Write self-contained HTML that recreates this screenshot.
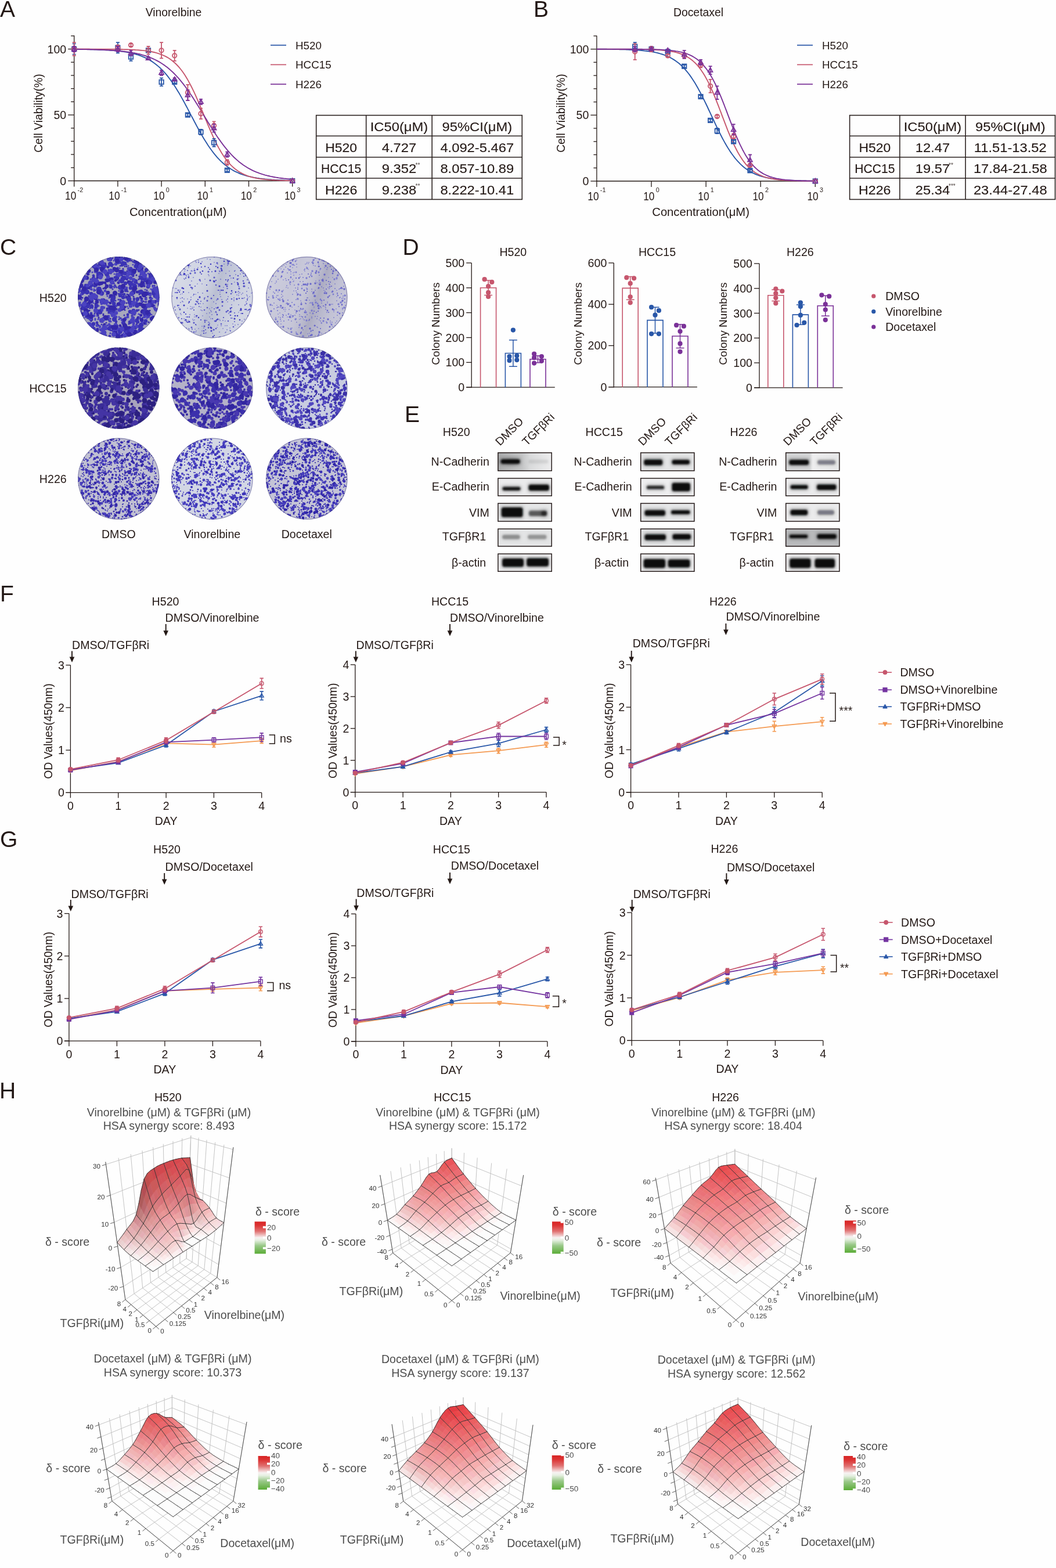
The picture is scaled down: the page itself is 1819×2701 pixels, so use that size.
<!DOCTYPE html><html><head><meta charset="utf-8"><title>Figure</title><style>html,body{margin:0;padding:0;background:#fefefe;}svg{display:block;}text{font-family:"Liberation Sans",Arial,sans-serif;}</style></head><body><svg width="1819" height="2701" viewBox="0 0 1819 2701" font-family='"Liberation Sans", Arial, sans-serif' font-size="19.6" fill="#231815"><defs><clipPath id="pc1"><circle cx="204.3" cy="512.2" r="70.2"/></clipPath><clipPath id="pc2"><circle cx="365.4" cy="512.2" r="70.2"/></clipPath><linearGradient id="ps2" x1="0" y1="0" x2="1" y2="0.35"><stop offset="0" stop-color="#ffffff" stop-opacity="0.2"/><stop offset="0.3" stop-color="#ffffff" stop-opacity="0.0"/><stop offset="0.62" stop-color="#8088a8" stop-opacity="0.3"/><stop offset="1" stop-color="#c0c4d8" stop-opacity="0.05"/></linearGradient><clipPath id="pc3"><circle cx="528.3" cy="512.2" r="70.2"/></clipPath><linearGradient id="ps3" x1="0" y1="0" x2="1" y2="0.35"><stop offset="0" stop-color="#ffffff" stop-opacity="0.2"/><stop offset="0.4" stop-color="#ffffff" stop-opacity="0.0"/><stop offset="0.72" stop-color="#7c7c98" stop-opacity="0.35"/><stop offset="1" stop-color="#c0c0d4" stop-opacity="0.1"/></linearGradient><clipPath id="pc4"><circle cx="204.3" cy="668.6" r="70.2"/></clipPath><clipPath id="pc5"><circle cx="365.4" cy="668.6" r="70.2"/></clipPath><clipPath id="pc6"><circle cx="528.3" cy="668.6" r="70.2"/></clipPath><clipPath id="pc7"><circle cx="204.3" cy="824.8" r="70.2"/></clipPath><clipPath id="pc8"><circle cx="365.4" cy="824.8" r="70.2"/></clipPath><clipPath id="pc9"><circle cx="528.3" cy="824.8" r="70.2"/></clipPath><filter id="bblur" x="-10%" y="-40%" width="120%" height="180%"><feGaussianBlur stdDeviation="1.4"/></filter><filter id="bhalo" x="-30%" y="-100%" width="160%" height="300%"><feGaussianBlur stdDeviation="2.6"/></filter><clipPath id="bc857_0"><rect x="857.2" y="779.2" width="93.7" height="32.4"/></clipPath><clipPath id="bc857_1"><rect x="857.2" y="823.2" width="93.7" height="31.6"/></clipPath><clipPath id="bc857_2"><rect x="857.2" y="866.4" width="93.7" height="32.3"/></clipPath><clipPath id="bc857_3"><rect x="857.2" y="910.4" width="93.7" height="31.3"/></clipPath><clipPath id="bc857_4"><rect x="857.2" y="953.4" width="93.7" height="31.6"/></clipPath><clipPath id="bc1103_0"><rect x="1103" y="779.2" width="93.6" height="32.4"/></clipPath><clipPath id="bc1103_1"><rect x="1103" y="823.2" width="93.6" height="31.6"/></clipPath><clipPath id="bc1103_2"><rect x="1103" y="866.4" width="93.6" height="32.3"/></clipPath><clipPath id="bc1103_3"><rect x="1103" y="910.4" width="93.6" height="31.3"/></clipPath><clipPath id="bc1103_4"><rect x="1103" y="953.4" width="93.6" height="31.6"/></clipPath><clipPath id="bc1353_0"><rect x="1353" y="779.2" width="93.6" height="32.4"/></clipPath><clipPath id="bc1353_1"><rect x="1353" y="823.2" width="93.6" height="31.6"/></clipPath><clipPath id="bc1353_2"><rect x="1353" y="866.4" width="93.6" height="32.3"/></clipPath><clipPath id="bc1353_3"><rect x="1353" y="910.4" width="93.6" height="31.3"/></clipPath><clipPath id="bc1353_4"><rect x="1353" y="953.4" width="93.6" height="31.6"/></clipPath><linearGradient id="gN520" x1="0" y1="0" x2="1" y2="0"><stop offset="0" stop-color="#a9aaab"/><stop offset="0.45" stop-color="#c4c5c6"/><stop offset="0.6" stop-color="#dadbdc"/><stop offset="1" stop-color="#eeeeef"/></linearGradient><linearGradient id="gN226" x1="0" y1="0" x2="1" y2="0"><stop offset="0" stop-color="#d5d6d7"/><stop offset="0.45" stop-color="#d5d6d7"/><stop offset="0.5" stop-color="#eeeeef"/><stop offset="1" stop-color="#e6e7e8"/></linearGradient><linearGradient id="cbg" x1="0" y1="0" x2="0" y2="1"><stop offset="0" stop-color="#d82424"/><stop offset="0.12" stop-color="#dc3434"/><stop offset="0.3" stop-color="#e07070"/><stop offset="0.5" stop-color="#f7f2f2"/><stop offset="0.58" stop-color="#e6f0e2"/><stop offset="0.75" stop-color="#99c888"/><stop offset="1" stop-color="#5aac36"/></linearGradient></defs><rect width="1819" height="2701" fill="#fefefe"/><text x="0" y="28.7" font-size="39">A</text>
<text x="919" y="29" font-size="39">B</text>
<text x="0" y="438.8" font-size="39">C</text>
<text x="693.5" y="439.2" font-size="39">D</text>
<text x="697" y="727.3" font-size="39">E</text>
<text x="0" y="1035.8" font-size="39">F</text>
<text x="0" y="1458.8" font-size="39">G</text>
<text x="-1" y="1891.8" font-size="39">H</text>
<line x1="127.7" y1="61" x2="127.7" y2="311.5" stroke="#231815" stroke-width="1.3"/>
<line x1="127" y1="311.5" x2="503.7" y2="311.5" stroke="#231815" stroke-width="1.3"/>
<line x1="117.2" y1="311.5" x2="127.7" y2="311.5" stroke="#231815" stroke-width="1.3"/>
<line x1="122.2" y1="288.8" x2="127.7" y2="288.8" stroke="#231815" stroke-width="1.3"/>
<line x1="122.2" y1="266.1" x2="127.7" y2="266.1" stroke="#231815" stroke-width="1.3"/>
<line x1="122.2" y1="243.4" x2="127.7" y2="243.4" stroke="#231815" stroke-width="1.3"/>
<line x1="122.2" y1="220.7" x2="127.7" y2="220.7" stroke="#231815" stroke-width="1.3"/>
<line x1="117.2" y1="198" x2="127.7" y2="198" stroke="#231815" stroke-width="1.3"/>
<line x1="122.2" y1="175.3" x2="127.7" y2="175.3" stroke="#231815" stroke-width="1.3"/>
<line x1="122.2" y1="152.6" x2="127.7" y2="152.6" stroke="#231815" stroke-width="1.3"/>
<line x1="122.2" y1="129.9" x2="127.7" y2="129.9" stroke="#231815" stroke-width="1.3"/>
<line x1="122.2" y1="107.2" x2="127.7" y2="107.2" stroke="#231815" stroke-width="1.3"/>
<line x1="117.2" y1="84.5" x2="127.7" y2="84.5" stroke="#231815" stroke-width="1.3"/>
<line x1="122.2" y1="61.8" x2="127.7" y2="61.8" stroke="#231815" stroke-width="1.3"/>
<text x="114.2" y="318.5" text-anchor="end">0</text>
<text x="114.2" y="205" text-anchor="end">50</text>
<text x="114.2" y="91.5" text-anchor="end">100</text>
<line x1="127.7" y1="311.5" x2="127.7" y2="321.5" stroke="#231815" stroke-width="1.3"/>
<text x="112.1" y="344" textLength="19.2" lengthAdjust="spacingAndGlyphs">10</text>
<text x="133.6" y="330.5" font-size="10.8">-2</text>
<line x1="202.9" y1="311.5" x2="202.9" y2="321.5" stroke="#231815" stroke-width="1.3"/>
<text x="187.3" y="344" textLength="19.2" lengthAdjust="spacingAndGlyphs">10</text>
<text x="208.8" y="330.5" font-size="10.8">-1</text>
<line x1="278.1" y1="311.5" x2="278.1" y2="321.5" stroke="#231815" stroke-width="1.3"/>
<text x="264.3" y="344" textLength="19.2" lengthAdjust="spacingAndGlyphs">10</text>
<text x="285.8" y="330.5" font-size="10.8">0</text>
<line x1="353.3" y1="311.5" x2="353.3" y2="321.5" stroke="#231815" stroke-width="1.3"/>
<text x="339.5" y="344" textLength="19.2" lengthAdjust="spacingAndGlyphs">10</text>
<text x="361" y="330.5" font-size="10.8">1</text>
<line x1="428.5" y1="311.5" x2="428.5" y2="321.5" stroke="#231815" stroke-width="1.3"/>
<text x="414.7" y="344" textLength="19.2" lengthAdjust="spacingAndGlyphs">10</text>
<text x="436.2" y="330.5" font-size="10.8">2</text>
<line x1="503.7" y1="311.5" x2="503.7" y2="321.5" stroke="#231815" stroke-width="1.3"/>
<text x="489.9" y="344" textLength="19.2" lengthAdjust="spacingAndGlyphs">10</text>
<text x="511.4" y="330.5" font-size="10.8">3</text>
<text x="306.7" y="371.5" font-size="20.2" text-anchor="middle">Concentration(μM)</text>
<text transform="translate(72.9,195) rotate(-90)" text-anchor="middle" font-size="19.4">Cell Viability(%)</text>
<text x="299" y="28" font-size="19.4" text-anchor="middle">Vinorelbine</text>
<path d="M127.7,84.8 L130.1,84.8 L132.4,84.8 L134.8,84.8 L137.1,84.9 L139.4,84.9 L141.8,84.9 L144.2,85 L146.5,85 L148.8,85 L151.2,85.1 L153.6,85.1 L155.9,85.2 L158.2,85.2 L160.6,85.3 L162.9,85.3 L165.3,85.4 L167.7,85.5 L170,85.6 L172.3,85.7 L174.7,85.8 L177.1,85.9 L179.4,86 L181.8,86.1 L184.1,86.2 L186.4,86.4 L188.8,86.5 L191.2,86.7 L193.5,86.9 L195.9,87 L198.2,87.3 L200.6,87.5 L202.9,87.7 L205.2,88 L207.6,88.3 L209.9,88.6 L212.3,88.9 L214.7,89.2 L217,89.6 L219.4,90 L221.7,90.5 L224.1,91 L226.4,91.5 L228.8,92 L231.1,92.6 L233.4,93.3 L235.8,94 L238.2,94.7 L240.5,95.5 L242.9,96.4 L245.2,97.3 L247.6,98.3 L249.9,99.4 L252.2,100.5 L254.6,101.7 L256.9,103 L259.3,104.4 L261.7,105.9 L264,107.5 L266.4,109.2 L268.7,111 L271.1,112.9 L273.4,114.9 L275.8,117 L278.1,119.3 L280.4,121.7 L282.8,124.2 L285.2,126.9 L287.5,129.7 L289.9,132.6 L292.2,135.7 L294.6,138.9 L296.9,142.2 L299.2,145.7 L301.6,149.3 L303.9,153 L306.3,156.9 L308.7,160.8 L311,164.9 L313.4,169.1 L315.7,173.3 L318.1,177.6 L320.4,182 L322.8,186.4 L325.1,190.9 L327.4,195.4 L329.8,199.9 L332.2,204.3 L334.5,208.8 L336.9,213.2 L339.2,217.6 L341.6,222 L343.9,226.2 L346.2,230.4 L348.6,234.5 L350.9,238.4 L353.3,242.3 L355.7,246 L358,249.7 L360.4,253.2 L362.7,256.5 L365.1,259.8 L367.4,262.9 L369.8,265.8 L372.1,268.6 L374.4,271.3 L376.8,273.9 L379.2,276.3 L381.5,278.6 L383.9,280.7 L386.2,282.8 L388.6,284.7 L390.9,286.5 L393.2,288.2 L395.6,289.8 L397.9,291.3 L400.3,292.7 L402.6,294.1 L405,295.3 L407.4,296.4 L409.7,297.5 L412.1,298.5 L414.4,299.5 L416.8,300.3 L419.1,301.1 L421.4,301.9 L423.8,302.6 L426.1,303.3 L428.5,303.9 L430.9,304.4 L433.2,304.9 L435.6,305.4 L437.9,305.9 L440.2,306.3 L442.6,306.7 L444.9,307 L447.3,307.4 L449.6,307.7 L452,308 L454.4,308.2 L456.7,308.5 L459.1,308.7 L461.4,308.9 L463.8,309.1 L466.1,309.3 L468.4,309.5 L470.8,309.6 L473.1,309.8 L475.5,309.9 L477.9,310 L480.2,310.1 L482.6,310.2 L484.9,310.3 L487.2,310.4 L489.6,310.5 L491.9,310.6 L494.3,310.6 L496.6,310.7 L499,310.8 L501.4,310.8 L503.7,310.9" stroke="#2957a8" stroke-width="1.9" fill="none"/>
<path d="M127.7,84.5 L130.1,84.5 L132.4,84.5 L134.8,84.5 L137.1,84.5 L139.4,84.5 L141.8,84.5 L144.2,84.5 L146.5,84.5 L148.8,84.5 L151.2,84.5 L153.6,84.5 L155.9,84.6 L158.2,84.6 L160.6,84.6 L162.9,84.6 L165.3,84.6 L167.7,84.6 L170,84.6 L172.3,84.6 L174.7,84.6 L177.1,84.6 L179.4,84.6 L181.8,84.7 L184.1,84.7 L186.4,84.7 L188.8,84.7 L191.2,84.7 L193.5,84.8 L195.9,84.8 L198.2,84.8 L200.6,84.9 L202.9,84.9 L205.2,84.9 L207.6,85 L209.9,85 L212.3,85.1 L214.7,85.2 L217,85.2 L219.4,85.3 L221.7,85.4 L224.1,85.5 L226.4,85.6 L228.8,85.7 L231.1,85.8 L233.4,86 L235.8,86.1 L238.2,86.3 L240.5,86.5 L242.9,86.7 L245.2,86.9 L247.6,87.1 L249.9,87.4 L252.2,87.7 L254.6,88.1 L256.9,88.4 L259.3,88.8 L261.7,89.3 L264,89.8 L266.4,90.3 L268.7,90.9 L271.1,91.6 L273.4,92.3 L275.8,93.1 L278.1,94 L280.4,95 L282.8,96 L285.2,97.2 L287.5,98.4 L289.9,99.8 L292.2,101.3 L294.6,103 L296.9,104.7 L299.2,106.7 L301.6,108.8 L303.9,111 L306.3,113.5 L308.7,116.1 L311,119 L313.4,122 L315.7,125.3 L318.1,128.8 L320.4,132.5 L322.8,136.4 L325.1,140.6 L327.4,144.9 L329.8,149.5 L332.2,154.3 L334.5,159.2 L336.9,164.3 L339.2,169.6 L341.6,175.1 L343.9,180.6 L346.2,186.2 L348.6,191.9 L350.9,197.6 L353.3,203.3 L355.7,209 L358,214.6 L360.4,220.2 L362.7,225.6 L365.1,230.9 L367.4,236.1 L369.8,241.1 L372.1,245.9 L374.4,250.5 L376.8,254.9 L379.2,259 L381.5,263 L383.9,266.7 L386.2,270.2 L388.6,273.5 L390.9,276.6 L393.2,279.5 L395.6,282.1 L397.9,284.6 L400.3,286.9 L402.6,289 L405,291 L407.4,292.8 L409.7,294.5 L412.1,296 L414.4,297.4 L416.8,298.7 L419.1,299.8 L421.4,300.9 L423.8,301.9 L426.1,302.8 L428.5,303.6 L430.9,304.3 L433.2,305 L435.6,305.6 L437.9,306.1 L440.2,306.6 L442.6,307.1 L444.9,307.5 L447.3,307.9 L449.6,308.2 L452,308.5 L454.4,308.8 L456.7,309.1 L459.1,309.3 L461.4,309.5 L463.8,309.7 L466.1,309.9 L468.4,310 L470.8,310.2 L473.1,310.3 L475.5,310.4 L477.9,310.5 L480.2,310.6 L482.6,310.7 L484.9,310.8 L487.2,310.8 L489.6,310.9 L491.9,311 L494.3,311 L496.6,311.1 L499,311.1 L501.4,311.1 L503.7,311.2" stroke="#c6566d" stroke-width="1.9" fill="none"/>
<path d="M127.7,84.8 L130.1,84.9 L132.4,84.9 L134.8,84.9 L137.1,85 L139.4,85 L141.8,85 L144.2,85.1 L146.5,85.1 L148.8,85.1 L151.2,85.2 L153.6,85.2 L155.9,85.3 L158.2,85.3 L160.6,85.4 L162.9,85.5 L165.3,85.5 L167.7,85.6 L170,85.7 L172.3,85.8 L174.7,85.8 L177.1,85.9 L179.4,86 L181.8,86.2 L184.1,86.3 L186.4,86.4 L188.8,86.5 L191.2,86.7 L193.5,86.8 L195.9,87 L198.2,87.2 L200.6,87.3 L202.9,87.5 L205.2,87.8 L207.6,88 L209.9,88.2 L212.3,88.5 L214.7,88.8 L217,89.1 L219.4,89.4 L221.7,89.7 L224.1,90.1 L226.4,90.4 L228.8,90.9 L231.1,91.3 L233.4,91.8 L235.8,92.2 L238.2,92.8 L240.5,93.3 L242.9,93.9 L245.2,94.6 L247.6,95.3 L249.9,96 L252.2,96.7 L254.6,97.6 L256.9,98.4 L259.3,99.4 L261.7,100.3 L264,101.4 L266.4,102.5 L268.7,103.6 L271.1,104.9 L273.4,106.2 L275.8,107.5 L278.1,109 L280.4,110.5 L282.8,112.1 L285.2,113.9 L287.5,115.6 L289.9,117.5 L292.2,119.5 L294.6,121.6 L296.9,123.7 L299.2,126 L301.6,128.4 L303.9,130.9 L306.3,133.4 L308.7,136.1 L311,138.9 L313.4,141.8 L315.7,144.7 L318.1,147.8 L320.4,151 L322.8,154.2 L325.1,157.6 L327.4,161 L329.8,164.5 L332.2,168.1 L334.5,171.7 L336.9,175.4 L339.2,179.2 L341.6,183 L343.9,186.8 L346.2,190.6 L348.6,194.5 L350.9,198.4 L353.3,202.3 L355.7,206.1 L358,210 L360.4,213.8 L362.7,217.6 L365.1,221.3 L367.4,225 L369.8,228.6 L372.1,232.2 L374.4,235.7 L376.8,239.1 L379.2,242.4 L381.5,245.7 L383.9,248.8 L386.2,251.9 L388.6,254.8 L390.9,257.7 L393.2,260.4 L395.6,263.1 L397.9,265.7 L400.3,268.1 L402.6,270.5 L405,272.7 L407.4,274.9 L409.7,276.9 L412.1,278.9 L414.4,280.7 L416.8,282.5 L419.1,284.2 L421.4,285.8 L423.8,287.3 L426.1,288.7 L428.5,290.1 L430.9,291.4 L433.2,292.6 L435.6,293.8 L437.9,294.8 L440.2,295.9 L442.6,296.8 L444.9,297.7 L447.3,298.6 L449.6,299.4 L452,300.2 L454.4,300.9 L456.7,301.6 L459.1,302.2 L461.4,302.8 L463.8,303.3 L466.1,303.9 L468.4,304.3 L470.8,304.8 L473.1,305.2 L475.5,305.6 L477.9,306 L480.2,306.4 L482.6,306.7 L484.9,307 L487.2,307.3 L489.6,307.6 L491.9,307.8 L494.3,308.1 L496.6,308.3 L499,308.5 L501.4,308.7 L503.7,308.9" stroke="#7a3198" stroke-width="1.9" fill="none"/>
<path d="M127.7,75.4 V93.6 M124.7,75.4 h6 M124.7,93.6 h6" stroke="#2957a8" stroke-width="1.8" fill="none"/>
<rect x="124" y="80.8" width="7.4" height="7.4" fill="none" stroke="#2957a8" stroke-width="1.8"/>
<path d="M202.9,73.1 V91.3 M199.9,73.1 h6 M199.9,91.3 h6" stroke="#2957a8" stroke-width="1.8" fill="none"/>
<rect x="199.2" y="78.5" width="7.4" height="7.4" fill="none" stroke="#2957a8" stroke-width="1.8"/>
<path d="M225.5,91.3 V104.9 M222.5,91.3 h6 M222.5,104.9 h6" stroke="#2957a8" stroke-width="1.8" fill="none"/>
<rect x="221.8" y="94.4" width="7.4" height="7.4" fill="none" stroke="#2957a8" stroke-width="1.8"/>
<path d="M255.5,84.5 V89 M252.5,84.5 h6 M252.5,89 h6" stroke="#2957a8" stroke-width="1.8" fill="none"/>
<rect x="251.8" y="83.1" width="7.4" height="7.4" fill="none" stroke="#2957a8" stroke-width="1.8"/>
<path d="M278.1,134.4 V148.1 M275.1,134.4 h6 M275.1,148.1 h6" stroke="#2957a8" stroke-width="1.8" fill="none"/>
<rect x="274.4" y="137.6" width="7.4" height="7.4" fill="none" stroke="#2957a8" stroke-width="1.8"/>
<path d="M300.7,139 V143.5 M297.7,139 h6 M297.7,143.5 h6" stroke="#2957a8" stroke-width="1.8" fill="none"/>
<rect x="297" y="137.6" width="7.4" height="7.4" fill="none" stroke="#2957a8" stroke-width="1.8"/>
<path d="M323.4,195.7 V200.3 M320.4,195.7 h6 M320.4,200.3 h6" stroke="#2957a8" stroke-width="1.8" fill="none"/>
<rect x="319.7" y="194.3" width="7.4" height="7.4" fill="none" stroke="#2957a8" stroke-width="1.8"/>
<path d="M346,223 V232 M343,223 h6 M343,232 h6" stroke="#2957a8" stroke-width="1.8" fill="none"/>
<rect x="342.3" y="223.8" width="7.4" height="7.4" fill="none" stroke="#2957a8" stroke-width="1.8"/>
<path d="M368.6,238.9 V252.5 M365.6,238.9 h6 M365.6,252.5 h6" stroke="#2957a8" stroke-width="1.8" fill="none"/>
<rect x="364.9" y="242" width="7.4" height="7.4" fill="none" stroke="#2957a8" stroke-width="1.8"/>
<path d="M391.3,291.1 V295.6 M388.3,291.1 h6 M388.3,295.6 h6" stroke="#2957a8" stroke-width="1.8" fill="none"/>
<rect x="387.6" y="289.6" width="7.4" height="7.4" fill="none" stroke="#2957a8" stroke-width="1.8"/>
<rect x="500" y="307.8" width="7.4" height="7.4" fill="none" stroke="#2957a8" stroke-width="1.8"/>
<path d="M127.7,73.2 V95.8 M124.7,73.2 h6 M124.7,95.8 h6" stroke="#c6566d" stroke-width="1.8" fill="none"/>
<circle cx="127.7" cy="84.5" r="3.7" fill="none" stroke="#c6566d" stroke-width="1.8"/>
<path d="M202.9,77.7 V86.8 M199.9,77.7 h6 M199.9,86.8 h6" stroke="#c6566d" stroke-width="1.8" fill="none"/>
<circle cx="202.9" cy="82.2" r="3.7" fill="none" stroke="#c6566d" stroke-width="1.8"/>
<path d="M225.5,75.4 V80 M222.5,75.4 h6 M222.5,80 h6" stroke="#c6566d" stroke-width="1.8" fill="none"/>
<circle cx="225.5" cy="77.7" r="3.7" fill="none" stroke="#c6566d" stroke-width="1.8"/>
<path d="M255.5,80 V93.6 M252.5,80 h6 M252.5,93.6 h6" stroke="#c6566d" stroke-width="1.8" fill="none"/>
<circle cx="255.5" cy="86.8" r="3.7" fill="none" stroke="#c6566d" stroke-width="1.8"/>
<path d="M278.1,73.2 V100.4 M275.1,73.2 h6 M275.1,100.4 h6" stroke="#c6566d" stroke-width="1.8" fill="none"/>
<circle cx="278.1" cy="86.8" r="3.7" fill="none" stroke="#c6566d" stroke-width="1.8"/>
<path d="M300.7,86.8 V104.9 M297.7,86.8 h6 M297.7,104.9 h6" stroke="#c6566d" stroke-width="1.8" fill="none"/>
<circle cx="300.7" cy="95.8" r="3.7" fill="none" stroke="#c6566d" stroke-width="1.8"/>
<path d="M323.4,145.8 V173 M320.4,145.8 h6 M320.4,173 h6" stroke="#c6566d" stroke-width="1.8" fill="none"/>
<circle cx="323.4" cy="159.4" r="3.7" fill="none" stroke="#c6566d" stroke-width="1.8"/>
<path d="M346,186.7 V204.8 M343,186.7 h6 M343,204.8 h6" stroke="#c6566d" stroke-width="1.8" fill="none"/>
<circle cx="346" cy="195.7" r="3.7" fill="none" stroke="#c6566d" stroke-width="1.8"/>
<path d="M368.6,209.3 V223 M365.6,209.3 h6 M365.6,223 h6" stroke="#c6566d" stroke-width="1.8" fill="none"/>
<circle cx="368.6" cy="216.2" r="3.7" fill="none" stroke="#c6566d" stroke-width="1.8"/>
<path d="M391.3,275.2 V284.3 M388.3,275.2 h6 M388.3,284.3 h6" stroke="#c6566d" stroke-width="1.8" fill="none"/>
<circle cx="391.3" cy="279.7" r="3.7" fill="none" stroke="#c6566d" stroke-width="1.8"/>
<circle cx="503.7" cy="311.5" r="3.7" fill="none" stroke="#c6566d" stroke-width="1.8"/>
<path d="M127.7,80 V89 M124.7,80 h6 M124.7,89 h6" stroke="#7a3198" stroke-width="1.8" fill="none"/>
<path d="M127.7,80.2 L131.6,87.3 L123.8,87.3Z" fill="none" stroke="#7a3198" stroke-width="1.8"/>
<path d="M202.9,80 V89 M199.9,80 h6 M199.9,89 h6" stroke="#7a3198" stroke-width="1.8" fill="none"/>
<path d="M202.9,80.2 L206.8,87.3 L199,87.3Z" fill="none" stroke="#7a3198" stroke-width="1.8"/>
<path d="M225.5,86.8 V95.9 M222.5,86.8 h6 M222.5,95.9 h6" stroke="#7a3198" stroke-width="1.8" fill="none"/>
<path d="M225.5,87.1 L229.4,94.1 L221.7,94.1Z" fill="none" stroke="#7a3198" stroke-width="1.8"/>
<path d="M255.5,98.1 V102.7 M252.5,98.1 h6 M252.5,102.7 h6" stroke="#7a3198" stroke-width="1.8" fill="none"/>
<path d="M255.5,96.1 L259.3,103.2 L251.6,103.2Z" fill="none" stroke="#7a3198" stroke-width="1.8"/>
<path d="M278.1,120.8 V129.9 M275.1,120.8 h6 M275.1,129.9 h6" stroke="#7a3198" stroke-width="1.8" fill="none"/>
<path d="M278.1,121.1 L282,128.1 L274.2,128.1Z" fill="none" stroke="#7a3198" stroke-width="1.8"/>
<path d="M300.7,134.4 V139 M297.7,134.4 h6 M297.7,139 h6" stroke="#7a3198" stroke-width="1.8" fill="none"/>
<path d="M300.7,132.5 L304.6,139.5 L296.9,139.5Z" fill="none" stroke="#7a3198" stroke-width="1.8"/>
<path d="M323.4,154.9 V173 M320.4,154.9 h6 M320.4,173 h6" stroke="#7a3198" stroke-width="1.8" fill="none"/>
<path d="M323.4,159.7 L327.3,166.7 L319.5,166.7Z" fill="none" stroke="#7a3198" stroke-width="1.8"/>
<path d="M346,170.8 V179.8 M343,170.8 h6 M343,179.8 h6" stroke="#7a3198" stroke-width="1.8" fill="none"/>
<path d="M346,171 L349.9,178.1 L342.1,178.1Z" fill="none" stroke="#7a3198" stroke-width="1.8"/>
<path d="M368.6,213.9 V227.5 M365.6,213.9 h6 M365.6,227.5 h6" stroke="#7a3198" stroke-width="1.8" fill="none"/>
<path d="M368.6,216.4 L372.5,223.5 L364.8,223.5Z" fill="none" stroke="#7a3198" stroke-width="1.8"/>
<path d="M391.3,261.6 V270.6 M388.3,261.6 h6 M388.3,270.6 h6" stroke="#7a3198" stroke-width="1.8" fill="none"/>
<path d="M391.3,261.8 L395.2,268.9 L387.4,268.9Z" fill="none" stroke="#7a3198" stroke-width="1.8"/>
<path d="M503.7,307.2 L507.6,314.3 L499.8,314.3Z" fill="none" stroke="#7a3198" stroke-width="1.8"/>
<line x1="466" y1="77.8" x2="493" y2="77.8" stroke="#2957a8" stroke-width="1.7"/>
<text x="509" y="84.8" font-size="18.8">H520</text>
<line x1="466" y1="111.4" x2="493" y2="111.4" stroke="#c6566d" stroke-width="1.7"/>
<text x="509" y="118.4" font-size="18.8">HCC15</text>
<line x1="466" y1="145" x2="493" y2="145" stroke="#7a3198" stroke-width="1.7"/>
<text x="509" y="152" font-size="18.8">H226</text>
<rect x="544.7" y="198.6" width="354.6" height="144.9" fill="none" stroke="#2b2220" stroke-width="1.6"/>
<line x1="544.7" y1="234.3" x2="899.3" y2="234.3" stroke="#2b2220" stroke-width="1.6"/>
<line x1="544.7" y1="270.8" x2="899.3" y2="270.8" stroke="#2b2220" stroke-width="1.6"/>
<line x1="544.7" y1="307" x2="899.3" y2="307" stroke="#2b2220" stroke-width="1.6"/>
<line x1="630.7" y1="198.6" x2="630.7" y2="343.5" stroke="#2b2220" stroke-width="1.6"/>
<line x1="744.2" y1="198.6" x2="744.2" y2="343.5" stroke="#2b2220" stroke-width="1.6"/>
<text x="687.5" y="225.9" font-size="22.2" text-anchor="middle" stroke="#231815" stroke-width="0.12" transform="translate(687.5,0) scale(1.07,1) translate(-687.5,0)">IC50(μM)</text>
<text x="821.8" y="225.9" font-size="22.2" text-anchor="middle" stroke="#231815" stroke-width="0.12" transform="translate(821.8,0) scale(1.07,1) translate(-821.8,0)">95%CI(μM)</text>
<text x="587.7" y="262.1" font-size="22.2" text-anchor="middle" stroke="#231815" stroke-width="0.12" textLength="54.8" lengthAdjust="spacingAndGlyphs">H520</text>
<text x="687.5" y="262.1" font-size="22.2" text-anchor="middle" stroke="#231815" stroke-width="0.12" transform="translate(687.5,0) scale(1.07,1) translate(-687.5,0)">4.727</text>
<text x="821.8" y="262.1" font-size="22.2" text-anchor="middle" stroke="#231815" stroke-width="0.12" transform="translate(821.8,0) scale(1.07,1) translate(-821.8,0)">4.092-5.467</text>
<text x="587.7" y="298.4" font-size="22.2" text-anchor="middle" stroke="#231815" stroke-width="0.12" textLength="69.2" lengthAdjust="spacingAndGlyphs">HCC15</text>
<text x="687.5" y="298.4" font-size="22.2" text-anchor="middle" stroke="#231815" stroke-width="0.12" transform="translate(687.5,0) scale(1.07,1) translate(-687.5,0)">9.352</text>
<text x="821.8" y="298.4" font-size="22.2" text-anchor="middle" stroke="#231815" stroke-width="0.12" transform="translate(821.8,0) scale(1.07,1) translate(-821.8,0)">8.057-10.89</text>
<text x="587.7" y="334.8" font-size="22.2" text-anchor="middle" stroke="#231815" stroke-width="0.12" textLength="55.4" lengthAdjust="spacingAndGlyphs">H226</text>
<text x="687.5" y="334.8" font-size="22.2" text-anchor="middle" stroke="#231815" stroke-width="0.12" transform="translate(687.5,0) scale(1.07,1) translate(-687.5,0)">9.238</text>
<text x="821.8" y="334.8" font-size="22.2" text-anchor="middle" stroke="#231815" stroke-width="0.12" transform="translate(821.8,0) scale(1.07,1) translate(-821.8,0)">8.222-10.41</text>
<text x="715.5" y="287.9" font-size="10" fill="#4a3f3c">**</text>
<text x="715.5" y="324.2" font-size="10" fill="#4a3f3c">**</text>
<line x1="1027.9" y1="61.4" x2="1027.9" y2="312" stroke="#231815" stroke-width="1.3"/>
<line x1="1027.2" y1="312" x2="1404.3" y2="312" stroke="#231815" stroke-width="1.3"/>
<line x1="1017.4" y1="312" x2="1027.9" y2="312" stroke="#231815" stroke-width="1.3"/>
<line x1="1022.4" y1="289.3" x2="1027.9" y2="289.3" stroke="#231815" stroke-width="1.3"/>
<line x1="1022.4" y1="266.5" x2="1027.9" y2="266.5" stroke="#231815" stroke-width="1.3"/>
<line x1="1022.4" y1="243.8" x2="1027.9" y2="243.8" stroke="#231815" stroke-width="1.3"/>
<line x1="1022.4" y1="221" x2="1027.9" y2="221" stroke="#231815" stroke-width="1.3"/>
<line x1="1017.4" y1="198.3" x2="1027.9" y2="198.3" stroke="#231815" stroke-width="1.3"/>
<line x1="1022.4" y1="175.6" x2="1027.9" y2="175.6" stroke="#231815" stroke-width="1.3"/>
<line x1="1022.4" y1="152.8" x2="1027.9" y2="152.8" stroke="#231815" stroke-width="1.3"/>
<line x1="1022.4" y1="130.1" x2="1027.9" y2="130.1" stroke="#231815" stroke-width="1.3"/>
<line x1="1022.4" y1="107.3" x2="1027.9" y2="107.3" stroke="#231815" stroke-width="1.3"/>
<line x1="1017.4" y1="84.6" x2="1027.9" y2="84.6" stroke="#231815" stroke-width="1.3"/>
<line x1="1022.4" y1="61.9" x2="1027.9" y2="61.9" stroke="#231815" stroke-width="1.3"/>
<text x="1014.4" y="319" text-anchor="end">0</text>
<text x="1014.4" y="205.3" text-anchor="end">50</text>
<text x="1014.4" y="91.6" text-anchor="end">100</text>
<line x1="1027.9" y1="312" x2="1027.9" y2="322" stroke="#231815" stroke-width="1.3"/>
<text x="1012.3" y="344.5" textLength="19.2" lengthAdjust="spacingAndGlyphs">10</text>
<text x="1033.8" y="331" font-size="10.8">-1</text>
<line x1="1122" y1="312" x2="1122" y2="322" stroke="#231815" stroke-width="1.3"/>
<text x="1108.2" y="344.5" textLength="19.2" lengthAdjust="spacingAndGlyphs">10</text>
<text x="1129.7" y="331" font-size="10.8">0</text>
<line x1="1216.1" y1="312" x2="1216.1" y2="322" stroke="#231815" stroke-width="1.3"/>
<text x="1202.3" y="344.5" textLength="19.2" lengthAdjust="spacingAndGlyphs">10</text>
<text x="1223.8" y="331" font-size="10.8">1</text>
<line x1="1310.2" y1="312" x2="1310.2" y2="322" stroke="#231815" stroke-width="1.3"/>
<text x="1296.4" y="344.5" textLength="19.2" lengthAdjust="spacingAndGlyphs">10</text>
<text x="1317.9" y="331" font-size="10.8">2</text>
<line x1="1404.3" y1="312" x2="1404.3" y2="322" stroke="#231815" stroke-width="1.3"/>
<text x="1390.5" y="344.5" textLength="19.2" lengthAdjust="spacingAndGlyphs">10</text>
<text x="1412" y="331" font-size="10.8">3</text>
<text x="1207.1" y="372" font-size="20.2" text-anchor="middle">Concentration(μM)</text>
<text transform="translate(972.9,195) rotate(-90)" text-anchor="middle" font-size="19.4">Cell Viability(%)</text>
<text x="1203" y="28" font-size="19.4" text-anchor="middle">Docetaxel</text>
<path d="M1027.9,84.7 L1030.3,84.7 L1032.6,84.8 L1035,84.8 L1037.3,84.8 L1039.7,84.8 L1042,84.8 L1044.4,84.8 L1046.7,84.9 L1049.1,84.9 L1051.4,84.9 L1053.8,84.9 L1056.1,85 L1058.5,85 L1060.8,85 L1063.2,85.1 L1065.5,85.1 L1067.9,85.2 L1070.2,85.2 L1072.6,85.3 L1075,85.4 L1077.3,85.4 L1079.7,85.5 L1082,85.6 L1084.4,85.7 L1086.7,85.8 L1089.1,85.9 L1091.4,86 L1093.8,86.1 L1096.1,86.3 L1098.5,86.4 L1100.8,86.6 L1103.2,86.8 L1105.5,87 L1107.9,87.2 L1110.2,87.5 L1112.6,87.7 L1114.9,88 L1117.3,88.3 L1119.6,88.7 L1122,89.1 L1124.4,89.5 L1126.7,89.9 L1129.1,90.4 L1131.4,90.9 L1133.8,91.5 L1136.1,92.1 L1138.5,92.8 L1140.8,93.5 L1143.2,94.3 L1145.5,95.2 L1147.9,96.1 L1150.2,97.1 L1152.6,98.2 L1154.9,99.4 L1157.3,100.7 L1159.6,102.1 L1162,103.6 L1164.3,105.2 L1166.7,107 L1169.1,108.8 L1171.4,110.8 L1173.8,113 L1176.1,115.3 L1178.5,117.7 L1180.8,120.3 L1183.2,123.1 L1185.5,126 L1187.9,129.1 L1190.2,132.4 L1192.6,135.9 L1194.9,139.5 L1197.3,143.3 L1199.6,147.3 L1202,151.4 L1204.3,155.7 L1206.7,160.1 L1209,164.7 L1211.4,169.4 L1213.7,174.1 L1216.1,179 L1218.5,184 L1220.8,189 L1223.2,194.1 L1225.5,199.1 L1227.9,204.2 L1230.2,209.2 L1232.6,214.3 L1234.9,219.2 L1237.3,224 L1239.6,228.8 L1242,233.5 L1244.3,238 L1246.7,242.4 L1249,246.6 L1251.4,250.7 L1253.7,254.6 L1256.1,258.3 L1258.4,261.9 L1260.8,265.3 L1263.2,268.5 L1265.5,271.6 L1267.9,274.5 L1270.2,277.2 L1272.6,279.7 L1274.9,282.1 L1277.3,284.4 L1279.6,286.5 L1282,288.4 L1284.3,290.2 L1286.7,291.9 L1289,293.5 L1291.4,295 L1293.7,296.3 L1296.1,297.6 L1298.4,298.7 L1300.8,299.8 L1303.1,300.8 L1305.5,301.7 L1307.8,302.5 L1310.2,303.3 L1312.6,304 L1314.9,304.7 L1317.3,305.3 L1319.6,305.9 L1322,306.4 L1324.3,306.8 L1326.7,307.3 L1329,307.7 L1331.4,308 L1333.7,308.4 L1336.1,308.7 L1338.4,308.9 L1340.8,309.2 L1343.1,309.4 L1345.5,309.7 L1347.8,309.9 L1350.2,310 L1352.5,310.2 L1354.9,310.4 L1357.2,310.5 L1359.6,310.6 L1362,310.7 L1364.3,310.8 L1366.7,310.9 L1369,311 L1371.4,311.1 L1373.7,311.2 L1376.1,311.3 L1378.4,311.3 L1380.8,311.4 L1383.1,311.4 L1385.5,311.5 L1387.8,311.5 L1390.2,311.6 L1392.5,311.6 L1394.9,311.6 L1397.2,311.7 L1399.6,311.7 L1401.9,311.7 L1404.3,311.7" stroke="#2957a8" stroke-width="1.9" fill="none"/>
<path d="M1027.9,84.6 L1030.3,84.6 L1032.6,84.6 L1035,84.6 L1037.3,84.6 L1039.7,84.6 L1042,84.6 L1044.4,84.6 L1046.7,84.6 L1049.1,84.6 L1051.4,84.6 L1053.8,84.6 L1056.1,84.6 L1058.5,84.6 L1060.8,84.6 L1063.2,84.7 L1065.5,84.7 L1067.9,84.7 L1070.2,84.7 L1072.6,84.7 L1075,84.7 L1077.3,84.7 L1079.7,84.7 L1082,84.7 L1084.4,84.7 L1086.7,84.8 L1089.1,84.8 L1091.4,84.8 L1093.8,84.8 L1096.1,84.8 L1098.5,84.9 L1100.8,84.9 L1103.2,84.9 L1105.5,85 L1107.9,85 L1110.2,85.1 L1112.6,85.1 L1114.9,85.2 L1117.3,85.2 L1119.6,85.3 L1122,85.4 L1124.4,85.5 L1126.7,85.6 L1129.1,85.7 L1131.4,85.8 L1133.8,86 L1136.1,86.1 L1138.5,86.3 L1140.8,86.5 L1143.2,86.7 L1145.5,87 L1147.9,87.2 L1150.2,87.5 L1152.6,87.9 L1154.9,88.2 L1157.3,88.7 L1159.6,89.1 L1162,89.6 L1164.3,90.2 L1166.7,90.8 L1169.1,91.5 L1171.4,92.3 L1173.8,93.1 L1176.1,94.1 L1178.5,95.1 L1180.8,96.3 L1183.2,97.6 L1185.5,99 L1187.9,100.5 L1190.2,102.2 L1192.6,104.1 L1194.9,106.1 L1197.3,108.3 L1199.6,110.7 L1202,113.4 L1204.3,116.2 L1206.7,119.3 L1209,122.7 L1211.4,126.3 L1213.7,130.1 L1216.1,134.2 L1218.5,138.6 L1220.8,143.2 L1223.2,148.1 L1225.5,153.3 L1227.9,158.6 L1230.2,164.2 L1232.6,169.9 L1234.9,175.8 L1237.3,181.9 L1239.6,188 L1242,194.2 L1244.3,200.4 L1246.7,206.6 L1249,212.7 L1251.4,218.8 L1253.7,224.8 L1256.1,230.6 L1258.4,236.2 L1260.8,241.6 L1263.2,246.8 L1265.5,251.8 L1267.9,256.5 L1270.2,261 L1272.6,265.2 L1274.9,269.1 L1277.3,272.8 L1279.6,276.2 L1282,279.4 L1284.3,282.3 L1286.7,285 L1289,287.5 L1291.4,289.8 L1293.7,291.9 L1296.1,293.8 L1298.4,295.6 L1300.8,297.2 L1303.1,298.6 L1305.5,299.9 L1307.8,301.1 L1310.2,302.2 L1312.6,303.2 L1314.9,304.1 L1317.3,304.8 L1319.6,305.6 L1322,306.2 L1324.3,306.8 L1326.7,307.3 L1329,307.8 L1331.4,308.2 L1333.7,308.6 L1336.1,309 L1338.4,309.3 L1340.8,309.6 L1343.1,309.8 L1345.5,310 L1347.8,310.2 L1350.2,310.4 L1352.5,310.6 L1354.9,310.7 L1357.2,310.9 L1359.6,311 L1362,311.1 L1364.3,311.2 L1366.7,311.3 L1369,311.3 L1371.4,311.4 L1373.7,311.5 L1376.1,311.5 L1378.4,311.6 L1380.8,311.6 L1383.1,311.7 L1385.5,311.7 L1387.8,311.7 L1390.2,311.8 L1392.5,311.8 L1394.9,311.8 L1397.2,311.8 L1399.6,311.8 L1401.9,311.9 L1404.3,311.9" stroke="#c6566d" stroke-width="1.9" fill="none"/>
<path d="M1027.9,84.6 L1030.3,84.6 L1032.6,84.6 L1035,84.6 L1037.3,84.6 L1039.7,84.6 L1042,84.6 L1044.4,84.6 L1046.7,84.6 L1049.1,84.6 L1051.4,84.6 L1053.8,84.6 L1056.1,84.6 L1058.5,84.6 L1060.8,84.6 L1063.2,84.6 L1065.5,84.6 L1067.9,84.6 L1070.2,84.6 L1072.6,84.6 L1075,84.7 L1077.3,84.7 L1079.7,84.7 L1082,84.7 L1084.4,84.7 L1086.7,84.7 L1089.1,84.7 L1091.4,84.7 L1093.8,84.7 L1096.1,84.7 L1098.5,84.8 L1100.8,84.8 L1103.2,84.8 L1105.5,84.8 L1107.9,84.9 L1110.2,84.9 L1112.6,84.9 L1114.9,85 L1117.3,85 L1119.6,85 L1122,85.1 L1124.4,85.1 L1126.7,85.2 L1129.1,85.3 L1131.4,85.4 L1133.8,85.4 L1136.1,85.5 L1138.5,85.6 L1140.8,85.8 L1143.2,85.9 L1145.5,86.1 L1147.9,86.2 L1150.2,86.4 L1152.6,86.6 L1154.9,86.8 L1157.3,87.1 L1159.6,87.4 L1162,87.7 L1164.3,88.1 L1166.7,88.4 L1169.1,88.9 L1171.4,89.4 L1173.8,89.9 L1176.1,90.5 L1178.5,91.2 L1180.8,91.9 L1183.2,92.7 L1185.5,93.6 L1187.9,94.6 L1190.2,95.7 L1192.6,96.9 L1194.9,98.3 L1197.3,99.7 L1199.6,101.3 L1202,103.1 L1204.3,105.1 L1206.7,107.2 L1209,109.5 L1211.4,112.1 L1213.7,114.8 L1216.1,117.8 L1218.5,121 L1220.8,124.5 L1223.2,128.2 L1225.5,132.2 L1227.9,136.4 L1230.2,140.9 L1232.6,145.7 L1234.9,150.7 L1237.3,156 L1239.6,161.4 L1242,167.1 L1244.3,172.9 L1246.7,178.9 L1249,185 L1251.4,191.1 L1253.7,197.4 L1256.1,203.6 L1258.4,209.7 L1260.8,215.9 L1263.2,221.9 L1265.5,227.8 L1267.9,233.5 L1270.2,239 L1272.6,244.3 L1274.9,249.4 L1277.3,254.2 L1279.6,258.8 L1282,263.1 L1284.3,267.2 L1286.7,271 L1289,274.6 L1291.4,277.9 L1293.7,280.9 L1296.1,283.7 L1298.4,286.3 L1300.8,288.7 L1303.1,290.9 L1305.5,292.9 L1307.8,294.7 L1310.2,296.4 L1312.6,297.9 L1314.9,299.3 L1317.3,300.5 L1319.6,301.7 L1322,302.7 L1324.3,303.6 L1326.7,304.5 L1329,305.2 L1331.4,305.9 L1333.7,306.5 L1336.1,307.1 L1338.4,307.6 L1340.8,308 L1343.1,308.4 L1345.5,308.8 L1347.8,309.1 L1350.2,309.4 L1352.5,309.7 L1354.9,309.9 L1357.2,310.1 L1359.6,310.3 L1362,310.5 L1364.3,310.7 L1366.7,310.8 L1369,310.9 L1371.4,311 L1373.7,311.1 L1376.1,311.2 L1378.4,311.3 L1380.8,311.4 L1383.1,311.4 L1385.5,311.5 L1387.8,311.5 L1390.2,311.6 L1392.5,311.6 L1394.9,311.7 L1397.2,311.7 L1399.6,311.7 L1401.9,311.8 L1404.3,311.8" stroke="#7a3198" stroke-width="1.9" fill="none"/>
<path d="M1093.7,73.2 V86.9 M1090.7,73.2 h6 M1090.7,86.9 h6" stroke="#2957a8" stroke-width="1.8" fill="none"/>
<rect x="1090" y="76.4" width="7.4" height="7.4" fill="none" stroke="#2957a8" stroke-width="1.8"/>
<path d="M1122,80.1 V89.1 M1119,80.1 h6 M1119,89.1 h6" stroke="#2957a8" stroke-width="1.8" fill="none"/>
<rect x="1118.3" y="80.9" width="7.4" height="7.4" fill="none" stroke="#2957a8" stroke-width="1.8"/>
<path d="M1150.3,86.9 V91.4 M1147.3,86.9 h6 M1147.3,91.4 h6" stroke="#2957a8" stroke-width="1.8" fill="none"/>
<rect x="1146.6" y="85.4" width="7.4" height="7.4" fill="none" stroke="#2957a8" stroke-width="1.8"/>
<path d="M1178.7,111.9 V116.4 M1175.7,111.9 h6 M1175.7,116.4 h6" stroke="#2957a8" stroke-width="1.8" fill="none"/>
<rect x="1175" y="110.5" width="7.4" height="7.4" fill="none" stroke="#2957a8" stroke-width="1.8"/>
<path d="M1207,164.2 V168.7 M1204,164.2 h6 M1204,168.7 h6" stroke="#2957a8" stroke-width="1.8" fill="none"/>
<rect x="1203.3" y="162.8" width="7.4" height="7.4" fill="none" stroke="#2957a8" stroke-width="1.8"/>
<path d="M1223.6,205.1 V209.7 M1220.6,205.1 h6 M1220.6,209.7 h6" stroke="#2957a8" stroke-width="1.8" fill="none"/>
<rect x="1219.9" y="203.7" width="7.4" height="7.4" fill="none" stroke="#2957a8" stroke-width="1.8"/>
<path d="M1235.3,221 V230.1 M1232.3,221 h6 M1232.3,230.1 h6" stroke="#2957a8" stroke-width="1.8" fill="none"/>
<rect x="1231.6" y="221.9" width="7.4" height="7.4" fill="none" stroke="#2957a8" stroke-width="1.8"/>
<path d="M1263.6,241.5 V246.1 M1260.6,241.5 h6 M1260.6,246.1 h6" stroke="#2957a8" stroke-width="1.8" fill="none"/>
<rect x="1259.9" y="240.1" width="7.4" height="7.4" fill="none" stroke="#2957a8" stroke-width="1.8"/>
<path d="M1292,291.5 V296.1 M1289,291.5 h6 M1289,296.1 h6" stroke="#2957a8" stroke-width="1.8" fill="none"/>
<rect x="1288.3" y="290.1" width="7.4" height="7.4" fill="none" stroke="#2957a8" stroke-width="1.8"/>
<rect x="1400.6" y="308.3" width="7.4" height="7.4" fill="none" stroke="#2957a8" stroke-width="1.8"/>
<path d="M1093.7,75.5 V102.8 M1090.7,75.5 h6 M1090.7,102.8 h6" stroke="#c6566d" stroke-width="1.8" fill="none"/>
<circle cx="1093.7" cy="89.1" r="3.7" fill="none" stroke="#c6566d" stroke-width="1.8"/>
<path d="M1122,80.1 V89.1 M1119,80.1 h6 M1119,89.1 h6" stroke="#c6566d" stroke-width="1.8" fill="none"/>
<circle cx="1122" cy="84.6" r="3.7" fill="none" stroke="#c6566d" stroke-width="1.8"/>
<path d="M1150.3,93.7 V98.2 M1147.3,93.7 h6 M1147.3,98.2 h6" stroke="#c6566d" stroke-width="1.8" fill="none"/>
<circle cx="1150.3" cy="96" r="3.7" fill="none" stroke="#c6566d" stroke-width="1.8"/>
<path d="M1178.7,91.4 V100.5 M1175.7,91.4 h6 M1175.7,100.5 h6" stroke="#c6566d" stroke-width="1.8" fill="none"/>
<circle cx="1178.7" cy="96" r="3.7" fill="none" stroke="#c6566d" stroke-width="1.8"/>
<path d="M1207,107.3 V116.4 M1204,107.3 h6 M1204,116.4 h6" stroke="#c6566d" stroke-width="1.8" fill="none"/>
<circle cx="1207" cy="111.9" r="3.7" fill="none" stroke="#c6566d" stroke-width="1.8"/>
<path d="M1223.6,136.9 V159.6 M1220.6,136.9 h6 M1220.6,159.6 h6" stroke="#c6566d" stroke-width="1.8" fill="none"/>
<circle cx="1223.6" cy="148.3" r="3.7" fill="none" stroke="#c6566d" stroke-width="1.8"/>
<path d="M1235.3,198.3 V202.8 M1232.3,198.3 h6 M1232.3,202.8 h6" stroke="#c6566d" stroke-width="1.8" fill="none"/>
<circle cx="1235.3" cy="200.6" r="3.7" fill="none" stroke="#c6566d" stroke-width="1.8"/>
<path d="M1263.6,230.1 V239.2 M1260.6,230.1 h6 M1260.6,239.2 h6" stroke="#c6566d" stroke-width="1.8" fill="none"/>
<circle cx="1263.6" cy="234.7" r="3.7" fill="none" stroke="#c6566d" stroke-width="1.8"/>
<path d="M1292,282.4 V287 M1289,282.4 h6 M1289,287 h6" stroke="#c6566d" stroke-width="1.8" fill="none"/>
<circle cx="1292" cy="284.7" r="3.7" fill="none" stroke="#c6566d" stroke-width="1.8"/>
<circle cx="1404.3" cy="312" r="3.7" fill="none" stroke="#c6566d" stroke-width="1.8"/>
<path d="M1093.7,80.1 V89.1 M1090.7,80.1 h6 M1090.7,89.1 h6" stroke="#7a3198" stroke-width="1.8" fill="none"/>
<path d="M1093.7,80.3 L1097.6,87.4 L1089.8,87.4Z" fill="none" stroke="#7a3198" stroke-width="1.8"/>
<path d="M1122,82.3 V86.9 M1119,82.3 h6 M1119,86.9 h6" stroke="#7a3198" stroke-width="1.8" fill="none"/>
<path d="M1122,80.3 L1125.9,87.4 L1118.1,87.4Z" fill="none" stroke="#7a3198" stroke-width="1.8"/>
<path d="M1150.3,84.6 V89.1 M1147.3,84.6 h6 M1147.3,89.1 h6" stroke="#7a3198" stroke-width="1.8" fill="none"/>
<path d="M1150.3,82.6 L1154.2,89.6 L1146.4,89.6Z" fill="none" stroke="#7a3198" stroke-width="1.8"/>
<path d="M1178.7,86.9 V100.5 M1175.7,86.9 h6 M1175.7,100.5 h6" stroke="#7a3198" stroke-width="1.8" fill="none"/>
<path d="M1178.7,89.4 L1182.5,96.5 L1174.8,96.5Z" fill="none" stroke="#7a3198" stroke-width="1.8"/>
<path d="M1207,102.8 V111.9 M1204,102.8 h6 M1204,111.9 h6" stroke="#7a3198" stroke-width="1.8" fill="none"/>
<path d="M1207,103.1 L1210.9,110.1 L1203.1,110.1Z" fill="none" stroke="#7a3198" stroke-width="1.8"/>
<path d="M1223.6,114.2 V127.8 M1220.6,114.2 h6 M1220.6,127.8 h6" stroke="#7a3198" stroke-width="1.8" fill="none"/>
<path d="M1223.6,116.7 L1227.4,123.8 L1219.7,123.8Z" fill="none" stroke="#7a3198" stroke-width="1.8"/>
<path d="M1235.3,148.3 V171 M1232.3,148.3 h6 M1232.3,171 h6" stroke="#7a3198" stroke-width="1.8" fill="none"/>
<path d="M1235.3,155.4 L1239.2,162.4 L1231.4,162.4Z" fill="none" stroke="#7a3198" stroke-width="1.8"/>
<path d="M1263.6,214.2 V232.4 M1260.6,214.2 h6 M1260.6,232.4 h6" stroke="#7a3198" stroke-width="1.8" fill="none"/>
<path d="M1263.6,219.1 L1267.5,226.1 L1259.7,226.1Z" fill="none" stroke="#7a3198" stroke-width="1.8"/>
<path d="M1292,266.5 V284.7 M1289,266.5 h6 M1289,284.7 h6" stroke="#7a3198" stroke-width="1.8" fill="none"/>
<path d="M1292,271.4 L1295.8,278.4 L1288.1,278.4Z" fill="none" stroke="#7a3198" stroke-width="1.8"/>
<path d="M1404.3,307.7 L1408.2,314.8 L1400.4,314.8Z" fill="none" stroke="#7a3198" stroke-width="1.8"/>
<line x1="1373" y1="77.8" x2="1400" y2="77.8" stroke="#2957a8" stroke-width="1.7"/>
<text x="1416" y="84.8" font-size="18.8">H520</text>
<line x1="1373" y1="111.4" x2="1400" y2="111.4" stroke="#c6566d" stroke-width="1.7"/>
<text x="1416" y="118.4" font-size="18.8">HCC15</text>
<line x1="1373" y1="145" x2="1400" y2="145" stroke="#7a3198" stroke-width="1.7"/>
<text x="1416" y="152" font-size="18.8">H226</text>
<rect x="1463.6" y="198.6" width="353.9" height="144.9" fill="none" stroke="#2b2220" stroke-width="1.6"/>
<line x1="1463.6" y1="234.3" x2="1817.5" y2="234.3" stroke="#2b2220" stroke-width="1.6"/>
<line x1="1463.6" y1="270.8" x2="1817.5" y2="270.8" stroke="#2b2220" stroke-width="1.6"/>
<line x1="1463.6" y1="307" x2="1817.5" y2="307" stroke="#2b2220" stroke-width="1.6"/>
<line x1="1549.9" y1="198.6" x2="1549.9" y2="343.5" stroke="#2b2220" stroke-width="1.6"/>
<line x1="1663.1" y1="198.6" x2="1663.1" y2="343.5" stroke="#2b2220" stroke-width="1.6"/>
<text x="1606.5" y="225.9" font-size="22.2" text-anchor="middle" stroke="#231815" stroke-width="0.12" transform="translate(1606.5,0) scale(1.07,1) translate(-1606.5,0)">IC50(μM)</text>
<text x="1740.3" y="225.9" font-size="22.2" text-anchor="middle" stroke="#231815" stroke-width="0.12" transform="translate(1740.3,0) scale(1.07,1) translate(-1740.3,0)">95%CI(μM)</text>
<text x="1506.8" y="262.1" font-size="22.2" text-anchor="middle" stroke="#231815" stroke-width="0.12" textLength="54.8" lengthAdjust="spacingAndGlyphs">H520</text>
<text x="1606.5" y="262.1" font-size="22.2" text-anchor="middle" stroke="#231815" stroke-width="0.12" transform="translate(1606.5,0) scale(1.07,1) translate(-1606.5,0)">12.47</text>
<text x="1740.3" y="262.1" font-size="22.2" text-anchor="middle" stroke="#231815" stroke-width="0.12" transform="translate(1740.3,0) scale(1.07,1) translate(-1740.3,0)">11.51-13.52</text>
<text x="1506.8" y="298.4" font-size="22.2" text-anchor="middle" stroke="#231815" stroke-width="0.12" textLength="69.2" lengthAdjust="spacingAndGlyphs">HCC15</text>
<text x="1606.5" y="298.4" font-size="22.2" text-anchor="middle" stroke="#231815" stroke-width="0.12" transform="translate(1606.5,0) scale(1.07,1) translate(-1606.5,0)">19.57</text>
<text x="1740.3" y="298.4" font-size="22.2" text-anchor="middle" stroke="#231815" stroke-width="0.12" transform="translate(1740.3,0) scale(1.07,1) translate(-1740.3,0)">17.84-21.58</text>
<text x="1506.8" y="334.8" font-size="22.2" text-anchor="middle" stroke="#231815" stroke-width="0.12" textLength="55.4" lengthAdjust="spacingAndGlyphs">H226</text>
<text x="1606.5" y="334.8" font-size="22.2" text-anchor="middle" stroke="#231815" stroke-width="0.12" transform="translate(1606.5,0) scale(1.07,1) translate(-1606.5,0)">25.34</text>
<text x="1740.3" y="334.8" font-size="22.2" text-anchor="middle" stroke="#231815" stroke-width="0.12" transform="translate(1740.3,0) scale(1.07,1) translate(-1740.3,0)">23.44-27.48</text>
<text x="1634" y="287.9" font-size="10" fill="#4a3f3c">**</text>
<text x="1634" y="324.2" font-size="10" fill="#4a3f3c">***</text>
<circle cx="204.3" cy="512.2" r="70.2" fill="#a8a8bc"/>
<g clip-path="url(#pc1)" fill="none" stroke-linecap="round"><path d="M206 575h0m-29 -69h0m30 -48h0m-67 58h0m3 16h0m12 25h0m87 -85h0m-85 23h0m33 79h0m49 -70h0m-68 57h0m76 -31h0m-96 -37h0m13 7h0m24 21h0m-26 -45h0m100 38h0m-103 -4h0m63 2h0m-48 63h0m61 -55h0m0 -23h0m-42 -18h0m-36 7h0m28 80h0m4 -54h0m28 1h0m-69 1h0m67 -20h0m56 0h0m-21 57h0m-55 -70h0m34 -30h0m-53 57h0m54 -36h0m-51 91h0m4 -7h0m-40 -62h0m-2 35h0m49 40h0m-5 -8h0m78 -69h0m-17 42h0m-80 -12h0m44 -21h0m5 33h0m51 -13h0m-66 -67h0m-6 -9h0m37 124h0m7 -80h0m-93 5h0m59 12h0m5 57h0m18 -100h0m-62 46h0m91 -20h0m-6 31h0m20 -20h0m-51 65h0m11 -63h0m-16 41h0m1 -84h0m15 68h0m-31 -9h0m5 -2h0m15 -69h0m11 57h0m-18 21h0m-59 -53h0m95 -3h0m-40 102h0m-2 -119h0m-39 76h0m54 36h0m1 -56h0m-76 29h0m71 -64h0m-62 -7h0m29 41h0m-6 34h0m60 -37h0m-89 -11h0m43 -24h0m-25 86h0m78 -34h0m25 -33h0m-28 -15h0m-53 -15h0m-19 -2h0m37 92h0m-9 -57h0m-2 18h0m16 5h0m2 -2h0m-61 -23h0m90 -16h0m-57 -25h0m-42 100h0m56 -40h0m-24 0h0m12 -60h0m8 40h0m29 -3h0m21 62h0m-93 -34h0m55 35h0m27 -90h0m-54 108h0m36 -110h0m-79 65h0m112 -42h0m-74 -11h0m90 24h0m-17 -22h0m-74 -3h0m16 41h0m4 -52h0m71 70h0m-122 -47h0m73 91h0m5 -12h0m-31 -18h0m40 37h0m35 -82h0m-87 57h0m15 -54h0m7 -3h0m42 75h0m-9 -1h0m5 -78h0m-10 -15h0m-19 4h0m-69 7h0m89 71h0m-18 -63h0m-1 81h0m-67 -43h0m18 -32h0m20 -19h0m23 68h0m-22 17h0m29 -2h0m-21 -36h0m29 -27h0m1 -56h0m48 60h0m-121 6h0m26 57h0m-9 0h0m-2 -29h0m47 -97h0m9 64h0m-60 58h0m56 -113h0m-57 47h0m52 -25h0m-52 24h0m40 -51h0m-57 81h0m38 -70h0m81 59h0m-22 -67h0m-66 67h0m74 -47h0m-54 99h0m-17 -10h0m34 -80h0m3 49h0m48 -6h0m-85 -63h0m58 81h0m-55 32h0m18 -3h0m56 -49h0m-83 -33h0m12 36h0" stroke="#3b33b4" stroke-width="3.2"/><path d="M191 471h0m48 10h0m6 -12h0m-10 90h0m-33 9h0m15 -123h0m41 90h0m-65 -78h0m4 37h0m46 59h0m-91 -80h0m22 79h0m-1 -91h0m85 25h0m-116 46h0m87 -61h0m-28 61h0m72 -33h0m-48 -18h0m-69 0h0m56 42h0m-42 24h0m-24 -53h0m72 18h0m44 36h0m-17 -56h0m-22 88h0m-10 -11h0m61 -60h0m-121 1h0m42 57h0m-17 -24h0m78 -54h0m-70 -5h0m-36 34h0m60 16h0m18 -49h0m-64 2h0m37 84h0m60 -54h0m4 12h0m-80 -56h0m26 34h0m19 -32h0m-63 24h0m73 8h0m-9 50h0m17 -54h0m-18 69h0m-30 10h0m42 -128h0m-64 106h0m-2 -73h0m48 10h0m35 8h0m-34 10h0m20 19h0m-10 -60h0m-52 -15h0m2 107h0m27 -13h0m6 -31h0m-83 -7h0m92 -66h0m35 35h0m-76 60h0m-27 -36h0m64 65h0m-30 -90h0m65 57h0m-71 -1h0m-32 -8h0m48 45h0m-51 -104h0m-12 59h0m60 26h0m53 -68h0m-41 -26h0m16 74h0m-44 -34h0m-38 21h0m-4 -11h0m89 4h0m-36 34h0m72 -32h0m-91 12h0m-18 -6h0m95 -25h0m-84 44h0m38 -93h0m23 60h0m-62 14h0m-11 21h0m23 -50h0m53 57h0m-61 -13h0m33 -93h0m68 76h0m-74 -30h0m-48 55h0m99 -37h0m-26 -62h0m-42 40h0m-38 33h0m84 -24h0m17 -34h0m-60 17h0m68 60h0m-111 -50h0m61 84h0m3 -109h0m-35 4h0m27 52h0m33 -27h0m4 -31h0m-76 45h0m60 -42h0m-56 98h0m6 -22h0m25 27h0m-24 -75h0m44 17h0m-58 -14h0m46 -16h0m-53 44h0m93 40h0m-49 -107h0m39 83h0m-78 -7h0m42 -47h0m77 37h0m-80 -17h0m-4 -17h0m-31 30h0m4 -65h0m-6 37h0m99 14h0m-14 -43h0m-54 1h0m12 -2h0m10 22h0m-10 8h0m26 81h0m-63 -66h0m-3 1h0m58 1h0m20 -54h0m-48 73h0m-15 -28h0m86 48h0m-43 18h0m28 -79h0m-43 94h0m-15 -31h0m30 -74h0m-10 42h0m25 -32h0m-11 21h0m9 65h0m38 -53h0m-56 -18h0m29 -39h0m-23 -4h0m-8 16h0m55 4h0m-30 45h0m-34 9h0m-7 7h0m13 -87h0m-62 45h0m90 -35h0m-40 113h0m-20 -75h0m33 -5h0m17 60h0m-27 2h0m-53 -26h0m111 23h0m-16 -79h0m-33 40h0m-43 -32h0m4 -8h0m79 43h0m-69 -22h0m27 -2h0m47 18h0m-15 -49h0m12 29h0m-10 41h0m-34 45h0m69 -67h0m-7 9h0m-6 -40h0m-71 68h0m-33 4h0m79 4h0m-60 -94h0m65 17h0m-63 87h0m49 -23h0m27 -50h0m-13 54h0" stroke="#3428a8" stroke-width="3.2"/><path d="M250 499h0m7 9h0m-69 36h0m-18 5h0m82 -5h0m-8 -61h0m-56 30h0m15 65h0m26 -56h0m-23 -60h0m-47 7h0m81 20h0m-19 -31h0m0 -11h0m-64 34h0m82 -21h0m-75 91h0m56 -74h0m-7 87h0m-57 -16h0m85 -6h0m-2 -88h0m-8 34h0m5 -28h0m25 82h0m-11 -58h0m-66 -12h0m-17 72h0m82 -55h0m-85 60h0m88 -76h0m-19 90h0m22 -60h0m-16 38h0m-23 -89h0m-28 110h0m59 -55h0m-112 1h0m67 -58h0m-53 95h0m83 -85h0m1 106h0m-37 -117h0m46 27h0m16 13h0m15 37h0m-55 -70h0m6 60h0m-50 -8h0m39 66h0m-36 -26h0m-10 -7h0m46 14h0m-50 -71h0m25 45h0m33 -60h0m3 18h0m-48 2h0m28 46h0m-37 -39h0m2 54h0m38 32h0m-45 -84h0m-21 5h0m111 13h0m-65 -10h0m-48 -4h0m18 -4h0m23 76h0m7 -93h0m83 55h0m-57 -42h0m-73 42h0m126 -29h0m-30 54h0m-52 -26h0m27 -42h0m3 4h0m10 -9h0m29 60h0m-23 -78h0m4 100h0m-81 -54h0m31 44h0m28 -88h0m-7 29h0m5 80h0m-74 -83h0m78 57h0m-29 -73h0m34 46h0m-48 -41h0m9 79h0m31 -63h0m21 -3h0m21 -21h0m-51 89h0m-32 -52h0m9 50h0m-39 -79h0m51 4h0m-36 25h0m59 -40h0m-37 -17h0m65 85h0m6 -85h0m-54 20h0m33 85h0m-20 -59h0m-71 -2h0m112 53h0m-78 -82h0m7 81h0m-32 -53h0m16 -28h0m12 100h0m87 -103h0m-87 98h0m77 -31h0m-21 -82h0m-76 66h0m76 21h0m17 17h0m-99 -38h0m110 -38h0m-5 74h0m-33 -76h0m44 12h0m-104 -2h0m-2 23h0m75 -65h0m-70 50h0m-3 31h0m62 0h0m-78 8h0m9 17h0m80 -21h0m10 -71h0m9 94h0m-65 -38h0m17 -69h0m47 107h0m4 -21h0m-75 -14h0m27 -31h0m44 53h0m-59 9h0m77 -32h0m-43 15h0m-5 -68h0m-24 39h0m-35 14h0m60 57h0m-7 -66h0m6 -34h0m-45 -7h0m1 -3h0m84 29h0m-44 67h0m23 -72h0m-54 17h0m-7 37h0m60 3h0m-2 -67h0m-3 18h0m17 35h0m-30 27h0m-17 11h0m-6 -102h0m57 9h0m-70 44h0m15 39h0m67 -44h0m-11 -49h0m-96 42h0m70 -14h0m-12 51h0m-64 -63h0m79 65h0m-53 0h0m85 -55h0m-108 22h0m21 -12h0m-7 20h0m67 -63h0m-1 106h0m-24 -105h0m-65 81h0m40 -10h0m16 -75h0m-3 73h0m5 12h0m-54 -1h0m95 7h0m-74 15h0m29 -8h0" stroke="#4a42c0" stroke-width="3.2"/><path d="M152 545h0m37 34h0m42 -64h0m-43 -70h0m12 10h0m51 12h0m-17 18h0m-34 69h0m-51 -57h0m86 -10h0m-27 31h0m-62 15h0m14 -51h0m109 15h0m-19 32h0m-82 38h0m52 -89h0m-63 62h0m50 -94h0m-23 26h0m-20 11h0m36 -41h0m41 35h0m-12 28h0m-9 37h0m-29 20h0m15 -88h0m-13 10h0m42 67h0m-68 5h0m2 -57h0m42 -53h0m-66 77h0m24 -37h0m55 90h0m-56 -113h0m74 108h0m-5 -22h0m-91 -71h0m52 0h0m42 90h0m3 -107h0m-3 41h0m-4 33h0m-30 -84h0m-60 78h0m61 43h0m-39 -101h0m58 95h0m30 -60h0m-40 -36h0m5 45h0m17 40h0m-24 -48h0m-53 -32h0m106 27h0m-3 44h0m-76 -8h0m43 -44h0m-21 -37h0m-47 36h0m47 -21h0m60 33h0m-37 -46h0m-68 71h0m2 -12h0" stroke="#3b33b4" stroke-width="4.9"/><path d="M168 478h0m-4 -17h0m21 71h0m12 -38h0m-35 15h0m88 45h0m9 -41h0m-5 -50h0m-103 9h0m35 -12h0m-9 27h0m33 91h0m-11 -11h0m-36 -106h0m104 71h0m-13 -69h0m-50 24h0m39 56h0m-107 -17h0m108 -11h0m-79 15h0m83 -38h0m1 65h0m-90 6h0m31 -41h0m-20 17h0m13 -57h0m75 -9h0m10 46h0m-53 10h0m-16 -46h0m46 68h0m-77 -11h0m-26 -34h0m40 -10h0m-15 -38h0m33 82h0m28 -37h0m-81 16h0m77 7h0m18 -14h0m-101 30h0m-4 -44h0m31 62h0m38 -118h0m52 42h0m-61 49h0m61 -11h0m-77 -35h0m22 -8h0m4 82h0m42 -17h0m-2 -56h0m-48 58h0m31 -46h0m15 -38h0m-3 63h0m-101 7h0m24 -8h0m67 -29h0m-87 7h0m93 45h0m5 -23h0m-69 -4h0m62 -17h0m-56 56h0m-1 -41h0" stroke="#3428a8" stroke-width="4.9"/><path d="M236 518h0m12 -28h0m-44 -37h0m-15 100h0m21 -2h0m-35 -95h0m95 77h0m-45 -9h0m22 43h0m4 -52h0m-42 -11h0m-42 57h0m15 -103h0m75 22h0m-122 23h0m133 31h0m-81 13h0m19 -25h0m-11 -55h0m49 51h0m-32 -50h0m15 -3h0m-45 113h0m-3 -48h0m-25 -34h0m65 -48h0m-16 26h0m38 74h0m-37 -101h0m48 93h0m12 -40h0m-95 -14h0m30 -31h0m-49 85h0m10 23h0m18 0h0m37 8h0m-15 -25h0m37 7h0m-49 -86h0m71 41h0m-38 -59h0m-33 110h0m-39 -63h0m53 -44h0m9 104h0m-50 -43h0m11 50h0m28 -36h0m60 -12h0m-12 14h0m-19 -56h0m-89 34h0m90 52h0m19 -13h0m-4 9h0m-64 -54h0m34 70h0m-9 -5h0m37 2h0m-56 -41h0m-23 -59h0m57 97h0m-47 -14h0m92 -21h0m-86 32h0m-5 -39h0m-3 -34h0m25 5h0m23 52h0m-71 0h0m57 -13h0m29 -74h0m3 113h0m-65 -71h0m-7 -13h0m-4 56h0m56 -48h0m18 27h0m-16 -73h0m-4 98h0m12 -59h0m16 0h0" stroke="#4a42c0" stroke-width="4.9"/><path d="M163 482h0m55 89h0m2 -124h0m-8 65h0m-5 -3h0m-42 -22h0m-7 41h0m13 -31h0m76 -17h0m-82 11h0m83 -18h0m-24 82h0m31 -61h0m-5 -11h0m-66 65h0m4 18h0m49 -51h0m-71 12h0m-11 21h0m95 -16h0m-19 40h0m2 -8h0m-85 -72h0m-4 39h0m71 -77h0m-24 40h0m-18 44h0m57 -3h0m-14 -47h0m-60 57h0m88 -78h0m-19 -4h0m11 90h0m-3 -103h0m-75 41h0m90 45h0m-98 -57h0m66 90h0m-11 10h0m-15 -132h0m14 131h0m-3 -100h0m-29 21h0m51 -54h0m-22 117h0m12 -5h0m42 -73h0m-4 69h0m-82 -78h0m-12 31h0m116 8h0m-47 63h0m-30 -54h0m29 -27h0m-1 41h0m25 -58h0m-90 86h0m2 -7h0m54 -87h0m47 4h0m-10 -10h0m-35 35h0m-41 5h0m20 23h0m11 -59h0m60 41h0m-34 -26h0m-2 -15h0m2 -18h0m-61 4h0m-1 16h0m69 -5h0" stroke="#3b33b4" stroke-width="6.6"/><path d="M267 486h0m-115 9h0m66 -16h0m-24 59h0m16 -36h0m20 2h0m15 33h0m-54 -27h0m-6 -27h0m60 4h0m-65 86h0m90 -75h0m-16 -12h0m-87 34h0m91 0h0m-91 49h0m4 -80h0m26 -26h0m7 61h0m-49 -4h0m29 -27h0m-35 -15h0m37 26h0m58 47h0m-22 -65h0m-41 -18h0m28 0h0m-48 12h0m76 -28h0m-23 99h0m-18 -39h0m66 14h0m-21 -2h0m-76 -10h0m9 -59h0m44 121h0m-38 -109h0m-6 21h0m20 46h0m-14 -79h0m-16 27h0m58 30h0m-78 -35h0m9 -10h0m59 64h0m-55 19h0m-7 -14h0m106 6h0m-33 23h0m-70 -42h0m76 -2h0" stroke="#3428a8" stroke-width="6.6"/><path d="M255 545h0m-30 -18h0m3 12h0m-13 39h0m12 -113h0m-22 9h0m35 -12h0m-43 110h0m67 -72h0m-39 -21h0m-25 60h0m-1 21h0m20 -83h0m-57 31h0m16 -53h0m44 8h0m-53 -2h0m10 60h0m17 21h0m24 29h0m44 -51h0m-28 42h0m20 -70h0m-29 60h0m-33 -38h0m-19 20h0m97 -16h0m-121 -26h0m41 47h0m-6 -62h0m-30 72h0m50 -15h0m24 -52h0m-67 87h0m-2 -111h0m28 11h0m-12 105h0m80 -47h0m-55 -54h0m7 -26h0m-73 52h0m71 -15h0m-11 83h0m-39 -4h0m19 -33h0m18 13h0m35 21h0m-56 -59h0m79 38h0m-50 24h0m27 -19h0" stroke="#4a42c0" stroke-width="6.6"/><path d="M183 548h0m11 -31h0m-44 -14h0m60 24h0m55 -22h0m-91 -31h0m50 47h0m-17 50h0m0 -76h0m-18 39h0m-45 -8h0m81 -37h0m43 9h0m-40 -27h0m31 15h0m-7 41h0m-39 -48h0m-18 55h0m17 -80h0m-22 1h0m-43 44h0m37 -27h0m38 99h0m23 -92h0m-23 36h0m-21 -69h0m-39 12h0m87 81h0m-6 -36h0m-8 -45h0m-25 26h0m26 42h0m24 -50h0m-114 47h0m79 -56h0m34 58h0m-16 35h0m-46 -10h0m59 -9h0m-85 -4h0m39 -41h0m33 71h0m-92 -40h0m-6 -25h0m50 12h0m47 49h0m-10 -70h0m-54 -33h0m-35 42h0" stroke="#3b33b4" stroke-width="8.3"/><path d="M231 467h0m-36 97h0m1 -33h0m52 -23h0m-82 -43h0m81 62h0m-98 -12h0m16 -27h0m-8 57h0m80 -95h0m-39 124h0m17 -13h0m17 -64h0m-20 -4h0m-10 -43h0m-57 48h0m-4 -15h0m62 97h0m-64 -88h0m102 -34h0m-50 72h0m26 35h0m37 -27h0m-31 38h0m-86 -64h0m11 23h0m103 -29h0m-75 -42h0m-35 78h0m58 22h0m18 -119h0m15 127h0m-34 -67h0m46 -14h0m18 58h0m-105 -31h0m21 0h0m4 29h0m-32 -5h0m41 -60h0m-21 21h0m31 -38h0" stroke="#3428a8" stroke-width="8.3"/><path d="M227 506h0m-52 46h0m35 15h0m-48 -85h0m87 -7h0m-20 78h0m16 -83h0m-57 -24h0m24 75h0m30 -62h0m-66 59h0m5 -50h0m-35 10h0m-10 47h0m60 51h0m-42 -17h0m116 -48h0m-106 -54h0m1 78h0m18 -15h0m-36 20h0m46 -54h0m-35 25h0m111 -10h0m-42 68h0m41 -71h0m-38 24h0m-55 -70h0m6 113h0m91 -60h0m-62 24h0m-33 39h0m54 -30h0m-58 -61h0m83 49h0m7 -45h0m-72 -14h0m-46 57h0m11 -37h0m10 -3h0m56 -13h0m-57 40h0m-7 3h0m21 60h0" stroke="#4a42c0" stroke-width="8.3"/></g>
<circle cx="204.3" cy="512.2" r="69.60000000000001" fill="none" stroke="#3a3580" stroke-opacity="0.45" stroke-width="1.2"/>
<circle cx="365.4" cy="512.2" r="70.2" fill="#d2d6e4"/>
<circle cx="365.4" cy="512.2" r="70.2" fill="url(#ps2)"/>
<g clip-path="url(#pc2)" fill="none" stroke-linecap="round"><path d="M391 497h0m-30 42h0m30 22h0m1 -71h0m-12 -32h0m-43 114h0m24 -15h0m-31 -25h0m3 -54h0m-16 37h0m2 -51h0m-18 65h0m28 -13h0m-8 30h0m16 -96h0m26 85h0m35 -78h0m-74 16h0m75 57h0m-69 41h0m8 -25h0m54 -89h0m8 47h0m-14 -58h0m-84 88h0m101 -16h0m-12 50h0m-7 -16h0m31 -12h0m-99 -67h0m-5 67h0m68 -72h0m2 93h0m33 2h0m-35 17h0m-15 -43h0m-32 -6h0m52 -11h0m-74 -20h0m21 -2h0m72 15h0m-73 -29h0m88 21h0m-24 35h0m5 -15h0m-7 11h0m29 14h0m4 -48h0m-8 -33h0m-25 28h0m-81 24h0m42 -8h0m6 -40h0m19 99h0m-57 -98h0m4 -13h0m94 53h0m5 6h0m-59 22h0m-17 -7h0m74 -9h0m-73 -21h0m23 -46h0m42 13h0m-3 30h0m-49 -55h0m-31 20h0m44 33h0m15 4h0m21 21h0m-5 -21h0m5 -11h0m-32 59h0m32 -91h0m-31 -16h0m-26 129h0m43 -41h0m-80 16h0m104 -36h0m-41 -32h0m10 36h0m36 -7h0m9 -6h0m-42 7h0m-51 -62h0m37 58h0m-50 5h0m39 8h0m-23 3h0m25 -39h0m43 20h0m-2 5h0m-63 -58h0m65 11h0m-3 97h0m-30 -48h0m45 -3h0m-84 -4h0m67 4h0m-62 69h0m-25 -12h0m7 -33h0m49 49h0m-63 -62h0m58 4h0m-66 4h0m76 -11h0m-9 23h0m-17 13h0m13 16h0m31 -20h0m-73 -6h0m-19 -12h0m10 -49h0m88 -8h0m-108 23h0m75 21h0m-28 -47h0m-7 -18h0m90 44h0" stroke="#3f3cc0" stroke-width="1.5"/><path d="M352 515h0m26 35h0m-12 24h0m10 -45h0m16 -9h0m41 -15h0m-131 -8h0m67 -54h0m-44 61h0m92 49h0m-86 -24h0m101 -2h0m-43 -56h0m31 5h0m-41 105h0m0 -78h0m9 70h0m-70 -106h0m93 39h0m-65 28h0m59 26h0m-79 7h0m34 -92h0m13 56h0m-12 30h0m27 0h0m-61 -6h0m19 -26h0m-25 23h0m56 -81h0m-75 63h0m31 -25h0m53 -54h0m26 39h0m-37 66h0m26 -2h0m-78 -43h0m90 20h0m-71 31h0m84 -31h0m-91 16h0m36 -13h0m43 -76h0m-105 12h0m63 56h0m-51 -54h0m-11 56h0m15 -57h0m44 -23h0m-46 79h0m5 -14h0m-4 35h0m35 3h0m16 -100h0m20 83h0m-35 17h0m-55 -43h0m32 -5h0m61 28h0m-65 17h0m20 -71h0m-5 81h0m3 12h0m-16 -28h0m-20 -26h0m42 -74h0m74 82h0m-21 -25h0m-47 46h0m61 -25h0m-75 20h0m78 -31h0m-66 33h0m-29 4h0m42 14h0m30 -78h0m-86 66h0m68 27h0m17 -63h0m-65 54h0m73 -32h0m-81 -72h0m-2 62h0m6 1h0m-20 -23h0m42 34h0m-18 20h0m-3 -18h0m61 27h0m-89 -21h0m91 -69h0m32 32h0m-8 14h0m11 1h0m-96 18h0m68 -78h0m-70 -3h0m57 22h0m3 -18h0m-96 64h0m-2 -21h0m34 19h0m-30 -1h0m47 42h0m-37 -56h0m64 -54h0m-4 94h0m-67 -13h0m13 -61h0m48 50h0m-61 -33h0m48 16h0m-32 -39h0m96 84h0m-88 -67h0m61 81h0m-64 -6h0m89 -103h0m16 74h0m-34 28h0m-56 -76h0m-11 -22h0m40 -25h0m-21 47h0m7 84h0m30 -78h0m-44 -34h0m9 62h0m1 42h0m24 -105h0m-64 47h0m100 -27h0m5 27h0m-17 30h0m-38 -5h0m23 34h0m4 -13h0m-76 -11h0m-8 -29h0m9 -39h0m-8 41h0m31 52h0m-8 -109h0" stroke="#5a58c8" stroke-width="1.5"/><path d="M334 534h0m-8 -78h0m46 27h0m0 54h0m-48 18h0m99 -80h0m-55 34h0m-51 -46h0m42 -2h0m69 73h0m-56 -75h0m-13 106h0m-3 -74h0m-50 35h0m31 33h0m16 -4h0m64 -41h0m-56 -50h0m-14 -4h0m-27 19h0m98 61h0m-59 20h0m-8 14h0m-17 -67h0m65 23h0m-61 -11h0m-25 30h0m64 -49h0m16 35h0m-70 11h0m-21 -42h0m44 47h0m39 -4h0m37 -14h0m-33 -51h0m30 -11h0m-2 69h0m-70 -68h0m-27 69h0m49 37h0" stroke="#3f3cc0" stroke-width="2.0"/><path d="M308 526h0m15 -60h0m109 62h0m-12 -52h0m-23 94h0m-76 -16h0m61 -90h0m-38 47h0m8 4h0m-27 7h0m67 -7h0m-14 -48h0m48 50h0m-81 -33h0m81 31h0m-106 26h0m105 -18h0m-56 9h0m-26 -4h0m23 21h0m61 -5h0m-1 -62h0m-84 -30h0m-11 115h0m-17 -54h0m78 22h0m12 -68h0m-58 52h0m46 -35h0m12 55h0m0 15h0m-68 -61h0m-28 54h0m46 21h0m44 -20h0m-33 -80h0" stroke="#5a58c8" stroke-width="2.0"/><path d="M316 503h0m56 50h0m2 -11h0m-28 -88h0m-7 90h0m3 3h0m-17 -69h0m65 26h0m-6 -4h0m13 31h0m-30 49h0m-18 -113h0m60 -10h0m-104 56h0m11 -16h0m93 47h0m-104 -40h0m70 -43h0m31 42h0m-13 -52h0m12 93h0m-42 -89h0m-37 65h0m55 -57h0m32 88h0m-32 -51h0m18 1h0m-4 -51h0m-78 88h0m69 -88h0" stroke="#3f3cc0" stroke-width="2.6"/><path d="M381 558h0m-23 -47h0m38 -36h0m-3 7h0m-48 -13h0m36 -7h0m-24 68h0m-4 -71h0m56 28h0m-100 16h0m25 69h0m78 -58h0m-87 -56h0m26 112h0m21 -79h0m-4 -7h0m31 5h0m25 44h0m-65 31h0m-42 -91h0m6 82h0m70 -2h0m5 -47h0m-1 37h0m2 -28h0m20 -31h0m-49 69h0m-59 -80h0m81 -24h0m-65 42h0m46 60h0m37 -76h0m-27 52h0m-31 7h0m-26 12h0m16 -23h0m-1 -7h0m19 43h0m42 4h0m-85 -92h0m12 24h0m81 -7h0m-85 -11h0m47 89h0m30 -87h0m-95 21h0" stroke="#5a58c8" stroke-width="2.6"/><path d="M364 570h0m-52 -14h0m98 -66h0m10 -2h0m-5 -22h0m-52 98h0m-37 -10h0m18 -42h0m71 22h0m-37 -41h0m4 -27h0m-13 19h0m-29 -21h0m42 -6h0m-18 107h0m19 -45h0m32 12h0m-7 -17h0m12 -22h0m-58 -10h0m-42 68h0m-6 -55h0m43 5h0m-33 -44h0m65 33h0m-71 -18h0m57 78h0m22 -13h0m-80 -11h0m58 4h0m-4 -63h0m33 82h0" stroke="#3f3cc0" stroke-width="3.1"/><path d="M310 470h0m83 -16h0m-90 29h0m66 -5h0m-55 78h0m39 -4h0m-19 4h0m97 -31h0m-53 9h0m-26 28h0m-16 -92h0m73 11h0m14 -9h0m-32 21h0m-60 3h0m9 24h0m19 -52h0m-22 56h0m27 -10h0m-54 19h0m47 -15h0m-29 -47h0m101 16h0m-55 -34h0m56 80h0m-100 31h0m14 -82h0m31 33h0m-7 53h0m53 -75h0m-31 44h0m22 -40h0m-77 -31h0" stroke="#5a58c8" stroke-width="3.1"/></g>
<circle cx="365.4" cy="512.2" r="69.60000000000001" fill="none" stroke="#3a3580" stroke-opacity="0.45" stroke-width="1.2"/>
<circle cx="528.3" cy="512.2" r="70.2" fill="#c6c6d8"/>
<circle cx="528.3" cy="512.2" r="70.2" fill="url(#ps3)"/>
<g clip-path="url(#pc3)" fill="none" stroke-linecap="round" opacity="0.85"><path d="M471 503h0m27 30h0m58 -50h0m-32 68h0m-13 -96h0m26 43h0m-54 49h0m86 6h0m-17 -38h0m-16 -45h0m31 27h0m-54 -2h0m-6 -4h0m30 55h0m-42 -24h0m62 -68h0m-42 81h0m-36 -54h0m27 -7h0m4 75h0m42 -62h0m16 22h0m-106 8h0m46 26h0m76 -45h0m-65 23h0m-22 45h0m-20 -36h0m106 -60h0m-67 72h0m-21 -72h0m77 85h0m14 -43h0m-101 0h0m108 3h0m-18 32h0m-110 -49h0m39 9h0m49 23h0m-36 -53h0m-28 56h0m-14 -57h0m68 69h0m-43 -55h0m18 41h0m-31 -14h0m-18 9h0m92 4h0m14 -67h0m-86 1h0m-5 99h0m73 -67h0m-46 59h0m43 -33h0m-25 20h0m-19 -26h0m49 -66h0m-16 8h0m47 39h0m-75 67h0m-38 -55h0m71 -58h0m-16 101h0m-12 -19h0m-45 14h0m75 -73h0m27 15h0m-53 -24h0m0 0h0m-48 47h0m65 -2h0m22 28h0m-60 -82h0m-24 102h0m5 -80h0m45 35h0m46 51h0m-65 8h0m33 -55h0m-51 -37h0m70 10h0m-10 63h0m-5 11h0m-1 -15h0m-80 -8h0m123 -27h0m-59 -1h0m18 -62h0m-37 53h0m32 -59h0m-39 101h0m30 -24h0m-41 -39h0m24 2h0m-8 11h0m1 5h0m2 35h0m65 25h0m4 -18h0m-74 -86h0m76 11h0m-1 5h0m-56 49h0m45 -58h0m-10 69h0m-22 36h0m12 -41h0m-18 23h0m3 -79h0m-2 67h0m-49 -32h0m28 69h0m30 -76h0m-33 39h0m2 37h0m-9 -32h0m-1 9h0m31 -3h0m-39 -28h0m26 -30h0m71 18h0m-71 -38h0m2 96h0m73 -42h0m-76 19h0m-25 -53h0m45 14h0m-56 20h0m4 -16h0m105 -17h0m-12 25h0m-108 4h0m95 -33h0m-80 26h0m67 41h0m-32 -71h0m46 5h0m1 66h0m-76 -13h0m93 5h0m-94 -88h0m51 101h0m20 -97h0m-9 18h0" stroke="#5a58c8" stroke-width="1.7"/><path d="M571 524h0m-46 -60h0m26 109h0m3 -16h0m-36 -8h0m7 -86h0m55 18h0m-16 41h0m14 -56h0m-35 112h0m-67 -94h0m51 77h0m1 -101h0m-2 57h0m0 -62h0m9 116h0m38 -93h0m-70 51h0m37 -72h0m-58 57h0m23 -44h0m28 104h0m-17 -13h0m-25 -25h0m66 -51h0m-29 67h0m3 -88h0m50 74h0m-46 -17h0m44 11h0m-31 -35h0m-52 -1h0m55 -31h0m-69 64h0m26 5h0m-24 -71h0m97 44h0m-77 -46h0m8 53h0m68 -3h0m-30 40h0m-3 -6h0m-33 -17h0m-15 -40h0m81 65h0m-49 -99h0m-21 25h0m43 77h0m-61 -23h0m14 -32h0m-11 45h0m16 -98h0m33 36h0m-60 69h0m57 -106h0m-34 22h0m58 26h0m-91 -7h0m10 42h0m17 17h0m72 -23h0m-72 -52h0m27 -18h0m-42 5h0m31 75h0m61 22h0m-53 -89h0m-7 51h0m-2 18h0m-15 6h0m-13 -60h0m13 83h0m90 -52h0m-114 13h0m2 -23h0m17 62h0m34 10h0m-25 -90h0m11 95h0m74 -47h0m-58 -81h0m-3 0h0m-41 48h0m71 -39h0m-15 23h0m45 40h0m-86 41h0m77 -65h0m-18 54h0m-13 -85h0m-51 54h0m2 21h0m28 -48h0m9 52h0m-19 -39h0m-1 49h0m-38 -49h0m15 63h0m70 -52h0m-48 -47h0m-10 11h0m-26 62h0m11 -16h0m-2 -73h0m38 48h0m-16 -45h0m43 -11h0m4 51h0m-46 9h0m38 -23h0m-4 77h0m29 -26h0m-99 -51h0m57 80h0m-28 -21h0m28 -28h0m-49 41h0m62 -71h0m-53 -32h0m-30 41h0m78 33h0m19 -1h0m-67 -33h0m11 -14h0m37 25h0m-59 33h0m72 35h0m-32 -25h0m-36 -33h0m-23 0h0m126 4h0m-50 -70h0m-60 91h0m70 -86h0m-33 95h0m21 -48h0m36 60h0m-105 -77h0m25 38h0m56 -34h0m-33 56h0m50 -67h0" stroke="#7070d0" stroke-width="1.7"/><path d="M541 536h0m-80 -20h0m26 30h0m65 20h0m14 -28h0m-18 -2h0m-29 36h0m-14 -28h0m66 -80h0m-83 79h0m44 36h0m30 -96h0m-52 -4h0m17 44h0m0 -18h0m12 64h0m17 -88h0m-4 67h0m-39 -50h0m48 76h0m-28 -97h0m38 16h0m-46 69h0m4 -60h0m28 25h0m1 -10h0m-61 -35h0m24 64h0m69 -3h0m-24 -58h0m15 -10h0m-81 -10h0m82 44h0m-81 -32h0m44 61h0m13 10h0m-17 -45h0m21 -5h0m-44 34h0m51 -46h0m-99 27h0m9 16h0m88 40h0m-28 -115h0m42 51h0m-50 -33h0m62 15h0m-26 23h0m17 18h0" stroke="#5a58c8" stroke-width="2.2"/><path d="M577 497h0m-23 -3h0m32 3h0m-103 53h0m69 -22h0m-26 7h0m9 -61h0m50 39h0m-98 29h0m-8 -27h0m115 0h0m-34 -13h0m-97 10h0m9 20h0m6 3h0m18 -72h0m54 -4h0m-53 92h0m25 -73h0m-42 38h0m114 5h0m-39 -37h0m-82 21h0m30 16h0m92 -12h0m-7 -3h0m-99 47h0m7 -36h0m94 22h0m0 -8h0m-26 -70h0m9 71h0m-72 -64h0m-15 63h0m54 -78h0m10 30h0m-11 22h0" stroke="#7070d0" stroke-width="2.2"/><path d="M487 530h0m28 -51h0m58 -8h0m-55 103h0m43 -49h0m24 15h0m-20 -28h0m-26 13h0m10 -66h0m-20 32h0m39 72h0m-95 -8h0m52 -17h0m-44 -38h0m23 -51h0m-17 19h0m62 28h0m-9 8h0m8 -52h0m25 81h0m-49 -33h0m40 35h0m29 -5h0m-109 -3h0m89 -25h0m-88 -26h0m57 85h0m3 -94h0m44 58h0m-30 -20h0m-31 12h0m37 -63h0m-30 124h0" stroke="#5a58c8" stroke-width="2.8"/><path d="M500 546h0m75 -12h0m-12 22h0m-43 -59h0m52 6h0m-84 15h0m51 22h0m-80 -35h0m42 -27h0m-1 -19h0m10 10h0m42 47h0m-45 9h0m61 -31h0m-39 4h0m-32 43h0m39 29h0m-41 -119h0m79 56h0m-36 -55h0m-40 13h0m-27 48h0m111 25h0m-33 -12h0m-44 -70h0m45 -9h0m-24 99h0m17 -36h0m-42 57h0m36 -91h0m-28 -26h0m40 126h0m20 -117h0m-87 58h0m4 -48h0m-16 41h0m84 8h0m-7 5h0m5 -60h0m-30 69h0" stroke="#7070d0" stroke-width="2.8"/><path d="M561 458h0m-42 66h0m40 -51h0m-3 10h0m-12 -13h0m-78 24h0m22 69h0m0 -44h0m38 -29h0m8 76h0m56 -48h0m-70 47h0m17 12h0m25 -72h0m-20 5h0m-46 14h0m78 -57h0m-74 -14h0m11 83h0m37 -9h0m1 4h0m-36 -24h0m80 -9h0m-43 74h0m1 -82h0m-28 0h0m-18 -44h0m83 50h0m-89 50h0m80 -81h0m-44 24h0m33 36h0m-67 -72h0m-34 83h0m98 14h0m-65 -23h0m43 -39h0" stroke="#5a58c8" stroke-width="3.3"/><path d="M470 475h0m43 40h0m-13 -29h0m83 38h0m10 6h0m-36 -81h0m-81 51h0m-10 25h0m71 10h0m-7 -46h0m14 32h0m-66 33h0m104 -80h0m-65 34h0m-3 -18h0m14 -11h0m29 74h0m-78 -86h0m69 112h0m1 -110h0m-9 -21h0m54 61h0m-14 -30h0m-71 71h0m29 -28h0m-63 28h0m63 -83h0m-22 93h0m55 -1h0m-44 -21h0m60 -17h0m-11 -40h0m-74 91h0m9 3h0m17 -23h0m-6 27h0m-36 -77h0m43 -40h0" stroke="#7070d0" stroke-width="3.3"/></g>
<circle cx="528.3" cy="512.2" r="69.60000000000001" fill="none" stroke="#3a3580" stroke-opacity="0.45" stroke-width="1.2"/>
<circle cx="204.3" cy="668.6" r="70.2" fill="#a8a4bc"/>
<g clip-path="url(#pc4)" fill="none" stroke-linecap="round"><path d="M145 684h0m41 50h0m-27 -50h0m6 12h0m-4 -33h0m100 -9h0m-117 43h0m79 -19h0m-79 -26h0m6 40h0m42 34h0m33 -17h0m8 5h0m-47 9h0m-17 5h0m19 -66h0m3 -5h0m4 79h0m25 -101h0m-30 76h0m74 -49h0m-106 51h0m82 -40h0m-88 -2h0m74 33h0m35 -30h0m-38 -54h0m-79 26h0m54 37h0m-41 -65h0m101 57h0m-82 13h0m9 43h0m27 -131h0m-46 81h0m53 16h0m-61 -71h0m29 68h0m64 15h0m-71 -81h0m15 -20h0m27 20h0m25 -2h0m-26 76h0m-25 29h0m-42 -54h0m33 19h0m-40 -38h0m91 35h0m-17 -25h0m-51 30h0m101 -29h0m-19 -43h0m-115 24h0m38 27h0m93 -2h0m-128 -16h0m104 19h0m-8 39h0m-84 -74h0m104 69h0m-83 -27h0m19 -10h0m20 12h0m37 -1h0m-24 -70h0m-23 58h0m-58 -6h0m91 14h0m-20 40h0m-66 -32h0m111 -57h0m-16 19h0m-26 77h0m11 -18h0m7 -55h0m-12 17h0m29 -30h0m8 22h0m-85 17h0m14 -48h0m30 52h0m7 39h0m-78 -59h0m95 -20h0m-42 -45h0m5 83h0m-36 -10h0m71 30h0m20 -40h0m-46 -4h0m19 55h0m-88 -74h0m64 35h0m47 25h0m9 -50h0m-85 33h0m0 -66h0m33 43h0m-2 -37h0m26 -12h0m-21 4h0m-74 65h0m27 25h0m-12 -30h0m60 48h0m-71 -75h0m-1 -14h0m38 79h0m-35 -11h0m9 -70h0m68 10h0m-10 18h0m21 31h0m-9 26h0m-85 -59h0m83 73h0m-36 -74h0m12 76h0m41 -116h0m11 98h0m-88 -107h0m45 54h0m-32 -43h0m34 111h0m-73 -35h0m61 -50h0m49 -27h0m-3 59h0m-69 -52h0m-12 31h0m-18 -15h0m87 -30h0m-29 104h0m-68 -25h0m65 3h0m40 -14h0m-84 -64h0m27 91h0m80 -20h0m-52 -65h0m1 -22h0m-46 42h0m-12 -24h0m51 93h0m-50 -68h0m57 63h0m-24 -66h0m9 -10h0m-52 35h0m59 56h0m27 -55h0m-47 -8h0m65 -38h0m-41 99h0m1 -8h0m-63 -30h0m59 -3h0m49 17h0m-72 -91h0m-40 55h0m55 41h0m-50 -16h0m55 -66h0m-29 102h0m-11 -23h0m-29 -17h0m129 -35h0m-105 65h0m101 -11h0m6 -47h0m-90 15h0" stroke="#3a2c98" stroke-width="4.4"/><path d="M203 693h0m55 -41h0m-11 -39h0m-26 19h0m-34 77h0m72 -52h0m-73 -19h0m3 -21h0m51 86h0m-70 -17h0m14 13h0m11 -40h0m33 -48h0m-14 119h0m-7 -41h0m-65 -9h0m46 -34h0m19 74h0m22 -69h0m9 23h0m-19 21h0m-79 -48h0m93 -34h0m3 -3h0m-79 75h0m42 -70h0m31 38h0m-53 59h0m33 -43h0m-50 7h0m45 46h0m-59 -20h0m36 -55h0m26 -11h0m37 42h0m-102 -43h0m29 22h0m-13 -13h0m87 -1h0m5 33h0m-4 -61h0m-56 3h0m74 45h0m-68 -45h0m29 96h0m7 15h0m-71 -48h0m68 -1h0m-47 50h0m60 -24h0m-95 -2h0m48 -75h0m34 -18h0m-56 49h0m20 58h0m60 -41h0m-77 -57h0m-16 92h0m110 -46h0m-112 -11h0m103 -5h0m-74 31h0m-6 -27h0m55 9h0m32 1h0m-56 -15h0m-65 1h0m74 14h0m-74 13h0m104 6h0m-25 13h0m-28 -70h0m23 9h0m26 62h0m-49 10h0m9 -96h0m40 30h0m-37 61h0m-17 -37h0m67 5h0m-85 38h0m4 22h0m-23 -56h0m70 30h0m-80 -24h0m101 -33h0m-102 -13h0m123 30h0m-42 -3h0m2 -37h0m-31 30h0m39 -6h0m-67 42h0m52 34h0m-72 -95h0m46 7h0m-32 56h0m9 -17h0m25 -24h0m30 62h0m-46 -72h0m64 -25h0m-29 50h0m34 -34h0m-57 62h0m-38 -4h0m63 -11h0m48 9h0m-61 -30h0m-68 -12h0m36 31h0m59 -52h0m-84 9h0m84 48h0m-6 -50h0m-13 23h0m-5 35h0m-51 -20h0m-20 14h0m97 36h0m-56 1h0m60 -88h0m-67 37h0m46 66h0m12 -49h0m-51 -63h0m-38 75h0m120 -64h0m-3 60h0m-32 -70h0m-64 -4h0m72 93h0m-20 -82h0m-40 3h0m-31 1h0m95 -26h0m-59 19h0m28 -29h0m-65 57h0m41 8h0m83 -16h0m-114 8h0m26 74h0m81 -95h0m-46 -22h0m-77 62h0m101 -52h0m-12 15h0m-21 66h0m-47 5h0m73 -43h0m-66 39h0m64 -88h0m-59 65h0m7 -33h0m55 27h0m-84 32h0m-8 -62h0m68 78h0m-23 -117h0m34 8h0m-4 -8h0m-13 -7h0m-28 112h0" stroke="#2c2080" stroke-width="4.4"/><path d="M266 692h0m-80 -23h0m-26 -31h0m28 91h0m52 -8h0m-13 -111h0m-69 106h0m42 -98h0m-20 87h0m20 -45h0m-58 -22h0m29 89h0m58 -67h0m35 -10h0m-100 50h0m15 33h0m29 -123h0m40 55h0m-21 -50h0m-88 64h0m94 -30h0m5 -4h0m-7 61h0m-38 -1h0m21 -101h0m46 64h0m-91 5h0m29 64h0m6 -84h0m-46 -35h0m58 89h0m-29 -43h0m27 -18h0m14 75h0m-77 -96h0m19 87h0m32 -27h0m17 -65h0m-20 51h0m25 6h0m25 -52h0m-110 43h0m27 -22h0m-15 42h0m-6 -41h0m30 -33h0m15 91h0m-40 -69h0m72 31h0m-70 -33h0m23 54h0m61 -38h0m-99 3h0m104 -44h0m-34 101h0m-58 -41h0m93 22h0m-65 40h0m76 -23h0m8 -45h0m-1 -4h0m-64 -19h0m-38 69h0m69 -55h0m-88 31h0m31 -50h0m55 93h0m2 -7h0m-66 -43h0m84 -35h0m19 32h0m-110 35h0m19 -53h0m2 -17h0m13 85h0m8 -78h0m-1 -14h0m-40 66h0m96 5h0m-64 20h0m19 -68h0m-33 -41h0m25 30h0m-41 11h0m6 46h0m77 -12h0m-83 -7h0m32 22h0m6 -36h0m65 -42h0m-43 29h0m-46 16h0m94 -27h0m-53 85h0m-70 -85h0m67 55h0m-3 -61h0m10 19h0m48 22h0m-59 45h0m-41 -64h0m-20 -13h0m52 -7h0m68 38h0m-112 -15h0m73 -41h0m-83 15h0m14 65h0m47 -70h0m52 67h0m-48 -23h0m50 -11h0m-57 13h0m32 -63h0m-45 76h0m74 -33h0m5 -1h0m-65 -13h0m53 73h0m-18 -72h0m-32 64h0m-24 -56h0m22 76h0m-12 2h0m6 -107h0m-50 51h0m110 20h0m-56 40h0m-51 -33h0m8 -47h0m11 -1h0m61 46h0m-75 -46h0m55 -16h0m18 65h0m-80 -3h0m33 -77h0m92 59h0m-36 -43h0m-86 47h0m72 -40h0m-51 32h0m-29 -28h0m32 11h0m63 53h0m-86 -25h0m80 -57h0m-21 31h0m-32 58h0m68 -6h0m16 -69h0m1 36h0m-123 -25h0m87 -36h0m31 55h0m-89 32h0m-16 6h0m85 -71h0m-95 48h0m11 15h0m111 -40h0m-33 36h0m-78 -27h0m43 12h0m25 -67h0m37 63h0" stroke="#4434a4" stroke-width="4.4"/><path d="M249 622h0m-47 101h0m16 -22h0m36 2h0m-55 -10h0m-3 21h0m40 -26h0m16 -65h0m-71 46h0m-30 10h0m25 -55h0m81 67h0m-40 -60h0m-52 34h0m21 -10h0m68 -31h0m-26 18h0m-16 53h0m-44 -78h0m59 99h0m-61 -106h0m-20 89h0m59 -88h0m5 -3h0m-24 -3h0m-48 42h0m114 68h0m-1 -68h0m-59 19h0m61 -3h0m-48 11h0m16 31h0m-16 26h0m42 -70h0m-108 8h0m36 37h0m39 -88h0m26 32h0m-48 24h0m1 15h0m59 -61h0m-3 7h0m-109 59h0m10 0h0m46 -27h0m53 36h0m-106 -32h0m46 49h0m52 -66h0m-44 6h0m-14 18h0m34 -77h0m-75 87h0m52 24h0m31 -2h0" stroke="#3a2c98" stroke-width="6.0"/><path d="M249 687h0m15 -53h0m-116 -2h0m110 46h0m-109 -9h0m95 -32h0m0 -23h0m-38 35h0m32 -5h0m-87 39h0m119 6h0m-79 24h0m49 5h0m-61 -13h0m21 -1h0m-16 -57h0m-29 7h0m31 -40h0m-16 66h0m83 -58h0m-101 53h0m43 -39h0m37 49h0m19 -17h0m-61 -21h0m-9 56h0m4 33h0m-13 -92h0m101 14h0m-12 -17h0m-2 35h0m9 -7h0m-75 2h0m-42 16h0m84 44h0m5 -4h0m-53 -117h0m46 118h0m-72 -6h0m68 -86h0m26 32h0m-96 -39h0m106 58h0m-34 -64h0m-50 71h0m36 25h0m-44 -32h0m-11 -30h0m86 10h0m-93 30h0m48 1h0m-49 -48h0m100 33h0m-102 -36h0m93 -23h0" stroke="#2c2080" stroke-width="6.0"/><path d="M217 612h0m-37 97h0m94 -45h0m-87 -22h0m61 41h0m12 -48h0m-5 46h0m-105 -35h0m67 -34h0m-21 117h0m49 -114h0m-63 75h0m-47 -30h0m5 12h0m107 -57h0m-20 55h0m22 -51h0m-78 4h0m59 19h0m-2 -28h0m-56 12h0m41 15h0m-1 47h0m3 48h0m21 -93h0m-48 7h0m-8 -34h0m3 69h0m-48 -24h0m93 15h0m-45 -70h0m39 19h0m-20 73h0m-55 0h0m37 -90h0m67 45h0m1 7h0m-42 -38h0m15 36h0m11 16h0m-78 25h0m8 -39h0m85 -2h0m-59 32h0m57 -36h0m-110 32h0m33 -10h0m70 4h0m-99 -34h0m34 1h0m88 19h0m-5 29h0" stroke="#4434a4" stroke-width="6.0"/><path d="M233 611h0m41 56h0m-99 47h0m70 6h0m-65 -18h0m-12 -15h0m94 -56h0m-1 4h0m-35 100h0m-57 -113h0m11 96h0m1 13h0m73 -82h0m-29 -35h0m2 48h0m40 -7h0m-111 44h0m73 -86h0m38 66h0m-17 -8h0m2 3h0m-4 23h0m-23 -47h0m-64 -20h0m68 29h0m-27 31h0m-11 29h0m70 -47h0m-80 48h0m-23 -92h0m93 31h0m-82 19h0m34 -61h0m27 -11h0m-22 10h0m-41 40h0m12 11h0m-18 -2h0m-18 25h0m3 -26h0m123 0h0m-72 30h0m-18 -38h0m46 79h0m9 -100h0m-72 -22h0m101 19h0" stroke="#3a2c98" stroke-width="7.6"/><path d="M247 623h0m22 25h0m-48 68h0m-17 -109h0m44 73h0m-21 -69h0m-20 82h0m21 -74h0m-75 63h0m81 27h0m-32 5h0m67 -36h0m-69 -51h0m-43 78h0m56 -28h0m55 -14h0m-96 4h0m3 36h0m74 -42h0m-53 -61h0m7 69h0m4 -66h0m14 87h0m-75 -60h0m13 30h0m-14 41h0m25 19h0m62 -101h0m-35 63h0m63 22h0m-67 -68h0m-14 81h0m25 -55h0m57 12h0m-61 50h0m14 14h0m46 -75h0m2 22h0m-30 -7h0m28 -19h0m-4 43h0" stroke="#2c2080" stroke-width="7.6"/><path d="M208 687h0m-54 27h0m68 -93h0m3 42h0m-7 33h0m-16 -91h0m5 5h0m20 54h0m-62 44h0m69 22h0m-89 -29h0m36 -64h0m20 33h0m52 -19h0m-13 70h0m-83 -82h0m-13 50h0m103 26h0m-46 -12h0m6 -31h0m-11 23h0m-42 -61h0m-3 80h0m79 -7h0m-52 -43h0m12 49h0m23 -82h0m8 47h0m-12 56h0m44 -15h0m-1 -22h0m-14 -44h0m0 -36h0m-56 11h0m6 33h0m41 68h0m-3 -120h0m-27 -7h0m-59 79h0m56 -68h0m-21 40h0m43 -5h0m-38 48h0m84 -1h0m-114 -29h0m8 -44h0m7 70h0m23 23h0m-22 4h0" stroke="#4434a4" stroke-width="7.6"/><path d="M210 714h0m-43 -105h0m84 44h0m-73 -17h0m4 -27h0m87 41h0m-1 -1h0m-61 -21h0m-9 38h0m8 -32h0m-44 1h0m20 6h0m-7 58h0m33 36h0m41 -25h0m-51 -72h0m15 -13h0m-16 12h0m-25 65h0m-19 -30h0m78 -62h0m-46 20h0m-1 56h0m-21 -60h0m17 64h0m69 15h0m-41 30h0m31 -127h0m-52 124h0m60 -13h0m-74 3h0m10 -71h0m7 -50h0m-4 92h0" stroke="#3a2c98" stroke-width="9.2"/><path d="M210 725h0m54 -29h0m-40 -21h0m14 8h0m22 -6h0m-29 -36h0m-95 13h0m65 -1h0m56 0h0m-20 60h0m-54 22h0m62 -78h0m-10 23h0m-29 57h0m28 -84h0m22 12h0m-63 -46h0m-24 27h0m22 -5h0m58 49h0m-61 41h0m21 -19h0m13 23h0m-47 -96h0m97 44h0m-79 -47h0m6 9h0m-26 2h0m12 -27h0m-6 -2h0m0 87h0m-9 -31h0m79 28h0m8 -8h0m-12 30h0m24 -45h0m-109 43h0m64 3h0m-54 -38h0" stroke="#2c2080" stroke-width="9.2"/><path d="M204 668h0m-22 35h0m25 -92h0m-20 33h0m-21 5h0m16 -21h0m70 54h0m-20 -58h0m16 83h0m-55 21h0m-18 -19h0m-28 -38h0m70 -9h0m-50 16h0m3 -33h0m27 -10h0m-15 77h0m81 -62h0m-87 -46h0m-13 26h0m28 19h0m42 79h0m-30 -42h0m-29 30h0m45 3h0m40 -40h0" stroke="#4434a4" stroke-width="9.2"/></g>
<circle cx="204.3" cy="668.6" r="69.60000000000001" fill="none" stroke="#3a3580" stroke-opacity="0.45" stroke-width="1.2"/>
<circle cx="365.4" cy="668.6" r="70.2" fill="#b4b2c8"/>
<g clip-path="url(#pc5)" fill="none" stroke-linecap="round"><path d="M350 668h0m47 44h0m-45 -103h0m-18 52h0m-18 -33h0m32 70h0m-8 -30h0m58 4h0m0 -38h0m17 20h0m-75 32h0m-30 19h0m38 17h0m-37 -66h0m31 2h0m86 11h0m-101 -33h0m52 -26h0m-5 -6h0m41 112h0m-9 -63h0m-80 10h0m9 39h0m36 -31h0m59 19h0m-60 -86h0m32 11h0m-59 4h0m25 66h0m57 -22h0m-62 -14h0m35 9h0m-86 -9h0m27 29h0m64 -64h0m-2 34h0m25 14h0m3 -22h0m-67 -35h0m-20 84h0m48 37h0m-29 -111h0m-56 68h0m49 -33h0m-18 77h0m28 -87h0m7 -8h0m63 44h0m-106 50h0m58 -45h0m1 23h0m-55 1h0m-13 -80h0m108 46h0m-115 41h0m71 -13h0m33 2h0m9 -38h0m-14 -10h0m-66 15h0m62 19h0m-39 -82h0m56 53h0m-67 -9h0m-48 0h0m-1 21h0m37 22h0m29 6h0m-10 12h0m-38 -16h0m74 -72h0m1 81h0m-45 -99h0m41 11h0m-8 115h0m-52 -109h0m63 61h0m-35 -41h0m37 69h0m-53 -28h0m36 -33h0m15 31h0m-65 18h0m2 26h0m43 -96h0m14 15h0m-71 44h0m62 18h0m-49 -96h0m46 37h0m6 76h0m14 -92h0m-9 31h0m-25 -9h0m-17 39h0m24 -62h0m-40 10h0m62 28h0m-37 49h0m-41 -24h0m114 -11h0m-15 6h0m-57 -83h0m-26 59h0m2 14h0m88 -44h0m-97 95h0m16 -49h0m17 -54h0m-16 103h0m72 -33h0m-57 6h0m10 -58h0m-69 4h0m49 -12h0m49 -22h0m-24 16h0m3 68h0m-3 -86h0m24 70h0m22 -10h0m-13 49h0m0 -6h0m-79 -32h0m45 -26h0m29 14h0m-23 62h0m10 -6h0m-72 -83h0m109 28h0m-70 66h0m-15 -72h0m65 23h0m11 -22h0" stroke="#3c30ac" stroke-width="4.0"/><path d="M353 605h0m-49 71h0m36 35h0m26 -79h0m25 32h0m-6 -51h0m-63 101h0m94 -93h0m-94 73h0m42 34h0m-30 -97h0m57 78h0m-74 -85h0m12 90h0m18 -35h0m42 -12h0m-57 -26h0m-27 40h0m94 -72h0m-42 -1h0m-44 20h0m60 43h0m-32 -9h0m18 69h0m32 -52h0m-62 39h0m-32 -37h0m111 -25h0m-34 75h0m-64 -60h0m103 1h0m-101 30h0m30 -88h0m29 25h0m6 79h0m4 -41h0m-64 3h0m48 40h0m3 -70h0m28 55h0m-42 -57h0m51 61h0m18 -19h0m-43 38h0m42 -90h0m-30 -10h0m-69 27h0m79 -44h0m-77 2h0m31 -1h0m5 -12h0m-30 126h0m96 -82h0m-79 6h0m42 6h0m-21 31h0m16 -8h0m-5 -20h0m-13 55h0m-27 -11h0m-23 -1h0m36 -19h0m-24 -38h0m102 26h0m-113 -27h0m82 1h0m-69 36h0m68 -36h0m-67 37h0m-13 -50h0m45 -18h0m-20 13h0m3 4h0m35 55h0m-53 36h0m-10 -93h0m115 53h0m-10 0h0m-80 -58h0m-31 75h0m26 -3h0m-14 8h0m8 -41h0m91 24h0m-51 -56h0m-35 73h0m-4 -6h0m47 -34h0m-5 21h0m-18 -51h0m-52 55h0m48 -85h0m-46 48h0m32 61h0m36 -13h0m-6 37h0m-44 -106h0m53 -2h0m-14 5h0m-19 -16h0m-4 -4h0m-44 38h0m50 33h0m-8 11h0m49 21h0m-13 -112h0m-32 17h0m1 -13h0m13 80h0m14 -13h0m-22 58h0m74 -102h0m-12 17h0m-33 -15h0m-50 78h0m41 -7h0m-1 -36h0m13 34h0m-77 -28h0m33 25h0" stroke="#3226a0" stroke-width="4.0"/><path d="M391 721h0m-51 -102h0m9 80h0m46 18h0m-55 -62h0m40 68h0m31 -92h0m-65 -8h0m25 37h0m-2 -36h0m23 48h0m8 52h0m-71 2h0m9 -59h0m76 40h0m0 -77h0m3 18h0m-65 -16h0m43 66h0m-57 -72h0m35 57h0m-60 -49h0m-8 12h0m46 79h0m-34 -70h0m29 62h0m75 -16h0m-14 -78h0m-108 24h0m50 0h0m-13 32h0m32 36h0m39 -62h0m-104 0h0m86 -16h0m12 18h0m-22 57h0m-82 -53h0m122 36h0m-97 -61h0m3 1h0m-2 -1h0m14 -16h0m18 96h0m43 -60h0m-57 -35h0m71 16h0m-26 78h0m45 -23h0m-114 16h0m66 4h0m-66 -69h0m39 29h0m-5 -43h0m-20 100h0m38 -56h0m-21 43h0m22 -42h0m5 64h0m-23 -33h0m48 -87h0m-39 41h0m-26 65h0m-23 -65h0m22 -6h0m76 7h0m5 -11h0m-89 -13h0m107 41h0m-120 -24h0m60 83h0m-49 -30h0m35 -4h0m-57 -15h0m23 13h0m56 -94h0m-41 40h0m58 70h0m-91 -38h0m17 -10h0m14 32h0m77 -65h0m0 64h0m-108 -41h0m60 -39h0m8 83h0m-71 1h0m86 -53h0m-25 58h0m42 -70h0m-87 31h0m46 17h0m-50 16h0m63 33h0m-34 -30h0m70 -32h0m-42 -17h0m-30 -16h0m31 20h0m-50 2h0m34 7h0m57 -17h0m-113 30h0m71 0h0m-11 -30h0m33 39h0m-56 20h0m-28 -5h0m29 -59h0m5 35h0m68 -30h0m-93 -27h0m-14 16h0m116 7h0m-63 18h0m9 26h0m-13 -35h0m33 -29h0m5 77h0m-61 -22h0m36 -58h0m-13 -18h0m-2 40h0m-56 28h0m30 -30h0" stroke="#4838b0" stroke-width="4.0"/><path d="M335 606h0m-34 67h0m47 -24h0m-17 -41h0m-4 14h0m16 9h0m32 106h0m-60 -22h0m97 -18h0m-79 -61h0m11 52h0m38 -46h0m53 37h0m-57 50h0m-75 -57h0m54 -70h0m2 19h0m1 -16h0m-38 17h0m17 -1h0m16 53h0m35 11h0m-10 -15h0m-33 62h0m-1 -117h0m26 62h0m6 -72h0m39 106h0m-13 -38h0m16 -48h0m-60 81h0m7 -11h0m-9 -83h0m20 35h0m-71 59h0m99 -5h0m-45 -91h0m-43 80h0m29 -66h0m65 81h0m-27 29h0m36 -99h0m-60 -27h0m-17 17h0m41 103h0m22 -43h0m-69 17h0m17 -27h0m-18 -26h0m20 -28h0m13 65h0m-70 -5h0m44 54h0m-19 -52h0" stroke="#3c30ac" stroke-width="5.6"/><path d="M295 669h0m63 42h0m-7 19h0m15 -35h0m33 4h0m-12 -74h0m-65 -9h0m62 -5h0m7 113h0m-27 -62h0m57 -7h0m-70 10h0m32 -2h0m-4 43h0m-60 3h0m96 -17h0m-81 32h0m41 -108h0m46 38h0m-35 24h0m-16 -78h0m4 37h0m-1 58h0m-39 -18h0m28 -39h0m-9 89h0m56 -82h0m-7 13h0m-30 58h0m46 -8h0m-62 -39h0m71 13h0m-59 -1h0m-40 4h0m74 42h0m-8 -10h0m-39 -74h0m-8 -33h0" stroke="#3226a0" stroke-width="5.6"/><path d="M412 618h0m-81 49h0m16 -10h0m17 28h0m-7 -77h0m53 46h0m-33 27h0m-13 -18h0m46 43h0m-36 5h0m5 -20h0m-19 -1h0m20 -44h0m-4 25h0m-67 21h0m80 9h0m-75 -28h0m11 -50h0m80 55h0m16 33h0m-21 8h0m3 -55h0m15 -12h0m-109 27h0m89 26h0m-81 -55h0m36 49h0m-18 -3h0m21 -11h0m-45 13h0m32 -25h0m33 -44h0m42 73h0m-20 -77h0m-86 17h0m-3 30h0m56 49h0m-5 -43h0m-42 0h0m73 34h0m-16 21h0m-70 -44h0m14 3h0m-5 -58h0" stroke="#4838b0" stroke-width="5.6"/><path d="M343 729h0m20 -67h0m57 -30h0m-89 93h0m63 -11h0m-57 -97h0m22 -11h0m53 80h0m-20 -70h0m-18 73h0m40 -30h0m2 49h0m-95 -12h0m82 22h0m-49 4h0m54 -78h0m21 31h0m-84 -49h0m15 92h0m34 -64h0m-10 14h0m-16 2h0m-67 4h0m66 -10h0m-26 36h0m24 -92h0m33 32h0m-93 8h0m-1 -12h0m33 76h0m20 -82h0m28 54h0m-88 -13h0m109 -8h0m-53 -33h0" stroke="#3c30ac" stroke-width="7.2"/><path d="M329 702h0m44 -35h0m24 -4h0m4 -8h0m-88 -20h0m36 59h0m11 4h0m27 -16h0m-10 -33h0m-34 -38h0m19 -3h0m49 99h0m5 -23h0m-43 5h0m59 -35h0m-12 40h0m-32 -88h0m-5 124h0m-45 -108h0m60 24h0m-19 91h0m-22 -130h0m71 36h0m-27 58h0m-2 11h0m8 2h0m-100 -83h0m103 76h0m-97 -60h0m17 61h0" stroke="#3226a0" stroke-width="7.2"/><path d="M429 640h0m-98 -20h0m12 47h0m59 22h0m-32 -46h0m10 48h0m41 -54h0m-96 -4h0m99 27h0m-28 32h0m-29 35h0m-21 -84h0m49 40h0m-9 -62h0m-28 51h0m54 -40h0m-83 36h0m41 34h0m20 -67h0m-50 34h0m1 -25h0m2 -21h0m43 24h0" stroke="#4838b0" stroke-width="7.2"/><path d="M416 646h0m5 65h0m-55 20h0m-52 -42h0m5 -12h0m7 49h0m14 -16h0m73 -86h0m-45 48h0m34 8h0m-69 34h0m0 -30h0m5 -19h0m74 30h0m-72 22h0m62 4h0m-62 -70h0m-14 -12h0m71 23h0m-62 50h0m18 -36h0m61 -11h0m-21 57h0m15 -9h0m-21 19h0m27 -98h0" stroke="#3c30ac" stroke-width="8.8"/><path d="M366 700h0m6 -38h0m54 32h0m-21 -29h0m-46 -53h0m57 24h0m-57 59h0m60 -65h0m-3 53h0m-115 -11h0m58 -15h0m16 -33h0m-23 95h0m-38 -84h0m94 34h0m-13 32h0m24 -24h0m-30 -49h0m-86 72h0m68 -75h0m29 75h0m-99 -17h0" stroke="#3226a0" stroke-width="8.8"/><path d="M408 712h0m-35 -19h0m-8 40h0m2 -100h0m62 61h0m-20 -60h0m4 40h0m-6 -38h0m-101 18h0m55 -45h0m-42 13h0m68 113h0m-85 -59h0m63 14h0m-6 -38h0m23 48h0m-43 -95h0m73 12h0m-50 -14h0m60 26h0m-1 -1h0m-69 109h0m34 -15h0m-45 -60h0m89 6h0m-84 -15h0m42 17h0m35 8h0m10 0h0" stroke="#4838b0" stroke-width="8.8"/></g>
<circle cx="365.4" cy="668.6" r="69.60000000000001" fill="none" stroke="#3a3580" stroke-opacity="0.45" stroke-width="1.2"/>
<circle cx="528.3" cy="668.6" r="70.2" fill="#c8cce0"/>
<g clip-path="url(#pc6)" fill="none" stroke-linecap="round"><path d="M547 693h0m7 -77h0m-83 21h0m115 69h0m-54 -80h0m-58 81h0m21 20h0m80 -26h0m12 -3h0m-99 -47h0m2 17h0m-7 -50h0m96 37h0m-98 3h0m83 -11h0m-27 80h0m-58 -84h0m0 59h0m14 9h0m-30 -30h0m113 12h0m-92 -38h0m108 -6h0m-57 -36h0m-34 61h0m-33 -26h0m34 -34h0m13 77h0m-8 35h0m9 -97h0m-12 19h0m18 22h0m-31 -26h0m18 4h0m-43 11h0m59 13h0m-15 -19h0m72 6h0m-54 -11h0m-60 0h0m30 82h0m1 -73h0m43 -44h0m-24 105h0m64 -56h0m-11 29h0m-1 26h0m-30 -90h0m5 89h0m13 -49h0m-20 65h0m-26 -49h0m68 -48h0m3 52h0m-53 35h0m34 -75h0m-3 -21h0m-40 105h0m44 -6h0m4 -77h0m-56 62h0m-12 -57h0m45 23h0m-16 48h0m-49 -10h0m92 -97h0m-73 14h0m-26 -1h0m14 76h0m12 -55h0m7 -30h0m20 42h0m-38 -36h0m78 -13h0m-101 68h0m60 46h0m-6 -117h0m53 78h0m-74 -48h0m92 12h0m-114 -8h0m69 74h0m-14 17h0m4 -115h0m24 83h0m-78 -82h0m64 -17h0m7 32h0m-88 27h0m7 20h0m5 -20h0m2 -18h0m7 -4h0m-13 45h0m96 -9h0m-54 -34h0m40 -28h0m7 77h0m-70 -4h0m-22 -25h0m24 51h0m67 10h0m21 -52h0m-90 54h0m1 -3h0m15 -42h0m77 23h0m-97 12h0m105 -54h0m-94 -32h0m11 86h0m16 -57h0m-27 22h0m78 14h0m-87 -51h0m85 38h0m16 8h0m-55 -41h0m-33 -35h0m44 7h0m12 85h0m-65 -85h0m53 -10h0m41 28h0m-71 1h0m-39 32h0m1 -1h0m69 33h0m-83 -43h0m47 14h0m38 27h0m25 -29h0m4 -34h0m-36 15h0m-2 28h0m-11 -20h0m36 19h0m-29 7h0m37 -9h0m-67 39h0m90 -57h0m-119 38h0m34 -16h0m36 -21h0m-8 3h0m-17 -49h0" stroke="#4238b4" stroke-width="2.6"/><path d="M487 718h0m59 -102h0m-80 84h0m4 1h0m121 -53h0m-105 62h0m87 -50h0m-99 32h0m33 36h0m-16 -117h0m-27 60h0m7 12h0m54 -63h0m46 91h0m-58 -102h0m67 58h0m-59 -11h0m-49 2h0m80 2h0m-39 67h0m43 -92h0m-42 69h0m8 -53h0m41 -3h0m-104 15h0m58 -22h0m69 47h0m-126 -30h0m59 42h0m57 -13h0m-32 -7h0m-51 -64h0m40 84h0m22 -84h0m-59 22h0m27 -22h0m24 35h0m25 -24h0m22 24h0m-79 67h0m-34 -62h0m12 -34h0m104 39h0m-123 43h0m73 -46h0m-54 -32h0m-21 64h0m97 8h0m-17 -45h0m-45 28h0m39 11h0m-80 -35h0m108 51h0m-20 -21h0m-11 -24h0m-44 18h0m50 -78h0m-10 84h0m-10 -73h0m43 95h0m-46 -45h0m47 18h0m-112 -17h0m63 51h0m40 -95h0m-30 -1h0m38 85h0m-67 -13h0m-6 -44h0m53 60h0m-19 0h0m-41 -95h0m41 125h0m-21 -8h0m-8 -32h0m-19 15h0m78 8h0m-2 -1h0m-19 -38h0m47 -11h0m-104 -56h0m-4 21h0m72 -20h0m3 40h0m-69 -21h0m37 36h0m21 7h0m-31 2h0m46 -56h0m10 74h0m-70 -6h0m55 -68h0m-49 -1h0m-14 -6h0m66 83h0m-64 16h0m19 -41h0m70 -22h0m-72 -39h0m37 33h0m8 -14h0m-81 -7h0m25 12h0m85 -9h0m-52 82h0m-15 -54h0m15 29h0m-21 49h0m-5 -61h0m74 -26h0m-72 24h0m51 -25h0m-24 77h0m50 -52h0m-82 -37h0m35 76h0m-41 10h0m3 -103h0m10 44h0m60 5h0m-5 17h0m3 12h0m-25 -43h0m-20 22h0m-18 7h0m39 -49h0m-3 -11h0m-19 67h0m9 -66h0m0 36h0m0 23h0m3 -28h0m-55 -26h0m69 51h0m-78 11h0m12 21h0m1 -94h0m75 27h0m19 -4h0m-105 47h0m43 -30h0m2 22h0m-42 -4h0m91 12h0m-61 9h0m49 35h0m39 -58h0" stroke="#3a30a8" stroke-width="2.6"/><path d="M479 634h0m102 33h0m-67 -43h0m27 110h0m-29 -102h0m31 2h0m-24 70h0m-5 -63h0m-20 50h0m97 -26h0m-28 -37h0m29 20h0m-14 43h0m-97 -34h0m54 -22h0m-9 -26h0m-2 44h0m12 4h0m-36 61h0m17 -84h0m66 34h0m-46 42h0m33 1h0m-103 -59h0m62 52h0m14 -58h0m-43 82h0m57 -84h0m-8 -35h0m-85 58h0m88 67h0m-29 -30h0m-52 -37h0m60 -40h0m-12 -6h0m-12 58h0m24 -3h0m12 38h0m-34 -52h0m-3 -51h0m55 75h0m26 -13h0m-61 32h0m-43 -16h0m56 -53h0m-28 19h0m42 71h0m-64 -79h0m-9 34h0m24 49h0m33 -55h0m-48 -11h0m90 21h0m-42 -68h0m-42 75h0m89 -28h0m-20 8h0m-50 13h0m79 -12h0m-3 -37h0m-69 91h0m-6 -119h0m-13 124h0m-8 -49h0m85 -23h0m4 -24h0m-113 34h0m53 -3h0m8 -8h0m7 -22h0m39 -15h0m-54 40h0m-14 -7h0m13 37h0m11 21h0m-17 23h0m39 -75h0m22 41h0m-66 -86h0m-21 104h0m-13 -49h0m47 -66h0m-26 3h0m-21 103h0m62 -25h0m-4 -56h0m-44 72h0m-13 -4h0m31 27h0m-19 -113h0m18 22h0m-30 39h0m26 37h0m42 -54h0m-56 68h0m39 -100h0m28 52h0m-84 -12h0m20 -29h0m91 28h0m-24 38h0m34 -39h0m-95 -26h0m-30 11h0m26 7h0m-14 63h0m67 -1h0m-23 -1h0m39 -87h0m-13 86h0m33 -40h0m-55 37h0m-28 -41h0m-15 7h0m41 -54h0m63 75h0m-64 -9h0m42 -70h0m-85 53h0m5 28h0m57 -10h0m0 -45h0m-37 65h0m71 -21h0m-92 -53h0m20 27h0m-9 34h0m-10 -60h0m-18 47h0m41 -37h0m-11 -14h0m-6 -14h0m-4 69h0m11 -20h0m22 -16h0m42 -24h0m-60 83h0m-3 -40h0m-20 48h0m96 -35h0m-75 23h0m-26 -8h0" stroke="#5248c0" stroke-width="2.6"/><path d="M547 690h0m29 -69h0m-14 35h0m-27 -51h0m-16 111h0m-20 0h0m77 -32h0m-11 -40h0m-51 -1h0m-7 31h0m-25 28h0m105 -13h0m-71 -21h0m2 -44h0m20 30h0m-8 28h0m13 53h0m46 -42h0m-87 -12h0m11 29h0m20 -83h0m43 80h0m11 -8h0m-51 -10h0m-47 -43h0m73 72h0m-95 -35h0m111 21h0m-51 19h0m-63 -54h0m21 -13h0m37 -13h0m-24 15h0m99 0h0m-109 15h0m94 -44h0m-56 -25h0m-13 38h0m64 28h0m3 43h0m-87 -57h0m-10 -1h0m17 -31h0m-21 89h0m58 -81h0m16 49h0m28 26h0m-25 -10h0m10 -38h0m8 3h0m5 37h0m-13 -10h0m22 -43h0m0 52h0m-87 2h0m76 -35h0m-84 48h0m92 -9h0m-3 -44h0m1 8h0m-28 -48h0m-2 18h0m-88 12h0m12 60h0" stroke="#4238b4" stroke-width="3.9"/><path d="M534 647h0m46 68h0m-25 -52h0m-65 42h0m3 -87h0m-25 26h0m19 -20h0m-13 25h0m74 -6h0m17 50h0m-61 -13h0m49 0h0m-49 -5h0m46 -47h0m-20 -8h0m-50 29h0m73 -13h0m-51 -14h0m25 88h0m-35 -91h0m40 -8h0m58 72h0m-85 -38h0m27 71h0m22 -75h0m-51 -23h0m55 -4h0m-13 107h0m2 -70h0m-8 19h0m-13 -57h0m10 25h0m53 34h0m-71 66h0m49 -53h0m26 -21h0m-27 2h0m-101 8h0m114 37h0m-33 -105h0m-25 -4h0m35 46h0m-42 42h0m34 -66h0m-12 59h0m42 11h0m-48 -58h0m-63 11h0m28 -7h0m-16 19h0m34 69h0m-5 -114h0m-32 85h0m41 -75h0m32 107h0m-23 -14h0m31 -29h0m-40 -18h0m46 -38h0m-49 17h0" stroke="#3a30a8" stroke-width="3.9"/><path d="M528 705h0m-50 -45h0m-3 20h0m70 30h0m-22 -3h0m18 -102h0m-21 122h0m-35 -5h0m3 -61h0m84 61h0m-87 -4h0m69 16h0m-58 -56h0m12 6h0m23 16h0m-30 -70h0m45 23h0m-79 36h0m-2 8h0m99 -33h0m-83 -39h0m10 83h0m91 -22h0m-83 -54h0m53 56h0m-82 -3h0m44 34h0m3 -105h0m36 44h0m37 -19h0m-38 -25h0m-23 104h0m-11 -9h0m-1 -2h0m19 19h0m-36 -69h0m51 74h0m26 -100h0m-31 -22h0m20 35h0m-40 44h0m28 41h0m-26 -117h0m-36 99h0m26 -52h0m-30 13h0m4 39h0m62 -89h0m-80 26h0m44 22h0m17 -34h0m-25 75h0m10 -81h0m35 29h0m8 54h0m-69 -20h0m95 -40h0m7 28h0m-20 -9h0m-84 48h0m-26 -69h0m77 -21h0m-38 -21h0m20 75h0m-21 3h0m-5 39h0" stroke="#5248c0" stroke-width="3.9"/><path d="M536 609h0m-22 88h0m6 -15h0m15 -15h0m1 64h0m-33 -23h0m55 11h0m-8 6h0m5 -96h0m26 84h0m1 -78h0m-69 -33h0m17 24h0m62 25h0m-11 -28h0m-17 33h0m-8 -41h0m7 -3h0m-29 45h0m-42 47h0m28 -32h0m46 -59h0m-18 94h0m-41 -89h0m21 68h0m-5 31h0m52 -1h0m-43 -114h0m-22 87h0m-41 13h0m93 -16h0m-38 -68h0m53 46h0m-67 54h0m2 -47h0m30 -64h0" stroke="#4238b4" stroke-width="5.2"/><path d="M535 721h0m-52 -71h0m61 24h0m5 -27h0m-11 -46h0m-44 123h0m30 -82h0m45 -25h0m-43 20h0m-52 47h0m122 -6h0m-116 -38h0m79 -15h0m-48 77h0m-23 -47h0m-10 -30h0m40 38h0m77 14h0m-78 55h0m48 -101h0m-17 88h0m22 -19h0m-38 -72h0m-17 8h0m61 52h0m-106 -52h0m68 69h0m31 -25h0m-82 15h0m1 -76h0m69 -9h0m-35 24h0m-45 25h0m27 -55h0m46 123h0m-27 -108h0m-7 0h0m-4 -17h0m81 77h0" stroke="#3a30a8" stroke-width="5.2"/><path d="M497 724h0m5 -2h0m78 -99h0m1 33h0m-13 -32h0m-17 94h0m-47 10h0m66 -31h0m15 -58h0m-79 -11h0m2 39h0m77 -23h0m-95 36h0m37 -77h0m-16 121h0m-2 -90h0m9 -11h0m62 43h0m-95 -27h0m47 -10h0m-46 95h0m69 -100h0m6 104h0m-23 -33h0m39 -17h0m-14 -57h0m-44 90h0m20 -75h0m-35 56h0m44 -60h0m-6 20h0m-27 -4h0m19 -2h0m-61 39h0m76 13h0m-5 -52h0m-30 -42h0m-44 84h0m82 -22h0m-1 52h0m-31 -47h0m-7 38h0m70 -64h0m-2 8h0m-26 -15h0" stroke="#5248c0" stroke-width="5.2"/><path d="M567 660h0m-33 64h0m-69 -53h0m43 50h0m78 -85h0m-118 19h0m91 17h0m-46 61h0m-25 -48h0m-3 20h0m-4 4h0m0 -90h0m106 27h0m-119 40h0m58 -70h0m68 53h0m-83 58h0m-39 -94h0m7 34h0m27 -4h0m51 22h0m-37 -62h0m35 98h0m9 -81h0m-6 -35h0m-62 26h0m20 -30h0m10 65h0m49 52h0m-60 -114h0m-50 46h0m14 -19h0m9 45h0m97 19h0" stroke="#4238b4" stroke-width="6.6"/><path d="M580 687h0m5 -10h0m-110 -16h0m56 47h0m63 -30h0m-51 -68h0m-34 115h0m46 -116h0m-2 16h0m-16 23h0m-50 20h0m102 -17h0m-22 -39h0m-101 29h0m9 53h0m1 -21h0m-11 24h0m58 -84h0m38 37h0m20 31h0m-41 47h0m-29 4h0m-49 -44h0m10 12h0m26 -85h0m-21 70h0m18 -23h0m14 -33h0m-34 35h0m83 -57h0m-36 131h0m12 -104h0m-64 56h0m16 33h0" stroke="#3a30a8" stroke-width="6.6"/><path d="M582 708h0m-23 -15h0m-10 -63h0m42 18h0m-52 -31h0m41 87h0m-105 -7h0m110 -46h0m-95 12h0m31 26h0m-17 -22h0m83 17h0m-99 -46h0m47 58h0m-24 5h0m15 -60h0m-50 46h0m-3 1h0m120 1h0m-46 -58h0m-5 76h0m0 -67h0m45 -2h0m-70 45h0m-34 -46h0m35 84h0m71 -73h0m-38 -5h0m-67 70h0m-6 -44h0m79 -49h0m-63 11h0m-17 58h0m8 8h0m22 -73h0m-11 98h0m3 -69h0" stroke="#5248c0" stroke-width="6.6"/></g>
<circle cx="528.3" cy="668.6" r="69.60000000000001" fill="none" stroke="#3a3580" stroke-opacity="0.45" stroke-width="1.2"/>
<circle cx="204.3" cy="824.8" r="70.2" fill="#c0c0d2"/>
<g clip-path="url(#pc7)" fill="none" stroke-linecap="round"><path d="M173 790h0m85 36h0m-10 -52h0m-63 6h0m7 104h0m-23 -16h0m12 -57h0m-24 39h0m65 17h0m-34 -94h0m22 12h0m-65 77h0m105 -13h0m-89 -57h0m74 25h0m-34 -58h0m-23 97h0m79 -76h0m-101 47h0m18 40h0m61 -39h0m-23 40h0m-37 -72h0m28 55h0m47 -30h0m-88 -22h0m-18 15h0m35 48h0m85 -15h0m-111 -67h0m93 71h0m-73 11h0m24 -67h0m67 -2h0m-50 95h0m35 -114h0m-10 42h0m1 -45h0m-62 87h0m56 -37h0m-20 -2h0m-23 -12h0m4 -33h0m52 13h0m-24 -28h0m0 9h0m22 50h0m-40 -62h0m5 52h0m-39 -35h0m-8 75h0m6 8h0m91 -46h0m-16 -31h0m-5 39h0m-22 75h0m-1 -14h0m19 -97h0m-9 13h0m-44 17h0m77 42h0m-2 -57h0m1 25h0m1 17h0m-16 -60h0m-40 15h0m9 23h0m-15 -31h0m-9 -21h0m72 39h0m-109 -5h0m48 -11h0m33 83h0m-67 -45h0m89 19h0m-45 49h0m20 -49h0m-50 -39h0m69 24h0m-76 1h0m83 39h0m-53 -68h0m-21 -39h0m45 97h0m-54 -41h0m61 39h0m-37 -98h0m-8 58h0m5 28h0m-6 -21h0m79 -13h0m-62 -47h0m-35 31h0m26 59h0m37 27h0m18 -24h0m-75 -35h0m-6 36h0m28 -80h0m18 74h0m16 -10h0m13 1h0m-33 25h0m-51 -69h0m56 86h0m-17 -10h0m54 -98h0m-56 1h0m42 81h0m-104 -31h0m30 -4h0m68 -18h0m-3 53h0m17 -75h0m-56 99h0m57 -76h0m-91 51h0m4 -19h0m44 -81h0m5 32h0m-48 81h0m49 -51h0m-12 -47h0m-29 7h0m56 68h0m9 -1h0m12 -1h0m-55 25h0m-19 -74h0m23 72h0m-11 -82h0m7 82h0m-7 10h0m-35 -45h0m46 54h0m22 -53h0m18 -57h0m-54 93h0m-42 -63h0m89 22h0m23 -53h0m-64 74h0m-22 31h0m2 -4h0m13 -1h0m-18 -89h0m83 92h0m1 -65h0m-18 74h0m-3 -108h0m-14 3h0m-53 74h0m-11 -4h0m91 -28h0m-99 -7h0m20 54h0m11 8h0m1 -39h0m-13 -39h0m16 -7h0m-27 50h0m92 -24h0m-25 -26h0m-32 32h0m5 -33h0m22 98h0m-37 -39h0m7 -65h0m20 35h0m50 -36h0m-77 -11h0m26 -19h0m-56 71h0m74 -29h0m12 -36h0m-16 83h0m-29 -45h0m41 -21h0m-16 3h0m-27 5h0m-26 39h0m95 11h0m-98 -39h0m-12 36h0" stroke="#3c32b4" stroke-width="2.1"/><path d="M161 852h0m24 -13h0m42 -66h0m-13 2h0m4 72h0m29 31h0m1 -31h0m-13 29h0m32 -68h0m-69 39h0m53 -39h0m-79 -10h0m49 -17h0m18 99h0m14 -30h0m-77 -72h0m94 57h0m-78 17h0m20 11h0m-66 -29h0m44 25h0m-8 12h0m74 -72h0m-94 15h0m36 -7h0m-23 -9h0m67 62h0m-88 -43h0m114 23h0m-71 45h0m36 -112h0m-82 54h0m27 16h0m-5 -23h0m-1 -41h0m86 42h0m-114 -29h0m67 -10h0m-8 -4h0m34 33h0m26 29h0m-107 29h0m17 -72h0m47 40h0m-13 2h0m54 -37h0m-37 25h0m-72 25h0m119 -22h0m-95 17h0m-19 -62h0m62 -20h0m-33 32h0m-6 38h0m26 -39h0m-30 78h0m28 -85h0m-33 44h0m18 57h0m73 -84h0m-104 6h0m94 62h0m-18 -82h0m-2 52h0m-11 -72h0m-36 94h0m64 -7h0m-73 -49h0m23 -29h0m51 76h0m-47 -27h0m-28 -16h0m52 -50h0m-66 19h0m90 10h0m6 68h0m-53 -79h0m28 8h0m-17 3h0m-53 64h0m-13 -47h0m116 32h0m-80 10h0m-9 16h0m64 -9h0m-97 -38h0m102 -23h0m-9 36h0m-47 -50h0m37 11h0m-21 97h0m49 -33h0m-39 -24h0m22 -34h0m-67 51h0m70 -29h0m3 -30h0m-81 42h0m6 -67h0m16 21h0m49 69h0m34 -13h0m-118 -16h0m-3 -27h0m54 -24h0m-47 83h0m73 -85h0m0 33h0m16 43h0m-86 -64h0m110 33h0m-80 56h0m-27 -60h0m52 63h0m-10 -88h0m2 -6h0m-33 21h0m36 12h0m-3 -50h0m-12 13h0m-1 7h0m-11 27h0m-3 -18h0m19 -21h0m61 57h0m-54 -71h0m-53 69h0m33 47h0m27 -111h0m13 56h0m41 -28h0m-73 -21h0m-47 80h0m-8 -33h0m98 1h0m-97 6h0m112 27h0m-42 -39h0m-49 -1h0m40 8h0m49 -34h0m-6 81h0m17 -66h0m-38 -44h0m-62 86h0m28 -67h0m40 82h0m-45 -82h0m-10 100h0m77 -40h0m-62 -62h0m-37 81h0m88 4h0m-73 -92h0m18 75h0m31 -6h0m-30 1h0m15 -32h0m-37 24h0m88 36h0m-1 -55h0m-97 -19h0m24 20h0m50 32h0m-80 -30h0m37 1h0m62 65h0m-9 5h0m-1 -73h0m17 -26h0m-39 -18h0m16 82h0m-19 -33h0m-4 -22h0m-58 11h0m26 75h0m2 -95h0m-18 46h0m29 -35h0m31 19h0m16 -33h0m-96 21h0m89 51h0m11 -39h0" stroke="#4a40bc" stroke-width="2.1"/><path d="M222 881h0m-56 -84h0m56 30h0m7 -51h0m-12 75h0m5 15h0m14 -80h0m33 34h0m-77 42h0m-22 -73h0m44 -29h0m-53 75h0m19 -16h0m78 -12h0m-15 3h0m-83 51h0m33 -102h0m17 50h0m53 0h0m-48 8h0m40 6h0m-27 -31h0m-54 35h0m95 -7h0m-71 40h0m-9 15h0m8 -68h0m40 62h0m-13 -62h0m-67 14h0m41 -44h0m47 3h0m15 68h0m-54 -91h0m26 57h0m8 -12h0m20 48h0m-49 23h0m25 -20h0m-29 -47h0m18 -6h0m-39 31h0m27 -61h0m-61 50h0m64 -26h0m-25 67h0m-4 -61h0m-6 1h0m48 30h0m27 -20h0m-51 -43h0m27 14h0m-38 65h0m-11 -83h0m38 64h0m-14 -33h0m-55 72h0m-3 1h0m51 -48h0m63 -21h0m-71 87h0m-50 -70h0m64 -49h0m0 116h0m-64 -30h0m113 20h0m-107 -16h0m57 1h0m-5 -45h0m-45 3h0m115 32h0m-40 -65h0m-84 48h0m33 -8h0m-28 -18h0m65 10h0m-49 32h0m85 -1h0m-23 -19h0m11 49h0m-35 -94h0m21 37h0m13 55h0m-61 -64h0m-33 -17h0m0 -5h0m101 88h0m-24 -43h0m-41 -25h0m-30 2h0m56 17h0m-49 20h0m8 -20h0m32 -15h0m10 -14h0m-1 -13h0m2 -13h0m-17 29h0m50 14h0m-35 36h0m62 -26h0m-45 14h0m-11 -34h0m24 35h0m-5 -69h0m-49 86h0m18 -99h0m38 94h0m-31 -1h0m-3 -87h0m34 53h0m-16 -10h0m-69 -18h0m31 97h0m-29 -11h0m46 -36h0m71 -13h0m-37 39h0m-18 -79h0m21 16h0m-91 22h0m121 26h0m-75 -6h0m-29 -75h0m98 74h0m-19 29h0m-85 5h0m82 -59h0m-65 -45h0m80 92h0m-67 -70h0m8 39h0m-25 -42h0m34 -23h0m-6 84h0m24 31h0m-6 -2h0m-22 -33h0m38 -58h0m-66 57h0m-23 -59h0m21 53h0m32 44h0m3 -32h0m-21 -87h0m58 15h0m-4 91h0m-55 -72h0m27 9h0m21 58h0m-31 -60h0m38 25h0m-15 -71h0m-29 2h0m-2 103h0m44 1h0m-87 -49h0m12 50h0m-9 -11h0m12 -10h0m104 -60h0m-46 0h0m-24 65h0m0 39h0m23 -100h0m6 38h0m-65 5h0m66 -19h0m33 -10h0m-18 -5h0m-46 24h0m70 -22h0m-14 35h0m-55 33h0m-5 -91h0m57 86h0m-36 -12h0m21 -2h0m-25 10h0m54 0h0m-51 -32h0m21 8h0m-57 -37h0m0 56h0m-2 -79h0m-24 67h0m-4 -47h0m42 -32h0m-9 47h0m31 24h0m-31 -55h0m28 57h0m-37 1h0m82 -37h0m-87 32h0m38 43h0m-6 -56h0m17 -6h0m43 21h0m-119 -1h0m36 -31h0m87 -18h0m-43 100h0m-67 -80h0m88 -31h0m-66 61h0m91 -52h0m-47 108h0m35 -76h0m-85 -21h0m40 -7h0" stroke="#3428a8" stroke-width="2.1"/><path d="M251 776h0m7 69h0m-50 32h0m-11 15h0m18 -48h0m10 -59h0m-70 70h0m44 23h0m6 -113h0m-48 9h0m58 16h0m-67 1h0m65 -17h0m-33 64h0m19 40h0m-25 -106h0m57 38h0m-52 37h0m40 -28h0m-39 -43h0m6 38h0m32 -10h0m5 72h0m-79 -70h0m108 13h0m-15 31h0m-31 -31h0m-54 26h0m52 -23h0m-27 62h0m-3 -79h0m52 87h0m17 -52h0m-25 49h0m-7 -39h0m-61 4h0m9 -14h0m67 -32h0m41 16h0m-112 -12h0m14 39h0m46 -82h0m-43 24h0m39 -31h0m19 49h0m-26 81h0m12 -53h0m-8 -72h0m60 48h0m-78 -28h0m46 0h0m30 20h0m4 36h0m-108 -71h0m9 -8h0m54 66h0m10 -52h0m-82 60h0m27 -48h0m76 19h0m-14 64h0m20 -61h0m-7 24h0m-51 -31h0m7 85h0m-26 -120h0m-9 48h0" stroke="#3c32b4" stroke-width="3.0"/><path d="M187 812h0m20 68h0m-25 -81h0m58 37h0m-92 21h0m-5 -30h0m26 -17h0m40 0h0m-69 -11h0m115 -3h0m-76 -36h0m21 78h0m-39 -33h0m-14 20h0m88 61h0m-36 -27h0m-28 -7h0m18 36h0m-27 -118h0m47 81h0m43 -69h0m-76 10h0m51 -5h0m4 11h0m-35 58h0m51 8h0m-37 -102h0m-38 108h0m-5 -93h0m17 -12h0m-40 93h0m116 -11h0m-100 14h0m63 0h0m-5 12h0m-17 -33h0m-41 -40h0m82 -32h0m-14 48h0m-92 12h0m51 63h0m-4 -51h0m-26 23h0m85 -5h0m-103 -23h0m65 -27h0m2 -40h0m-14 91h0m-35 -58h0m53 38h0m-5 23h0m-7 -64h0m3 8h0m14 5h0m-2 -6h0m35 37h0m-91 -18h0m20 15h0" stroke="#4a40bc" stroke-width="3.0"/><path d="M189 800h0m-21 11h0m96 21h0m-78 -73h0m81 76h0m-44 -55h0m-45 106h0m64 -7h0m-21 -9h0m6 -31h0m-84 -1h0m26 -59h0m-11 44h0m20 41h0m45 -95h0m-12 57h0m10 55h0m6 -46h0m-27 20h0m51 -81h0m-41 31h0m-11 19h0m45 -53h0m-7 97h0m4 1h0m-18 12h0m-45 -5h0m48 -17h0m-4 -36h0m-7 -32h0m18 82h0m-23 -21h0m40 -23h0m-74 46h0m43 -62h0m36 27h0m-6 -57h0m-48 58h0m57 -42h0m-31 82h0m34 -32h0m-43 39h0m-22 -7h0m-1 -24h0m51 -11h0m-78 -59h0m-9 39h0m77 -28h0m15 35h0m-32 30h0m-10 -70h0m-45 -19h0m75 18h0m-51 19h0m39 78h0m-4 -18h0m-17 -59h0m-31 -8h0m-31 26h0m118 -23h0m-95 23h0" stroke="#3428a8" stroke-width="3.0"/><path d="M246 820h0m-29 20h0m38 27h0m-90 -4h0m40 -91h0m-7 71h0m-53 -5h0m55 23h0m34 -78h0m-53 78h0m51 0h0m-37 -78h0m42 52h0m10 -4h0m-25 -63h0m37 100h0m-70 -42h0m24 36h0m22 -48h0m-94 18h0m101 -64h0m-4 77h0m22 13h0m-36 -57h0m-5 29h0m27 -35h0m26 44h0m-66 -55h0m-12 -13h0m6 76h0m-41 28h0m-1 -14h0m64 22h0m1 -84h0m-31 70h0m-49 -60h0m87 15h0m-9 -12h0m-4 77h0m-19 -25h0m3 -81h0m-6 -27h0m25 86h0m20 29h0m-14 -20h0m-2 -37h0m-22 -17h0m57 10h0m-66 16h0m-36 -11h0m95 -8h0m-5 70h0m-49 -80h0m22 -2h0m-51 58h0m33 -70h0m-22 72h0m-13 -64h0m90 44h0m-15 1h0m15 5h0m-59 13h0m-49 -37h0" stroke="#3c32b4" stroke-width="4.0"/><path d="M237 770h0m-2 38h0m15 53h0m-59 -48h0m76 -6h0m-67 11h0m-61 14h0m23 23h0m94 -9h0m-10 -29h0m-11 -26h0m-78 -6h0m40 10h0m13 8h0m-40 -35h0m13 -1h0m16 105h0m45 5h0m-32 4h0m-24 4h0m41 -108h0m-28 14h0m41 34h0m-7 33h0m14 -66h0m-35 56h0m33 0h0m15 -45h0m-35 14h0m-61 59h0m16 -106h0m41 29h0m34 -16h0m-106 10h0m-11 41h0m48 29h0m5 -95h0m21 77h0m-25 8h0m-37 -52h0m118 41h0m-9 -6h0m-29 -69h0m-50 98h0m-41 -20h0m115 -55h0m-19 19h0m5 -17h0" stroke="#4a40bc" stroke-width="4.0"/><path d="M224 859h0m26 8h0m-90 0h0m93 -2h0m-37 -51h0m29 -25h0m-5 48h0m-59 -55h0m17 66h0m42 -14h0m-7 -68h0m-70 35h0m53 13h0m-30 75h0m53 -14h0m-30 -113h0m23 55h0m-77 15h0m85 42h0m-46 -56h0m56 -31h0m-4 13h0m-79 1h0m34 82h0m-44 -21h0m31 -76h0m9 -15h0m13 87h0m4 -8h0m30 -17h0m-72 -24h0m50 6h0m32 47h0m-98 -22h0m74 -43h0m-64 43h0m31 3h0m16 1h0m8 35h0m-1 7h0m-50 -122h0m-12 18h0m90 64h0m-47 -65h0m-42 40h0m75 -12h0m-30 21h0m7 12h0" stroke="#3428a8" stroke-width="4.0"/><path d="M164 777h0m-14 62h0m74 49h0m-43 -39h0m-38 1h0m85 0h0m-29 -65h0m-18 101h0m-18 -96h0m72 11h0m-11 82h0m-67 -61h0m88 46h0m-67 -68h0m-18 13h0m81 36h0m-14 -12h0m-59 -41h0m92 13h0m-60 29h0m-1 22h0m-22 -28h0m39 -8h0m-27 -61h0m-28 99h0m38 -68h0m-25 50h0m-33 5h0m30 -34h0m0 -40h0m9 62h0m-31 -27h0m61 -12h0m-10 71h0m46 -82h0m-93 64h0m25 -64h0m5 101h0m19 -38h0m54 -18h0" stroke="#3c32b4" stroke-width="4.9"/><path d="M148 847h0m14 31h0m8 -56h0m0 -6h0m2 70h0m51 -27h0m-69 -43h0m52 9h0m-31 42h0m48 10h0m-35 -27h0m-51 -25h0m102 -44h0m-57 0h0m22 6h0m-27 7h0m51 62h0m3 -49h0m25 18h0m-65 40h0m-48 -7h0m62 -12h0m30 -43h0m25 9h0m-107 0h0m63 66h0m-51 -3h0m-14 -48h0m87 -61h0m-56 28h0m42 40h0m-83 -31h0m114 49h0m10 -6h0m-75 -16h0m38 -41h0m25 -3h0m-62 11h0m-22 33h0m68 5h0m17 -29h0m-75 8h0m21 57h0m32 -18h0m-52 32h0m-5 -108h0" stroke="#4a40bc" stroke-width="4.9"/><path d="M200 831h0m70 16h0m-46 -35h0m-12 36h0m22 -66h0m39 54h0m-82 36h0m66 -23h0m-14 -54h0m-22 -34h0m-38 4h0m41 86h0m-48 -4h0m-5 -41h0m-17 32h0m46 32h0m-29 -3h0m17 -85h0m56 20h0m-24 46h0m-21 40h0m-36 -41h0m99 -17h0m-34 -35h0m-8 -12h0m-34 80h0m19 20h0m-14 -126h0m56 66h0m-83 9h0m58 41h0m-26 -22h0m-27 13h0m43 -70h0m-31 -21h0m1 43h0m-4 9h0m41 -41h0m-34 63h0m-23 29h0" stroke="#3428a8" stroke-width="4.9"/></g>
<circle cx="204.3" cy="824.8" r="69.60000000000001" fill="none" stroke="#3a3580" stroke-opacity="0.45" stroke-width="1.2"/>
<circle cx="365.4" cy="824.8" r="70.2" fill="#d2d6e4"/>
<g clip-path="url(#pc8)" fill="none" stroke-linecap="round"><path d="M358 826h0m-11 -15h0m52 -13h0m-18 -7h0m-57 26h0m50 60h0m20 -63h0m28 -22h0m-54 -2h0m-36 55h0m-26 -49h0m124 19h0m-87 1h0m18 79h0m53 -72h0m-35 -22h0m-55 47h0m-20 -32h0m94 42h0m-80 -67h0m24 44h0m52 -22h0m-48 31h0m35 -12h0m-40 -69h0m-8 15h0m-29 48h0m36 4h0m-36 -33h0m77 11h0m12 22h0m-3 -6h0m-15 0h0m-70 -19h0m95 -18h0m-77 -10h0m29 32h0m8 26h0m2 -5h0m-36 24h0m102 -42h0m-100 -43h0m49 105h0m-25 -20h0m-24 -3h0m72 1h0m-87 -26h0m31 55h0m32 6h0m-70 -83h0m40 68h0m-14 14h0m72 -6h0m-79 -31h0m-5 2h0m-18 -1h0m79 -12h0m-46 39h0m0 -111h0m-18 10h0m91 -6h0m-8 113h0m-50 -82h0m52 76h0m-17 -43h0m-30 -56h0m8 -22h0m22 15h0m29 81h0m-32 -12h0m-32 30h0m59 -1h0m-86 -70h0m49 21h0m-38 50h0m62 -54h0m-95 -14h0m77 -23h0m-17 116h0m-6 -77h0m14 40h0m-17 -76h0m-8 32h0m84 33h0m-42 -42h0m41 38h0m-46 -9h0m-39 24h0m31 -56h0m48 3h0m-40 46h0m34 -38h0m-15 62h0m27 -17h0m-41 -62h0m-36 -15h0m48 102h0m32 -79h0m-68 18h0m-10 -21h0m75 33h0m-98 -43h0m-30 27h0m79 4h0m-43 -26h0m-7 16h0m31 15h0m47 40h0m-59 9h0m34 -100h0m-15 2h0m20 92h0m22 7h0m-53 -103h0m76 54h0m-28 31h0m-88 -8h0m85 28h0m-26 -32h0m-59 -23h0m70 -33h0m-7 -19h0m55 41h0m-63 46h0m-20 21h0m71 -86h0m-8 67h0m-10 20h0m10 -80h0m-3 63h0m-85 -92h0m3 93h0m75 11h0m-79 2h0m89 -68h0m-20 -28h0m27 28h0m-95 21h0m47 1h0m-46 -45h0m63 43h0m12 -15h0m-83 -14h0m111 -4h0m-106 -16h0m29 -10h0m59 70h0m-71 27h0m78 -56h0m-107 18h0m-7 -38h0m76 43h0m-22 42h0m-1 8h0m15 -88h0m32 75h0m-53 -70h0m18 -1h0m-34 -7h0m12 1h0m-2 62h0m52 -72h0m-32 38h0m-34 -22h0m65 22h0m-13 -20h0m-44 68h0m8 -77h0m-2 41h0m75 -5h0m5 -32h0m-31 29h0m-16 -65h0m-21 69h0m64 15h0m-24 25h0m-34 -109h0m31 52h0m-93 25h0m108 -38h0m-36 -32h0m38 80h0m-33 -82h0m-13 5h0m61 43h0m-34 47h0m-45 -4h0m55 -21h0m-36 -61h0m-44 12h0m-1 42h0m27 1h0m7 -16h0m69 4h0m-30 63h0m-69 -64h0m86 -29h0m-20 -29h0m-82 82h0m27 -28h0m21 -39h0m44 2h0m-97 54h0m18 -39h0m85 7h0m-2 18h0m-101 -25h0m9 -11h0m43 24h0m-20 77h0m9 -58h0m10 -38h0m-10 103h0m-34 -43h0m44 -31h0m66 46h0m-43 18h0m-58 -90h0m110 46h0m-94 51h0m-14 -108h0m59 18h0m-7 -17h0m25 38h0m-14 48h0m20 -82h0m-37 24h0m-22 -46h0m-11 61h0" stroke="#3c34b8" stroke-width="2.1"/><path d="M331 781h0m78 33h0m-31 25h0m-73 16h0m30 25h0m-19 -100h0m112 63h0m-41 -47h0m6 55h0m-87 -35h0m122 -8h0m-86 -15h0m51 -25h0m27 89h0m-101 -5h0m15 4h0m45 31h0m-9 -112h0m-17 98h0m41 -64h0m11 -14h0m-12 46h0m13 -64h0m-45 92h0m-53 -7h0m100 -47h0m-83 49h0m40 13h0m61 -75h0m-92 62h0m64 -48h0m-94 -3h0m63 -9h0m-32 61h0m-7 -15h0m67 25h0m22 -31h0m-84 28h0m-15 -76h0m49 -1h0m65 8h0m-82 -3h0m-34 48h0m18 15h0m-23 -64h0m56 1h0m20 66h0m-12 -97h0m-4 111h0m-63 -37h0m18 -65h0m22 92h0m9 -103h0m32 0h0m-58 10h0m35 40h0m-1 18h0m25 -11h0m-56 -26h0m16 -41h0m3 1h0m-23 50h0m54 55h0m-37 -10h0m57 -24h0m4 -49h0m-54 112h0m28 -48h0m-54 -23h0m90 -39h0m-70 107h0m26 -9h0m-33 -96h0m-19 4h0m36 -25h0m29 99h0m-39 -71h0m60 -4h0m-103 68h0m100 -87h0m-106 67h0m104 -28h0m-41 -46h0m3 2h0m46 77h0m-76 -73h0m-8 64h0m62 -32h0m-33 37h0m36 -38h0m-12 60h0m34 -51h0m-30 61h0m-74 -48h0m120 16h0m-128 1h0m48 -34h0m6 23h0m18 16h0m-36 -12h0m78 -32h0m-2 -23h0m-34 103h0m-75 -43h0m50 -6h0m-25 -32h0m26 53h0m10 30h0m4 -57h0m-48 -6h0m92 -12h0m-11 28h0m-28 42h0m-65 -88h0m80 95h0m41 -78h0m-68 33h0m-28 25h0m-2 -97h0m17 120h0m17 -50h0m-47 41h0m92 -16h0m-47 -77h0m-28 79h0m48 -77h0m25 72h0m-82 2h0m63 -24h0m-55 -58h0m27 4h0m27 -21h0m-39 68h0m23 -41h0m25 30h0m-49 52h0m38 -15h0m-14 2h0m29 -13h0m17 -54h0m6 61h0m-1 3h0m-96 -74h0m15 -15h0m75 87h0m-55 -41h0m52 -12h0m-52 57h0m-1 -23h0m-65 -16h0m51 40h0m42 -51h0m-14 77h0m29 -4h0m-5 -82h0m23 27h0m-83 28h0m49 -5h0m-23 -46h0m-37 27h0m13 -45h0m7 36h0m16 -18h0m-65 10h0m50 -10h0m0 58h0m12 -64h0m2 75h0m61 -61h0m-59 71h0m49 -97h0m-13 -16h0m13 25h0m-30 -26h0m-24 17h0m40 8h0m-28 96h0m41 -56h0m12 -29h0m-98 5h0m84 65h0m-80 -63h0m-1 -40h0m8 33h0m-14 76h0m29 -33h0m-55 -14h0m93 -8h0m-94 20h0m109 -45h0m-43 79h0m2 -102h0m-9 89h0m42 -36h0m-32 49h0m-15 15h0m18 -96h0m-68 17h0m31 -29h0m29 64h0m-18 -60h0m-31 78h0m36 20h0m-41 -63h0m30 13h0m35 -45h0m-63 42h0m33 -51h0m-40 61h0m74 -21h0m-58 4h0m69 -5h0m-39 -52h0m-44 20h0m103 75h0m-66 -44h0m82 1h0m-59 -1h0m-28 -41h0m-35 47h0m104 36h0m-106 -14h0m81 -14h0m6 1h0m-6 -77h0m15 60h0m-93 7h0m23 5h0m40 55h0m-50 -49h0m-16 6h0m39 6h0m12 -53h0m-18 20h0m27 33h0m58 -21h0" stroke="#4a42c0" stroke-width="2.1"/><path d="M388 829h0m25 -31h0m-95 -7h0m23 52h0m27 -63h0m25 20h0m-34 -33h0m-7 38h0m23 48h0m46 -39h0m-126 11h0m55 39h0m25 -46h0m23 5h0m-51 -24h0m11 30h0m-61 10h0m35 -76h0m19 78h0m12 3h0m9 -18h0m35 9h0m23 -32h0m-100 69h0m91 -65h0m-18 51h0m-103 -34h0m92 59h0m-17 -8h0m-35 -55h0m21 10h0m45 40h0m-61 17h0m13 -72h0m-33 -18h0m85 68h0m-36 -85h0m-66 71h0m20 -7h0m30 -73h0m-50 50h0m18 12h0m100 -37h0m-88 -21h0m-19 10h0m49 81h0m36 -73h0m-86 75h0m7 -61h0m-14 -1h0m14 65h0m64 -61h0m39 -10h0m-107 69h0m78 -91h0m7 35h0m-14 -2h0m-6 -45h0m25 83h0m-1 -26h0m23 0h0m-30 55h0m-20 -1h0m-18 -69h0m-51 46h0m22 -91h0m18 34h0m-48 31h0m26 37h0m70 -44h0m-21 5h0m31 -5h0m-90 4h0m112 -9h0" stroke="#3c34b8" stroke-width="3.0"/><path d="M350 816h0m-41 -10h0m-1 34h0m6 -49h0m81 77h0m-49 -22h0m-8 -45h0m20 66h0m28 19h0m-41 -22h0m20 -51h0m31 50h0m-24 14h0m60 -60h0m-68 -60h0m65 69h0m-68 -63h0m-21 117h0m50 -47h0m-46 -27h0m-22 43h0m23 -20h0m-9 -23h0m76 24h0m-69 -25h0m71 63h0m-84 -83h0m0 77h0m-15 -39h0m18 -48h0m64 -7h0m-44 44h0m25 27h0m0 -21h0m-11 17h0m39 -10h0m9 -34h0m-69 7h0m36 92h0m-79 -40h0m120 -9h0m-91 -7h0m82 -26h0m-39 75h0m-30 -22h0m-30 -80h0m82 23h0m-80 14h0m22 -16h0m-6 66h0m6 -107h0m-18 62h0m55 -17h0m-15 27h0m39 3h0m27 -14h0m2 -15h0m-20 27h0m-60 -44h0m-11 16h0m27 43h0m-33 -80h0m-9 64h0m60 -17h0m-35 76h0m43 -49h0m-9 -12h0m-76 -22h0m-8 1h0m28 60h0m4 -67h0m28 -45h0m-28 20h0m92 25h0m-45 36h0m25 32h0m-4 -6h0m-24 -58h0m56 25h0m-1 12h0m-74 43h0m42 -3h0m-29 -41h0m16 -7h0m-46 -52h0m70 41h0m-59 44h0m41 -61h0m6 47h0m-54 26h0m20 -50h0m3 -17h0m19 13h0m-85 10h0m110 -36h0" stroke="#4a42c0" stroke-width="3.0"/><path d="M310 822h0m17 -49h0m69 103h0m0 -113h0m11 110h0m-73 -68h0m26 53h0m40 24h0m-28 -20h0m34 -50h0m-44 5h0m47 -44h0m6 83h0m-10 13h0m-53 -104h0m9 115h0m-65 -49h0m8 -18h0m43 -53h0m-17 99h0m22 7h0m21 -69h0m-66 18h0m-2 4h0m97 49h0m-47 -2h0m-25 -33h0m31 -36h0m46 52h0m-31 -61h0m-13 12h0m-38 23h0m24 30h0m-10 -21h0m-8 22h0m92 -28h0m6 -7h0m-70 -37h0m-29 57h0m55 -70h0m-19 97h0m44 2h0m-3 -75h0m6 -4h0m8 3h0m-16 64h0m-41 -44h0m-19 49h0m17 -57h0m-27 -35h0m54 -9h0m20 29h0m-3 93h0m-59 -86h0m4 92h0m21 -98h0m36 68h0m-3 -34h0m-6 3h0m-64 4h0m81 26h0m-18 -93h0m-65 64h0m-25 30h0m30 -2h0m39 -6h0m45 -67h0m-85 20h0m36 11h0" stroke="#3c34b8" stroke-width="4.0"/><path d="M321 810h0m86 14h0m-30 47h0m4 -101h0m-22 89h0m-50 -39h0m75 14h0m-22 -60h0m67 46h0m-59 11h0m16 -15h0m32 -28h0m-59 21h0m-8 7h0m-25 62h0m51 -49h0m37 27h0m-68 15h0m76 -20h0m-85 -32h0m50 60h0m24 -50h0m-71 -70h0m62 68h0m-28 -46h0m-47 -13h0m37 124h0m-20 -38h0m32 22h0m-71 -37h0m121 -30h0m-90 10h0m75 23h0m-95 26h0m41 -33h0m-17 -63h0m25 8h0m-14 62h0m-14 30h0m26 8h0m-25 -12h0m65 -79h0m-8 14h0m-57 -24h0m44 97h0m-8 -37h0m-13 -4h0m-2 -2h0m26 -69h0m45 40h0m-31 14h0m-64 54h0m33 -20h0m29 -10h0m-2 40h0m-81 -66h0m45 34h0m-31 -84h0m33 29h0m-17 -29h0m-33 55h0m41 -25h0m34 84h0m-49 -58h0m-3 30h0m-13 -66h0m52 34h0m42 -18h0m7 -7h0m-55 65h0m-60 -74h0m78 72h0m20 -32h0m-109 -5h0m79 23h0m-18 5h0m-35 20h0m39 -1h0m-26 -78h0m-11 73h0m23 0h0" stroke="#4a42c0" stroke-width="4.0"/><path d="M347 795h0m35 23h0m3 -50h0m19 6h0m-58 27h0m33 37h0m-58 -56h0m-16 35h0m60 27h0m-12 -2h0m62 -66h0m-37 11h0m14 8h0m8 4h0m1 60h0m0 -40h0m10 -7h0m-22 17h0m-7 36h0m-15 -87h0m-38 52h0m10 -11h0m-35 37h0m116 -74h0m-25 56h0m-8 -68h0m-14 29h0m-66 -6h0m92 64h0m-18 15h0m38 -21h0m-29 14h0m-83 -75h0m5 11h0m61 -28h0m-65 11h0m92 50h0m-73 43h0m26 -31h0m-53 1h0m56 -34h0m43 -45h0m-61 102h0m17 -28h0m30 -7h0m-57 33h0m-18 -75h0m16 56h0m19 3h0m-6 -61h0m32 -8h0m5 84h0m-27 -83h0m28 22h0m44 44h0m-7 7h0" stroke="#3c34b8" stroke-width="4.9"/><path d="M339 818h0m55 -29h0m-41 -32h0m48 120h0m-67 -82h0m-8 64h0m5 -68h0m40 100h0m-35 -92h0m31 95h0m9 -116h0m18 46h0m-86 -2h0m1 5h0m41 26h0m52 2h0m-56 -20h0m37 19h0m0 -84h0m4 115h0m-52 -120h0m23 23h0m28 29h0m-42 -47h0m55 67h0m-62 16h0m-31 -27h0m31 47h0m26 -104h0m-21 14h0m26 105h0m-16 -18h0m-1 -43h0m-16 29h0m46 -36h0m33 16h0m-30 42h0m-80 -32h0m14 20h0m106 -7h0m-21 -82h0m-35 76h0m-12 3h0m48 -2h0m23 -49h0m-103 -37h0m64 85h0m-61 -53h0m-15 -6h0m72 -12h0m16 102h0m17 -86h0m-2 14h0m-8 49h0m4 -82h0m-96 4h0m64 20h0m7 -41h0m-20 89h0m-38 -80h0" stroke="#4a42c0" stroke-width="4.9"/></g>
<circle cx="365.4" cy="824.8" r="69.60000000000001" fill="none" stroke="#3a3580" stroke-opacity="0.45" stroke-width="1.2"/>
<circle cx="528.3" cy="824.8" r="70.2" fill="#c4c4d6"/>
<g clip-path="url(#pc9)" fill="none" stroke-linecap="round"><path d="M462 816h0m84 48h0m-43 -83h0m38 63h0m44 -5h0m-24 34h0m4 -97h0m2 2h0m26 40h0m-42 -48h0m-5 56h0m16 50h0m-28 -82h0m-34 18h0m84 -23h0m-88 87h0m5 -8h0m55 -4h0m-53 -19h0m12 -37h0m8 -16h0m-16 82h0m0 -4h0m86 -48h0m-120 24h0m20 -55h0m64 14h0m-78 19h0m72 -65h0m11 99h0m-38 -97h0m-38 10h0m36 34h0m9 4h0m9 -15h0m-29 -28h0m48 20h0m14 47h0m-37 45h0m2 -94h0m39 35h0m-44 46h0m-34 -56h0m49 -1h0m29 30h0m9 -28h0m-57 77h0m-6 -68h0m27 -19h0m-46 24h0m82 -16h0m-59 -23h0m-11 46h0m-33 -35h0m109 30h0m-77 -9h0m32 8h0m-31 54h0m58 -28h0m19 -1h0m-116 -9h0m15 -69h0m30 41h0m-41 -34h0m57 65h0m12 7h0m-29 -16h0m15 -21h0m5 71h0m11 -98h0m-67 0h0m27 59h0m-4 -74h0m70 12h0m-74 -18h0m45 79h0m-30 44h0m-37 -47h0m28 -23h0m33 -9h0m-21 -18h0m-45 12h0m23 -9h0m48 -34h0m3 118h0m-44 -54h0m37 30h0m-47 -85h0m14 13h0m-47 51h0m39 -11h0m70 -28h0m-111 14h0m134 29h0m-14 30h0m10 -21h0m-21 -20h0m-56 7h0m-42 -47h0m63 53h0m-70 -2h0m28 20h0m27 -61h0m-14 -5h0m87 30h0m-39 28h0m-61 -50h0m20 86h0m7 -115h0m26 9h0m-82 23h0m74 68h0m-1 -99h0m1 83h0m-28 -21h0m-20 -57h0m63 102h0m-27 13h0m-41 -72h0m35 49h0m-40 -33h0m8 46h0m90 -30h0m-56 -89h0m-30 115h0m27 -78h0m15 -22h0m-24 10h0m29 84h0m-70 -70h0m27 27h0m92 -17h0m-39 52h0m39 -45h0m-93 17h0m11 10h0m65 -21h0m0 49h0m-88 -74h0m30 19h0m2 48h0m46 14h0m1 -8h0m-1 -19h0m-59 -54h0m37 -6h0m-30 76h0m-14 -35h0m26 -70h0m-25 33h0m100 19h0m-86 22h0m-19 9h0m-14 -51h0m60 36h0m35 13h0m-16 30h0m-27 -111h0m7 74h0m50 22h0m-100 -61h0m24 49h0m61 -74h0m-84 13h0m42 77h0m39 -74h0m29 25h0m-108 -10h0m55 -46h0m-37 40h0m69 -2h0m-15 -26h0m-48 70h0m-4 -47h0m21 93h0m-13 -120h0m-44 66h0m28 -29h0m20 -24h0m-51 42h0m71 60h0m15 -37h0m18 -51h0m-2 32h0m9 -24h0m-54 35h0m34 -44h0m-14 25h0m-24 11h0m-65 -6h0m54 39h0m-20 -52h0m19 -37h0m28 11h0m-60 85h0m-18 -37h0m37 -43h0m70 91h0m-65 -29h0m2 32h0m-25 -13h0m71 -74h0m-7 71h0m18 11h0m-8 9h0m-37 -72h0" stroke="#3a30b4" stroke-width="2.1"/><path d="M586 854h0m-17 -72h0m-58 -20h0m4 84h0m53 34h0m-24 -10h0m-8 -24h0m-2 39h0m35 -115h0m-61 5h0m-31 25h0m99 26h0m13 -31h0m-117 -8h0m-11 53h0m33 -15h0m18 -42h0m-3 91h0m-35 -13h0m44 -31h0m-54 -6h0m29 28h0m76 -45h0m2 50h0m-50 28h0m-37 -98h0m59 31h0m-64 -33h0m14 36h0m13 -44h0m-28 34h0m102 27h0m-51 28h0m-27 -81h0m4 35h0m68 29h0m-37 -7h0m11 -77h0m7 111h0m38 -41h0m-17 27h0m-52 -37h0m-43 41h0m81 -79h0m-86 62h0m-2 7h0m52 -48h0m31 -14h0m-18 60h0m-16 -35h0m9 19h0m-48 -5h0m101 -46h0m-1 8h0m-99 32h0m57 61h0m20 -71h0m24 20h0m-67 36h0m36 3h0m-52 -34h0m18 -51h0m43 8h0m18 19h0m-19 37h0m0 -67h0m-88 7h0m21 -17h0m76 97h0m-33 -59h0m-81 9h0m63 35h0m38 -44h0m-18 -40h0m-67 51h0m-8 19h0m58 -27h0m-47 -22h0m118 10h0m-61 -4h0m-3 52h0m13 -88h0m-46 96h0m22 -74h0m30 72h0m-47 13h0m35 -87h0m-30 85h0m-13 -40h0m6 11h0m67 7h0m-30 -55h0m-57 24h0m-1 -19h0m82 52h0m-78 19h0m39 23h0m64 -95h0m-36 -34h0m31 71h0m-21 3h0m11 3h0m-54 2h0m-17 -62h0m-15 31h0m54 -4h0m4 41h0m22 -9h0m-28 -77h0m-55 96h0m62 -94h0m-8 124h0m25 -33h0m-42 24h0m42 -11h0m-67 -25h0m40 -29h0m-54 55h0m11 -4h0m15 -17h0m26 35h0m4 -105h0m13 79h0m3 -84h0m-44 10h0m65 -5h0m-90 2h0m84 56h0m-76 -46h0m69 25h0m-41 51h0m-19 -13h0m75 -30h0m-99 28h0m111 6h0m-5 -26h0m-35 52h0m-5 -128h0m36 109h0m-101 -19h0m81 -28h0m-84 22h0m117 -2h0m-45 -5h0m13 53h0m-71 -98h0m14 49h0m40 -6h0m29 -28h0m1 -26h0m-42 -14h0m-45 25h0m15 54h0m-7 21h0m47 -16h0m-38 -54h0m38 26h0m-19 -48h0m59 69h0m-109 24h0m2 0h0m-8 -60h0m96 44h0m-13 16h0m-23 -55h0m-64 20h0m43 -59h0m0 5h0m89 61h0m-69 8h0m-43 -4h0m106 -38h0m-44 56h0m8 -47h0m-52 11h0m66 55h0m4 -37h0m-72 20h0m56 -9h0m-44 -32h0m80 25h0m-55 -2h0m-50 -10h0m-16 -13h0m85 14h0m-70 -48h0m-4 66h0m-8 -34h0m31 -53h0m37 55h0m-25 -31h0m-12 -7h0m-18 3h0m43 23h0m-41 -10h0m91 43h0m2 11h0m-35 -88h0m-45 110h0m-25 -41h0m78 -14h0m-70 -12h0m59 76h0m-47 -113h0m-7 35h0m78 56h0m-23 -29h0m-76 -35h0m46 94h0m61 -91h0m-91 65h0m54 -88h0m29 -7h0" stroke="#4840bc" stroke-width="2.1"/><path d="M580 795h0m-38 -3h0m-53 64h0m79 -26h0m-5 22h0m-87 5h0m26 -72h0m-14 66h0m10 -51h0m-9 13h0m77 40h0m12 -35h0m-15 -20h0m-3 22h0m37 6h0m-90 23h0m-6 15h0m33 -95h0m-18 49h0m-3 -36h0m17 -12h0m-14 85h0m40 4h0m-8 -64h0m-3 -35h0m-12 107h0m-58 -60h0m39 51h0m-27 -53h0m25 51h0m-20 -58h0m19 92h0m-18 -46h0m21 34h0m24 -65h0m-48 34h0m11 -26h0m-1 -12h0m53 41h0m25 -17h0m5 -34h0m-105 -8h0m51 88h0m41 -58h0m-61 -52h0m-15 12h0m27 29h0m1 74h0m-46 -87h0m92 -27h0m23 78h0m-130 -27h0m88 -36h0m-58 8h0m69 -11h0m-45 -13h0m60 27h0m-17 78h0m-67 -91h0m-1 15h0m73 -2h0m-15 47h0m-70 -42h0m79 86h0m-97 -50h0m17 -42h0m58 -31h0m11 6h0m1 111h0m-84 -36h0m70 -61h0m-37 103h0m-18 -92h0m80 74h0m-42 -50h0m61 22h0m-13 -41h0m0 62h0m-56 -96h0m60 2h0m-102 80h0m55 12h0m42 -15h0m-66 -75h0m48 36h0m23 51h0m-40 -95h0m46 42h0m-12 -40h0m-68 99h0m35 -76h0m-38 1h0m-12 55h0m71 -31h0m-5 7h0m-47 69h0m52 2h0m-27 -63h0m0 49h0m-53 -75h0m77 10h0m-18 -33h0m26 -11h0m-15 52h0m31 17h0m-96 -39h0m88 48h0m-64 -58h0m0 34h0m39 -52h0m-23 106h0m5 -100h0m53 97h0m-95 -82h0m30 51h0m85 -22h0m-60 72h0m-50 -49h0m56 -35h0m15 -26h0m13 20h0m-45 -43h0m44 45h0m-18 74h0m-16 -59h0m-11 68h0m68 -70h0m-28 55h0m-41 -19h0m0 11h0m17 8h0m-67 -71h0m69 20h0m29 -23h0m10 4h0m-96 25h0m45 9h0m55 -8h0m-15 -15h0m-59 70h0m68 -86h0m-53 -11h0m-21 79h0m79 -52h0m-73 16h0m62 -19h0m-47 -4h0m63 29h0m-34 -42h0m8 40h0m-45 19h0m61 -61h0m-49 95h0m-37 -16h0m61 -87h0m-17 82h0m-37 7h0m33 -104h0m-44 104h0m39 -81h0m-35 25h0m-12 -37h0m80 73h0m-49 -84h0m48 32h0m-7 33h0m26 -43h0m-93 56h0m45 -24h0m-1 -51h0m8 93h0m-66 -73h0m108 -6h0m19 38h0m-65 -48h0m-39 104h0m54 -121h0m-17 96h0m15 8h0m-1 -54h0m-78 -5h0m55 -36h0m-39 109h0m45 -16h0m31 -6h0m-15 -76h0m-26 29h0m-3 67h0m-7 -40h0m86 21h0m-70 12h0m-34 -95h0m0 13h0m-3 34h0m48 -35h0m10 14h0m-49 24h0m11 -26h0" stroke="#3026a8" stroke-width="2.1"/><path d="M568 799h0m-63 12h0m65 -20h0m-6 10h0m-39 -13h0m-54 7h0m31 81h0m39 -36h0m-64 12h0m77 -13h0m30 13h0m-53 -34h0m-40 6h0m59 -64h0m16 104h0m-2 -26h0m-70 -64h0m26 42h0m30 -38h0m-9 113h0m-4 -54h0m19 44h0m-45 -53h0m67 24h0m-81 -23h0m72 27h0m13 -41h0m-96 -19h0m-5 6h0m45 13h0m-3 15h0m-15 33h0m-6 -40h0m6 -27h0m73 -14h0m-28 94h0m-36 16h0m35 -19h0m-33 5h0m25 -52h0m-36 -62h0m-39 50h0m19 -37h0m28 22h0m72 3h0m-90 -36h0m29 44h0m-66 -2h0m103 50h0m-48 1h0m3 -90h0m-3 17h0m-10 97h0m19 1h0m38 1h0m-42 -1h0m24 -36h0m10 27h0m-15 -10h0m-6 -59h0m-50 72h0m40 -37h0m-24 21h0m74 -83h0m-31 57h0m-7 16h0m3 -5h0m-19 40h0m41 -58h0m-12 -38h0m-87 12h0m33 -4h0m84 -4h0m10 15h0m-125 18h0m52 7h0m9 -47h0m65 59h0" stroke="#3a30b4" stroke-width="3.0"/><path d="M538 803h0m-10 31h0m-32 -55h0m-30 46h0m114 -23h0m-35 2h0m-26 -30h0m56 11h0m-5 40h0m-74 -35h0m50 58h0m28 -37h0m-47 -6h0m64 45h0m-7 -46h0m-58 73h0m43 -67h0m8 3h0m-117 27h0m84 -70h0m-42 31h0m53 27h0m-72 48h0m73 -45h0m-64 -47h0m59 39h0m6 -30h0m-12 14h0m-58 43h0m45 -5h0m4 -22h0m24 45h0m-64 -70h0m82 -18h0m-27 -19h0m-18 99h0m12 -92h0m10 26h0m-44 30h0m-25 25h0m108 -12h0m-117 -26h0m58 -51h0m-44 22h0m18 91h0m-13 -74h0m81 41h0m-64 -40h0m3 82h0m39 -31h0m-3 19h0m-50 9h0m-23 -101h0m64 39h0m-18 40h0m14 0h0m11 18h0m-3 -4h0m-16 6h0m-35 -48h0m-16 11h0m115 -27h0m-120 -9h0m46 -17h0m62 35h0m-61 36h0m-52 -35h0m73 28h0m10 -71h0m-23 32h0" stroke="#4840bc" stroke-width="3.0"/><path d="M515 774h0m38 77h0m-74 -22h0m47 -62h0m-2 116h0m50 -16h0m-43 -40h0m-25 58h0m35 -70h0m-46 56h0m100 -60h0m-72 75h0m65 -52h0m-15 -6h0m-77 58h0m6 -115h0m25 16h0m19 59h0m-35 17h0m45 9h0m-32 -85h0m43 74h0m-101 -55h0m65 -42h0m8 43h0m-6 -46h0m-15 55h0m12 67h0m-55 -96h0m33 -24h0m41 39h0m27 -7h0m-57 23h0m27 34h0m-24 40h0m-16 -21h0m-42 -66h0m124 15h0m-94 32h0m81 -69h0m-46 1h0m37 -8h0m-58 79h0m52 -38h0m-69 -6h0m-1 -15h0m-11 66h0m13 -82h0m56 -5h0m14 23h0m-96 2h0m23 35h0m86 1h0m-87 14h0m83 -62h0m-1 47h0m21 -7h0m-84 -55h0m39 110h0m-12 -127h0m-32 92h0m90 -23h0m-132 15h0" stroke="#3026a8" stroke-width="3.0"/><path d="M510 840h0m21 -83h0m-35 111h0m-14 0h0m39 3h0m12 -74h0m-14 61h0m-6 -33h0m58 54h0m-82 -27h0m85 -17h0m-6 20h0m-80 9h0m39 -25h0m-13 -6h0m20 49h0m46 -30h0m-51 -65h0m-61 29h0m7 49h0m79 -17h0m2 -71h0m-68 16h0m41 21h0m-16 29h0m-45 -27h0m36 58h0m-13 -9h0m14 13h0m-39 -29h0m18 23h0m35 -51h0m59 -19h0m-96 -3h0m37 -28h0m40 70h0m-54 -17h0m19 -32h0m18 72h0m10 -38h0m-42 36h0m-30 -86h0m18 87h0m42 -49h0m28 -1h0m-63 44h0m78 -34h0m-43 -6h0m-55 43h0m30 -6h0m3 -80h0m-39 32h0" stroke="#3a30b4" stroke-width="4.0"/><path d="M546 826h0m-29 20h0m74 -40h0m-70 66h0m63 -75h0m-101 -4h0m39 22h0m56 43h0m-58 -30h0m49 -39h0m-81 86h0m27 -53h0m44 -25h0m5 77h0m-72 -38h0m-19 11h0m17 -59h0m-13 61h0m62 -74h0m-24 -7h0m59 107h0m10 -52h0m-87 47h0m-7 -2h0m62 20h0m-37 -2h0m8 -56h0m50 -6h0m-34 18h0m24 -6h0m-66 -30h0m-24 -22h0m85 98h0m7 -34h0m0 -51h0m-16 26h0m10 38h0m-98 -22h0m107 25h0m-24 17h0m-5 -52h0m-55 -43h0m89 10h0m-20 30h0m1 20h0m32 -2h0m-28 -64h0m22 9h0m-42 -4h0m17 0h0m-94 33h0m128 -24h0m-115 -4h0m65 24h0m12 -40h0m1 111h0m-9 -109h0m-9 16h0m50 25h0m-53 0h0" stroke="#4840bc" stroke-width="4.0"/><path d="M566 849h0m-77 -13h0m42 -34h0m6 -39h0m-27 71h0m21 -12h0m-43 -3h0m41 -43h0m-24 14h0m7 62h0m49 -85h0m-63 -5h0m81 47h0m-86 69h0m-20 -66h0m44 38h0m19 25h0m7 -91h0m-51 52h0m56 25h0m-55 -13h0m82 -15h0m-37 -68h0m-44 71h0m22 54h0m7 -13h0m-23 -79h0m23 23h0m10 25h0m53 -15h0m7 -24h0m-134 25h0m84 0h0m31 -43h0m8 18h0m-17 -2h0m-69 56h0m-2 -74h0m15 16h0m-47 3h0m44 -18h0m64 -2h0m-91 -5h0m62 -13h0m35 64h0m-47 18h0m39 -10h0m-80 31h0m50 -26h0m18 8h0m-49 -22h0m40 -12h0" stroke="#3026a8" stroke-width="4.0"/><path d="M500 859h0m-30 -12h0m54 21h0m-25 20h0m-39 -52h0m54 22h0m54 -8h0m-101 -54h0m-1 -2h0m102 4h0m-67 44h0m-8 -65h0m100 52h0m-104 19h0m86 18h0m-30 -40h0m-36 16h0m57 -32h0m-93 -27h0m90 19h0m-46 -26h0m32 70h0m-36 0h0m44 -7h0m32 -22h0m-109 40h0m2 -65h0m35 16h0m44 -43h0m-17 15h0m21 69h0m-18 3h0m-23 22h0m60 -75h0m-12 41h0m-21 48h0m-26 -5h0m19 -6h0m-18 -114h0m27 50h0m-35 10h0m-43 38h0m97 -73h0m-73 59h0m35 -6h0m50 -14h0m-50 55h0m47 -19h0m-91 -92h0m4 14h0m29 56h0m16 -4h0m36 -1h0m-47 18h0m-1 -6h0m-5 -32h0" stroke="#3a30b4" stroke-width="4.9"/><path d="M477 786h0m66 49h0m-1 48h0m-42 -27h0m1 4h0m-10 -3h0m81 -36h0m-40 27h0m-5 -52h0m42 81h0m-85 -77h0m89 71h0m-22 -98h0m-75 9h0m5 83h0m109 -48h0m-25 -7h0m21 41h0m-78 -25h0m25 -16h0m-49 57h0m38 -24h0m-36 16h0m-1 -34h0m63 41h0m6 -90h0m5 55h0m5 -7h0m-89 -7h0m-11 -7h0m115 58h0m-53 -87h0m1 94h0m44 -22h0m-44 -34h0m-19 14h0m26 -70h0m9 85h0m-22 -31h0m-6 34h0m22 -73h0m20 11h0m-45 18h0m15 -38h0m52 67h0m-74 39h0m85 -81h0m-127 29h0m68 -38h0m3 21h0m-3 70h0m5 -89h0m29 -3h0m-77 84h0m-12 -55h0m44 -52h0m12 127h0m-8 -43h0" stroke="#4840bc" stroke-width="4.9"/><path d="M542 763h0m-55 24h0m89 13h0m-50 -8h0m-42 19h0m44 72h0m21 -22h0m11 -17h0m21 -35h0m-18 -42h0m11 58h0m-62 22h0m48 -72h0m-9 94h0m0 -108h0m-5 120h0m-24 11h0m20 -9h0m-29 -52h0m56 9h0m-30 -16h0m20 31h0m-43 -26h0m70 -37h0m-95 86h0m74 -8h0m-34 -107h0m-31 18h0m4 15h0m66 -18h0m-99 67h0m64 -18h0m-14 -25h0m15 79h0m-41 -9h0m-25 -30h0m83 20h0m-23 -84h0m-48 40h0m27 7h0m-20 15h0m40 -10h0m49 23h0m-46 -86h0" stroke="#3026a8" stroke-width="4.9"/></g>
<circle cx="528.3" cy="824.8" r="69.60000000000001" fill="none" stroke="#3a3580" stroke-opacity="0.45" stroke-width="1.2"/>
<text x="114.7" y="519.7" text-anchor="end">H520</text>
<text x="114.7" y="676.1" text-anchor="end">HCC15</text>
<text x="114.7" y="832.3" text-anchor="end">H226</text>
<text x="204.3" y="927" text-anchor="middle">DMSO</text>
<text x="365.4" y="927" text-anchor="middle">Vinorelbine</text>
<text x="528.3" y="927" text-anchor="middle">Docetaxel</text>
<line x1="812.2" y1="452.9" x2="812.2" y2="667.9" stroke="#231815" stroke-width="1.3"/>
<line x1="803.2" y1="667.2" x2="955.8" y2="667.2" stroke="#231815" stroke-width="1.3"/>
<line x1="803.2" y1="667.2" x2="812.2" y2="667.2" stroke="#231815" stroke-width="1.3"/>
<text x="800.2" y="674.2" text-anchor="end">0</text>
<line x1="803.2" y1="624.3" x2="812.2" y2="624.3" stroke="#231815" stroke-width="1.3"/>
<text x="800.2" y="631.3" text-anchor="end">100</text>
<line x1="803.2" y1="581.5" x2="812.2" y2="581.5" stroke="#231815" stroke-width="1.3"/>
<text x="800.2" y="588.5" text-anchor="end">200</text>
<line x1="803.2" y1="538.6" x2="812.2" y2="538.6" stroke="#231815" stroke-width="1.3"/>
<text x="800.2" y="545.6" text-anchor="end">300</text>
<line x1="803.2" y1="495.8" x2="812.2" y2="495.8" stroke="#231815" stroke-width="1.3"/>
<text x="800.2" y="502.8" text-anchor="end">400</text>
<line x1="803.2" y1="452.9" x2="812.2" y2="452.9" stroke="#231815" stroke-width="1.3"/>
<text x="800.2" y="459.9" text-anchor="end">500</text>
<text x="883.8" y="441" text-anchor="middle">H520</text>
<text transform="translate(757.1,557.6) rotate(-90)" text-anchor="middle" font-size="19.1">Colony Numbers</text>
<path d="M827.6,667.2 V495.8 H854.6 V667.2" fill="none" stroke="#c6566d" stroke-width="1.6"/>
<path d="M841.1,482.9 V508.6 M834.1,482.9 h14 M834.1,508.6 h14" stroke="#c6566d" stroke-width="1.5" fill="none"/>
<circle cx="834.6" cy="481.2" r="4.1" fill="#c6566d"/>
<circle cx="847.3" cy="485.9" r="4.1" fill="#c6566d"/>
<circle cx="841.1" cy="493.2" r="4.1" fill="#c6566d"/>
<circle cx="841.1" cy="503.9" r="4.1" fill="#c6566d"/>
<circle cx="841.1" cy="511" r="4.1" fill="#c6566d"/>
<path d="M870.4,667.2 V608.5 H897.4 V667.2" fill="none" stroke="#2957a8" stroke-width="1.6"/>
<path d="M883.9,585.8 V631.2 M876.9,585.8 h14 M876.9,631.2 h14" stroke="#2957a8" stroke-width="1.5" fill="none"/>
<circle cx="883.9" cy="568.6" r="4.1" fill="#2957a8"/>
<circle cx="877.5" cy="614.1" r="4.1" fill="#2957a8"/>
<circle cx="890.3" cy="612.8" r="4.1" fill="#2957a8"/>
<circle cx="877.5" cy="620.9" r="4.1" fill="#2957a8"/>
<circle cx="890.3" cy="620.1" r="4.1" fill="#2957a8"/>
<path d="M913,667.2 V618.8 H940 V667.2" fill="none" stroke="#7a3198" stroke-width="1.6"/>
<path d="M926.5,612.8 V624.8 M919.5,612.8 h14 M919.5,624.8 h14" stroke="#7a3198" stroke-width="1.5" fill="none"/>
<circle cx="920.1" cy="609.6" r="4.1" fill="#7a3198"/>
<circle cx="932.9" cy="614.1" r="4.1" fill="#7a3198"/>
<circle cx="920.1" cy="616.2" r="4.1" fill="#7a3198"/>
<circle cx="932.9" cy="621.8" r="4.1" fill="#7a3198"/>
<circle cx="920.1" cy="625.6" r="4.1" fill="#7a3198"/>
<line x1="1057.3" y1="452.9" x2="1057.3" y2="667.4" stroke="#231815" stroke-width="1.3"/>
<line x1="1048.3" y1="666.7" x2="1200.9" y2="666.7" stroke="#231815" stroke-width="1.3"/>
<line x1="1048.3" y1="666.7" x2="1057.3" y2="666.7" stroke="#231815" stroke-width="1.3"/>
<text x="1045.3" y="673.7" text-anchor="end">0</text>
<line x1="1048.3" y1="595.4" x2="1057.3" y2="595.4" stroke="#231815" stroke-width="1.3"/>
<text x="1045.3" y="602.4" text-anchor="end">200</text>
<line x1="1048.3" y1="524.2" x2="1057.3" y2="524.2" stroke="#231815" stroke-width="1.3"/>
<text x="1045.3" y="531.2" text-anchor="end">400</text>
<line x1="1048.3" y1="452.9" x2="1057.3" y2="452.9" stroke="#231815" stroke-width="1.3"/>
<text x="1045.3" y="459.9" text-anchor="end">600</text>
<text x="1132" y="441" text-anchor="middle">HCC15</text>
<text transform="translate(1002,557.6) rotate(-90)" text-anchor="middle" font-size="19.1">Colony Numbers</text>
<path d="M1072.2,666.7 V496.4 H1099.2 V666.7" fill="none" stroke="#c6566d" stroke-width="1.6"/>
<path d="M1085.7,476.4 V516.3 M1078.7,476.4 h14 M1078.7,516.3 h14" stroke="#c6566d" stroke-width="1.5" fill="none"/>
<circle cx="1079.3" cy="478.2" r="4.1" fill="#c6566d"/>
<circle cx="1092.1" cy="479.3" r="4.1" fill="#c6566d"/>
<circle cx="1085.7" cy="488.2" r="4.1" fill="#c6566d"/>
<circle cx="1085.7" cy="511.3" r="4.1" fill="#c6566d"/>
<circle cx="1085.7" cy="521.3" r="4.1" fill="#c6566d"/>
<path d="M1115,666.7 V551.6 H1142 V666.7" fill="none" stroke="#2957a8" stroke-width="1.6"/>
<path d="M1128.5,529.2 V574.1 M1121.5,529.2 h14 M1121.5,574.1 h14" stroke="#2957a8" stroke-width="1.5" fill="none"/>
<circle cx="1122.1" cy="529.2" r="4.1" fill="#2957a8"/>
<circle cx="1134.9" cy="534.9" r="4.1" fill="#2957a8"/>
<circle cx="1128.5" cy="542.7" r="4.1" fill="#2957a8"/>
<circle cx="1122.1" cy="575.1" r="4.1" fill="#2957a8"/>
<circle cx="1134.9" cy="575.1" r="4.1" fill="#2957a8"/>
<path d="M1158,666.7 V579 H1185 V666.7" fill="none" stroke="#7a3198" stroke-width="1.6"/>
<path d="M1171.5,558.7 V599.4 M1164.5,558.7 h14 M1164.5,599.4 h14" stroke="#7a3198" stroke-width="1.5" fill="none"/>
<circle cx="1165.1" cy="560.2" r="4.1" fill="#7a3198"/>
<circle cx="1177.9" cy="561.9" r="4.1" fill="#7a3198"/>
<circle cx="1171.5" cy="570.8" r="4.1" fill="#7a3198"/>
<circle cx="1171.5" cy="591.9" r="4.1" fill="#7a3198"/>
<circle cx="1171.5" cy="605.8" r="4.1" fill="#7a3198"/>
<line x1="1308" y1="454" x2="1308" y2="668.4" stroke="#231815" stroke-width="1.3"/>
<line x1="1299" y1="667.8" x2="1451.6" y2="667.8" stroke="#231815" stroke-width="1.3"/>
<line x1="1299" y1="667.8" x2="1308" y2="667.8" stroke="#231815" stroke-width="1.3"/>
<text x="1296" y="674.8" text-anchor="end">0</text>
<line x1="1299" y1="625" x2="1308" y2="625" stroke="#231815" stroke-width="1.3"/>
<text x="1296" y="632" text-anchor="end">100</text>
<line x1="1299" y1="582.3" x2="1308" y2="582.3" stroke="#231815" stroke-width="1.3"/>
<text x="1296" y="589.3" text-anchor="end">200</text>
<line x1="1299" y1="539.5" x2="1308" y2="539.5" stroke="#231815" stroke-width="1.3"/>
<text x="1296" y="546.5" text-anchor="end">300</text>
<line x1="1299" y1="496.8" x2="1308" y2="496.8" stroke="#231815" stroke-width="1.3"/>
<text x="1296" y="503.8" text-anchor="end">400</text>
<line x1="1299" y1="454" x2="1308" y2="454" stroke="#231815" stroke-width="1.3"/>
<text x="1296" y="461" text-anchor="end">500</text>
<text x="1378.3" y="441" text-anchor="middle">H226</text>
<text transform="translate(1251.8,557.6) rotate(-90)" text-anchor="middle" font-size="19.1">Colony Numbers</text>
<path d="M1322.8,667.8 V508.7 H1349.8 V667.8" fill="none" stroke="#c6566d" stroke-width="1.6"/>
<path d="M1336.3,498.9 V518.6 M1329.3,498.9 h14 M1329.3,518.6 h14" stroke="#c6566d" stroke-width="1.5" fill="none"/>
<circle cx="1336.3" cy="497.6" r="4.1" fill="#c6566d"/>
<circle cx="1347.3" cy="501.5" r="4.1" fill="#c6566d"/>
<circle cx="1336.3" cy="505.3" r="4.1" fill="#c6566d"/>
<circle cx="1336.3" cy="513" r="4.1" fill="#c6566d"/>
<circle cx="1336.3" cy="522.4" r="4.1" fill="#c6566d"/>
<path d="M1365.4,667.8 V542.1 H1392.4 V667.8" fill="none" stroke="#2957a8" stroke-width="1.6"/>
<path d="M1378.9,525 V559.2 M1371.9,525 h14 M1371.9,559.2 h14" stroke="#2957a8" stroke-width="1.5" fill="none"/>
<circle cx="1378.9" cy="521.3" r="4.1" fill="#2957a8"/>
<circle cx="1378.9" cy="528" r="4.1" fill="#2957a8"/>
<circle cx="1378.9" cy="542.9" r="4.1" fill="#2957a8"/>
<circle cx="1372.5" cy="560" r="4.1" fill="#2957a8"/>
<circle cx="1385.3" cy="555.8" r="4.1" fill="#2957a8"/>
<path d="M1408.3,667.8 V526.7 H1435.3 V667.8" fill="none" stroke="#7a3198" stroke-width="1.6"/>
<path d="M1421.8,509.2 V544.2 M1414.8,509.2 h14 M1414.8,544.2 h14" stroke="#7a3198" stroke-width="1.5" fill="none"/>
<circle cx="1415.4" cy="508.3" r="4.1" fill="#7a3198"/>
<circle cx="1428.2" cy="510.4" r="4.1" fill="#7a3198"/>
<circle cx="1421.8" cy="524.1" r="4.1" fill="#7a3198"/>
<circle cx="1421.8" cy="533.5" r="4.1" fill="#7a3198"/>
<circle cx="1421.8" cy="551.1" r="4.1" fill="#7a3198"/>
<circle cx="1504.8" cy="510.2" r="3.6" fill="#c6566d"/>
<text x="1525.2" y="517.2">DMSO</text>
<circle cx="1504.8" cy="536.7" r="3.6" fill="#2957a8"/>
<text x="1525.2" y="543.7">Vinorelbine</text>
<circle cx="1504.8" cy="563.2" r="3.6" fill="#7a3198"/>
<text x="1525.2" y="570.2">Docetaxel</text>
<text x="786.2" y="751" text-anchor="middle">H520</text>
<text transform="translate(861.3,768.8) rotate(-45)">DMSO</text>
<text transform="translate(907.5,768.8) rotate(-45)">TGFβRi</text>
<text x="842.8" y="801.7" text-anchor="end">N-Cadherin</text>
<rect x="857.2" y="779.2" width="93.7" height="32.4" fill="url(#gN520)"/>
<g clip-path="url(#bc857_0)" filter="url(#bblur)">
<rect x="861" y="788.8" width="36.3" height="12.5" rx="4" fill="#0c0e11" fill-opacity="0.28" filter="url(#bhalo)"/>
<rect x="872" y="790" width="19" height="11" rx="4" fill="#0c0e11" fill-opacity="0.15" filter="url(#bhalo)"/>
<rect x="909" y="789.5" width="37" height="11" rx="4" fill="#0c0e11" fill-opacity="0.02" filter="url(#bhalo)"/>
<rect x="862.5" y="791" width="33.3" height="8.1" rx="4" fill="#0c0e11" fill-opacity="1.0"/>
<rect x="873.5" y="792.2" width="16" height="6.6" rx="3.3" fill="#0c0e11" fill-opacity="0.55"/>
<rect x="910.5" y="791.7" width="34" height="6.6" rx="3.3" fill="#0c0e11" fill-opacity="0.08"/>
</g>
<rect x="857.9" y="779.9" width="92.3" height="31" fill="none" stroke="#1c1110" stroke-width="1.4"/>
<text x="842.8" y="845.3" text-anchor="end">E-Cadherin</text>
<rect x="857.2" y="823.2" width="93.7" height="31.6" fill="#ebebec"/>
<g clip-path="url(#bc857_1)" filter="url(#bblur)">
<rect x="864" y="836.5" width="34" height="10.6" rx="4" fill="#0c0e11" fill-opacity="0.27" filter="url(#bhalo)"/>
<rect x="909" y="832.5" width="38.5" height="15" rx="4" fill="#0c0e11" fill-opacity="0.28" filter="url(#bhalo)"/>
<rect x="865.5" y="838.7" width="31" height="6.2" rx="3.1" fill="#0c0e11" fill-opacity="0.95"/>
<rect x="910.5" y="834.7" width="35.5" height="10.6" rx="4" fill="#0c0e11" fill-opacity="1.0"/>
</g>
<rect x="857.9" y="823.9" width="92.3" height="30.2" fill="none" stroke="#1c1110" stroke-width="1.4"/>
<text x="842.8" y="889.7" text-anchor="end">VIM</text>
<rect x="857.2" y="866.4" width="93.7" height="32.3" fill="#e6e7e8"/>
<g clip-path="url(#bc857_2)" filter="url(#bblur)">
<rect x="862.2" y="871.9" width="39.8" height="21" rx="4" fill="#0c0e11" fill-opacity="0.28" filter="url(#bhalo)"/>
<rect x="909.5" y="877.5" width="34.1" height="13.5" rx="4" fill="#0c0e11" fill-opacity="0.17" filter="url(#bhalo)"/>
<rect x="931" y="877.8" width="12.6" height="13" rx="4" fill="#0c0e11" fill-opacity="0.17" filter="url(#bhalo)"/>
<rect x="863.7" y="874.1" width="36.8" height="16.6" rx="4" fill="#0c0e11" fill-opacity="1.0"/>
<rect x="911" y="879.8" width="31.1" height="9.1" rx="4" fill="#0c0e11" fill-opacity="0.6"/>
<rect x="932.5" y="880" width="9.6" height="8.6" rx="4" fill="#0c0e11" fill-opacity="0.6"/>
</g>
<rect x="857.9" y="867.1" width="92.3" height="30.9" fill="none" stroke="#1c1110" stroke-width="1.4"/>
<text x="837.2" y="931.1" text-anchor="end">TGFβR1</text>
<rect x="857.2" y="910.4" width="93.7" height="31.3" fill="#e4e5e6"/>
<g clip-path="url(#bc857_3)" filter="url(#bblur)">
<rect x="863.6" y="919" width="33.7" height="12" rx="4" fill="#0c0e11" fill-opacity="0.09" filter="url(#bhalo)"/>
<rect x="907.6" y="919" width="35.4" height="12" rx="4" fill="#0c0e11" fill-opacity="0.08" filter="url(#bhalo)"/>
<rect x="865.1" y="921.2" width="30.7" height="7.6" rx="3.8" fill="#0c0e11" fill-opacity="0.32"/>
<rect x="909.1" y="921.2" width="32.4" height="7.6" rx="3.8" fill="#0c0e11" fill-opacity="0.3"/>
</g>
<rect x="857.9" y="911.1" width="92.3" height="29.9" fill="none" stroke="#1c1110" stroke-width="1.4"/>
<text x="837.2" y="976.3" text-anchor="end">β-actin</text>
<rect x="857.2" y="953.4" width="93.7" height="31.6" fill="#eeeeef"/>
<g clip-path="url(#bc857_4)" filter="url(#bblur)">
<rect x="863.6" y="959.7" width="39.9" height="19" rx="4" fill="#0c0e11" fill-opacity="0.28" filter="url(#bhalo)"/>
<rect x="905.7" y="959.4" width="40.8" height="18.5" rx="4" fill="#0c0e11" fill-opacity="0.28" filter="url(#bhalo)"/>
<rect x="865.1" y="961.9" width="36.9" height="14.6" rx="4" fill="#0c0e11" fill-opacity="1.0"/>
<rect x="907.2" y="961.6" width="37.8" height="14.1" rx="4" fill="#0c0e11" fill-opacity="1.0"/>
</g>
<rect x="857.9" y="954.1" width="92.3" height="30.2" fill="none" stroke="#1c1110" stroke-width="1.4"/>
<text x="1040.7" y="751" text-anchor="middle">HCC15</text>
<text transform="translate(1107.3,768.8) rotate(-45)">DMSO</text>
<text transform="translate(1153.5,768.8) rotate(-45)">TGFβRi</text>
<text x="1088.7" y="801.7" text-anchor="end">N-Cadherin</text>
<rect x="1103" y="779.2" width="93.6" height="32.4" fill="#e4e5e6"/>
<g clip-path="url(#bc1103_0)" filter="url(#bblur)">
<rect x="1107.7" y="789.1" width="35.1" height="14.5" rx="4" fill="#0c0e11" fill-opacity="0.28" filter="url(#bhalo)"/>
<rect x="1155.9" y="789.7" width="33.7" height="12.6" rx="4" fill="#0c0e11" fill-opacity="0.28" filter="url(#bhalo)"/>
<rect x="1109.2" y="791.4" width="32.1" height="10.1" rx="4" fill="#0c0e11" fill-opacity="1.0"/>
<rect x="1157.4" y="791.9" width="30.7" height="8.2" rx="4" fill="#0c0e11" fill-opacity="1.0"/>
</g>
<rect x="1103.7" y="779.9" width="92.2" height="31" fill="none" stroke="#1c1110" stroke-width="1.4"/>
<text x="1088.7" y="845.3" text-anchor="end">E-Cadherin</text>
<rect x="1103" y="823.2" width="93.6" height="31.6" fill="#eeeeef"/>
<g clip-path="url(#bc1103_1)" filter="url(#bblur)">
<rect x="1112.4" y="834.6" width="33.2" height="10.2" rx="4" fill="#0c0e11" fill-opacity="0.24" filter="url(#bhalo)"/>
<rect x="1155.9" y="829.5" width="34.6" height="19" rx="4" fill="#0c0e11" fill-opacity="0.28" filter="url(#bhalo)"/>
<rect x="1113.9" y="836.8" width="30.2" height="5.8" rx="2.9" fill="#0c0e11" fill-opacity="0.85"/>
<rect x="1157.4" y="831.7" width="31.6" height="14.6" rx="4" fill="#0c0e11" fill-opacity="1.0"/>
</g>
<rect x="1103.7" y="823.9" width="92.2" height="30.2" fill="none" stroke="#1c1110" stroke-width="1.4"/>
<text x="1088.7" y="889.7" text-anchor="end">VIM</text>
<rect x="1103" y="866.4" width="93.6" height="32.3" fill="#e6e7e8"/>
<g clip-path="url(#bc1103_2)" filter="url(#bblur)">
<rect x="1109" y="876.6" width="38.5" height="14" rx="4" fill="#0c0e11" fill-opacity="0.28" filter="url(#bhalo)"/>
<rect x="1154.5" y="876.9" width="35.5" height="11" rx="4" fill="#0c0e11" fill-opacity="0.28" filter="url(#bhalo)"/>
<rect x="1110.5" y="878.8" width="35.5" height="9.6" rx="4" fill="#0c0e11" fill-opacity="1.0"/>
<rect x="1156" y="879.1" width="32.5" height="6.6" rx="3.3" fill="#0c0e11" fill-opacity="1.0"/>
</g>
<rect x="1103.7" y="867.1" width="92.2" height="30.9" fill="none" stroke="#1c1110" stroke-width="1.4"/>
<text x="1083.1" y="931.1" text-anchor="end">TGFβR1</text>
<rect x="1103" y="910.4" width="93.6" height="31.3" fill="#e2e3e4"/>
<g clip-path="url(#bc1103_3)" filter="url(#bblur)">
<rect x="1109" y="918.1" width="39.5" height="14.5" rx="4" fill="#0c0e11" fill-opacity="0.28" filter="url(#bhalo)"/>
<rect x="1156.9" y="917.8" width="34.6" height="14" rx="4" fill="#0c0e11" fill-opacity="0.28" filter="url(#bhalo)"/>
<rect x="1110.5" y="920.4" width="36.5" height="10.1" rx="4" fill="#0c0e11" fill-opacity="1.0"/>
<rect x="1158.4" y="920" width="31.6" height="9.6" rx="4" fill="#0c0e11" fill-opacity="1.0"/>
</g>
<rect x="1103.7" y="911.1" width="92.2" height="29.9" fill="none" stroke="#1c1110" stroke-width="1.4"/>
<text x="1083.1" y="976.3" text-anchor="end">β-actin</text>
<rect x="1103" y="953.4" width="93.6" height="31.6" fill="#ededee"/>
<g clip-path="url(#bc1103_4)" filter="url(#bblur)">
<rect x="1107.2" y="960.9" width="40.3" height="19.5" rx="4" fill="#0c0e11" fill-opacity="0.28" filter="url(#bhalo)"/>
<rect x="1149.3" y="961.6" width="40.7" height="18" rx="4" fill="#0c0e11" fill-opacity="0.28" filter="url(#bhalo)"/>
<rect x="1108.7" y="963.1" width="37.3" height="15.1" rx="4" fill="#0c0e11" fill-opacity="1.0"/>
<rect x="1150.8" y="963.8" width="37.7" height="13.6" rx="4" fill="#0c0e11" fill-opacity="1.0"/>
</g>
<rect x="1103.7" y="954.1" width="92.2" height="30.2" fill="none" stroke="#1c1110" stroke-width="1.4"/>
<text x="1281" y="751" text-anchor="middle">H226</text>
<text transform="translate(1357.3,768.8) rotate(-45)">DMSO</text>
<text transform="translate(1403.5,768.8) rotate(-45)">TGFβRi</text>
<text x="1338.4" y="801.7" text-anchor="end">N-Cadherin</text>
<rect x="1353" y="779.2" width="93.6" height="32.4" fill="url(#gN226)"/>
<g clip-path="url(#bc1353_0)" filter="url(#bblur)">
<rect x="1357.7" y="789.6" width="37" height="13.5" rx="4" fill="#0c0e11" fill-opacity="0.28" filter="url(#bhalo)"/>
<rect x="1406.4" y="790.4" width="34.1" height="12" rx="4" fill="#0c0e11" fill-opacity="0.11" filter="url(#bhalo)"/>
<rect x="1359.2" y="791.9" width="34" height="9.1" rx="4" fill="#0c0e11" fill-opacity="1.0"/>
<rect x="1407.9" y="792.6" width="31.1" height="7.6" rx="3.8" fill="#0c0e11" fill-opacity="0.4"/>
</g>
<rect x="1353.7" y="779.9" width="92.2" height="31" fill="none" stroke="#1c1110" stroke-width="1.4"/>
<text x="1338.4" y="845.3" text-anchor="end">E-Cadherin</text>
<rect x="1353" y="823.2" width="93.6" height="31.6" fill="#ebebec"/>
<g clip-path="url(#bc1353_1)" filter="url(#bblur)">
<rect x="1360" y="833.1" width="33.3" height="11.5" rx="4" fill="#0c0e11" fill-opacity="0.28" filter="url(#bhalo)"/>
<rect x="1405.4" y="832.2" width="36.6" height="14" rx="4" fill="#0c0e11" fill-opacity="0.28" filter="url(#bhalo)"/>
<rect x="1361.5" y="835.4" width="30.3" height="7.1" rx="3.5" fill="#0c0e11" fill-opacity="1.0"/>
<rect x="1406.9" y="834.4" width="33.6" height="9.6" rx="4" fill="#0c0e11" fill-opacity="1.0"/>
</g>
<rect x="1353.7" y="823.9" width="92.2" height="30.2" fill="none" stroke="#1c1110" stroke-width="1.4"/>
<text x="1338.4" y="889.7" text-anchor="end">VIM</text>
<rect x="1353" y="866.4" width="93.6" height="32.3" fill="#ebebec"/>
<g clip-path="url(#bc1353_2)" filter="url(#bblur)">
<rect x="1360" y="875.7" width="32.8" height="14" rx="4" fill="#0c0e11" fill-opacity="0.28" filter="url(#bhalo)"/>
<rect x="1406.4" y="876.5" width="32.2" height="12.5" rx="4" fill="#0c0e11" fill-opacity="0.12" filter="url(#bhalo)"/>
<rect x="1361.5" y="877.9" width="29.8" height="9.6" rx="4" fill="#0c0e11" fill-opacity="1.0"/>
<rect x="1407.9" y="878.7" width="29.2" height="8.1" rx="4" fill="#0c0e11" fill-opacity="0.42"/>
</g>
<rect x="1353.7" y="867.1" width="92.2" height="30.9" fill="none" stroke="#1c1110" stroke-width="1.4"/>
<text x="1332.8" y="931.1" text-anchor="end">TGFβR1</text>
<rect x="1353" y="910.4" width="93.6" height="31.3" fill="#b9babc"/>
<g clip-path="url(#bc1353_3)" filter="url(#bblur)">
<rect x="1358.2" y="918.6" width="34.6" height="10.5" rx="4" fill="#0c0e11" fill-opacity="0.28" filter="url(#bhalo)"/>
<rect x="1405.9" y="917.8" width="36.5" height="12.6" rx="4" fill="#0c0e11" fill-opacity="0.28" filter="url(#bhalo)"/>
<rect x="1359.7" y="920.9" width="31.6" height="6.1" rx="3" fill="#0c0e11" fill-opacity="1.0"/>
<rect x="1407.4" y="920" width="33.5" height="8.2" rx="4" fill="#0c0e11" fill-opacity="1.0"/>
</g>
<rect x="1353.7" y="911.1" width="92.2" height="29.9" fill="none" stroke="#1c1110" stroke-width="1.4"/>
<text x="1332.8" y="976.3" text-anchor="end">β-actin</text>
<rect x="1353" y="953.4" width="93.6" height="31.6" fill="#eeeeef"/>
<g clip-path="url(#bc1353_4)" filter="url(#bblur)">
<rect x="1358.7" y="960" width="39.3" height="20.5" rx="4" fill="#0c0e11" fill-opacity="0.28" filter="url(#bhalo)"/>
<rect x="1402.1" y="960.2" width="37.5" height="20" rx="4" fill="#0c0e11" fill-opacity="0.28" filter="url(#bhalo)"/>
<rect x="1360.2" y="962.2" width="36.3" height="16.1" rx="4" fill="#0c0e11" fill-opacity="1.0"/>
<rect x="1403.6" y="962.4" width="34.5" height="15.6" rx="4" fill="#0c0e11" fill-opacity="1.0"/>
</g>
<rect x="1353.7" y="954.1" width="92.2" height="30.2" fill="none" stroke="#1c1110" stroke-width="1.4"/>
<line x1="121.4" y1="1145.7" x2="121.4" y2="1366.1" stroke="#231815" stroke-width="1.3"/>
<line x1="113.4" y1="1365.4" x2="450.7" y2="1365.4" stroke="#231815" stroke-width="1.3"/>
<line x1="113.4" y1="1365.4" x2="121.4" y2="1365.4" stroke="#231815" stroke-width="1.3"/>
<text x="110.9" y="1372.4" text-anchor="end">0</text>
<line x1="113.4" y1="1292.2" x2="121.4" y2="1292.2" stroke="#231815" stroke-width="1.3"/>
<text x="110.9" y="1299.2" text-anchor="end">1</text>
<line x1="113.4" y1="1218.9" x2="121.4" y2="1218.9" stroke="#231815" stroke-width="1.3"/>
<text x="110.9" y="1225.9" text-anchor="end">2</text>
<line x1="113.4" y1="1145.7" x2="121.4" y2="1145.7" stroke="#231815" stroke-width="1.3"/>
<text x="110.9" y="1152.7" text-anchor="end">3</text>
<line x1="121.4" y1="1365.4" x2="121.4" y2="1374.4" stroke="#231815" stroke-width="1.3"/>
<text x="121.4" y="1394.9" text-anchor="middle">0</text>
<line x1="203.7" y1="1365.4" x2="203.7" y2="1374.4" stroke="#231815" stroke-width="1.3"/>
<text x="203.7" y="1394.9" text-anchor="middle">1</text>
<line x1="286.1" y1="1365.4" x2="286.1" y2="1374.4" stroke="#231815" stroke-width="1.3"/>
<text x="286.1" y="1394.9" text-anchor="middle">2</text>
<line x1="368.4" y1="1365.4" x2="368.4" y2="1374.4" stroke="#231815" stroke-width="1.3"/>
<text x="368.4" y="1394.9" text-anchor="middle">3</text>
<line x1="450.7" y1="1365.4" x2="450.7" y2="1374.4" stroke="#231815" stroke-width="1.3"/>
<text x="450.7" y="1394.9" text-anchor="middle">4</text>
<text x="286.1" y="1421.4" text-anchor="middle">DAY</text>
<text transform="translate(89.8,1259.6) rotate(-90)" text-anchor="middle" font-size="19.4">OD Values(450nm)</text>
<text x="285" y="1042.7" text-anchor="middle">H520</text>
<text x="284.6" y="1071.3">DMSO/Vinorelbine</text>
<text x="124" y="1117.7">DMSO/TGFβRi</text>
<line x1="285.7" y1="1075" x2="285.7" y2="1088.7" stroke="#231815" stroke-width="1.9"/>
<path d="M281.4,1086.2 L290,1086.2 L285.7,1095.7Z" fill="#231815"/>
<line x1="124" y1="1121.4" x2="124" y2="1134" stroke="#231815" stroke-width="1.9"/>
<path d="M119.7,1131.5 L128.3,1131.5 L124,1141Z" fill="#231815"/>
<path d="M121.4,1327.3 L203.7,1311.9 L286.1,1280.4 L368.4,1282.6 L450.7,1276.1" stroke="#f49a52" stroke-width="1.8" fill="none"/>
<path d="M121.4,1325.9 V1328.8 M118.2,1325.9 h6.4 M118.2,1328.8 h6.4" stroke="#f49a52" stroke-width="1.6" fill="none"/>
<path d="M121.4,1331.1 L124.9,1324.8 L117.9,1324.8Z" fill="#f49a52" stroke="#f49a52" stroke-width="1.4"/>
<path d="M203.7,1309 V1314.9 M200.5,1309 h6.4 M200.5,1314.9 h6.4" stroke="#f49a52" stroke-width="1.6" fill="none"/>
<path d="M203.7,1315.7 L207.2,1309.5 L200.3,1309.5Z" fill="#f49a52" stroke="#f49a52" stroke-width="1.4"/>
<path d="M286.1,1276.8 V1284.1 M282.9,1276.8 h6.4 M282.9,1284.1 h6.4" stroke="#f49a52" stroke-width="1.6" fill="none"/>
<path d="M286.1,1284.2 L289.5,1278 L282.6,1278Z" fill="#f49a52" stroke="#f49a52" stroke-width="1.4"/>
<path d="M368.4,1278.3 V1287 M365.2,1278.3 h6.4 M365.2,1287 h6.4" stroke="#f49a52" stroke-width="1.6" fill="none"/>
<path d="M368.4,1286.4 L371.9,1280.2 L364.9,1280.2Z" fill="none" stroke="#f49a52" stroke-width="1.4"/>
<path d="M450.7,1271.7 V1280.4 M447.5,1271.7 h6.4 M447.5,1280.4 h6.4" stroke="#f49a52" stroke-width="1.6" fill="none"/>
<path d="M450.7,1279.9 L454.2,1273.6 L447.3,1273.6Z" fill="none" stroke="#f49a52" stroke-width="1.4"/>
<path d="M121.4,1325.9 L203.7,1314.1 L286.1,1283.4 L368.4,1225.5 L450.7,1198.4" stroke="#2957a8" stroke-width="1.8" fill="none"/>
<path d="M121.4,1323.7 V1328.1 M118.2,1323.7 h6.4 M118.2,1328.1 h6.4" stroke="#2957a8" stroke-width="1.6" fill="none"/>
<path d="M121.4,1322.1 L124.9,1328.3 L117.9,1328.3Z" fill="#2957a8" stroke="#2957a8" stroke-width="1.4"/>
<path d="M203.7,1311.9 V1316.3 M200.5,1311.9 h6.4 M200.5,1316.3 h6.4" stroke="#2957a8" stroke-width="1.6" fill="none"/>
<path d="M203.7,1310.3 L207.2,1316.6 L200.3,1316.6Z" fill="#2957a8" stroke="#2957a8" stroke-width="1.4"/>
<path d="M286.1,1279.7 V1287 M282.9,1279.7 h6.4 M282.9,1287 h6.4" stroke="#2957a8" stroke-width="1.6" fill="none"/>
<path d="M286.1,1279.6 L289.5,1285.9 L282.6,1285.9Z" fill="#2957a8" stroke="#2957a8" stroke-width="1.4"/>
<path d="M368.4,1222.6 V1228.5 M365.2,1222.6 h6.4 M365.2,1228.5 h6.4" stroke="#2957a8" stroke-width="1.6" fill="none"/>
<path d="M368.4,1221.7 L371.9,1228 L364.9,1228Z" fill="none" stroke="#2957a8" stroke-width="1.4"/>
<path d="M450.7,1191.1 V1205.8 M447.5,1191.1 h6.4 M447.5,1205.8 h6.4" stroke="#2957a8" stroke-width="1.6" fill="none"/>
<path d="M450.7,1194.6 L454.2,1200.9 L447.3,1200.9Z" fill="none" stroke="#2957a8" stroke-width="1.4"/>
<path d="M121.4,1326.6 L203.7,1312.7 L286.1,1278.3 L368.4,1274.6 L450.7,1270.2" stroke="#7434a0" stroke-width="1.8" fill="none"/>
<path d="M121.4,1325.1 V1328.1 M118.2,1325.1 h6.4 M118.2,1328.1 h6.4" stroke="#7434a0" stroke-width="1.6" fill="none"/>
<rect x="118.1" y="1323.3" width="6.6" height="6.6" fill="#7434a0" stroke="#7434a0" stroke-width="1.4"/>
<path d="M203.7,1310.5 V1314.9 M200.5,1310.5 h6.4 M200.5,1314.9 h6.4" stroke="#7434a0" stroke-width="1.6" fill="none"/>
<rect x="200.4" y="1309.4" width="6.6" height="6.6" fill="#7434a0" stroke="#7434a0" stroke-width="1.4"/>
<path d="M286.1,1274.6 V1281.9 M282.9,1274.6 h6.4 M282.9,1281.9 h6.4" stroke="#7434a0" stroke-width="1.6" fill="none"/>
<rect x="282.8" y="1275" width="6.6" height="6.6" fill="#7434a0" stroke="#7434a0" stroke-width="1.4"/>
<path d="M368.4,1270.9 V1278.3 M365.2,1270.9 h6.4 M365.2,1278.3 h6.4" stroke="#7434a0" stroke-width="1.6" fill="none"/>
<rect x="365.1" y="1271.3" width="6.6" height="6.6" fill="none" stroke="#7434a0" stroke-width="1.4"/>
<path d="M450.7,1262.9 V1277.5 M447.5,1262.9 h6.4 M447.5,1277.5 h6.4" stroke="#7434a0" stroke-width="1.6" fill="none"/>
<rect x="447.4" y="1266.9" width="6.6" height="6.6" fill="none" stroke="#7434a0" stroke-width="1.4"/>
<path d="M121.4,1325.1 L203.7,1309 L286.1,1275.3 L368.4,1226.3 L450.7,1177.2" stroke="#c6566d" stroke-width="1.8" fill="none"/>
<path d="M121.4,1322.9 V1327.3 M118.2,1322.9 h6.4 M118.2,1327.3 h6.4" stroke="#c6566d" stroke-width="1.6" fill="none"/>
<circle cx="121.4" cy="1325.1" r="3.3" fill="#c6566d" stroke="#c6566d" stroke-width="1.4"/>
<path d="M203.7,1305.3 V1312.7 M200.5,1305.3 h6.4 M200.5,1312.7 h6.4" stroke="#c6566d" stroke-width="1.6" fill="none"/>
<circle cx="203.7" cy="1309" r="3.3" fill="#c6566d" stroke="#c6566d" stroke-width="1.4"/>
<path d="M286.1,1270.9 V1279.7 M282.9,1270.9 h6.4 M282.9,1279.7 h6.4" stroke="#c6566d" stroke-width="1.6" fill="none"/>
<circle cx="286.1" cy="1275.3" r="3.3" fill="#c6566d" stroke="#c6566d" stroke-width="1.4"/>
<path d="M368.4,1223.3 V1229.2 M365.2,1223.3 h6.4 M365.2,1229.2 h6.4" stroke="#c6566d" stroke-width="1.6" fill="none"/>
<circle cx="368.4" cy="1226.3" r="3.3" fill="none" stroke="#c6566d" stroke-width="1.4"/>
<path d="M450.7,1168.4 V1186 M447.5,1168.4 h6.4 M447.5,1186 h6.4" stroke="#c6566d" stroke-width="1.6" fill="none"/>
<circle cx="450.7" cy="1177.2" r="3.3" fill="none" stroke="#c6566d" stroke-width="1.4"/>
<path d="M463.6,1266 H473.2 V1281 H463.6" stroke="#231815" stroke-width="1.5" fill="none"/>
<text x="482" y="1279">ns</text>
<line x1="611.8" y1="1145" x2="611.8" y2="1365.2" stroke="#231815" stroke-width="1.3"/>
<line x1="603.8" y1="1364.6" x2="941" y2="1364.6" stroke="#231815" stroke-width="1.3"/>
<line x1="603.8" y1="1364.6" x2="611.8" y2="1364.6" stroke="#231815" stroke-width="1.3"/>
<text x="601.3" y="1371.6" text-anchor="end">0</text>
<line x1="603.8" y1="1309.7" x2="611.8" y2="1309.7" stroke="#231815" stroke-width="1.3"/>
<text x="601.3" y="1316.7" text-anchor="end">1</text>
<line x1="603.8" y1="1254.8" x2="611.8" y2="1254.8" stroke="#231815" stroke-width="1.3"/>
<text x="601.3" y="1261.8" text-anchor="end">2</text>
<line x1="603.8" y1="1199.9" x2="611.8" y2="1199.9" stroke="#231815" stroke-width="1.3"/>
<text x="601.3" y="1206.9" text-anchor="end">3</text>
<line x1="603.8" y1="1145" x2="611.8" y2="1145" stroke="#231815" stroke-width="1.3"/>
<text x="601.3" y="1152" text-anchor="end">4</text>
<line x1="611.8" y1="1364.6" x2="611.8" y2="1373.6" stroke="#231815" stroke-width="1.3"/>
<text x="611.8" y="1394.1" text-anchor="middle">0</text>
<line x1="694.1" y1="1364.6" x2="694.1" y2="1373.6" stroke="#231815" stroke-width="1.3"/>
<text x="694.1" y="1394.1" text-anchor="middle">1</text>
<line x1="776.4" y1="1364.6" x2="776.4" y2="1373.6" stroke="#231815" stroke-width="1.3"/>
<text x="776.4" y="1394.1" text-anchor="middle">2</text>
<line x1="858.7" y1="1364.6" x2="858.7" y2="1373.6" stroke="#231815" stroke-width="1.3"/>
<text x="858.7" y="1394.1" text-anchor="middle">3</text>
<line x1="941" y1="1364.6" x2="941" y2="1373.6" stroke="#231815" stroke-width="1.3"/>
<text x="941" y="1394.1" text-anchor="middle">4</text>
<text x="776.4" y="1420.6" text-anchor="middle">DAY</text>
<text transform="translate(580.1,1258.8) rotate(-90)" text-anchor="middle" font-size="19.4">OD Values(450nm)</text>
<text x="775" y="1042.7" text-anchor="middle">HCC15</text>
<text x="775" y="1071.3">DMSO/Vinorelbine</text>
<text x="613.6" y="1117.7">DMSO/TGFβRi</text>
<line x1="775" y1="1075" x2="775" y2="1088.7" stroke="#231815" stroke-width="1.9"/>
<path d="M770.7,1086.2 L779.3,1086.2 L775,1095.7Z" fill="#231815"/>
<line x1="612.9" y1="1121.4" x2="612.9" y2="1134" stroke="#231815" stroke-width="1.9"/>
<path d="M608.6,1131.5 L617.2,1131.5 L612.9,1141Z" fill="#231815"/>
<path d="M611.8,1332.8 L694.1,1320.7 L776.4,1300.4 L858.7,1293.2 L941,1282.8" stroke="#f49a52" stroke-width="1.8" fill="none"/>
<path d="M611.8,1331.1 V1334.4 M608.6,1331.1 h6.4 M608.6,1334.4 h6.4" stroke="#f49a52" stroke-width="1.6" fill="none"/>
<path d="M611.8,1336.6 L615.3,1330.3 L608.3,1330.3Z" fill="#f49a52" stroke="#f49a52" stroke-width="1.4"/>
<path d="M694.1,1318.5 V1322.9 M690.9,1318.5 h6.4 M690.9,1322.9 h6.4" stroke="#f49a52" stroke-width="1.6" fill="none"/>
<path d="M694.1,1324.5 L697.6,1318.2 L690.6,1318.2Z" fill="#f49a52" stroke="#f49a52" stroke-width="1.4"/>
<path d="M776.4,1297.6 V1303.1 M773.2,1297.6 h6.4 M773.2,1303.1 h6.4" stroke="#f49a52" stroke-width="1.6" fill="none"/>
<path d="M776.4,1304.2 L779.9,1297.9 L772.9,1297.9Z" fill="#f49a52" stroke="#f49a52" stroke-width="1.4"/>
<path d="M858.7,1288.8 V1297.6 M855.5,1288.8 h6.4 M855.5,1297.6 h6.4" stroke="#f49a52" stroke-width="1.6" fill="none"/>
<path d="M858.7,1297 L862.2,1290.8 L855.2,1290.8Z" fill="none" stroke="#f49a52" stroke-width="1.4"/>
<path d="M941,1278.4 V1287.2 M937.8,1278.4 h6.4 M937.8,1287.2 h6.4" stroke="#f49a52" stroke-width="1.6" fill="none"/>
<path d="M941,1286.6 L944.5,1280.3 L937.5,1280.3Z" fill="none" stroke="#f49a52" stroke-width="1.4"/>
<path d="M611.8,1331.7 L694.1,1320.7 L776.4,1295.4 L858.7,1280.6 L941,1257" stroke="#2957a8" stroke-width="1.8" fill="none"/>
<path d="M611.8,1330 V1333.3 M608.6,1330 h6.4 M608.6,1333.3 h6.4" stroke="#2957a8" stroke-width="1.6" fill="none"/>
<path d="M611.8,1327.9 L615.3,1334.1 L608.3,1334.1Z" fill="#2957a8" stroke="#2957a8" stroke-width="1.4"/>
<path d="M694.1,1318.5 V1322.9 M690.9,1318.5 h6.4 M690.9,1322.9 h6.4" stroke="#2957a8" stroke-width="1.6" fill="none"/>
<path d="M694.1,1316.9 L697.6,1323.2 L690.6,1323.2Z" fill="#2957a8" stroke="#2957a8" stroke-width="1.4"/>
<path d="M776.4,1293.2 V1297.6 M773.2,1293.2 h6.4 M773.2,1297.6 h6.4" stroke="#2957a8" stroke-width="1.6" fill="none"/>
<path d="M776.4,1291.6 L779.9,1297.9 L772.9,1297.9Z" fill="#2957a8" stroke="#2957a8" stroke-width="1.4"/>
<path d="M858.7,1275.1 V1286.1 M855.5,1275.1 h6.4 M855.5,1286.1 h6.4" stroke="#2957a8" stroke-width="1.6" fill="none"/>
<path d="M858.7,1276.8 L862.2,1283.1 L855.2,1283.1Z" fill="none" stroke="#2957a8" stroke-width="1.4"/>
<path d="M941,1252.6 V1261.4 M937.8,1252.6 h6.4 M937.8,1261.4 h6.4" stroke="#2957a8" stroke-width="1.6" fill="none"/>
<path d="M941,1253.2 L944.5,1259.5 L937.5,1259.5Z" fill="none" stroke="#2957a8" stroke-width="1.4"/>
<path d="M611.8,1330 L694.1,1315.2 L776.4,1279.5 L858.7,1268.5 L941,1268.5" stroke="#7434a0" stroke-width="1.8" fill="none"/>
<path d="M611.8,1328.4 V1331.7 M608.6,1328.4 h6.4 M608.6,1331.7 h6.4" stroke="#7434a0" stroke-width="1.6" fill="none"/>
<rect x="608.5" y="1326.7" width="6.6" height="6.6" fill="#7434a0" stroke="#7434a0" stroke-width="1.4"/>
<path d="M694.1,1312.4 V1317.9 M690.9,1312.4 h6.4 M690.9,1317.9 h6.4" stroke="#7434a0" stroke-width="1.6" fill="none"/>
<rect x="690.8" y="1311.9" width="6.6" height="6.6" fill="#7434a0" stroke="#7434a0" stroke-width="1.4"/>
<path d="M776.4,1276.8 V1282.2 M773.2,1276.8 h6.4 M773.2,1282.2 h6.4" stroke="#7434a0" stroke-width="1.6" fill="none"/>
<rect x="773.1" y="1276.2" width="6.6" height="6.6" fill="#7434a0" stroke="#7434a0" stroke-width="1.4"/>
<path d="M858.7,1263 V1274 M855.5,1263 h6.4 M855.5,1274 h6.4" stroke="#7434a0" stroke-width="1.6" fill="none"/>
<rect x="855.4" y="1265.2" width="6.6" height="6.6" fill="none" stroke="#7434a0" stroke-width="1.4"/>
<path d="M941,1263 V1274 M937.8,1263 h6.4 M937.8,1274 h6.4" stroke="#7434a0" stroke-width="1.6" fill="none"/>
<rect x="937.7" y="1265.2" width="6.6" height="6.6" fill="none" stroke="#7434a0" stroke-width="1.4"/>
<path d="M611.8,1331.7 L694.1,1313.5 L776.4,1279.5 L858.7,1249.3 L941,1207" stroke="#c6566d" stroke-width="1.8" fill="none"/>
<path d="M611.8,1330 V1333.3 M608.6,1330 h6.4 M608.6,1333.3 h6.4" stroke="#c6566d" stroke-width="1.6" fill="none"/>
<circle cx="611.8" cy="1331.7" r="3.3" fill="#c6566d" stroke="#c6566d" stroke-width="1.4"/>
<path d="M694.1,1310.8 V1316.3 M690.9,1310.8 h6.4 M690.9,1316.3 h6.4" stroke="#c6566d" stroke-width="1.6" fill="none"/>
<circle cx="694.1" cy="1313.5" r="3.3" fill="#c6566d" stroke="#c6566d" stroke-width="1.4"/>
<path d="M776.4,1277.3 V1281.7 M773.2,1277.3 h6.4 M773.2,1281.7 h6.4" stroke="#c6566d" stroke-width="1.6" fill="none"/>
<circle cx="776.4" cy="1279.5" r="3.3" fill="#c6566d" stroke="#c6566d" stroke-width="1.4"/>
<path d="M858.7,1243.8 V1254.8 M855.5,1243.8 h6.4 M855.5,1254.8 h6.4" stroke="#c6566d" stroke-width="1.6" fill="none"/>
<circle cx="858.7" cy="1249.3" r="3.3" fill="none" stroke="#c6566d" stroke-width="1.4"/>
<path d="M941,1202.6 V1211.4 M937.8,1202.6 h6.4 M937.8,1211.4 h6.4" stroke="#c6566d" stroke-width="1.6" fill="none"/>
<circle cx="941" cy="1207" r="3.3" fill="none" stroke="#c6566d" stroke-width="1.4"/>
<path d="M952.9,1270 H963.2 V1284 H952.9" stroke="#231815" stroke-width="1.5" fill="none"/>
<text x="968.2" y="1290">*</text>
<line x1="1086.6" y1="1144.9" x2="1086.6" y2="1365.5" stroke="#231815" stroke-width="1.3"/>
<line x1="1078.6" y1="1364.8" x2="1416.2" y2="1364.8" stroke="#231815" stroke-width="1.3"/>
<line x1="1078.6" y1="1364.8" x2="1086.6" y2="1364.8" stroke="#231815" stroke-width="1.3"/>
<text x="1076.1" y="1371.8" text-anchor="end">0</text>
<line x1="1078.6" y1="1291.5" x2="1086.6" y2="1291.5" stroke="#231815" stroke-width="1.3"/>
<text x="1076.1" y="1298.5" text-anchor="end">1</text>
<line x1="1078.6" y1="1218.2" x2="1086.6" y2="1218.2" stroke="#231815" stroke-width="1.3"/>
<text x="1076.1" y="1225.2" text-anchor="end">2</text>
<line x1="1078.6" y1="1144.9" x2="1086.6" y2="1144.9" stroke="#231815" stroke-width="1.3"/>
<text x="1076.1" y="1151.9" text-anchor="end">3</text>
<line x1="1086.6" y1="1364.8" x2="1086.6" y2="1373.8" stroke="#231815" stroke-width="1.3"/>
<text x="1086.6" y="1394.3" text-anchor="middle">0</text>
<line x1="1169" y1="1364.8" x2="1169" y2="1373.8" stroke="#231815" stroke-width="1.3"/>
<text x="1169" y="1394.3" text-anchor="middle">1</text>
<line x1="1251.4" y1="1364.8" x2="1251.4" y2="1373.8" stroke="#231815" stroke-width="1.3"/>
<text x="1251.4" y="1394.3" text-anchor="middle">2</text>
<line x1="1333.8" y1="1364.8" x2="1333.8" y2="1373.8" stroke="#231815" stroke-width="1.3"/>
<text x="1333.8" y="1394.3" text-anchor="middle">3</text>
<line x1="1416.2" y1="1364.8" x2="1416.2" y2="1373.8" stroke="#231815" stroke-width="1.3"/>
<text x="1416.2" y="1394.3" text-anchor="middle">4</text>
<text x="1251.4" y="1420.8" text-anchor="middle">DAY</text>
<text transform="translate(1055.8,1258.8) rotate(-90)" text-anchor="middle" font-size="19.4">OD Values(450nm)</text>
<text x="1245.3" y="1042.7" text-anchor="middle">H226</text>
<text x="1250.4" y="1069.2">DMSO/Vinorelbine</text>
<text x="1089.7" y="1115">DMSO/TGFβRi</text>
<line x1="1250.4" y1="1074" x2="1250.4" y2="1087" stroke="#231815" stroke-width="1.9"/>
<path d="M1246.1,1084.5 L1254.7,1084.5 L1250.4,1094Z" fill="#231815"/>
<line x1="1087.7" y1="1121" x2="1087.7" y2="1134" stroke="#231815" stroke-width="1.9"/>
<path d="M1083.4,1131.5 L1092,1131.5 L1087.7,1141Z" fill="#231815"/>
<path d="M1086.6,1317.2 L1169,1287.1 L1251.4,1260.7 L1333.8,1251.2 L1416.2,1243.1" stroke="#f49a52" stroke-width="1.8" fill="none"/>
<path d="M1086.6,1315 V1319.4 M1083.4,1315 h6.4 M1083.4,1319.4 h6.4" stroke="#f49a52" stroke-width="1.6" fill="none"/>
<path d="M1086.6,1321 L1090.1,1314.7 L1083.1,1314.7Z" fill="#f49a52" stroke="#f49a52" stroke-width="1.4"/>
<path d="M1169,1284.2 V1290 M1165.8,1284.2 h6.4 M1165.8,1290 h6.4" stroke="#f49a52" stroke-width="1.6" fill="none"/>
<path d="M1169,1290.9 L1172.5,1284.6 L1165.5,1284.6Z" fill="#f49a52" stroke="#f49a52" stroke-width="1.4"/>
<path d="M1251.4,1257.8 V1263.6 M1248.2,1257.8 h6.4 M1248.2,1263.6 h6.4" stroke="#f49a52" stroke-width="1.6" fill="none"/>
<path d="M1251.4,1264.5 L1254.9,1258.2 L1247.9,1258.2Z" fill="#f49a52" stroke="#f49a52" stroke-width="1.4"/>
<path d="M1333.8,1242.4 V1260 M1330.6,1242.4 h6.4 M1330.6,1260 h6.4" stroke="#f49a52" stroke-width="1.6" fill="none"/>
<path d="M1333.8,1255 L1337.3,1248.7 L1330.3,1248.7Z" fill="none" stroke="#f49a52" stroke-width="1.4"/>
<path d="M1416.2,1235.8 V1250.5 M1413,1235.8 h6.4 M1413,1250.5 h6.4" stroke="#f49a52" stroke-width="1.6" fill="none"/>
<path d="M1416.2,1246.9 L1419.7,1240.6 L1412.7,1240.6Z" fill="none" stroke="#f49a52" stroke-width="1.4"/>
<path d="M1086.6,1316.4 L1169,1289.3 L1251.4,1261.4 L1333.8,1227 L1416.2,1172.8" stroke="#2957a8" stroke-width="1.8" fill="none"/>
<path d="M1086.6,1314.2 V1318.6 M1083.4,1314.2 h6.4 M1083.4,1318.6 h6.4" stroke="#2957a8" stroke-width="1.6" fill="none"/>
<path d="M1086.6,1312.6 L1090.1,1318.9 L1083.1,1318.9Z" fill="#2957a8" stroke="#2957a8" stroke-width="1.4"/>
<path d="M1169,1284.9 V1293.7 M1165.8,1284.9 h6.4 M1165.8,1293.7 h6.4" stroke="#2957a8" stroke-width="1.6" fill="none"/>
<path d="M1169,1285.5 L1172.5,1291.8 L1165.5,1291.8Z" fill="#2957a8" stroke="#2957a8" stroke-width="1.4"/>
<path d="M1251.4,1258.5 V1264.4 M1248.2,1258.5 h6.4 M1248.2,1264.4 h6.4" stroke="#2957a8" stroke-width="1.6" fill="none"/>
<path d="M1251.4,1257.7 L1254.9,1263.9 L1247.9,1263.9Z" fill="#2957a8" stroke="#2957a8" stroke-width="1.4"/>
<path d="M1333.8,1218.2 V1235.8 M1330.6,1218.2 h6.4 M1330.6,1235.8 h6.4" stroke="#2957a8" stroke-width="1.6" fill="none"/>
<path d="M1333.8,1223.2 L1337.3,1229.5 L1330.3,1229.5Z" fill="none" stroke="#2957a8" stroke-width="1.4"/>
<path d="M1416.2,1164 V1181.6 M1413,1164 h6.4 M1413,1181.6 h6.4" stroke="#2957a8" stroke-width="1.6" fill="none"/>
<path d="M1416.2,1169 L1419.7,1175.2 L1412.7,1175.2Z" fill="none" stroke="#2957a8" stroke-width="1.4"/>
<path d="M1086.6,1319.4 L1169,1287.1 L1251.4,1249 L1333.8,1229.2 L1416.2,1194" stroke="#7434a0" stroke-width="1.8" fill="none"/>
<path d="M1086.6,1317.2 V1321.6 M1083.4,1317.2 h6.4 M1083.4,1321.6 h6.4" stroke="#7434a0" stroke-width="1.6" fill="none"/>
<rect x="1083.3" y="1316.1" width="6.6" height="6.6" fill="#7434a0" stroke="#7434a0" stroke-width="1.4"/>
<path d="M1169,1283.4 V1290.8 M1165.8,1283.4 h6.4 M1165.8,1290.8 h6.4" stroke="#7434a0" stroke-width="1.6" fill="none"/>
<rect x="1165.7" y="1283.8" width="6.6" height="6.6" fill="#7434a0" stroke="#7434a0" stroke-width="1.4"/>
<path d="M1251.4,1246.1 V1251.9 M1248.2,1246.1 h6.4 M1248.2,1251.9 h6.4" stroke="#7434a0" stroke-width="1.6" fill="none"/>
<rect x="1248.1" y="1245.7" width="6.6" height="6.6" fill="#7434a0" stroke="#7434a0" stroke-width="1.4"/>
<path d="M1333.8,1221.9 V1236.5 M1330.6,1221.9 h6.4 M1330.6,1236.5 h6.4" stroke="#7434a0" stroke-width="1.6" fill="none"/>
<rect x="1330.5" y="1225.9" width="6.6" height="6.6" fill="none" stroke="#7434a0" stroke-width="1.4"/>
<path d="M1416.2,1183.7 V1204.3 M1413,1183.7 h6.4 M1413,1204.3 h6.4" stroke="#7434a0" stroke-width="1.6" fill="none"/>
<rect x="1412.9" y="1190.7" width="6.6" height="6.6" fill="none" stroke="#7434a0" stroke-width="1.4"/>
<path d="M1086.6,1318.6 L1169,1284.2 L1251.4,1249 L1333.8,1204.3 L1416.2,1169.8" stroke="#c6566d" stroke-width="1.8" fill="none"/>
<path d="M1086.6,1316.4 V1320.8 M1083.4,1316.4 h6.4 M1083.4,1320.8 h6.4" stroke="#c6566d" stroke-width="1.6" fill="none"/>
<circle cx="1086.6" cy="1318.6" r="3.3" fill="#c6566d" stroke="#c6566d" stroke-width="1.4"/>
<path d="M1169,1280.5 V1287.8 M1165.8,1280.5 h6.4 M1165.8,1287.8 h6.4" stroke="#c6566d" stroke-width="1.6" fill="none"/>
<circle cx="1169" cy="1284.2" r="3.3" fill="#c6566d" stroke="#c6566d" stroke-width="1.4"/>
<path d="M1251.4,1246.1 V1251.9 M1248.2,1246.1 h6.4 M1248.2,1251.9 h6.4" stroke="#c6566d" stroke-width="1.6" fill="none"/>
<circle cx="1251.4" cy="1249" r="3.3" fill="#c6566d" stroke="#c6566d" stroke-width="1.4"/>
<path d="M1333.8,1194 V1214.5 M1330.6,1194 h6.4 M1330.6,1214.5 h6.4" stroke="#c6566d" stroke-width="1.6" fill="none"/>
<circle cx="1333.8" cy="1204.3" r="3.3" fill="none" stroke="#c6566d" stroke-width="1.4"/>
<path d="M1416.2,1161 V1178.6 M1413,1161 h6.4 M1413,1178.6 h6.4" stroke="#c6566d" stroke-width="1.6" fill="none"/>
<circle cx="1416.2" cy="1169.8" r="3.3" fill="none" stroke="#c6566d" stroke-width="1.4"/>
<path d="M1429,1194 H1439 V1242.3 H1429" stroke="#231815" stroke-width="1.5" fill="none"/>
<text x="1445.6" y="1230.5">***</text>
<line x1="1513" y1="1158.2" x2="1536" y2="1158.2" stroke="#c6566d" stroke-width="1.6"/>
<circle cx="1524.5" cy="1158.2" r="3.6" fill="#c6566d" stroke="#c6566d" stroke-width="1"/>
<text x="1550.4" y="1165.2">DMSO</text>
<line x1="1513" y1="1188.3" x2="1536" y2="1188.3" stroke="#7434a0" stroke-width="1.6"/>
<rect x="1520.9" y="1184.7" width="7.2" height="7.2" fill="#7434a0" stroke="#7434a0" stroke-width="1"/>
<text x="1550.4" y="1195.3">DMSO+Vinorelbine</text>
<line x1="1513" y1="1217.3" x2="1536" y2="1217.3" stroke="#2957a8" stroke-width="1.6"/>
<path d="M1524.5,1213.2 L1528.3,1220 L1520.7,1220Z" fill="#2957a8" stroke="#2957a8" stroke-width="1"/>
<text x="1550.4" y="1224.3">TGFβRi+DMSO</text>
<line x1="1513" y1="1247" x2="1536" y2="1247" stroke="#f49a52" stroke-width="1.6"/>
<path d="M1524.5,1251.1 L1528.3,1244.3 L1520.7,1244.3Z" fill="#f49a52" stroke="#f49a52" stroke-width="1"/>
<text x="1550.4" y="1254">TGFβRi+Vinorelbine</text>
<line x1="118.9" y1="1573.6" x2="118.9" y2="1793.9" stroke="#231815" stroke-width="1.3"/>
<line x1="110.9" y1="1793.2" x2="448.9" y2="1793.2" stroke="#231815" stroke-width="1.3"/>
<line x1="110.9" y1="1793.2" x2="118.9" y2="1793.2" stroke="#231815" stroke-width="1.3"/>
<text x="108.4" y="1800.2" text-anchor="end">0</text>
<line x1="110.9" y1="1720" x2="118.9" y2="1720" stroke="#231815" stroke-width="1.3"/>
<text x="108.4" y="1727" text-anchor="end">1</text>
<line x1="110.9" y1="1646.8" x2="118.9" y2="1646.8" stroke="#231815" stroke-width="1.3"/>
<text x="108.4" y="1653.8" text-anchor="end">2</text>
<line x1="110.9" y1="1573.6" x2="118.9" y2="1573.6" stroke="#231815" stroke-width="1.3"/>
<text x="108.4" y="1580.6" text-anchor="end">3</text>
<line x1="118.9" y1="1793.2" x2="118.9" y2="1802.2" stroke="#231815" stroke-width="1.3"/>
<text x="118.9" y="1822.7" text-anchor="middle">0</text>
<line x1="201.4" y1="1793.2" x2="201.4" y2="1802.2" stroke="#231815" stroke-width="1.3"/>
<text x="201.4" y="1822.7" text-anchor="middle">1</text>
<line x1="283.9" y1="1793.2" x2="283.9" y2="1802.2" stroke="#231815" stroke-width="1.3"/>
<text x="283.9" y="1822.7" text-anchor="middle">2</text>
<line x1="366.4" y1="1793.2" x2="366.4" y2="1802.2" stroke="#231815" stroke-width="1.3"/>
<text x="366.4" y="1822.7" text-anchor="middle">3</text>
<line x1="448.9" y1="1793.2" x2="448.9" y2="1802.2" stroke="#231815" stroke-width="1.3"/>
<text x="448.9" y="1822.7" text-anchor="middle">4</text>
<text x="283.9" y="1849.2" text-anchor="middle">DAY</text>
<text transform="translate(89.8,1687.4) rotate(-90)" text-anchor="middle" font-size="19.4">OD Values(450nm)</text>
<text x="287.5" y="1469.9" text-anchor="middle">H520</text>
<text x="284.6" y="1500.2">DMSO/Docetaxel</text>
<text x="122.5" y="1546.6">DMSO/TGFβRi</text>
<line x1="283.2" y1="1504" x2="283.2" y2="1517" stroke="#231815" stroke-width="1.9"/>
<path d="M278.9,1514.5 L287.5,1514.5 L283.2,1524Z" fill="#231815"/>
<line x1="121.8" y1="1550" x2="121.8" y2="1563" stroke="#231815" stroke-width="1.9"/>
<path d="M117.5,1560.5 L126.1,1560.5 L121.8,1570Z" fill="#231815"/>
<path d="M118.9,1755.1 L201.4,1739.8 L283.9,1706.8 L366.4,1703.9 L448.9,1701.7" stroke="#f49a52" stroke-width="1.8" fill="none"/>
<path d="M118.9,1753.7 V1756.6 M115.7,1753.7 h6.4 M115.7,1756.6 h6.4" stroke="#f49a52" stroke-width="1.6" fill="none"/>
<path d="M118.9,1758.9 L122.4,1752.7 L115.4,1752.7Z" fill="#f49a52" stroke="#f49a52" stroke-width="1.4"/>
<path d="M201.4,1736.8 V1742.7 M198.2,1736.8 h6.4 M198.2,1742.7 h6.4" stroke="#f49a52" stroke-width="1.6" fill="none"/>
<path d="M201.4,1743.6 L204.9,1737.3 L197.9,1737.3Z" fill="#f49a52" stroke="#f49a52" stroke-width="1.4"/>
<path d="M283.9,1703.2 V1710.5 M280.7,1703.2 h6.4 M280.7,1710.5 h6.4" stroke="#f49a52" stroke-width="1.6" fill="none"/>
<path d="M283.9,1710.6 L287.4,1704.3 L280.4,1704.3Z" fill="#f49a52" stroke="#f49a52" stroke-width="1.4"/>
<path d="M366.4,1700.2 V1707.6 M363.2,1700.2 h6.4 M363.2,1707.6 h6.4" stroke="#f49a52" stroke-width="1.6" fill="none"/>
<path d="M366.4,1707.7 L369.9,1701.4 L362.9,1701.4Z" fill="none" stroke="#f49a52" stroke-width="1.4"/>
<path d="M448.9,1696.6 V1706.8 M445.7,1696.6 h6.4 M445.7,1706.8 h6.4" stroke="#f49a52" stroke-width="1.6" fill="none"/>
<path d="M448.9,1705.5 L452.4,1699.2 L445.4,1699.2Z" fill="none" stroke="#f49a52" stroke-width="1.4"/>
<path d="M118.9,1754.4 L201.4,1742.7 L283.9,1711.2 L366.4,1653.4 L448.9,1625.6" stroke="#2957a8" stroke-width="1.8" fill="none"/>
<path d="M118.9,1752.2 V1756.6 M115.7,1752.2 h6.4 M115.7,1756.6 h6.4" stroke="#2957a8" stroke-width="1.6" fill="none"/>
<path d="M118.9,1750.6 L122.4,1756.9 L115.4,1756.9Z" fill="#2957a8" stroke="#2957a8" stroke-width="1.4"/>
<path d="M201.4,1740.5 V1744.9 M198.2,1740.5 h6.4 M198.2,1744.9 h6.4" stroke="#2957a8" stroke-width="1.6" fill="none"/>
<path d="M201.4,1738.9 L204.9,1745.2 L197.9,1745.2Z" fill="#2957a8" stroke="#2957a8" stroke-width="1.4"/>
<path d="M283.9,1707.6 V1714.9 M280.7,1707.6 h6.4 M280.7,1714.9 h6.4" stroke="#2957a8" stroke-width="1.6" fill="none"/>
<path d="M283.9,1707.4 L287.4,1713.7 L280.4,1713.7Z" fill="#2957a8" stroke="#2957a8" stroke-width="1.4"/>
<path d="M366.4,1650.5 V1656.3 M363.2,1650.5 h6.4 M363.2,1656.3 h6.4" stroke="#2957a8" stroke-width="1.6" fill="none"/>
<path d="M366.4,1649.6 L369.9,1655.9 L362.9,1655.9Z" fill="none" stroke="#2957a8" stroke-width="1.4"/>
<path d="M448.9,1618.3 V1632.9 M445.7,1618.3 h6.4 M445.7,1632.9 h6.4" stroke="#2957a8" stroke-width="1.6" fill="none"/>
<path d="M448.9,1621.8 L452.4,1628 L445.4,1628Z" fill="none" stroke="#2957a8" stroke-width="1.4"/>
<path d="M118.9,1755.9 L201.4,1740.5 L283.9,1706.8 L366.4,1701.7 L448.9,1690.7" stroke="#7434a0" stroke-width="1.8" fill="none"/>
<path d="M118.9,1754.4 V1757.3 M115.7,1754.4 h6.4 M115.7,1757.3 h6.4" stroke="#7434a0" stroke-width="1.6" fill="none"/>
<rect x="115.6" y="1752.6" width="6.6" height="6.6" fill="#7434a0" stroke="#7434a0" stroke-width="1.4"/>
<path d="M201.4,1738.3 V1742.7 M198.2,1738.3 h6.4 M198.2,1742.7 h6.4" stroke="#7434a0" stroke-width="1.6" fill="none"/>
<rect x="198.1" y="1737.2" width="6.6" height="6.6" fill="#7434a0" stroke="#7434a0" stroke-width="1.4"/>
<path d="M283.9,1703.2 V1710.5 M280.7,1703.2 h6.4 M280.7,1710.5 h6.4" stroke="#7434a0" stroke-width="1.6" fill="none"/>
<rect x="280.6" y="1703.5" width="6.6" height="6.6" fill="#7434a0" stroke="#7434a0" stroke-width="1.4"/>
<path d="M366.4,1692.9 V1710.5 M363.2,1692.9 h6.4 M363.2,1710.5 h6.4" stroke="#7434a0" stroke-width="1.6" fill="none"/>
<rect x="363.1" y="1698.4" width="6.6" height="6.6" fill="none" stroke="#7434a0" stroke-width="1.4"/>
<path d="M448.9,1683.4 V1698 M445.7,1683.4 h6.4 M445.7,1698 h6.4" stroke="#7434a0" stroke-width="1.6" fill="none"/>
<rect x="445.6" y="1687.4" width="6.6" height="6.6" fill="none" stroke="#7434a0" stroke-width="1.4"/>
<path d="M118.9,1752.9 L201.4,1736.8 L283.9,1703.2 L366.4,1654.1 L448.9,1605.1" stroke="#c6566d" stroke-width="1.8" fill="none"/>
<path d="M118.9,1750.7 V1755.1 M115.7,1750.7 h6.4 M115.7,1755.1 h6.4" stroke="#c6566d" stroke-width="1.6" fill="none"/>
<circle cx="118.9" cy="1752.9" r="3.3" fill="#c6566d" stroke="#c6566d" stroke-width="1.4"/>
<path d="M201.4,1733.2 V1740.5 M198.2,1733.2 h6.4 M198.2,1740.5 h6.4" stroke="#c6566d" stroke-width="1.6" fill="none"/>
<circle cx="201.4" cy="1736.8" r="3.3" fill="#c6566d" stroke="#c6566d" stroke-width="1.4"/>
<path d="M283.9,1698.8 V1707.6 M280.7,1698.8 h6.4 M280.7,1707.6 h6.4" stroke="#c6566d" stroke-width="1.6" fill="none"/>
<circle cx="283.9" cy="1703.2" r="3.3" fill="#c6566d" stroke="#c6566d" stroke-width="1.4"/>
<path d="M366.4,1651.2 V1657 M363.2,1651.2 h6.4 M363.2,1657 h6.4" stroke="#c6566d" stroke-width="1.6" fill="none"/>
<circle cx="366.4" cy="1654.1" r="3.3" fill="none" stroke="#c6566d" stroke-width="1.4"/>
<path d="M448.9,1596.3 V1613.9 M445.7,1596.3 h6.4 M445.7,1613.9 h6.4" stroke="#c6566d" stroke-width="1.6" fill="none"/>
<circle cx="448.9" cy="1605.1" r="3.3" fill="none" stroke="#c6566d" stroke-width="1.4"/>
<path d="M460,1692.5 H470.7 V1706.8 H460" stroke="#231815" stroke-width="1.5" fill="none"/>
<text x="480.4" y="1704">ns</text>
<line x1="612.9" y1="1574.3" x2="612.9" y2="1794.6" stroke="#231815" stroke-width="1.3"/>
<line x1="604.9" y1="1793.9" x2="942.9" y2="1793.9" stroke="#231815" stroke-width="1.3"/>
<line x1="604.9" y1="1793.9" x2="612.9" y2="1793.9" stroke="#231815" stroke-width="1.3"/>
<text x="602.4" y="1800.9" text-anchor="end">0</text>
<line x1="604.9" y1="1739" x2="612.9" y2="1739" stroke="#231815" stroke-width="1.3"/>
<text x="602.4" y="1746" text-anchor="end">1</text>
<line x1="604.9" y1="1684.1" x2="612.9" y2="1684.1" stroke="#231815" stroke-width="1.3"/>
<text x="602.4" y="1691.1" text-anchor="end">2</text>
<line x1="604.9" y1="1629.2" x2="612.9" y2="1629.2" stroke="#231815" stroke-width="1.3"/>
<text x="602.4" y="1636.2" text-anchor="end">3</text>
<line x1="604.9" y1="1574.3" x2="612.9" y2="1574.3" stroke="#231815" stroke-width="1.3"/>
<text x="602.4" y="1581.3" text-anchor="end">4</text>
<line x1="612.9" y1="1793.9" x2="612.9" y2="1802.9" stroke="#231815" stroke-width="1.3"/>
<text x="612.9" y="1823.4" text-anchor="middle">0</text>
<line x1="695.4" y1="1793.9" x2="695.4" y2="1802.9" stroke="#231815" stroke-width="1.3"/>
<text x="695.4" y="1823.4" text-anchor="middle">1</text>
<line x1="777.9" y1="1793.9" x2="777.9" y2="1802.9" stroke="#231815" stroke-width="1.3"/>
<text x="777.9" y="1823.4" text-anchor="middle">2</text>
<line x1="860.4" y1="1793.9" x2="860.4" y2="1802.9" stroke="#231815" stroke-width="1.3"/>
<text x="860.4" y="1823.4" text-anchor="middle">3</text>
<line x1="942.9" y1="1793.9" x2="942.9" y2="1802.9" stroke="#231815" stroke-width="1.3"/>
<text x="942.9" y="1823.4" text-anchor="middle">4</text>
<text x="777.9" y="1849.9" text-anchor="middle">DAY</text>
<text transform="translate(580.1,1688.1) rotate(-90)" text-anchor="middle" font-size="19.4">OD Values(450nm)</text>
<text x="777.9" y="1469.9" text-anchor="middle">HCC15</text>
<text x="776.8" y="1498.4">DMSO/Docetaxel</text>
<text x="614.3" y="1544.9">DMSO/TGFβRi</text>
<line x1="775" y1="1502.9" x2="775" y2="1515.9" stroke="#231815" stroke-width="1.9"/>
<path d="M770.7,1513.4 L779.3,1513.4 L775,1522.9Z" fill="#231815"/>
<line x1="613.6" y1="1548.6" x2="613.6" y2="1562.3" stroke="#231815" stroke-width="1.9"/>
<path d="M609.3,1559.8 L617.9,1559.8 L613.6,1569.3Z" fill="#231815"/>
<path d="M612.9,1762.1 L695.4,1750 L777.9,1728.6 L860.4,1727.5 L942.9,1734.1" stroke="#f49a52" stroke-width="1.8" fill="none"/>
<path d="M612.9,1760.4 V1763.7 M609.7,1760.4 h6.4 M609.7,1763.7 h6.4" stroke="#f49a52" stroke-width="1.6" fill="none"/>
<path d="M612.9,1765.9 L616.4,1759.6 L609.4,1759.6Z" fill="#f49a52" stroke="#f49a52" stroke-width="1.4"/>
<path d="M695.4,1747.8 V1752.2 M692.2,1747.8 h6.4 M692.2,1752.2 h6.4" stroke="#f49a52" stroke-width="1.6" fill="none"/>
<path d="M695.4,1753.8 L698.9,1747.5 L691.9,1747.5Z" fill="#f49a52" stroke="#f49a52" stroke-width="1.4"/>
<path d="M777.9,1726.4 V1730.8 M774.7,1726.4 h6.4 M774.7,1730.8 h6.4" stroke="#f49a52" stroke-width="1.6" fill="none"/>
<path d="M777.9,1732.4 L781.4,1726.1 L774.4,1726.1Z" fill="#f49a52" stroke="#f49a52" stroke-width="1.4"/>
<path d="M860.4,1725.3 V1729.7 M857.2,1725.3 h6.4 M857.2,1729.7 h6.4" stroke="#f49a52" stroke-width="1.6" fill="none"/>
<path d="M860.4,1731.3 L863.9,1725 L856.9,1725Z" fill="none" stroke="#f49a52" stroke-width="1.4"/>
<path d="M942.9,1731.9 V1736.3 M939.7,1731.9 h6.4 M939.7,1736.3 h6.4" stroke="#f49a52" stroke-width="1.6" fill="none"/>
<path d="M942.9,1737.9 L946.4,1731.6 L939.4,1731.6Z" fill="none" stroke="#f49a52" stroke-width="1.4"/>
<path d="M612.9,1759.9 L695.4,1750 L777.9,1725.3 L860.4,1710.5 L942.9,1686.3" stroke="#2957a8" stroke-width="1.8" fill="none"/>
<path d="M612.9,1758.2 V1761.5 M609.7,1758.2 h6.4 M609.7,1761.5 h6.4" stroke="#2957a8" stroke-width="1.6" fill="none"/>
<path d="M612.9,1756.1 L616.4,1762.3 L609.4,1762.3Z" fill="#2957a8" stroke="#2957a8" stroke-width="1.4"/>
<path d="M695.4,1747.8 V1752.2 M692.2,1747.8 h6.4 M692.2,1752.2 h6.4" stroke="#2957a8" stroke-width="1.6" fill="none"/>
<path d="M695.4,1746.2 L698.9,1752.5 L691.9,1752.5Z" fill="#2957a8" stroke="#2957a8" stroke-width="1.4"/>
<path d="M777.9,1723.1 V1727.5 M774.7,1723.1 h6.4 M774.7,1727.5 h6.4" stroke="#2957a8" stroke-width="1.6" fill="none"/>
<path d="M777.9,1721.5 L781.4,1727.8 L774.4,1727.8Z" fill="#2957a8" stroke="#2957a8" stroke-width="1.4"/>
<path d="M860.4,1705 V1715.9 M857.2,1705 h6.4 M857.2,1715.9 h6.4" stroke="#2957a8" stroke-width="1.6" fill="none"/>
<path d="M860.4,1706.7 L863.9,1712.9 L856.9,1712.9Z" fill="none" stroke="#2957a8" stroke-width="1.4"/>
<path d="M942.9,1683 V1689.6 M939.7,1683 h6.4 M939.7,1689.6 h6.4" stroke="#2957a8" stroke-width="1.6" fill="none"/>
<path d="M942.9,1682.5 L946.4,1688.8 L939.4,1688.8Z" fill="none" stroke="#2957a8" stroke-width="1.4"/>
<path d="M612.9,1758.2 L695.4,1747.2 L777.9,1709.9 L860.4,1700 L942.9,1714.3" stroke="#7434a0" stroke-width="1.8" fill="none"/>
<path d="M612.9,1756.6 V1759.9 M609.7,1756.6 h6.4 M609.7,1759.9 h6.4" stroke="#7434a0" stroke-width="1.6" fill="none"/>
<rect x="609.6" y="1754.9" width="6.6" height="6.6" fill="#7434a0" stroke="#7434a0" stroke-width="1.4"/>
<path d="M695.4,1744.5 V1750 M692.2,1744.5 h6.4 M692.2,1750 h6.4" stroke="#7434a0" stroke-width="1.6" fill="none"/>
<rect x="692.1" y="1743.9" width="6.6" height="6.6" fill="#7434a0" stroke="#7434a0" stroke-width="1.4"/>
<path d="M777.9,1707.2 V1712.6 M774.7,1707.2 h6.4 M774.7,1712.6 h6.4" stroke="#7434a0" stroke-width="1.6" fill="none"/>
<rect x="774.6" y="1706.6" width="6.6" height="6.6" fill="#7434a0" stroke="#7434a0" stroke-width="1.4"/>
<path d="M860.4,1696.7 V1703.3 M857.2,1696.7 h6.4 M857.2,1703.3 h6.4" stroke="#7434a0" stroke-width="1.6" fill="none"/>
<rect x="857.1" y="1696.7" width="6.6" height="6.6" fill="none" stroke="#7434a0" stroke-width="1.4"/>
<path d="M942.9,1709.9 V1718.7 M939.7,1709.9 h6.4 M939.7,1718.7 h6.4" stroke="#7434a0" stroke-width="1.6" fill="none"/>
<rect x="939.6" y="1711" width="6.6" height="6.6" fill="none" stroke="#7434a0" stroke-width="1.4"/>
<path d="M612.9,1761 L695.4,1742.8 L777.9,1708.8 L860.4,1678.1 L942.9,1636.3" stroke="#c6566d" stroke-width="1.8" fill="none"/>
<path d="M612.9,1759.3 V1762.6 M609.7,1759.3 h6.4 M609.7,1762.6 h6.4" stroke="#c6566d" stroke-width="1.6" fill="none"/>
<circle cx="612.9" cy="1761" r="3.3" fill="#c6566d" stroke="#c6566d" stroke-width="1.4"/>
<path d="M695.4,1740.1 V1745.6 M692.2,1740.1 h6.4 M692.2,1745.6 h6.4" stroke="#c6566d" stroke-width="1.6" fill="none"/>
<circle cx="695.4" cy="1742.8" r="3.3" fill="#c6566d" stroke="#c6566d" stroke-width="1.4"/>
<path d="M777.9,1706.6 V1711 M774.7,1706.6 h6.4 M774.7,1711 h6.4" stroke="#c6566d" stroke-width="1.6" fill="none"/>
<circle cx="777.9" cy="1708.8" r="3.3" fill="#c6566d" stroke="#c6566d" stroke-width="1.4"/>
<path d="M860.4,1672.6 V1683.6 M857.2,1672.6 h6.4 M857.2,1683.6 h6.4" stroke="#c6566d" stroke-width="1.6" fill="none"/>
<circle cx="860.4" cy="1678.1" r="3.3" fill="none" stroke="#c6566d" stroke-width="1.4"/>
<path d="M942.9,1631.9 V1640.7 M939.7,1631.9 h6.4 M939.7,1640.7 h6.4" stroke="#c6566d" stroke-width="1.6" fill="none"/>
<circle cx="942.9" cy="1636.3" r="3.3" fill="none" stroke="#c6566d" stroke-width="1.4"/>
<path d="M951.8,1715.7 H962.5 V1734.3 H951.8" stroke="#231815" stroke-width="1.5" fill="none"/>
<text x="968.2" y="1735">*</text>
<line x1="1088.2" y1="1572" x2="1088.2" y2="1793.1" stroke="#231815" stroke-width="1.3"/>
<line x1="1080.2" y1="1792.4" x2="1417.8" y2="1792.4" stroke="#231815" stroke-width="1.3"/>
<line x1="1080.2" y1="1792.4" x2="1088.2" y2="1792.4" stroke="#231815" stroke-width="1.3"/>
<text x="1077.7" y="1799.4" text-anchor="end">0</text>
<line x1="1080.2" y1="1718.9" x2="1088.2" y2="1718.9" stroke="#231815" stroke-width="1.3"/>
<text x="1077.7" y="1725.9" text-anchor="end">1</text>
<line x1="1080.2" y1="1645.5" x2="1088.2" y2="1645.5" stroke="#231815" stroke-width="1.3"/>
<text x="1077.7" y="1652.5" text-anchor="end">2</text>
<line x1="1080.2" y1="1572" x2="1088.2" y2="1572" stroke="#231815" stroke-width="1.3"/>
<text x="1077.7" y="1579" text-anchor="end">3</text>
<line x1="1088.2" y1="1792.4" x2="1088.2" y2="1801.4" stroke="#231815" stroke-width="1.3"/>
<text x="1088.2" y="1821.9" text-anchor="middle">0</text>
<line x1="1170.6" y1="1792.4" x2="1170.6" y2="1801.4" stroke="#231815" stroke-width="1.3"/>
<text x="1170.6" y="1821.9" text-anchor="middle">1</text>
<line x1="1253" y1="1792.4" x2="1253" y2="1801.4" stroke="#231815" stroke-width="1.3"/>
<text x="1253" y="1821.9" text-anchor="middle">2</text>
<line x1="1335.4" y1="1792.4" x2="1335.4" y2="1801.4" stroke="#231815" stroke-width="1.3"/>
<text x="1335.4" y="1821.9" text-anchor="middle">3</text>
<line x1="1417.8" y1="1792.4" x2="1417.8" y2="1801.4" stroke="#231815" stroke-width="1.3"/>
<text x="1417.8" y="1821.9" text-anchor="middle">4</text>
<text x="1253" y="1848.4" text-anchor="middle">DAY</text>
<text transform="translate(1055.8,1686.2) rotate(-90)" text-anchor="middle" font-size="19.4">OD Values(450nm)</text>
<text x="1247.9" y="1468.8" text-anchor="middle">H226</text>
<text x="1251.9" y="1501">DMSO/Docetaxel</text>
<text x="1090.7" y="1546.9">DMSO/TGFβRi</text>
<line x1="1251.4" y1="1504.2" x2="1251.4" y2="1517.6" stroke="#231815" stroke-width="1.9"/>
<path d="M1247.1,1515.1 L1255.7,1515.1 L1251.4,1524.6Z" fill="#231815"/>
<line x1="1088.7" y1="1550" x2="1088.7" y2="1564.5" stroke="#231815" stroke-width="1.9"/>
<path d="M1084.4,1562 L1093,1562 L1088.7,1571.5Z" fill="#231815"/>
<path d="M1088.2,1741 L1170.6,1718.2 L1253,1688.1 L1335.4,1674.9 L1417.8,1671.2" stroke="#f49a52" stroke-width="1.8" fill="none"/>
<path d="M1088.2,1738.8 V1743.2 M1085,1738.8 h6.4 M1085,1743.2 h6.4" stroke="#f49a52" stroke-width="1.6" fill="none"/>
<path d="M1088.2,1744.8 L1091.7,1738.5 L1084.7,1738.5Z" fill="#f49a52" stroke="#f49a52" stroke-width="1.4"/>
<path d="M1170.6,1715.3 V1721.1 M1167.4,1715.3 h6.4 M1167.4,1721.1 h6.4" stroke="#f49a52" stroke-width="1.6" fill="none"/>
<path d="M1170.6,1722 L1174.1,1715.7 L1167.1,1715.7Z" fill="#f49a52" stroke="#f49a52" stroke-width="1.4"/>
<path d="M1253,1684.4 V1691.8 M1249.8,1684.4 h6.4 M1249.8,1691.8 h6.4" stroke="#f49a52" stroke-width="1.6" fill="none"/>
<path d="M1253,1691.9 L1256.5,1685.6 L1249.5,1685.6Z" fill="#f49a52" stroke="#f49a52" stroke-width="1.4"/>
<path d="M1335.4,1670.4 V1679.3 M1332.2,1670.4 h6.4 M1332.2,1679.3 h6.4" stroke="#f49a52" stroke-width="1.6" fill="none"/>
<path d="M1335.4,1678.6 L1338.9,1672.4 L1331.9,1672.4Z" fill="none" stroke="#f49a52" stroke-width="1.4"/>
<path d="M1417.8,1665.3 V1677.1 M1414.6,1665.3 h6.4 M1414.6,1677.1 h6.4" stroke="#f49a52" stroke-width="1.6" fill="none"/>
<path d="M1417.8,1675 L1421.3,1668.7 L1414.3,1668.7Z" fill="none" stroke="#f49a52" stroke-width="1.4"/>
<path d="M1088.2,1739.5 L1170.6,1717.5 L1253,1691 L1335.4,1664.6 L1417.8,1642.5" stroke="#2957a8" stroke-width="1.8" fill="none"/>
<path d="M1088.2,1737.3 V1741.7 M1085,1737.3 h6.4 M1085,1741.7 h6.4" stroke="#2957a8" stroke-width="1.6" fill="none"/>
<path d="M1088.2,1735.7 L1091.7,1742 L1084.7,1742Z" fill="#2957a8" stroke="#2957a8" stroke-width="1.4"/>
<path d="M1170.6,1714.5 V1720.4 M1167.4,1714.5 h6.4 M1167.4,1720.4 h6.4" stroke="#2957a8" stroke-width="1.6" fill="none"/>
<path d="M1170.6,1713.7 L1174.1,1719.9 L1167.1,1719.9Z" fill="#2957a8" stroke="#2957a8" stroke-width="1.4"/>
<path d="M1253,1686.6 V1695.4 M1249.8,1686.6 h6.4 M1249.8,1695.4 h6.4" stroke="#2957a8" stroke-width="1.6" fill="none"/>
<path d="M1253,1687.2 L1256.5,1693.5 L1249.5,1693.5Z" fill="#2957a8" stroke="#2957a8" stroke-width="1.4"/>
<path d="M1335.4,1660.2 V1669 M1332.2,1660.2 h6.4 M1332.2,1669 h6.4" stroke="#2957a8" stroke-width="1.6" fill="none"/>
<path d="M1335.4,1660.8 L1338.9,1667 L1331.9,1667Z" fill="none" stroke="#2957a8" stroke-width="1.4"/>
<path d="M1417.8,1635.2 V1649.9 M1414.6,1635.2 h6.4 M1414.6,1649.9 h6.4" stroke="#2957a8" stroke-width="1.6" fill="none"/>
<path d="M1417.8,1638.7 L1421.3,1645 L1414.3,1645Z" fill="none" stroke="#2957a8" stroke-width="1.4"/>
<path d="M1088.2,1744.6 L1170.6,1714.5 L1253,1674.9 L1335.4,1660.2 L1417.8,1641.8" stroke="#7434a0" stroke-width="1.8" fill="none"/>
<path d="M1088.2,1742.4 V1746.9 M1085,1742.4 h6.4 M1085,1746.9 h6.4" stroke="#7434a0" stroke-width="1.6" fill="none"/>
<rect x="1084.9" y="1741.3" width="6.6" height="6.6" fill="#7434a0" stroke="#7434a0" stroke-width="1.4"/>
<path d="M1170.6,1710.9 V1718.2 M1167.4,1710.9 h6.4 M1167.4,1718.2 h6.4" stroke="#7434a0" stroke-width="1.6" fill="none"/>
<rect x="1167.3" y="1711.2" width="6.6" height="6.6" fill="#7434a0" stroke="#7434a0" stroke-width="1.4"/>
<path d="M1253,1670.4 V1679.3 M1249.8,1670.4 h6.4 M1249.8,1679.3 h6.4" stroke="#7434a0" stroke-width="1.6" fill="none"/>
<rect x="1249.7" y="1671.6" width="6.6" height="6.6" fill="#7434a0" stroke="#7434a0" stroke-width="1.4"/>
<path d="M1335.4,1655.8 V1664.6 M1332.2,1655.8 h6.4 M1332.2,1664.6 h6.4" stroke="#7434a0" stroke-width="1.6" fill="none"/>
<rect x="1332.1" y="1656.9" width="6.6" height="6.6" fill="none" stroke="#7434a0" stroke-width="1.4"/>
<path d="M1417.8,1635.9 V1647.7 M1414.6,1635.9 h6.4 M1414.6,1647.7 h6.4" stroke="#7434a0" stroke-width="1.6" fill="none"/>
<rect x="1414.5" y="1638.5" width="6.6" height="6.6" fill="none" stroke="#7434a0" stroke-width="1.4"/>
<path d="M1088.2,1739.5 L1170.6,1713.1 L1253,1671.9 L1335.4,1649.1 L1417.8,1609.5" stroke="#c6566d" stroke-width="1.8" fill="none"/>
<path d="M1088.2,1737.3 V1741.7 M1085,1737.3 h6.4 M1085,1741.7 h6.4" stroke="#c6566d" stroke-width="1.6" fill="none"/>
<circle cx="1088.2" cy="1739.5" r="3.3" fill="#c6566d" stroke="#c6566d" stroke-width="1.4"/>
<path d="M1170.6,1709.4 V1716.7 M1167.4,1709.4 h6.4 M1167.4,1716.7 h6.4" stroke="#c6566d" stroke-width="1.6" fill="none"/>
<circle cx="1170.6" cy="1713.1" r="3.3" fill="#c6566d" stroke="#c6566d" stroke-width="1.4"/>
<path d="M1253,1668.2 V1675.6 M1249.8,1668.2 h6.4 M1249.8,1675.6 h6.4" stroke="#c6566d" stroke-width="1.6" fill="none"/>
<circle cx="1253" cy="1671.9" r="3.3" fill="#c6566d" stroke="#c6566d" stroke-width="1.4"/>
<path d="M1335.4,1643.3 V1655 M1332.2,1643.3 h6.4 M1332.2,1655 h6.4" stroke="#c6566d" stroke-width="1.6" fill="none"/>
<circle cx="1335.4" cy="1649.1" r="3.3" fill="none" stroke="#c6566d" stroke-width="1.4"/>
<path d="M1417.8,1599.2 V1619.8 M1414.6,1599.2 h6.4 M1414.6,1619.8 h6.4" stroke="#c6566d" stroke-width="1.6" fill="none"/>
<circle cx="1417.8" cy="1609.5" r="3.3" fill="none" stroke="#c6566d" stroke-width="1.4"/>
<path d="M1430.5,1645.5 H1440.7 V1674.1 H1430.5" stroke="#231815" stroke-width="1.5" fill="none"/>
<text x="1446.9" y="1674">**</text>
<line x1="1514.7" y1="1588.9" x2="1537.7" y2="1588.9" stroke="#c6566d" stroke-width="1.6"/>
<circle cx="1526.2" cy="1588.9" r="3.6" fill="#c6566d" stroke="#c6566d" stroke-width="1"/>
<text x="1552.1" y="1595.9">DMSO</text>
<line x1="1514.7" y1="1618.5" x2="1537.7" y2="1618.5" stroke="#7434a0" stroke-width="1.6"/>
<rect x="1522.6" y="1614.9" width="7.2" height="7.2" fill="#7434a0" stroke="#7434a0" stroke-width="1"/>
<text x="1552.1" y="1625.5">DMSO+Docetaxel</text>
<line x1="1514.7" y1="1648" x2="1537.7" y2="1648" stroke="#2957a8" stroke-width="1.6"/>
<path d="M1526.2,1643.9 L1530,1650.7 L1522.4,1650.7Z" fill="#2957a8" stroke="#2957a8" stroke-width="1"/>
<text x="1552.1" y="1655">TGFβRi+DMSO</text>
<line x1="1514.7" y1="1677.7" x2="1537.7" y2="1677.7" stroke="#f49a52" stroke-width="1.6"/>
<path d="M1526.2,1681.8 L1530,1675 L1522.4,1675Z" fill="#f49a52" stroke="#f49a52" stroke-width="1"/>
<text x="1552.1" y="1684.7">TGFβRi+Docetaxel</text>
<text x="289.3" y="1896.5" text-anchor="middle">H520</text>
<text x="291" y="1923" text-anchor="middle" fill="#4d4d4d">Vinorelbine (μM) &amp; TGFβRi (μM)</text>
<text x="291" y="1946.3" text-anchor="middle" fill="#4d4d4d">HSA synergy score: 8.493</text>
<text x="779.3" y="1896.5" text-anchor="middle">HCC15</text>
<text x="788.6" y="1923" text-anchor="middle" fill="#4d4d4d">Vinorelbine (μM) &amp; TGFβRi (μM)</text>
<text x="788.6" y="1946.3" text-anchor="middle" fill="#4d4d4d">HSA synergy score: 15.172</text>
<text x="1249.6" y="1896.5" text-anchor="middle">H226</text>
<text x="1263.2" y="1923" text-anchor="middle" fill="#4d4d4d">Vinorelbine (μM) &amp; TGFβRi (μM)</text>
<text x="1263.2" y="1946.3" text-anchor="middle" fill="#4d4d4d">HSA synergy score: 18.404</text>
<text x="297.5" y="2347.4" text-anchor="middle" fill="#4d4d4d">Docetaxel (μM) &amp; TGFβRi (μM)</text>
<text x="297.5" y="2371.4" text-anchor="middle" fill="#4d4d4d">HSA synergy score: 10.373</text>
<text x="792.9" y="2348" text-anchor="middle" fill="#4d4d4d">Docetaxel (μM) &amp; TGFβRi (μM)</text>
<text x="792.9" y="2372" text-anchor="middle" fill="#4d4d4d">HSA synergy score: 19.137</text>
<text x="1268.6" y="2349" text-anchor="middle" fill="#4d4d4d">Docetaxel (μM) &amp; TGFβRi (μM)</text>
<text x="1268.6" y="2373" text-anchor="middle" fill="#4d4d4d">HSA synergy score: 12.562</text>
<path d="M215.9,2238.7L181.8,2001.5M268.7,2285L215.9,2238.7M231.1,2228.5L204.2,1994.6M284.1,2272.6L231.1,2228.5M245.7,2218.7L225.2,1988.1M298.8,2260.8L245.7,2218.7M259.6,2209.3L245,1982M312.8,2249.6L259.6,2209.3M272.9,2200.4L263.7,1976.2M326.1,2238.9L272.9,2200.4M285.7,2191.8L281.3,1970.7M338.9,2228.6L285.7,2191.8M298,2183.5L298,1965.6M351.1,2218.8L298,2183.5M309.8,2175.6L313.8,1960.7M362.8,2209.5L309.8,2175.6M321.1,2167.9L328.8,1956M373.9,2200.5L321.1,2167.9M373.9,2200.5L401.9,1976.3M268.7,2285L373.9,2200.5M362.7,2193.5L385.9,1971.9M257.3,2275L362.7,2193.5M351.8,2186.8L370.7,1967.6M246.4,2265.4L351.8,2186.8M341.2,2180.3L356.1,1963.6M235.8,2256.2L341.2,2180.3M331,2174L342.2,1959.7M225.7,2247.3L331,2174M321.1,2167.9L328.8,1956M215.9,2238.7L321.1,2167.9M182.4,2005.8L328.6,1959.6M328.6,1959.6L401.4,1980.1M190.1,2058.9L327,2004.9M327,2004.9L395.3,2029.2M196.8,2105.5L325.5,2045.7M325.5,2045.7L389.9,2072.7M202.7,2146.7L324.2,2082.5M324.2,2082.5L385,2111.6M207.9,2183.3L323,2116M323,2116L380.7,2146.7M212.7,2216L321.9,2146.5M321.9,2146.5L376.7,2178.4" stroke="#bdbdbd" stroke-width="0.9" fill="none"/>
<path d="M337.2 2052.6l3.6 12.5l-3.8 -6.6l-3.5 -15.6z" fill="#c0787e" stroke="#c0787e" stroke-width="0.7"/>
<path d="M341 2059.6l3.9 6.5l-4.1 -1l-3.6 -12.5z" fill="#cc848a" stroke="#cc848a" stroke-width="0.7"/>
<path d="M344.9 2066l4.1 1.6l-4.1 -1.5l-3.9 -6.5z" fill="#de969c" stroke="#de969c" stroke-width="0.7"/>
<path d="M348.8 2072l4.2 -0.5l-4 -3.9l-4.1 -1.6z" fill="#f0a2a8" stroke="#f0a2a8" stroke-width="0.7"/>
<path d="M333.5 2042.9l3.5 15.6l-3.2 -16.7l-3.9 -12.9z" fill="#c06c72" stroke="#c06c72" stroke-width="0.7"/>
<path d="M352.7 2077.3l4.3 -1.4l-4 -4.4l-4.2 0.5z" fill="#f0aeae" stroke="#f0aeae" stroke-width="0.7"/>
<path d="M356.7 2082.8l4.2 -2l-3.9 -4.9l-4.3 1.4zM352.4 2084.8l4.3 -2l-4 -5.5l-4.2 1.4z" fill="#f0b4b4" stroke="#f0b4b4" stroke-width="0.7"/>
<path d="M360.6 2088.9l4.3 -2.3l-4 -5.8l-4.2 2z" fill="#f6bac0" stroke="#f6bac0" stroke-width="0.7"/>
<path d="M364.5 2095.1l4.2 -2.3l-3.8 -6.2l-4.3 2.3z" fill="#f6c6c6" stroke="#f6c6c6" stroke-width="0.7"/>
<path d="M368.5 2100.4l4.2 -2.4l-4 -5.2l-4.2 2.3z" fill="#f6d2d2" stroke="#f6d2d2" stroke-width="0.7"/>
<path d="M372.7 2104.2l4.2 -2.9l-4.2 -3.3l-4.2 2.4z" fill="#f6d8d8" stroke="#f6d8d8" stroke-width="0.7"/>
<path d="M344.5 2072.4l4.3 -0.4l-3.9 -6l-4.2 -1.7z" fill="#ea9ca2" stroke="#ea9ca2" stroke-width="0.7"/>
<path d="M348.5 2078.7l4.2 -1.4l-3.9 -5.3l-4.3 0.4z" fill="#f0a8ae" stroke="#f0a8ae" stroke-width="0.7"/>
<path d="M340.8 2065.1L337 2058.5M344.9 2066.1L340.8 2065.1M349 2067.6L344.9 2066.1M344.9 2066L349 2067.6M353 2071.5L349 2067.6M333.5 2042.9L337 2058.5M337 2058.5L333.8 2041.8M357 2075.9L353 2071.5M360.9 2080.8L357 2075.9M356.7 2082.8L360.9 2080.8M364.9 2086.6L360.9 2080.8M368.7 2092.8L364.9 2086.6M372.7 2098L368.7 2092.8M368.5 2100.4L372.7 2098M376.9 2101.3L372.7 2098" stroke="#333" stroke-width="0.9" fill="none" stroke-linecap="round"/>
<path d="M340.7 2064.3l4.2 1.7l-3.9 -6.4l-3.9 -6.7z" fill="#de8a90" stroke="#de8a90" stroke-width="0.7"/>
<path d="M356.3 2091.2l4.3 -2.3l-3.9 -6.1l-4.3 2z" fill="#f6baba" stroke="#f6baba" stroke-width="0.7"/>
<path d="M360.3 2097.4l4.2 -2.3l-3.9 -6.2l-4.3 2.3zM355.9 2100.5l4.4 -3.1l-4 -6.2l-4.4 3.5z" fill="#f6c6c6" stroke="#f6c6c6" stroke-width="0.7"/>
<path d="M329.9 2028.9l3.9 12.9l-3.2 -23.3l-4.2 -6.7z" fill="#c06060" stroke="#c06060" stroke-width="0.7"/>
<path d="M377 2107.1l4.3 -3.4l-4.4 -2.4l-4.2 2.9zM359.7 2113.6l4.4 -3.4l-4.2 -4.5l-4.4 3.7z" fill="#f6d8de" stroke="#f6d8de" stroke-width="0.7"/>
<path d="M364.3 2102.8l4.2 -2.4l-4 -5.3l-4.2 2.3zM359.9 2105.7l4.4 -2.9l-4 -5.4l-4.4 3.1zM355.5 2109.4l4.4 -3.7l-4 -5.2l-4.6 4.8z" fill="#f6d2d2" stroke="#f6d2d2" stroke-width="0.7"/>
<path d="M337.1 2052.9l3.9 6.7l-3.8 -7l-3.8 -13.2z" fill="#cc7878" stroke="#cc7878" stroke-width="0.7"/>
<path d="M368.4 2107.1l4.3 -2.9l-4.2 -3.8l-4.2 2.4zM364.1 2110.2l4.3 -3.1l-4.1 -4.3l-4.4 2.9z" fill="#f6d8d8" stroke="#f6d8d8" stroke-width="0.7"/>
<path d="M381.4 2110l4.3 -3.9l-4.4 -2.4l-4.3 3.4zM372.7 2110.5l4.3 -3.4l-4.3 -2.9l-4.3 2.9zM368.3 2114l4.4 -3.5l-4.3 -3.4l-4.3 3.1z" fill="#f6dede" stroke="#f6dede" stroke-width="0.7"/>
<path d="M347.9 2088.1l4.5 -3.3l-3.9 -6.1l-4.5 2.3z" fill="#f0aeb4" stroke="#f0aeb4" stroke-width="0.7"/>
<path d="M351.9 2094.7l4.4 -3.5l-3.9 -6.4l-4.5 3.3z" fill="#f0baba" stroke="#f0baba" stroke-width="0.7"/>
<path d="M344 2081l4.5 -2.3l-4 -6.3l-4.3 0.5z" fill="#f0a8a8" stroke="#f0a8a8" stroke-width="0.7"/>
<path d="M333.4 2039.4l3.8 13.2l-3.7 -9.7l-3.8 -16.5z" fill="#c06666" stroke="#c06666" stroke-width="0.7"/>
<path d="M340.2 2072.9l4.3 -0.5l-3.8 -8.1l-4.3 -1.7z" fill="#ea969c" stroke="#ea969c" stroke-width="0.7"/>
<path d="M347.2 2100.8l4.7 -6.1l-4 -6.6l-4.7 6.2z" fill="#eababa" stroke="#eababa" stroke-width="0.7"/>
<path d="M343.2 2094.3l4.7 -6.2l-3.9 -7.1l-4.6 3.8z" fill="#eaaeae" stroke="#eaaeae" stroke-width="0.7"/>
<path d="M351.3 2105.3l4.6 -4.8l-4 -5.8l-4.7 6.1z" fill="#f0c6c6" stroke="#f0c6c6" stroke-width="0.7"/>
<path d="M377 2114l4.4 -4l-4.4 -2.9l-4.3 3.4z" fill="#f6dee4" stroke="#f6dee4" stroke-width="0.7"/>
<path d="M342.4 2108l4.8 -7.2l-4 -6.5l-4.8 7.6z" fill="#e4c0c0" stroke="#e4c0c0" stroke-width="0.7"/>
<path d="M329.7 2026.4l3.8 16.5l-3.6 -14l-4 -13.6z" fill="#ba5a5a" stroke="#ba5a5a" stroke-width="0.7"/>
<path d="M336.4 2062.6l4.3 1.7l-3.6 -11.4l-4.3 -5.2z" fill="#d88484" stroke="#d88484" stroke-width="0.7"/>
<path d="M339.4 2084.8l4.6 -3.8l-3.8 -8.1l-4.5 0.2z" fill="#eaa2a2" stroke="#eaa2a2" stroke-width="0.7"/>
<path d="M346.6 2110.8l4.7 -5.5l-4.1 -4.5l-4.8 7.2z" fill="#eacccc" stroke="#eacccc" stroke-width="0.7"/>
<path d="M338.4 2101.9l4.8 -7.6l-3.8 -9.5l-4.7 4.7z" fill="#e4aeae" stroke="#e4aeae" stroke-width="0.7"/>
<path d="M337.7 2113.5l4.7 -5.5l-4 -6.1l-4.7 5.4z" fill="#f0d2d2" stroke="#f0d2d2" stroke-width="0.7"/>
<path d="M326.4 2011.8l4.2 6.7l-3.2 -24.4l-4.7 0.2z" fill="#c64e4e" stroke="#c64e4e" stroke-width="0.7"/>
<path d="M340.7 2064.3L344.9 2066M352.4 2084.8L356.7 2082.8M333.8 2041.8L330.6 2018.5M381.3 2103.7L376.9 2101.3M364.3 2102.8L368.5 2100.4M381.4 2110L385.7 2106.1M385.7 2106.1L381.3 2103.7M347.9 2088.1L352.4 2084.8M359.9 2105.7L364.3 2102.8M351.9 2094.7L347.9 2088.1M343.2 2094.3L347.9 2088.1M347.9 2088.1L344 2081M355.9 2100.5L351.9 2094.7M377 2114L381.4 2110M329.7 2026.4L333.5 2042.9M336.4 2062.6L340.7 2064.3M359.9 2105.7L355.9 2100.5M344 2081L340.2 2072.9M338.4 2101.9L343.2 2094.3M322.7 1994.3L327.4 1994.1M330.6 2018.5L327.4 1994.1M355.5 2109.4L359.9 2105.7M364.1 2110.2L359.9 2105.7" stroke="#333" stroke-width="0.9" fill="none" stroke-linecap="round"/>
<path d="M372.6 2117.9l4.4 -3.9l-4.3 -3.5l-4.4 3.5zM350.5 2121.2l4.6 -3.9l-4.2 -3.8l-4.6 4.2zM341.6 2121.9l4.7 -4.2l-4.4 -2.1l-4.6 3.4z" fill="#f6e4e4" stroke="#f6e4e4" stroke-width="0.7"/>
<path d="M341.9 2115.6l4.7 -4.8l-4.2 -2.8l-4.7 5.5z" fill="#f0d8d8" stroke="#f0d8d8" stroke-width="0.7"/>
<path d="M333.7 2107.3l4.7 -5.4l-3.7 -12.4l-4.7 3.7z" fill="#e4b4b4" stroke="#e4b4b4" stroke-width="0.7"/>
<path d="M350.9 2113.5l4.6 -4.1l-4.2 -4.1l-4.7 5.5z" fill="#f0d2d8" stroke="#f0d2d8" stroke-width="0.7"/>
<path d="M335.7 2073.1l4.5 -0.2l-3.8 -10.3l-4.4 -2.5z" fill="#e49090" stroke="#e49090" stroke-width="0.7"/>
<path d="M363.9 2117.6l4.4 -3.6l-4.2 -3.8l-4.4 3.4zM337.3 2119l4.6 -3.4l-4.2 -2.1l-4.6 2.3zM359.4 2121.2l4.5 -3.6l-4.2 -4l-4.6 3.7zM332.6 2121.8l4.7 -2.8l-4.2 -3.2l-4.6 0.5z" fill="#fce4e4" stroke="#fce4e4" stroke-width="0.7"/>
<path d="M325.9 2015.3l4 13.6l-3.5 -17.1l-4.5 -6.9z" fill="#c05454" stroke="#c05454" stroke-width="0.7"/>
<path d="M333.1 2115.8l4.6 -2.3l-4 -6.2l-4.6 1.6zM355.1 2117.3l4.6 -3.7l-4.2 -4.2l-4.6 4.1zM346.3 2117.7l4.6 -4.2l-4.3 -2.7l-4.7 4.8z" fill="#f6dede" stroke="#f6dede" stroke-width="0.7"/>
<path d="M334.7 2089.5l4.7 -4.7l-3.7 -11.7l-4.5 0.1z" fill="#e49c9c" stroke="#e49c9c" stroke-width="0.7"/>
<path d="M332.8 2047.7l4.3 5.2l-3.7 -13.5l-4.2 -9.3z" fill="#cc6c6c" stroke="#cc6c6c" stroke-width="0.7"/>
<path d="M368.2 2121.5l4.4 -3.6l-4.3 -3.9l-4.4 3.6zM354.9 2124.7l4.5 -3.5l-4.3 -3.9l-4.6 3.9zM336.8 2126.2l4.8 -4.3l-4.3 -2.9l-4.7 2.8z" fill="#fceaea" stroke="#fceaea" stroke-width="0.7"/>
<path d="M329.1 2108.9l4.6 -1.6l-3.7 -14.1l-4.6 1.9z" fill="#e4baba" stroke="#e4baba" stroke-width="0.7"/>
<path d="M332 2060.1l4.4 2.5l-3.6 -14.9l-4.5 -2.8z" fill="#d8787e" stroke="#d8787e" stroke-width="0.7"/>
<path d="M321.9 2004.9l4.5 6.9l-3.7 -17.5l-4.7 0.2z" fill="#cc4e4e" stroke="#cc4e4e" stroke-width="0.7"/>
<path d="M330 2093.2l4.7 -3.7l-3.5 -16.3l-4.7 1.2z" fill="#d89696" stroke="#d89696" stroke-width="0.7"/>
<path d="M363.7 2125l4.5 -3.5l-4.3 -3.9l-4.5 3.6z" fill="#fcf0f0" stroke="#fcf0f0" stroke-width="0.7"/>
<path d="M328.5 2116.3l4.6 -0.5l-4 -6.9l-4.6 -0.6z" fill="#f6d2d2" stroke="#f6d2d2" stroke-width="0.7"/>
<path d="M331.2 2073.2l4.5 -0.1l-3.7 -13l-4.5 -2.6z" fill="#de848a" stroke="#de848a" stroke-width="0.7"/>
<path d="M329.2 2030.1l4.2 9.3l-3.7 -13l-4.2 -11.2z" fill="#c65a5a" stroke="#c65a5a" stroke-width="0.7"/>
<path d="M345.9 2125.3l4.6 -4.1l-4.2 -3.5l-4.7 4.2z" fill="#f6eaea" stroke="#f6eaea" stroke-width="0.7"/>
<path d="M324.5 2108.3l4.6 0.6l-3.7 -13.8l-4.8 1z" fill="#eab4ba" stroke="#eab4ba" stroke-width="0.7"/>
<path d="M372.6 2117.9L377 2114M333.7 2107.3L338.4 2101.9M340.2 2072.9L336.4 2062.6M368.3 2114L364.1 2110.2M337.7 2113.5L333.7 2107.3M350.9 2113.5L355.5 2109.4M368.2 2121.5L372.6 2117.9M372.6 2117.9L368.3 2114M341.9 2115.6L337.7 2113.5M329.1 2108.9L333.7 2107.3M333.7 2107.3L330 2093.2M332 2060.1L336.4 2062.6M336.4 2062.6L332.8 2047.7M346.3 2117.7L350.9 2113.5M318 1994.5L322.7 1994.3M346.3 2117.7L341.9 2115.6M363.7 2125L368.2 2121.5M341.6 2121.9L346.3 2117.7M350.5 2121.2L346.3 2117.7M324.5 2108.3L329.1 2108.9" stroke="#333" stroke-width="0.9" fill="none" stroke-linecap="round"/>
<path d="M359.2 2128.3l4.5 -3.3l-4.3 -3.8l-4.5 3.5zM350.2 2128.3l4.7 -3.6l-4.4 -3.5l-4.6 4.1zM341.1 2129.5l4.8 -4.2l-4.3 -3.4l-4.8 4.3zM332 2130.1l4.8 -3.9l-4.2 -4.4l-4.7 2.4zM327.2 2133l4.8 -2.9l-4.1 -5.9l-4.8 2.4z" fill="#fcf0f0" stroke="#fcf0f0" stroke-width="0.7"/>
<path d="M325.4 2095.1l4.6 -1.9l-3.5 -18.8l-4.8 2.8z" fill="#d89696" stroke="#d89696" stroke-width="0.7"/>
<path d="M325.5 2015.2l4.2 11.2l-3.8 -11.1l-4.5 -9z" fill="#c64e54" stroke="#c64e54" stroke-width="0.7"/>
<path d="M328.3 2044.9l4.5 2.8l-3.6 -17.6l-4.6 -1.9z" fill="#d2666c" stroke="#d2666c" stroke-width="0.7"/>
<path d="M321.4 2006.3l4.5 9l-4 -10.4l-4.6 -4.3z" fill="#cc4e4e" stroke="#cc4e4e" stroke-width="0.7"/>
<path d="M327.5 2057.5l4.5 2.6l-3.7 -15.2l-4.7 -1z" fill="#d87278" stroke="#d87278" stroke-width="0.7"/>
<path d="M327.9 2124.2l4.7 -2.4l-4.1 -5.5l-4.7 0.3z" fill="#fcdede" stroke="#fcdede" stroke-width="0.7"/>
<path d="M317.3 2000.6l4.6 4.3l-3.9 -10.4l-4.9 0.4z" fill="#d8484e" stroke="#d8484e" stroke-width="0.7"/>
<path d="M326.5 2074.4l4.7 -1.2l-3.7 -15.7l-4.7 -0.3zM321.7 2077.2l4.8 -2.8l-3.7 -17.2l-5 3.7z" fill="#d87e84" stroke="#d87e84" stroke-width="0.7"/>
<path d="M323.8 2116.6l4.7 -0.3l-4 -8l-4.7 -0.5z" fill="#f0cccc" stroke="#f0cccc" stroke-width="0.7"/>
<path d="M354.7 2131.3l4.5 -3l-4.3 -3.6l-4.7 3.6zM345.5 2131.9l4.7 -3.6l-4.3 -3l-4.8 4.2zM336.4 2132.5l4.7 -3l-4.3 -3.3l-4.8 3.9z" fill="#fcf6f6" stroke="#fcf6f6" stroke-width="0.7"/>
<path d="M320.6 2096.1l4.8 -1l-3.7 -17.9l-5 3.8z" fill="#de969c" stroke="#de969c" stroke-width="0.7"/>
<path d="M319.8 2107.8l4.7 0.5l-3.9 -12.2l-4.8 0.9z" fill="#eab4b4" stroke="#eab4b4" stroke-width="0.7"/>
<path d="M324.6 2028.2l4.6 1.9l-3.7 -14.9l-4.8 -1z" fill="#d25a5a" stroke="#d25a5a" stroke-width="0.7"/>
<path d="M323.6 2043.9l4.7 1l-3.7 -16.7l-4.9 2.8z" fill="#d86666" stroke="#d86666" stroke-width="0.7"/>
<path d="M323.1 2126.6l4.8 -2.4l-4.1 -7.6l-4.8 0.6z" fill="#f6d8d8" stroke="#f6d8d8" stroke-width="0.7"/>
<path d="M350 2134.3l4.7 -3l-4.5 -3l-4.7 3.6zM340.8 2134.9l4.7 -3l-4.4 -2.4l-4.7 3zM331.6 2135.5l4.8 -3l-4.4 -2.4l-4.8 2.9z" fill="#fcfcfc" stroke="#fcfcfc" stroke-width="0.7"/>
<path d="M322.8 2057.2l4.7 0.3l-3.9 -13.6l-4.8 1.2z" fill="#de7278" stroke="#de7278" stroke-width="0.7"/>
<path d="M312.4 2000.8l4.9 -0.2l-4.2 -5.7l-4.9 0.8z" fill="#de484e" stroke="#de484e" stroke-width="0.7"/>
<path d="M315.8 2097l4.8 -0.9l-3.9 -15.1l-5 3.9z" fill="#e49c9c" stroke="#e49c9c" stroke-width="0.7"/>
<path d="M319 2117.2l4.8 -0.6l-4 -8.8l-4.9 -0.3z" fill="#f0c0c0" stroke="#f0c0c0" stroke-width="0.7"/>
<path d="M316.6 2005.9l4.8 0.4l-4.1 -5.7l-4.9 0.2z" fill="#de4e54" stroke="#de4e54" stroke-width="0.7"/>
<path d="M320.7 2014.2l4.8 1l-4.1 -8.9l-4.8 -0.4z" fill="#d85454" stroke="#d85454" stroke-width="0.7"/>
<path d="M359.2 2128.3L363.7 2125M330 2093.2L326.5 2074.4M325.5 2015.2L329.7 2026.4M332.8 2047.7L329.2 2030.1M354.9 2124.7L350.5 2121.2M327.5 2057.5L332 2060.1M336.8 2126.2L341.6 2121.9M313.1 1994.9L318 1994.5M354.7 2131.3L359.2 2128.3M359.2 2128.3L354.9 2124.7M319.8 2107.8L324.5 2108.3M332 2130.1L336.8 2126.2M329.2 2030.1L325.5 2015.2M326.5 2074.4L322.8 2057.2M332 2130.1L327.9 2124.2M327.9 2124.2L323.8 2116.6M350 2134.3L354.7 2131.3M322.8 2057.2L327.5 2057.5M308.2 1995.7L313.1 1994.9M317.3 2000.6L313.1 1994.9M323.8 2116.6L319.8 2107.8M321.4 2006.3L317.3 2000.6M320.7 2014.2L325.5 2015.2M325.5 2015.2L321.4 2006.3M327.2 2133L332 2130.1M336.4 2132.5L332 2130.1" stroke="#333" stroke-width="0.9" fill="none" stroke-linecap="round"/>
<path d="M316.7 2081l5 -3.8l-3.9 -16.3l-5.1 6z" fill="#d88484" stroke="#d88484" stroke-width="0.7"/>
<path d="M314.9 2107.5l4.9 0.3l-4 -10.8l-5 1.1z" fill="#eaaeb4" stroke="#eaaeb4" stroke-width="0.7"/>
<path d="M319.7 2031l4.9 -2.8l-3.9 -14l-5.1 5.5z" fill="#d25a5a" stroke="#d25a5a" stroke-width="0.7"/>
<path d="M318.8 2045.1l4.8 -1.2l-3.9 -12.9l-5 4.2zM313.7 2049.3l5.1 -4.2l-4.1 -9.9l-5.1 4.8z" fill="#de666c" stroke="#de666c" stroke-width="0.7"/>
<path d="M322.3 2136.1l4.9 -3.1l-4.1 -6.4l-4.9 2.1zM317.4 2139.2l4.9 -3.1l-4.1 -7.4l-5 1.5z" fill="#fceaea" stroke="#fceaea" stroke-width="0.7"/>
<path d="M345.3 2137.3l4.7 -3l-4.5 -2.4l-4.7 3zM336 2137.9l4.8 -3l-4.4 -2.4l-4.8 3zM326.7 2138.5l4.9 -3l-4.4 -2.5l-4.9 3.1zM340.5 2140.4l4.8 -3.1l-4.5 -2.4l-4.8 3zM331.1 2141l4.9 -3.1l-4.4 -2.4l-4.9 3zM321.7 2141.7l5 -3.2l-4.4 -2.4l-4.9 3.1zM335.6 2143.6l4.9 -3.2l-4.5 -2.5l-4.9 3.1zM326.2 2144.2l4.9 -3.2l-4.4 -2.5l-5 3.2z" fill="#fcfcfc" stroke="#fcfcfc" stroke-width="0.7"/>
<path d="M317.8 2060.9l5 -3.7l-4 -12.1l-5.1 4.2z" fill="#de7278" stroke="#de7278" stroke-width="0.7"/>
<path d="M307.3 2003.9l5.1 -3.1l-4.2 -5.1l-5.1 1.1zM302.2 2007.3l5.1 -3.4l-4.2 -7.1l-5.1 1.4zM297 2010.2l5.2 -2.9l-4.2 -9.1l-5.3 1.6z" fill="#d8484e" stroke="#d8484e" stroke-width="0.7"/>
<path d="M318.2 2128.7l4.9 -2.1l-4.1 -9.4l-4.9 0.4z" fill="#f0d2d2" stroke="#f0d2d2" stroke-width="0.7"/>
<path d="M311.7 2084.9l5 -3.9l-4 -14.1l-5.1 6.1z" fill="#de8a8a" stroke="#de8a8a" stroke-width="0.7"/>
<path d="M315.6 2019.7l5.1 -5.5l-4.1 -8.3l-5.1 5z" fill="#d24e54" stroke="#d24e54" stroke-width="0.7"/>
<path d="M310.8 2098.1l5 -1.1l-4.1 -12.1l-5 3.6z" fill="#ea9ca2" stroke="#ea9ca2" stroke-width="0.7"/>
<path d="M311.5 2010.9l5.1 -5l-4.2 -5.1l-5.1 3.1z" fill="#d84e4e" stroke="#d84e4e" stroke-width="0.7"/>
<path d="M314.7 2035.2l5 -4.2l-4.1 -11.3l-5.1 6.1z" fill="#d85a60" stroke="#d85a60" stroke-width="0.7"/>
<path d="M312.7 2066.9l5.1 -6l-4.1 -11.6l-5.1 6.5zM298.3 2068.3l5.2 -6l-4.2 -10.2l-5.3 5.7z" fill="#d87278" stroke="#d87278" stroke-width="0.7"/>
<path d="M314.1 2117.6l4.9 -0.4l-4.1 -9.7l-4.9 -0.3z" fill="#f0baba" stroke="#f0baba" stroke-width="0.7"/>
<path d="M310.5 2025.8l5.1 -6.1l-4.1 -8.8l-5.1 5.4z" fill="#d25454" stroke="#d25454" stroke-width="0.7"/>
<path d="M306.7 2088.5l5 -3.6l-4.1 -11.9l-5.1 5.5z" fill="#e49090" stroke="#e49090" stroke-width="0.7"/>
<path d="M309.6 2040l5.1 -4.8l-4.2 -9.4l-5.1 4.8zM304.4 2046l5.2 -6l-4.2 -9.4l-5.2 5.3z" fill="#d86066" stroke="#d86066" stroke-width="0.7"/>
<path d="M306.4 2016.3l5.1 -5.4l-4.2 -7l-5.1 3.4zM301.2 2020.4l5.2 -4.1l-4.2 -9l-5.2 2.9z" fill="#d84e54" stroke="#d84e54" stroke-width="0.7"/>
<path d="M307.6 2073l5.1 -6.1l-4.1 -11.1l-5.1 6.5z" fill="#d8787e" stroke="#d8787e" stroke-width="0.7"/>
<path d="M310 2107.2l4.9 0.3l-4.1 -9.4l-5.1 1.2z" fill="#f0aeae" stroke="#f0aeae" stroke-width="0.7"/>
<path d="M308.6 2055.8l5.1 -6.5l-4.1 -9.3l-5.2 6z" fill="#d86c6c" stroke="#d86c6c" stroke-width="0.7"/>
<path d="M305.4 2030.6l5.1 -4.8l-4.1 -9.5l-5.2 4.1z" fill="#d8545a" stroke="#d8545a" stroke-width="0.7"/>
<path d="M305.7 2099.3l5.1 -1.2l-4.1 -9.6l-5.2 3.6z" fill="#eaa2a2" stroke="#eaa2a2" stroke-width="0.7"/>
<path d="M302.5 2078.5l5.1 -5.5l-4.1 -10.7l-5.2 6z" fill="#de7e84" stroke="#de7e84" stroke-width="0.7"/>
<path d="M313.2 2130.2l5 -1.5l-4.1 -11.1l-5 1z" fill="#f0c6cc" stroke="#f0c6cc" stroke-width="0.7"/>
<path d="M303.5 2062.3l5.1 -6.5l-4.2 -9.8l-5.1 6.1z" fill="#d86c72" stroke="#d86c72" stroke-width="0.7"/>
<path d="M301.5 2092.1l5.2 -3.6l-4.2 -10l-5.2 5.5z" fill="#e49096" stroke="#e49096" stroke-width="0.7"/>
<path d="M300.2 2035.9l5.2 -5.3l-4.2 -10.2l-5.2 4.4z" fill="#d85a5a" stroke="#d85a5a" stroke-width="0.7"/>
<path d="M297.3 2084l5.2 -5.5l-4.2 -10.2l-5.2 6z" fill="#de848a" stroke="#de848a" stroke-width="0.7"/>
<path d="M299.3 2052.1l5.1 -6.1l-4.2 -10.1l-5.2 5.4z" fill="#d86666" stroke="#d86666" stroke-width="0.7"/>
<path d="M309.1 2118.6l5 -1l-4.1 -10.4l-5.2 1z" fill="#f0b4b4" stroke="#f0b4b4" stroke-width="0.7"/>
<path d="M314.9 2107.5L319.8 2107.8M319.8 2107.8L315.8 2097M345.3 2137.3L350 2134.3M317.8 2060.9L322.8 2057.2M322.8 2057.2L318.8 2045.1M303.1 1996.8L308.2 1995.7M340.8 2134.9L336.4 2132.5M315.6 2019.7L320.7 2014.2M315.8 2097L311.7 2084.9M322.3 2136.1L327.2 2133M318.8 2045.1L314.7 2035.2M312.7 2066.9L317.8 2060.9M310.5 2025.8L315.6 2019.7M311.7 2084.9L307.6 2073M314.7 2035.2L310.5 2025.8M340.5 2140.4L345.3 2137.3M345.3 2137.3L340.8 2134.9M307.6 2073L312.7 2066.9M310 2107.2L314.9 2107.5M298 1998.2L303.1 1996.8M305.4 2030.6L310.5 2025.8M310.5 2025.8L306.4 2016.3M317.4 2139.2L322.3 2136.1M302.5 2078.5L307.6 2073M307.6 2073L303.5 2062.3M306.4 2016.3L302.2 2007.3M300.2 2035.9L305.4 2030.6M297.3 2084L302.5 2078.5M303.5 2062.3L299.3 2052.1M335.6 2143.6L340.5 2140.4M292.7 1999.8L298 1998.2M302.2 2007.3L298 1998.2" stroke="#333" stroke-width="0.9" fill="none" stroke-linecap="round"/>
<path d="M296.3 2096l5.2 -3.9l-4.2 -8.1l-5.2 5.2z" fill="#ea969c" stroke="#ea969c" stroke-width="0.7"/>
<path d="M300.6 2101.4l5.1 -2.1l-4.2 -7.2l-5.2 3.9z" fill="#f0a2a2" stroke="#f0a2a2" stroke-width="0.7"/>
<path d="M312.4 2138.7l5 0.5l-4.2 -9l-5.1 0.3z" fill="#f6dede" stroke="#f6dede" stroke-width="0.7"/>
<path d="M304.8 2108.2l5.2 -1l-4.3 -7.9l-5.1 2.1z" fill="#f0aeae" stroke="#f0aeae" stroke-width="0.7"/>
<path d="M293.1 2074.3l5.2 -6l-4.3 -10.5l-5.2 5.6zM272.7 2081l5.4 -6l-4.5 -11.5l-5.4 6.7z" fill="#d8787e" stroke="#d8787e" stroke-width="0.7"/>
<path d="M296 2024.8l5.2 -4.4l-4.2 -10.2l-5.3 3.2z" fill="#d84e54" stroke="#d84e54" stroke-width="0.7"/>
<path d="M292.1 2089.2l5.2 -5.2l-4.2 -9.7l-5.3 5.7zM277 2089.4l5.4 -4.6l-4.3 -9.8l-5.4 6z" fill="#e48a8a" stroke="#e48a8a" stroke-width="0.7"/>
<path d="M294 2057.8l5.3 -5.7l-4.3 -10.8l-5.3 5.1z" fill="#d86c6c" stroke="#d86c6c" stroke-width="0.7"/>
<path d="M295 2041.3l5.2 -5.4l-4.2 -11.1l-5.3 4.6z" fill="#d25a60" stroke="#d25a60" stroke-width="0.7"/>
<path d="M316.7 2143.6l5 -1.9l-4.3 -2.5l-5 -0.5z" fill="#fcf0f0" stroke="#fcf0f0" stroke-width="0.7"/>
<path d="M308.1 2130.5l5.1 -0.3l-4.1 -11.6l-5.2 1.9z" fill="#f0c6c6" stroke="#f0c6c6" stroke-width="0.7"/>
<path d="M287.8 2080l5.3 -5.7l-4.3 -10.9l-5.4 5.9z" fill="#de7e7e" stroke="#de7e7e" stroke-width="0.7"/>
<path d="M330.7 2146.8l4.9 -3.2l-4.5 -2.6l-4.9 3.2zM325.6 2150.1l5.1 -3.3l-4.5 -2.6l-5.1 2.6z" fill="#fcfcfc" stroke="#fcfcfc" stroke-width="0.7"/>
<path d="M291.7 2013.4l5.3 -3.2l-4.3 -10.4l-5.3 2zM286.4 2016.8l5.3 -3.4l-4.3 -11.6l-5.4 2.2z" fill="#d2484e" stroke="#d2484e" stroke-width="0.7"/>
<path d="M288.8 2063.4l5.2 -5.6l-4.3 -11.4l-5.3 5.1z" fill="#d86c72" stroke="#d86c72" stroke-width="0.7"/>
<path d="M291 2099.8l5.3 -3.8l-4.2 -6.8l-5.4 4.1z" fill="#ea9c9c" stroke="#ea9c9c" stroke-width="0.7"/>
<path d="M286.7 2093.3l5.4 -4.1l-4.3 -9.2l-5.4 4.8z" fill="#e49090" stroke="#e49090" stroke-width="0.7"/>
<path d="M289.7 2046.4l5.3 -5.1l-4.3 -11.9l-5.3 4.3z" fill="#d86060" stroke="#d86060" stroke-width="0.7"/>
<path d="M290.7 2029.4l5.3 -4.6l-4.3 -11.4l-5.3 3.4zM285.4 2033.7l5.3 -4.3l-4.3 -12.6l-5.4 3.3z" fill="#d25454" stroke="#d25454" stroke-width="0.7"/>
<path d="M295.3 2105.1l5.3 -3.7l-4.3 -5.4l-5.3 3.8z" fill="#f0a2a8" stroke="#f0a2a8" stroke-width="0.7"/>
<path d="M321.1 2146.8l5.1 -2.6l-4.5 -2.5l-5 1.9z" fill="#fcf6f6" stroke="#fcf6f6" stroke-width="0.7"/>
<path d="M303.9 2120.5l5.2 -1.9l-4.3 -10.4l-5.2 3.2z" fill="#f0b4b4" stroke="#f0b4b4" stroke-width="0.7"/>
<path d="M299.6 2111.4l5.2 -3.2l-4.2 -6.8l-5.3 3.7z" fill="#f0a8ae" stroke="#f0a8ae" stroke-width="0.7"/>
<path d="M282.4 2084.8l5.4 -4.8l-4.4 -10.7l-5.3 5.7z" fill="#de8484" stroke="#de8484" stroke-width="0.7"/>
<path d="M283.4 2069.3l5.4 -5.9l-4.4 -11.9l-5.4 5.7z" fill="#d87272" stroke="#d87272" stroke-width="0.7"/>
<path d="M284.4 2051.5l5.3 -5.1l-4.3 -12.7l-5.4 4.5zM279 2057.2l5.4 -5.7l-4.4 -13.3l-5.5 5.3z" fill="#d26066" stroke="#d26066" stroke-width="0.7"/>
<path d="M233.4 2107.7l5.2 -10.3l-4.1 -5l-5.1 10.9z" fill="#d28a90" stroke="#d28a90" stroke-width="0.7"/>
<path d="M285.6 2103.8l5.4 -4l-4.3 -6.5l-5.4 3.7zM280.2 2108.6l5.4 -4.8l-4.3 -6.8l-5.4 4.7z" fill="#ea9ca2" stroke="#ea9ca2" stroke-width="0.7"/>
<path d="M227.9 2115.4l5.5 -7.7l-4 -4.4l-5.5 7.2z" fill="#dea2a2" stroke="#dea2a2" stroke-width="0.7"/>
<path d="M281.3 2097l5.4 -3.7l-4.3 -8.5l-5.4 4.6z" fill="#ea9696" stroke="#ea9696" stroke-width="0.7"/>
<path d="M307.3 2136.9l5.1 1.8l-4.3 -8.2l-5.2 -0.3z" fill="#f0ccd2" stroke="#f0ccd2" stroke-width="0.7"/>
<path d="M289.9 2109.8l5.4 -4.7l-4.3 -5.3l-5.4 4z" fill="#eaa2a8" stroke="#eaa2a8" stroke-width="0.7"/>
<path d="M278.1 2075l5.3 -5.7l-4.4 -12.1l-5.4 6.3z" fill="#d87278" stroke="#d87278" stroke-width="0.7"/>
<path d="M302.9 2130.2l5.2 0.3l-4.2 -10l-5.3 2.6z" fill="#f0c0c6" stroke="#f0c0c6" stroke-width="0.7"/>
<path d="M222.4 2122.8l5.5 -7.4l-4 -4.9l-5.6 7z" fill="#e4aeae" stroke="#e4aeae" stroke-width="0.7"/>
<path d="M311.6 2142.7l5.1 0.9l-4.3 -4.9l-5.1 -1.8z" fill="#f0d8de" stroke="#f0d8de" stroke-width="0.7"/>
<path d="M294.3 2116.1l5.3 -4.7l-4.3 -6.3l-5.4 4.7z" fill="#eaa8ae" stroke="#eaa8ae" stroke-width="0.7"/>
<path d="M237.4 2112.1l5.3 -9.6l-4.1 -5.1l-5.2 10.3z" fill="#d29096" stroke="#d29096" stroke-width="0.7"/>
<path d="M298.6 2123.1l5.3 -2.6l-4.3 -9.1l-5.3 4.7z" fill="#f0b4ba" stroke="#f0b4ba" stroke-width="0.7"/>
<path d="M232 2120.3l5.4 -8.2l-4 -4.4l-5.5 7.7z" fill="#dea2a8" stroke="#dea2a8" stroke-width="0.7"/>
<path d="M216.9 2130.3l5.5 -7.5l-4.1 -5.3l-5.4 7.8z" fill="#e4b4b4" stroke="#e4b4b4" stroke-width="0.7"/>
<path d="M226.5 2128.1l5.5 -7.8l-4.1 -4.9l-5.5 7.4z" fill="#e4aeb4" stroke="#e4aeb4" stroke-width="0.7"/>
<path d="M275.9 2101.7l5.4 -4.7l-4.3 -7.6l-5.4 5.5z" fill="#e49696" stroke="#e49696" stroke-width="0.7"/>
<path d="M316 2148l5.1 -1.2l-4.4 -3.2l-5.1 -0.9z" fill="#f6eaea" stroke="#f6eaea" stroke-width="0.7"/>
<path d="M238.6 2097.4l4.8 -15.5l-4.4 -8.3l-4.5 18.8z" fill="#ba7272" stroke="#ba7272" stroke-width="0.7"/>
<path d="M271.6 2094.9l5.4 -5.5l-4.3 -8.4l-5.5 6.7z" fill="#e48a90" stroke="#e48a90" stroke-width="0.7"/>
<path d="M241.5 2116.5l5.4 -8.9l-4.2 -5.1l-5.3 9.6z" fill="#d8969c" stroke="#d8969c" stroke-width="0.7"/>
<path d="M280 2038.2l5.4 -4.5l-4.4 -13.6l-5.5 3.6z" fill="#d2545a" stroke="#d2545a" stroke-width="0.7"/>
<path d="M242.7 2102.5l5.1 -12.3l-4.4 -8.3l-4.8 15.5z" fill="#c07e7e" stroke="#c07e7e" stroke-width="0.7"/>
<path d="M211.3 2137.4l5.6 -7.1l-4 -5l-5.6 7.5z" fill="#eac0c0" stroke="#eac0c0" stroke-width="0.7"/>
<path d="M236.1 2125.1l5.4 -8.6l-4.1 -4.4l-5.4 8.2z" fill="#dea8a8" stroke="#dea8a8" stroke-width="0.7"/>
<path d="M317.4 2139.2L313.2 2130.2M304.8 2108.2L310 2107.2M292.1 2089.2L297.3 2084M299.3 2052.1L295 2041.3M295 2041.3L300.2 2035.9M312.4 2138.7L317.4 2139.2M321.7 2141.7L317.4 2139.2M313.2 2130.2L309.1 2118.6M330.7 2146.8L335.6 2143.6M287.4 2001.8L292.7 1999.8M296.3 2096L292.1 2089.2M286.7 2093.3L292.1 2089.2M292.1 2089.2L287.8 2080M289.7 2046.4L295 2041.3M295 2041.3L290.7 2029.4M300.6 2101.4L296.3 2096M326.2 2144.2L321.7 2141.7M309.1 2118.6L304.8 2108.2M299.6 2111.4L304.8 2108.2M304.8 2108.2L300.6 2101.4M287.8 2080L283.4 2069.3M284.4 2051.5L289.7 2046.4M229.4 2103.3L234.5 2092.4M223.9 2110.5L229.4 2103.3M281.3 2097L286.7 2093.3M282 2004L287.4 2001.8M290.7 2029.4L286.4 2016.8M325.6 2150.1L330.7 2146.8M330.7 2146.8L326.2 2144.2M283.4 2069.3L279 2057.2M218.3 2117.5L223.9 2110.5M307.3 2136.9L312.4 2138.7M294.3 2116.1L299.6 2111.4M279 2057.2L284.4 2051.5M212.9 2125.3L218.3 2117.5M222.4 2122.8L218.3 2117.5M234.5 2092.4L239 2073.6M238.6 2097.4L234.5 2092.4M275.9 2101.7L281.3 2097M242.7 2102.5L238.6 2097.4M207.3 2132.8L212.9 2125.3" stroke="#333" stroke-width="0.9" fill="none" stroke-linecap="round"/>
<path d="M284.5 2115.1l5.4 -5.3l-4.3 -6l-5.4 4.8zM279.1 2121l5.4 -5.9l-4.3 -6.5l-5.4 6.1z" fill="#eaa8a8" stroke="#eaa8a8" stroke-width="0.7"/>
<path d="M281 2020.1l5.4 -3.3l-4.4 -12.8l-5.6 2.3zM275.5 2023.7l5.5 -3.6l-4.6 -13.8l-5.6 2.6z" fill="#d2484e" stroke="#d2484e" stroke-width="0.7"/>
<path d="M221 2135.3l5.5 -7.2l-4.1 -5.3l-5.5 7.5zM234.7 2137.1l5.5 -7.7l-4.1 -4.3l-5.5 7.9zM248.4 2137.8l5.6 -7.4l-4.2 -4.7l-5.5 7.8z" fill="#e4baba" stroke="#e4baba" stroke-width="0.7"/>
<path d="M246.9 2107.6l5.3 -9.9l-4.4 -7.5l-5.1 12.3z" fill="#cc8a8a" stroke="#cc8a8a" stroke-width="0.7"/>
<path d="M267.2 2087.7l5.5 -6.7l-4.5 -10.8l-5.4 7.8z" fill="#d87e7e" stroke="#d87e7e" stroke-width="0.7"/>
<path d="M273.6 2063.5l5.4 -6.3l-4.5 -13.7l-5.4 5.8z" fill="#d26666" stroke="#d26666" stroke-width="0.7"/>
<path d="M230.6 2133l5.5 -7.9l-4.1 -4.8l-5.5 7.8z" fill="#e4b4b4" stroke="#e4b4b4" stroke-width="0.7"/>
<path d="M288.9 2121.2l5.4 -5.1l-4.4 -6.3l-5.4 5.3zM273.6 2127.4l5.5 -6.4l-4.3 -6.3l-5.5 6.8z" fill="#eaaeae" stroke="#eaaeae" stroke-width="0.7"/>
<path d="M266.1 2102l5.5 -7.1l-4.4 -7.2l-5.4 7.8z" fill="#de9090" stroke="#de9090" stroke-width="0.7"/>
<path d="M205.7 2144.5l5.6 -7.1l-4 -4.6l-5.5 7.6zM233 2147.5l5.7 -6.6l-4 -3.8l-5.7 6.8zM247 2148.8l5.6 -6.6l-4.2 -4.4l-5.6 6.9z" fill="#eacccc" stroke="#eacccc" stroke-width="0.7"/>
<path d="M261.8 2095.5l5.4 -7.8l-4.4 -9.7l-5.3 9.4z" fill="#d88484" stroke="#d88484" stroke-width="0.7"/>
<path d="M251 2112.7l5.4 -8.6l-4.2 -6.4l-5.3 9.9z" fill="#d89696" stroke="#d89696" stroke-width="0.7"/>
<path d="M256.4 2104.1l5.4 -8.6l-4.3 -8.1l-5.3 10.3z" fill="#d28a8a" stroke="#d28a8a" stroke-width="0.7"/>
<path d="M270.4 2108.1l5.5 -6.4l-4.3 -6.8l-5.5 7.1z" fill="#e4969c" stroke="#e4969c" stroke-width="0.7"/>
<path d="M245.6 2121.1l5.4 -8.4l-4.1 -5.1l-5.4 8.9z" fill="#dea2a2" stroke="#dea2a2" stroke-width="0.7"/>
<path d="M320.5 2153.4l5.1 -3.3l-4.5 -3.3l-5.1 1.2z" fill="#fcf6f6" stroke="#fcf6f6" stroke-width="0.7"/>
<path d="M293.2 2126.5l5.4 -3.4l-4.3 -7l-5.4 5.1zM287.8 2131.3l5.4 -4.8l-4.3 -5.3l-5.5 5.5z" fill="#f0baba" stroke="#f0baba" stroke-width="0.7"/>
<path d="M215.3 2142l5.7 -6.7l-4.1 -5l-5.6 7.1zM229 2143.9l5.7 -6.8l-4.1 -4.1l-5.6 6.9zM242.8 2144.7l5.6 -6.9l-4.1 -4.3l-5.6 7.4zM256.9 2146.8l5.6 -6.5l-4.3 -5l-5.6 6.9z" fill="#eac6c6" stroke="#eac6c6" stroke-width="0.7"/>
<path d="M260.7 2109.9l5.4 -7.9l-4.3 -6.5l-5.4 8.6z" fill="#de9696" stroke="#de9696" stroke-width="0.7"/>
<path d="M225 2139.9l5.6 -6.9l-4.1 -4.9l-5.5 7.2zM252.6 2142.2l5.6 -6.9l-4.2 -4.9l-5.6 7.4z" fill="#eac0c0" stroke="#eac0c0" stroke-width="0.7"/>
<path d="M240.2 2129.4l5.4 -8.3l-4.1 -4.6l-5.4 8.6z" fill="#deaeae" stroke="#deaeae" stroke-width="0.7"/>
<path d="M252.2 2097.7l5.3 -10.3l-4.6 -11l-5.1 13.8z" fill="#c6787e" stroke="#c6787e" stroke-width="0.7"/>
<path d="M274.8 2114.7l5.4 -6.1l-4.3 -6.9l-5.5 6.4z" fill="#e4a2a2" stroke="#e4a2a2" stroke-width="0.7"/>
<path d="M268.2 2070.2l5.4 -6.7l-4.5 -14.2l-5.5 6.5z" fill="#d2666c" stroke="#d2666c" stroke-width="0.7"/>
<path d="M255.3 2117.8l5.4 -7.9l-4.3 -5.8l-5.4 8.6zM265 2115.6l5.4 -7.5l-4.3 -6.1l-5.4 7.9z" fill="#de9c9c" stroke="#de9c9c" stroke-width="0.7"/>
<path d="M297.6 2131.5l5.3 -1.3l-4.3 -7.1l-5.4 3.4z" fill="#f6c0c6" stroke="#f6c0c6" stroke-width="0.7"/>
<path d="M274.5 2043.5l5.5 -5.3l-4.5 -14.5l-5.6 4.5z" fill="#d2545a" stroke="#d2545a" stroke-width="0.7"/>
<path d="M249.8 2125.7l5.5 -7.9l-4.3 -5.1l-5.4 8.4z" fill="#dea8a8" stroke="#dea8a8" stroke-width="0.7"/>
<path d="M209.6 2148.7l5.7 -6.7l-4 -4.6l-5.6 7.1z" fill="#ead2d2" stroke="#ead2d2" stroke-width="0.7"/>
<path d="M257.5 2087.4l5.3 -9.4l-4.7 -13.6l-5.2 12z" fill="#cc7272" stroke="#cc7272" stroke-width="0.7"/>
<path d="M283.4 2126.7l5.5 -5.5l-4.4 -6.1l-5.4 5.9zM268.1 2133.8l5.5 -6.4l-4.3 -5.9l-5.5 6.9zM258.2 2135.3l5.6 -6.9l-4.3 -5.4l-5.5 7.4z" fill="#eab4b4" stroke="#eab4b4" stroke-width="0.7"/>
<path d="M302 2136.9l5.3 0l-4.4 -6.7l-5.3 1.3z" fill="#f6cccc" stroke="#f6cccc" stroke-width="0.7"/>
<path d="M262.8 2078l5.4 -7.8l-4.6 -14.4l-5.5 8.6z" fill="#d26c72" stroke="#d26c72" stroke-width="0.7"/>
<path d="M247.8 2090.2l5.1 -13.8l-4.8 -12.9l-4.7 18.4z" fill="#ba666c" stroke="#ba666c" stroke-width="0.7"/>
<path d="M219.3 2146.3l5.7 -6.4l-4 -4.6l-5.7 6.7z" fill="#f0ccd2" stroke="#f0ccd2" stroke-width="0.7"/>
<path d="M269.3 2121.5l5.5 -6.8l-4.4 -6.6l-5.4 7.5zM259.5 2123l5.5 -7.4l-4.3 -5.7l-5.4 7.9z" fill="#e4a2a8" stroke="#e4a2a8" stroke-width="0.7"/>
<path d="M244.3 2133.5l5.5 -7.8l-4.2 -4.6l-5.4 8.3z" fill="#e4aeb4" stroke="#e4aeb4" stroke-width="0.7"/>
<path d="M306.4 2143.2l5.2 -0.5l-4.3 -5.8l-5.3 0zM301 2146.4l5.4 -3.2l-4.4 -6.3l-5.5 3.3z" fill="#f6d2d2" stroke="#f6d2d2" stroke-width="0.7"/>
<path d="M254 2130.4l5.5 -7.4l-4.2 -5.2l-5.5 7.9zM263.8 2128.4l5.5 -6.9l-4.3 -5.9l-5.5 7.4z" fill="#e4aeae" stroke="#e4aeae" stroke-width="0.7"/>
<path d="M238.7 2140.9l5.6 -7.4l-4.1 -4.1l-5.5 7.7z" fill="#e4c0c0" stroke="#e4c0c0" stroke-width="0.7"/>
<path d="M269.1 2049.3l5.4 -5.8l-4.6 -15.3l-5.6 4.8zM263.6 2055.8l5.5 -6.5l-4.8 -16.3l-5.6 5.7z" fill="#cc5a5a" stroke="#cc5a5a" stroke-width="0.7"/>
<path d="M310.8 2150l5.2 -2l-4.4 -5.3l-5.2 0.5z" fill="#fcdede" stroke="#fcdede" stroke-width="0.7"/>
<path d="M213.5 2152.7l5.8 -6.4l-4 -4.3l-5.7 6.7zM227.2 2153.6l5.8 -6.1l-4 -3.6l-5.7 6.2z" fill="#f0d8d8" stroke="#f0d8d8" stroke-width="0.7"/>
<path d="M243.4 2081.9l4.7 -18.4l-4.8 -13.2l-4.3 23.3z" fill="#ae5a5a" stroke="#ae5a5a" stroke-width="0.7"/>
<path d="M277.9 2132.7l5.5 -6l-4.3 -5.7l-5.5 6.4z" fill="#eab4ba" stroke="#eab4ba" stroke-width="0.7"/>
<path d="M223.3 2150.1l5.7 -6.2l-4 -4l-5.7 6.4z" fill="#f0d2d8" stroke="#f0d2d8" stroke-width="0.7"/>
<path d="M315.2 2156.8l5.3 -3.4l-4.5 -5.4l-5.2 2z" fill="#fcf0f0" stroke="#fcf0f0" stroke-width="0.7"/>
<path d="M292.1 2135.4l5.5 -3.9l-4.4 -5l-5.4 4.8zM286.6 2140.9l5.5 -5.5l-4.3 -4.1l-5.5 5.8z" fill="#f0c0c0" stroke="#f0c0c0" stroke-width="0.7"/>
<path d="M252.9 2076.4l5.2 -12l-4.9 -16.4l-5.1 15.5z" fill="#c06060" stroke="#c06060" stroke-width="0.7"/>
<path d="M269.9 2028.2l5.6 -4.5l-4.7 -14.8l-5.6 3.7zM264.3 2033l5.6 -4.8l-4.7 -15.6l-5.8 3.7z" fill="#cc484e" stroke="#cc484e" stroke-width="0.7"/>
<path d="M282.3 2137.1l5.5 -5.8l-4.4 -4.6l-5.5 6z" fill="#f0bac0" stroke="#f0bac0" stroke-width="0.7"/>
<path d="M272.4 2138.8l5.5 -6.1l-4.3 -5.3l-5.5 6.4zM262.5 2140.3l5.6 -6.5l-4.3 -5.4l-5.6 6.9z" fill="#eabac0" stroke="#eabac0" stroke-width="0.7"/>
<path d="M217.4 2156.3l5.9 -6.2l-4 -3.8l-5.8 6.4z" fill="#f0dede" stroke="#f0dede" stroke-width="0.7"/>
<path d="M258.1 2064.4l5.5 -8.6l-4.9 -17.1l-5.5 9.3z" fill="#c65a60" stroke="#c65a60" stroke-width="0.7"/>
<path d="M296.5 2140.2l5.5 -3.3l-4.4 -5.4l-5.5 3.9z" fill="#f6c6c6" stroke="#f6c6c6" stroke-width="0.7"/>
<path d="M237.1 2151l5.7 -6.3l-4.1 -3.8l-5.7 6.6z" fill="#f0d2d2" stroke="#f0d2d2" stroke-width="0.7"/>
<path d="M276.7 2142.9l5.6 -5.8l-4.4 -4.4l-5.5 6.1z" fill="#f0c0c6" stroke="#f0c0c6" stroke-width="0.7"/>
<path d="M266.8 2144.9l5.6 -6.1l-4.3 -5l-5.6 6.5z" fill="#f0c6c6" stroke="#f0c6c6" stroke-width="0.7"/>
<path d="M305.4 2153.3l5.4 -3.3l-4.4 -6.8l-5.4 3.2z" fill="#f6dede" stroke="#f6dede" stroke-width="0.7"/>
<path d="M276.4 2006.3L282 2004M286.4 2016.8L282 2004M226.5 2128.1L222.4 2122.8M246.9 2107.6L242.7 2102.5M273.6 2063.5L279 2057.2M279 2057.2L274.5 2043.5M271.6 2094.9L267.2 2087.7M201.8 2140.4L207.3 2132.8M205.7 2144.5L201.8 2140.4M267.2 2087.7L262.8 2078M246.9 2107.6L252.2 2097.7M275.9 2101.7L271.6 2094.9M241.5 2116.5L246.9 2107.6M251 2112.7L246.9 2107.6M320.5 2153.4L325.6 2150.1M288.9 2121.2L294.3 2116.1M230.6 2133L226.5 2128.1M236.1 2125.1L241.5 2116.5M252.2 2097.7L257.5 2087.4M270.4 2108.1L275.9 2101.7M280.2 2108.6L275.9 2101.7M268.2 2070.2L273.6 2063.5M284.5 2115.1L280.2 2108.6M230.6 2133L236.1 2125.1M255.3 2117.8L251 2112.7M209.6 2148.7L205.7 2144.5M257.5 2087.4L262.8 2078M288.9 2121.2L284.5 2115.1M262.8 2078L268.2 2070.2M262.8 2078L258.1 2064.4M265 2115.6L270.4 2108.1M270.8 2008.9L276.4 2006.3M225 2139.9L230.6 2133M234.7 2137.1L230.6 2133M302 2136.9L307.3 2136.9M283.4 2126.7L288.9 2121.2M293.2 2126.5L288.9 2121.2M259.5 2123L255.3 2117.8M259.5 2123L265 2115.6M274.5 2043.5L269.9 2028.2M213.5 2152.7L209.6 2148.7M239 2073.6L243.3 2050.3M219.3 2146.3L225 2139.9M315.2 2156.8L320.5 2153.4M238.7 2140.9L234.7 2137.1M254 2130.4L259.5 2123M263.8 2128.4L259.5 2123M297.6 2131.5L293.2 2126.5M265.2 2012.6L270.8 2008.9M277.9 2132.7L283.4 2126.7M213.5 2152.7L219.3 2146.3M217.4 2156.3L213.5 2152.7M248.4 2137.8L254 2130.4M268.1 2133.8L263.8 2128.4M258.1 2064.4L253.2 2048M302 2136.9L297.6 2131.5M242.8 2144.7L238.7 2140.9M272.4 2138.8L277.9 2132.7M242.8 2144.7L248.4 2137.8M296.5 2140.2L302 2136.9M306.4 2143.2L302 2136.9M272.4 2138.8L268.1 2133.8M259.4 2016.3L265.2 2012.6M269.9 2028.2L265.2 2012.6M310.8 2150L306.4 2143.2" stroke="#333" stroke-width="0.9" fill="none" stroke-linecap="round"/>
<path d="M221.4 2159.7l5.8 -6.1l-3.9 -3.5l-5.9 6.2z" fill="#f0e4e4" stroke="#f0e4e4" stroke-width="0.7"/>
<path d="M309.9 2160.2l5.3 -3.4l-4.4 -6.8l-5.4 3.3z" fill="#fceaf0" stroke="#fceaf0" stroke-width="0.7"/>
<path d="M231.3 2157l5.8 -6l-4.1 -3.5l-5.8 6.1z" fill="#f0dede" stroke="#f0dede" stroke-width="0.7"/>
<path d="M248.1 2063.5l5.1 -15.5l-5 -16.8l-4.9 19.1z" fill="#b44e54" stroke="#b44e54" stroke-width="0.7"/>
<path d="M241.2 2154.8l5.8 -6l-4.2 -4.1l-5.7 6.3zM255.4 2156.9l5.7 -5.8l-4.2 -4.3l-5.7 6.2zM274.1 2162.1l5.7 -5.8l-4.4 -3.9l-5.7 6z" fill="#f0d8d8" stroke="#f0d8d8" stroke-width="0.7"/>
<path d="M291 2145.4l5.5 -5.2l-4.4 -4.8l-5.5 5.5zM281 2146.6l5.6 -5.7l-4.3 -3.8l-5.6 5.8z" fill="#f0c6c6" stroke="#f0c6c6" stroke-width="0.7"/>
<path d="M251.2 2153l5.7 -6.2l-4.3 -4.6l-5.6 6.6zM265.4 2154.9l5.7 -6.1l-4.3 -3.9l-5.7 6.2zM279.8 2156.3l5.7 -5.4l-4.5 -4.3l-5.6 5.8z" fill="#f0d2d2" stroke="#f0d2d2" stroke-width="0.7"/>
<path d="M261.1 2151.1l5.7 -6.2l-4.3 -4.6l-5.6 6.5zM271.1 2148.8l5.6 -5.9l-4.3 -4.1l-5.6 6.1zM285.5 2150.9l5.5 -5.5l-4.4 -4.5l-5.6 5.7zM275.4 2152.4l5.6 -5.8l-4.3 -3.7l-5.6 5.9z" fill="#f0cccc" stroke="#f0cccc" stroke-width="0.7"/>
<path d="M258.7 2038.7l5.6 -5.7l-4.9 -16.7l-5.7 4.9z" fill="#cc4e4e" stroke="#cc4e4e" stroke-width="0.7"/>
<path d="M295.5 2151.1l5.5 -4.7l-4.5 -6.2l-5.5 5.2zM289.9 2156l5.6 -4.9l-4.5 -5.7l-5.5 5.5z" fill="#f6d2d2" stroke="#f6d2d2" stroke-width="0.7"/>
<path d="M225.4 2162.9l5.9 -5.9l-4.1 -3.4l-5.8 6.1zM229.3 2165.8l6 -5.5l-4 -3.3l-5.9 5.9zM243.6 2166.8l5.9 -4.8l-4.2 -3.5l-5.9 5.1z" fill="#f6eaea" stroke="#f6eaea" stroke-width="0.7"/>
<path d="M253.2 2048l5.5 -9.3l-5 -17.5l-5.5 10z" fill="#c04e4e" stroke="#c04e4e" stroke-width="0.7"/>
<path d="M235.3 2160.3l5.9 -5.5l-4.1 -3.8l-5.8 6z" fill="#f6dee4" stroke="#f6dee4" stroke-width="0.7"/>
<path d="M300 2157.4l5.4 -4.1l-4.4 -6.9l-5.5 4.7zM245.3 2158.5l5.9 -5.5l-4.2 -4.2l-5.8 6zM259.6 2160.5l5.8 -5.6l-4.3 -3.8l-5.7 5.8zM294.4 2161.7l5.6 -4.3l-4.5 -6.3l-5.6 4.9zM263.9 2164l5.8 -5.6l-4.3 -3.5l-5.8 5.6z" fill="#f6dede" stroke="#f6dede" stroke-width="0.7"/>
<path d="M304.5 2163.7l5.4 -3.5l-4.5 -6.9l-5.4 4.1zM298.9 2167.3l5.6 -3.6l-4.5 -6.3l-5.6 4.3z" fill="#fcf0f0" stroke="#fcf0f0" stroke-width="0.7"/>
<path d="M249.5 2162l5.9 -5.1l-4.2 -3.9l-5.9 5.5zM239.4 2163.6l5.9 -5.1l-4.1 -3.7l-5.9 5.5zM253.8 2165.5l5.8 -5l-4.2 -3.6l-5.9 5.1zM288.8 2165.9l5.6 -4.2l-4.5 -5.7l-5.6 5z" fill="#f6e4e4" stroke="#f6e4e4" stroke-width="0.7"/>
<path d="M269.7 2158.4l5.7 -6l-4.3 -3.6l-5.7 6.1z" fill="#f0d2d8" stroke="#f0d2d8" stroke-width="0.7"/>
<path d="M284.3 2161l5.6 -5l-4.4 -5.1l-5.7 5.4z" fill="#f6d8d8" stroke="#f6d8d8" stroke-width="0.7"/>
<path d="M233.4 2168.7l6 -5.1l-4.1 -3.3l-6 5.5z" fill="#f6f0f0" stroke="#f6f0f0" stroke-width="0.7"/>
<path d="M221.4 2159.7L217.4 2156.3M309.9 2160.2L315.2 2156.8M315.2 2156.8L310.8 2150M243.3 2050.3L248.2 2031.2M237.1 2151L242.8 2144.7M247 2148.8L242.8 2144.7M266.8 2144.9L272.4 2138.8M276.7 2142.9L272.4 2138.8M253.7 2021.2L259.4 2016.3M291 2145.4L296.5 2140.2M225.4 2162.9L221.4 2159.7M248.2 2031.2L253.7 2021.2M253.2 2048L248.2 2031.2M231.3 2157L237.1 2151M251.2 2153L247 2148.8M261.1 2151.1L266.8 2144.9M281 2146.6L276.7 2142.9M304.5 2163.7L309.9 2160.2M285.5 2150.9L291 2145.4M225.4 2162.9L231.3 2157M229.3 2165.8L225.4 2162.9M255.4 2156.9L261.1 2151.1M255.4 2156.9L251.2 2153M285.5 2150.9L281 2146.6M298.9 2167.3L304.5 2163.7M279.8 2156.3L285.5 2150.9M289.9 2156L285.5 2150.9M249.5 2162L255.4 2156.9M259.6 2160.5L255.4 2156.9M233.4 2168.7L229.3 2165.8M294.4 2161.7L289.9 2156" stroke="#333" stroke-width="0.9" fill="none" stroke-linecap="round"/>
<path d="M278.5 2166.2l5.8 -5.2l-4.5 -4.7l-5.7 5.8z" fill="#f6dede" stroke="#f6dede" stroke-width="0.7"/>
<path d="M268.3 2167.5l5.8 -5.4l-4.4 -3.7l-5.8 5.6z" fill="#f6e4e4" stroke="#f6e4e4" stroke-width="0.7"/>
<path d="M258 2168.8l5.9 -4.8l-4.3 -3.5l-5.8 5zM272.7 2171.1l5.8 -4.9l-4.4 -4.1l-5.8 5.4zM262.4 2172.1l5.9 -4.6l-4.4 -3.5l-5.9 4.8z" fill="#f6eaea" stroke="#f6eaea" stroke-width="0.7"/>
<path d="M293.3 2171l5.6 -3.7l-4.5 -5.6l-5.6 4.2zM252 2173.2l6 -4.4l-4.2 -3.3l-6 4.5zM277.2 2174.8l5.8 -4.4l-4.5 -4.2l-5.8 4.9zM266.8 2175.5l5.9 -4.4l-4.4 -3.6l-5.9 4.6zM256.3 2176.4l6.1 -4.3l-4.4 -3.3l-6 4.4z" fill="#fcf0f0" stroke="#fcf0f0" stroke-width="0.7"/>
<path d="M247.8 2170l6 -4.5l-4.3 -3.5l-5.9 4.8z" fill="#fceaf0" stroke="#fceaf0" stroke-width="0.7"/>
<path d="M237.5 2171.6l6.1 -4.8l-4.2 -3.2l-6 5.1z" fill="#f6f0f0" stroke="#f6f0f0" stroke-width="0.7"/>
<path d="M283 2170.4l5.8 -4.5l-4.5 -4.9l-5.8 5.2z" fill="#fceaea" stroke="#fceaea" stroke-width="0.7"/>
<path d="M241.6 2174.6l6.2 -4.6l-4.2 -3.2l-6.1 4.8zM287.6 2174.7l5.7 -3.7l-4.5 -5.1l-5.8 4.5zM245.9 2177.7l6.1 -4.5l-4.2 -3.2l-6.2 4.6zM281.7 2178.5l5.9 -3.8l-4.6 -4.3l-5.8 4.4zM271.2 2178.9l6 -4.1l-4.5 -3.7l-5.9 4.4z" fill="#fcf6f6" stroke="#fcf6f6" stroke-width="0.7"/>
<path d="M274.1 2162.1L279.8 2156.3M263.9 2164L259.6 2160.5M293.3 2171L298.9 2167.3M298.9 2167.3L294.4 2161.7M243.6 2166.8L249.5 2162M237.5 2171.6L233.4 2168.7M268.3 2167.5L274.1 2162.1M268.3 2167.5L263.9 2164M237.5 2171.6L243.6 2166.8M241.6 2174.6L237.5 2171.6M287.6 2174.7L293.3 2171M262.4 2172.1L268.3 2167.5M272.7 2171.1L268.3 2167.5M245.9 2177.7L241.6 2174.6M281.7 2178.5L287.6 2174.7M277.2 2174.8L272.7 2171.1" stroke="#333" stroke-width="0.9" fill="none" stroke-linecap="round"/>
<path d="M260.7 2179.7l6.1 -4.2l-4.4 -3.4l-6.1 4.3zM250.2 2180.8l6.1 -4.4l-4.3 -3.2l-6.1 4.5zM275.7 2182.3l6 -3.8l-4.5 -3.7l-6 4.1zM265.1 2182.9l6.1 -4l-4.4 -3.4l-6.1 4.2zM254.5 2183.9l6.2 -4.2l-4.4 -3.3l-6.1 4.4z" fill="#fcf6f6" stroke="#fcf6f6" stroke-width="0.7"/>
<path d="M269.7 2186.3l6 -4l-4.5 -3.4l-6.1 4zM259 2187.1l6.1 -4.2l-4.4 -3.2l-6.2 4.2zM263.4 2190.3l6.3 -4l-4.6 -3.4l-6.1 4.2z" fill="#fcfcfc" stroke="#fcfcfc" stroke-width="0.7"/>
<path d="M256.3 2176.4L262.4 2172.1M250.2 2180.8L245.9 2177.7M275.7 2182.3L281.7 2178.5M281.7 2178.5L277.2 2174.8M250.2 2180.8L256.3 2176.4M254.5 2183.9L250.2 2180.8M269.7 2186.3L275.7 2182.3M259 2187.1L254.5 2183.9M263.4 2190.3L269.7 2186.3M263.4 2190.3L259 2187.1" stroke="#333" stroke-width="0.9" fill="none" stroke-linecap="round"/>
<path d="M181.8,2001.5L215.9,2238.7M215.9,2238.7L268.7,2285M268.7,2285L373.9,2200.5M373.9,2200.5L401.9,1976.3" stroke="#505050" stroke-width="1" fill="none"/>
<path d="M182.4,2005.8l-6.7,2.1M190.1,2058.9l-6.7,2.1M196.8,2105.5l-6.7,2.1M202.7,2146.7l-6.7,2.1M207.9,2183.3l-6.7,2.1M212.7,2216l-6.7,2.1M268.7,2285l-5.5,4.4M257.3,2275l-5.5,4.4M246.4,2265.4l-5.5,4.4M235.8,2256.2l-5.5,4.4M225.7,2247.3l-5.5,4.4M215.9,2238.7l-5.5,4.4M268.7,2285l5.3,4.6M284.1,2272.6l5.3,4.6M298.8,2260.8l5.3,4.6M312.8,2249.6l5.3,4.6M326.1,2238.9l5.3,4.6M338.9,2228.6l5.3,4.6M351.1,2218.8l5.3,4.6M362.8,2209.5l5.3,4.6M373.9,2200.5l5.3,4.6" stroke="#505050" stroke-width="0.9" fill="none"/>
<text x="172.9" y="2012.7" font-size="11.6" text-anchor="end" fill="#333333">30</text>
<text x="180.5" y="2065.9" font-size="11.6" text-anchor="end" fill="#333333">20</text>
<text x="187.2" y="2112.5" font-size="11.6" text-anchor="end" fill="#333333">10</text>
<text x="193.1" y="2153.6" font-size="11.6" text-anchor="end" fill="#333333">0</text>
<text x="198.4" y="2190.2" font-size="11.6" text-anchor="end" fill="#333333">-10</text>
<text x="203.1" y="2223" font-size="11.6" text-anchor="end" fill="#333333">-20</text>
<text x="260.9" y="2296.2" font-size="11.6" text-anchor="end" fill="#333333">0</text>
<text x="249.5" y="2286.2" font-size="11.6" text-anchor="end" fill="#333333">0.5</text>
<text x="238.6" y="2276.7" font-size="11.6" text-anchor="end" fill="#333333">1</text>
<text x="228" y="2267.4" font-size="11.6" text-anchor="end" fill="#333333">2</text>
<text x="217.9" y="2258.5" font-size="11.6" text-anchor="end" fill="#333333">4</text>
<text x="208.1" y="2250" font-size="11.6" text-anchor="end" fill="#333333">8</text>
<text x="276.3" y="2296.5" font-size="11.6" fill="#333333">0</text>
<text x="291.7" y="2284.2" font-size="11.6" fill="#333333">0.125</text>
<text x="306.3" y="2272.4" font-size="11.6" fill="#333333">0.25</text>
<text x="320.3" y="2261.2" font-size="11.6" fill="#333333">0.5</text>
<text x="333.7" y="2250.5" font-size="11.6" fill="#333333">1</text>
<text x="346.4" y="2240.2" font-size="11.6" fill="#333333">2</text>
<text x="358.6" y="2230.4" font-size="11.6" fill="#333333">4</text>
<text x="370.3" y="2221.1" font-size="11.6" fill="#333333">8</text>
<text x="381.5" y="2212.1" font-size="11.6" fill="#333333">16</text>
<text x="78" y="2146.3" fill="#4d4d4d">δ - score</text>
<text x="103.6" y="2285.6" fill="#4d4d4d">TGFβRi(μM)</text>
<text x="351.8" y="2272" fill="#4d4d4d">Vinorelbine(μM)</text>
<text x="440" y="2094" fill="#4d4d4d">δ - score</text>
<rect x="438.6" y="2104.3" width="19.3" height="55.3" fill="url(#cbg)"/>
<rect x="452.9" y="2112.2" width="5" height="3.6" fill="#fff"/>
<text x="459.9" y="2119" font-size="13.5" fill="#4d4d4d">20</text>
<rect x="452.9" y="2130.2" width="5" height="3.6" fill="#fff"/>
<text x="459.9" y="2137" font-size="13.5" fill="#4d4d4d">0</text>
<rect x="452.9" y="2148.2" width="5" height="3.6" fill="#fff"/>
<text x="459.9" y="2155" font-size="13.5" fill="#4d4d4d">−20</text>
<path d="M676.7,2158.3L654.7,2024.1M778.2,2240.4L676.7,2158.3M691.2,2149.9L672.9,2017.3M793,2228.3L691.2,2149.9M705.1,2141.9L690.1,2010.9M807.2,2216.8L705.1,2141.9M718.5,2134.2L706.6,2004.7M820.6,2205.9L718.5,2134.2M731.3,2126.7L722.3,1998.8M833.5,2195.4L731.3,2126.7M743.7,2119.6L737.2,1993.3M845.7,2185.4L743.7,2119.6M755.6,2112.7L751.5,1987.9M857.4,2175.9L755.6,2112.7M767,2106.1L765.2,1982.8M868.7,2166.8L767,2106.1M778.1,2099.7L778.2,1977.9M879.4,2158.1L778.1,2099.7M879.4,2158.1L901.7,2024.1M778.2,2240.4L879.4,2158.1M856.5,2144.9L873.1,2013.4M754.7,2221.4L856.5,2144.9M835,2132.5L846.7,2003.5M733,2203.9L835,2132.5M814.9,2120.9L822.2,1994.4M712.9,2187.6L814.9,2120.9M795.9,2110L799.5,1985.8M694.2,2172.5L795.9,2110M778.1,2099.7L778.2,1977.9M676.7,2158.3L778.1,2099.7M657.8,2043L778.2,1994.6M778.2,1994.6L898.6,2042.9M662.8,2073.7L778.2,2022M778.2,2022L893.5,2073.6M667.4,2101.9L778.1,2047.6M778.1,2047.6L888.8,2101.7M671.7,2128L778.1,2071.5M778.1,2071.5L884.4,2127.7M675.7,2152.1L778.1,2093.9M778.1,2093.9L880.4,2151.8" stroke="#bdbdbd" stroke-width="0.9" fill="none"/>
<path d="M780.7 2005.9l4.2 -1.8l-6.7 -9.2l-4.2 1.9zM776.5 2007.8l4.2 -1.9l-6.7 -9.1l-4.3 1.9zM772.2 2010.5l4.3 -2.7l-6.8 -9.1l-4.3 3z" fill="#ea545a" stroke="#ea545a" stroke-width="0.7"/>
<path d="M787.5 2015.1l4.1 -1.8l-6.7 -9.2l-4.2 1.8zM783.3 2017l4.2 -1.9l-6.8 -9.2l-4.2 1.9zM779.1 2019.5l4.2 -2.5l-6.8 -9.2l-4.3 2.7z" fill="#ea6066" stroke="#ea6066" stroke-width="0.7"/>
<path d="M794.3 2024.1l4.1 -1.9l-6.8 -8.9l-4.1 1.8zM790.2 2026l4.1 -1.9l-6.8 -9l-4.2 1.9zM786 2028.2l4.2 -2.2l-6.9 -9l-4.2 2.5z" fill="#ea6c72" stroke="#ea6c72" stroke-width="0.7"/>
<path d="M801.2 2032.7l4.1 -1.9l-6.9 -8.6l-4.1 1.9zM797.1 2034.7l4.1 -2l-6.9 -8.6l-4.1 1.9zM792.9 2036.8l4.2 -2.1l-6.9 -8.7l-4.2 2.2z" fill="#f0787e" stroke="#f0787e" stroke-width="0.7"/>
<path d="M808.1 2041.1l4.1 -2l-6.9 -8.3l-4.1 1.9zM804.1 2043.1l4 -2l-6.9 -8.4l-4.1 2z" fill="#f08a8a" stroke="#f08a8a" stroke-width="0.7"/>
<path d="M767.9 2014.9l4.3 -4.4l-6.8 -8.8l-4.3 5.2z" fill="#ea5a5a" stroke="#ea5a5a" stroke-width="0.7"/>
<path d="M815.2 2049.2l4 -2l-7 -8.1l-4.1 2z" fill="#f09696" stroke="#f09696" stroke-width="0.7"/>
<path d="M763.6 2020l4.3 -5.1l-6.8 -8l-4.3 6.2z" fill="#e46060" stroke="#e46060" stroke-width="0.7"/>
<path d="M774.8 2022.9l4.3 -3.4l-6.9 -9l-4.3 4.4z" fill="#ea6666" stroke="#ea6666" stroke-width="0.7"/>
<path d="M822.3 2056.9l4 -2.1l-7.1 -7.6l-4 2z" fill="#f6a2a8" stroke="#f6a2a8" stroke-width="0.7"/>
<path d="M759.2 2024.2l4.4 -4.2l-6.8 -6.9l-4.3 5z" fill="#ea666c" stroke="#ea666c" stroke-width="0.7"/>
<path d="M774 1996.8L778.2 1994.9M784.9 2004.1L778.2 1994.9M791.6 2013.3L784.9 2004.1M798.4 2022.2L791.6 2013.3M769.7 1998.7L774 1996.8M794.3 2024.1L798.4 2022.2M805.3 2030.8L798.4 2022.2M765.4 2001.7L769.7 1998.7M812.2 2039.1L805.3 2030.8M790.2 2026L794.3 2024.1M761.1 2006.9L765.4 2001.7M772.2 2010.5L765.4 2001.7M819.2 2047.2L812.2 2039.1M756.8 2013.1L761.1 2006.9M779.1 2019.5L772.2 2010.5M815.2 2049.2L819.2 2047.2M826.3 2054.8L819.2 2047.2M752.5 2018.1L756.8 2013.1M786 2028.2L790.2 2026" stroke="#333" stroke-width="0.9" fill="none" stroke-linecap="round"/>
<path d="M811.1 2051.3l4.1 -2.1l-7.1 -8.1l-4 2zM807 2053.3l4.1 -2l-7 -8.2l-4.2 2.1zM802.8 2055.3l4.2 -2l-7.1 -8.1l-4.2 2.1zM798.6 2057.3l4.2 -2l-7.1 -8l-4.3 2.2z" fill="#f09696" stroke="#f09696" stroke-width="0.7"/>
<path d="M770.4 2026.9l4.4 -4l-6.9 -8l-4.3 5.1zM750.1 2026.9l4.6 -0.9l-6.7 -6.1l-4.7 0.5zM745.5 2029.1l4.6 -2.2l-6.8 -6.5l-4.6 2.1z" fill="#ea666c" stroke="#ea666c" stroke-width="0.7"/>
<path d="M781.7 2031l4.3 -2.8l-6.9 -8.7l-4.3 3.4z" fill="#ea7272" stroke="#ea7272" stroke-width="0.7"/>
<path d="M799.9 2045.2l4.2 -2.1l-7 -8.4l-4.2 2.1zM795.7 2047.3l4.2 -2.1l-7 -8.4l-4.2 2.4zM791.4 2049.5l4.3 -2.2l-7 -8.1l-4.4 2.5zM787.1 2051.8l4.3 -2.3l-7.1 -7.8l-4.3 2.4z" fill="#f08a8a" stroke="#f08a8a" stroke-width="0.7"/>
<path d="M754.7 2026l4.5 -1.8l-6.7 -6.1l-4.5 1.8zM741 2034.1l4.5 -5l-6.8 -6.6l-4.5 5.6z" fill="#ea6c6c" stroke="#ea6c6c" stroke-width="0.7"/>
<path d="M829.5 2064.3l3.9 -2.1l-7.1 -7.4l-4 2.1zM825.5 2066.5l4 -2.2l-7.2 -7.4l-4 2.1zM821.5 2068.5l4 -2l-7.2 -7.5l-4.1 2.1z" fill="#f6aeb4" stroke="#f6aeb4" stroke-width="0.7"/>
<path d="M766 2030.3l4.4 -3.4l-6.8 -6.9l-4.4 4.2zM757 2033.5l4.6 -1.3l-6.9 -6.2l-4.6 0.9z" fill="#ea6c72" stroke="#ea6c72" stroke-width="0.7"/>
<path d="M788.7 2039.2l4.2 -2.4l-6.9 -8.6l-4.3 2.8zM784.3 2041.7l4.4 -2.5l-7 -8.2l-4.4 3.1z" fill="#f07e7e" stroke="#f07e7e" stroke-width="0.7"/>
<path d="M818.3 2059l4 -2.1l-7.1 -7.7l-4.1 2.1z" fill="#f6a2a8" stroke="#f6a2a8" stroke-width="0.7"/>
<path d="M777.3 2034.1l4.4 -3.1l-6.9 -8.1l-4.4 4z" fill="#ea7278" stroke="#ea7278" stroke-width="0.7"/>
<path d="M836.9 2071.4l3.9 -2.2l-7.4 -7l-3.9 2.1zM832.9 2073.7l4 -2.3l-7.4 -7.1l-4 2.2z" fill="#f6c0c0" stroke="#f6c0c0" stroke-width="0.7"/>
<path d="M761.6 2032.2l4.4 -1.9l-6.8 -6.1l-4.5 1.8z" fill="#f07272" stroke="#f07272" stroke-width="0.7"/>
<path d="M773 2036.9l4.3 -2.8l-6.9 -7.2l-4.4 3.4zM768.5 2038.8l4.5 -1.9l-7 -6.6l-4.4 1.9z" fill="#f07878" stroke="#f07878" stroke-width="0.7"/>
<path d="M814.2 2061.1l4.1 -2.1l-7.2 -7.7l-4.1 2zM810.1 2062.9l4.1 -1.8l-7.2 -7.8l-4.2 2z" fill="#f6a2a2" stroke="#f6a2a2" stroke-width="0.7"/>
<path d="M844.3 2078.5l3.9 -2.3l-7.4 -7l-3.9 2.2zM840.4 2080.8l3.9 -2.3l-7.4 -7.1l-4 2.3z" fill="#f6cccc" stroke="#f6cccc" stroke-width="0.7"/>
<path d="M780 2044.1l4.3 -2.4l-7 -7.6l-4.3 2.8zM775.6 2046.1l4.4 -2l-7 -7.2l-4.5 1.9z" fill="#f07e84" stroke="#f07e84" stroke-width="0.7"/>
<path d="M851.9 2085.2l3.9 -2.4l-7.6 -6.6l-3.9 2.3z" fill="#fcd8de" stroke="#fcd8de" stroke-width="0.7"/>
<path d="M828.9 2075.8l4 -2.1l-7.4 -7.2l-4 2z" fill="#f6bac0" stroke="#f6bac0" stroke-width="0.7"/>
<path d="M786 2028.2L779.1 2019.5M748 2019.9L752.5 2018.1M759.2 2024.2L752.5 2018.1M833.4 2062.2L826.3 2054.8M781.7 2031L786 2028.2M792.9 2036.8L786 2028.2M811.1 2051.3L815.2 2049.2M799.9 2045.2L792.9 2036.8M840.8 2069.2L833.4 2062.2M766 2030.3L759.2 2024.2M777.3 2034.1L781.7 2031M743.3 2020.4L748 2019.9M807 2053.3L811.1 2051.3M807 2053.3L799.9 2045.2M836.9 2071.4L840.8 2069.2M848.2 2076.2L840.8 2069.2M773 2036.9L777.3 2034.1M773 2036.9L766 2030.3M738.7 2022.5L743.3 2020.4M802.8 2055.3L807 2053.3M814.2 2061.1L807 2053.3M855.8 2082.8L848.2 2076.2M832.9 2073.7L836.9 2071.4M734.2 2028.1L738.7 2022.5M745.5 2029.1L738.7 2022.5M768.5 2038.8L773 2036.9M780 2044.1L773 2036.9" stroke="#333" stroke-width="0.9" fill="none" stroke-linecap="round"/>
<path d="M764 2040.4l4.5 -1.6l-6.9 -6.6l-4.6 1.3zM759.4 2042.8l4.6 -2.4l-7 -6.9l-4.6 2.3z" fill="#f07878" stroke="#f07878" stroke-width="0.7"/>
<path d="M817.4 2070.3l4.1 -1.8l-7.3 -7.4l-4.1 1.8zM813.2 2072l4.2 -1.7l-7.3 -7.4l-4.2 1.8zM809 2073.9l4.2 -1.9l-7.3 -7.3l-4.3 2z" fill="#f6aeae" stroke="#f6aeae" stroke-width="0.7"/>
<path d="M736.4 2040.4l4.6 -6.3l-6.8 -6l-4.4 7.3zM747.8 2040.1l4.6 -4.3l-6.9 -6.7l-4.5 5z" fill="#ea7272" stroke="#ea7272" stroke-width="0.7"/>
<path d="M752.4 2035.8l4.6 -2.3l-6.9 -6.6l-4.6 2.2z" fill="#f06c72" stroke="#f06c72" stroke-width="0.7"/>
<path d="M731.9 2046.6l4.5 -6.2l-6.6 -5l-4.4 7z" fill="#ea787e" stroke="#ea787e" stroke-width="0.7"/>
<path d="M805.9 2064.7l4.2 -1.8l-7.3 -7.6l-4.2 2zM801.6 2066.7l4.3 -2l-7.3 -7.4l-4.3 2zM797.2 2068.9l4.4 -2.2l-7.3 -7.4l-4.4 2.2zM792.8 2071.3l4.4 -2.4l-7.3 -7.4l-4.4 2.2z" fill="#f6a2a2" stroke="#f6a2a2" stroke-width="0.7"/>
<path d="M727.3 2052.3l4.6 -5.7l-6.5 -4.2l-4.6 6.2z" fill="#ea848a" stroke="#ea848a" stroke-width="0.7"/>
<path d="M794.3 2059.3l4.3 -2l-7.2 -7.8l-4.3 2.3zM789.9 2061.5l4.4 -2.2l-7.2 -7.5l-4.4 2zM785.5 2063.7l4.4 -2.2l-7.2 -7.7l-4.5 2.1z" fill="#f09696" stroke="#f09696" stroke-width="0.7"/>
<path d="M782.7 2053.8l4.4 -2l-7.1 -7.7l-4.4 2zM778.2 2055.9l4.5 -2.1l-7.1 -7.7l-4.5 1.9zM773.7 2058.4l4.5 -2.5l-7.1 -7.9l-4.6 2.4zM740.8 2060.8l4.7 -4.9l-6.9 -5l-4.6 5.3z" fill="#f08a8a" stroke="#f08a8a" stroke-width="0.7"/>
<path d="M848 2087.6l3.9 -2.4l-7.6 -6.7l-3.9 2.3zM844 2090.1l4 -2.5l-7.6 -6.8l-4 2.2zM840 2092.4l4 -2.3l-7.6 -7.1l-4 2.1z" fill="#fcd8d8" stroke="#fcd8d8" stroke-width="0.7"/>
<path d="M836.4 2083l4 -2.2l-7.5 -7.1l-4 2.1z" fill="#f6cccc" stroke="#f6cccc" stroke-width="0.7"/>
<path d="M722.7 2058l4.6 -5.7l-6.5 -3.7l-4.5 5.9zM729.3 2061.6l4.7 -5.4l-6.7 -3.9l-4.6 5.7z" fill="#ea9090" stroke="#ea9090" stroke-width="0.7"/>
<path d="M859.8 2091.2l3.8 -2.5l-7.8 -5.9l-3.9 2.4zM855.9 2093.8l3.9 -2.6l-7.9 -6l-3.9 2.4zM851.9 2096.3l4 -2.5l-7.9 -6.2l-4 2.5z" fill="#fceaea" stroke="#fceaea" stroke-width="0.7"/>
<path d="M771.1 2048l4.5 -1.9l-7.1 -7.3l-4.5 1.6zM766.5 2050.4l4.6 -2.4l-7.1 -7.6l-4.6 2.4zM761.9 2053.8l4.6 -3.4l-7.1 -7.6l-4.6 3.8z" fill="#f07e84" stroke="#f07e84" stroke-width="0.7"/>
<path d="M824.8 2077.6l4.1 -1.8l-7.4 -7.3l-4.1 1.8zM820.7 2079.4l4.1 -1.8l-7.4 -7.3l-4.2 1.7z" fill="#f6baba" stroke="#f6baba" stroke-width="0.7"/>
<path d="M718 2063.4l4.7 -5.4l-6.4 -3.5l-4.6 5.6zM724.6 2066.8l4.7 -5.2l-6.6 -3.6l-4.7 5.4z" fill="#f0969c" stroke="#f0969c" stroke-width="0.7"/>
<path d="M743.2 2045.4l4.6 -5.3l-6.8 -6l-4.6 6.3z" fill="#ea7878" stroke="#ea7878" stroke-width="0.7"/>
<path d="M713.3 2068.5l4.7 -5.1l-6.3 -3.3l-4.7 5.1zM719.8 2071.8l4.8 -5l-6.6 -3.4l-4.7 5.1z" fill="#f0a2a2" stroke="#f0a2a2" stroke-width="0.7"/>
<path d="M738.6 2050.9l4.6 -5.5l-6.8 -5l-4.5 6.2z" fill="#ea7e84" stroke="#ea7e84" stroke-width="0.7"/>
<path d="M832.4 2085.1l4 -2.1l-7.5 -7.2l-4.1 1.8z" fill="#f6c6cc" stroke="#f6c6cc" stroke-width="0.7"/>
<path d="M754.8 2046.6l4.6 -3.8l-7 -7l-4.6 4.3z" fill="#f0787e" stroke="#f0787e" stroke-width="0.7"/>
<path d="M734 2056.2l4.6 -5.3l-6.7 -4.3l-4.6 5.7z" fill="#ea8a8a" stroke="#ea8a8a" stroke-width="0.7"/>
<path d="M708.5 2073.3l4.8 -4.8l-6.3 -3.3l-4.8 4.8z" fill="#f0a8ae" stroke="#f0a8ae" stroke-width="0.7"/>
<path d="M867.9 2096l3.8 -2.6l-8.1 -4.7l-3.8 2.5zM864 2098.6l3.9 -2.6l-8.1 -4.8l-3.9 2.6z" fill="#fcf6f6" stroke="#fcf6f6" stroke-width="0.7"/>
<path d="M750.2 2051.1l4.6 -4.5l-7 -6.5l-4.6 5.3z" fill="#ea7e7e" stroke="#ea7e7e" stroke-width="0.7"/>
<path d="M703.7 2078.3l4.8 -5l-6.3 -3.3l-4.7 5z" fill="#f0b4b4" stroke="#f0b4b4" stroke-width="0.7"/>
<path d="M745.5 2055.9l4.7 -4.8l-7 -5.7l-4.6 5.5z" fill="#ea8484" stroke="#ea8484" stroke-width="0.7"/>
<path d="M828.3 2087l4.1 -1.9l-7.6 -7.5l-4.1 1.8z" fill="#f6c6c6" stroke="#f6c6c6" stroke-width="0.7"/>
<path d="M698.9 2084.1l4.8 -5.8l-6.2 -3.3l-4.8 5.7z" fill="#f0baba" stroke="#f0baba" stroke-width="0.7"/>
<path d="M816.5 2081.3l4.2 -1.9l-7.5 -7.4l-4.2 1.9z" fill="#f6b4ba" stroke="#f6b4ba" stroke-width="0.7"/>
<path d="M804.7 2076.2l4.3 -2.3l-7.4 -7.2l-4.4 2.2z" fill="#f6a8ae" stroke="#f6a8ae" stroke-width="0.7"/>
<path d="M694.2 2090l4.7 -5.9l-6.2 -3.4l-4.7 5.8z" fill="#f0c6c6" stroke="#f0c6c6" stroke-width="0.7"/>
<path d="M757.2 2057.7l4.7 -3.9l-7.1 -7.2l-4.6 4.5z" fill="#f0848a" stroke="#f0848a" stroke-width="0.7"/>
<path d="M821.5 2068.5L814.2 2061.1M729.8 2035.4L734.2 2028.1M725.4 2042.4L729.8 2035.4M798.6 2057.3L802.8 2055.3M720.8 2048.6L725.4 2042.4M731.9 2046.6L725.4 2042.4M787.1 2051.8L780 2044.1M828.9 2075.8L832.9 2073.7M716.3 2054.5L720.8 2048.6M863.6 2088.7L855.8 2082.8M752.4 2035.8L745.5 2029.1M764 2040.4L768.5 2038.8M828.9 2075.8L821.5 2068.5M711.7 2060.1L716.3 2054.5M794.3 2059.3L798.6 2057.3M794.3 2059.3L787.1 2051.8M707 2065.2L711.7 2060.1M718 2063.4L711.7 2060.1M824.8 2077.6L828.9 2075.8M836.4 2083L828.9 2075.8M759.4 2042.8L752.4 2035.8M759.4 2042.8L764 2040.4M738.6 2050.9L731.9 2046.6M702.2 2070L707 2065.2M859.8 2091.2L863.6 2088.7M871.7 2093.4L863.6 2088.7M789.9 2061.5L794.3 2059.3M801.6 2066.7L794.3 2059.3M697.5 2075L702.2 2070M754.8 2046.6L759.4 2042.8M766.5 2050.4L759.4 2042.8M844 2090.1L836.4 2083M820.7 2079.4L824.8 2077.6M692.7 2080.7L697.5 2075M703.7 2078.3L697.5 2075M855.9 2093.8L859.8 2091.2M724.6 2066.8L718 2063.4M809 2073.9L801.6 2066.7M745.5 2055.9L738.6 2050.9M785.5 2063.7L789.9 2061.5M688 2086.5L692.7 2080.7M750.2 2051.1L754.8 2046.6" stroke="#333" stroke-width="0.9" fill="none" stroke-linecap="round"/>
<path d="M781 2066.3l4.5 -2.6l-7.3 -7.8l-4.5 2.5zM776.4 2069.2l4.6 -2.9l-7.3 -7.9l-4.6 3.1zM743.1 2071.3l4.7 -4.8l-7 -5.7l-4.7 5.1zM755 2073l4.7 -4.2l-7.2 -6.8l-4.7 4.5z" fill="#f09696" stroke="#f09696" stroke-width="0.7"/>
<path d="M769.1 2061.5l4.6 -3.1l-7.2 -8l-4.6 3.4z" fill="#f08a90" stroke="#f08a90" stroke-width="0.7"/>
<path d="M876.3 2100.2l3.8 -2.7l-8.4 -4.1l-3.8 2.6zM872.5 2102.8l3.8 -2.6l-8.4 -4.2l-3.9 2.6zM885 2104.4l3.8 -2.7l-8.7 -4.2l-3.8 2.7zM868.6 2105.5l3.9 -2.7l-8.5 -4.2l-3.9 2.6zM881.2 2107.1l3.8 -2.7l-8.7 -4.2l-3.8 2.6zM864.6 2108.3l4 -2.8l-8.5 -4.3l-4 2.7z" fill="#fcfcfc" stroke="#fcfcfc" stroke-width="0.7"/>
<path d="M715 2076.6l4.8 -4.8l-6.5 -3.3l-4.8 4.8zM721.6 2080.7l4.9 -4.9l-6.7 -4l-4.8 4.8z" fill="#f0a8a8" stroke="#f0a8a8" stroke-width="0.7"/>
<path d="M689.3 2095.3l4.9 -5.3l-6.2 -3.5l-4.9 5.1z" fill="#f6d8d8" stroke="#f6d8d8" stroke-width="0.7"/>
<path d="M847.9 2098.8l4 -2.5l-7.9 -6.2l-4 2.3zM843.8 2101.4l4.1 -2.6l-7.9 -6.4l-4 2.2zM685.2 2107l5.2 -3.6l-6.2 -4l-5.3 3.4z" fill="#fceaea" stroke="#fceaea" stroke-width="0.7"/>
<path d="M836 2094.6l4 -2.2l-7.6 -7.3l-4.1 1.9z" fill="#fcd8d8" stroke="#fcd8d8" stroke-width="0.7"/>
<path d="M736.1 2065.9l4.7 -5.1l-6.8 -4.6l-4.7 5.4zM759.7 2068.8l4.7 -3.8l-7.2 -7.3l-4.7 4.3z" fill="#f09096" stroke="#f09096" stroke-width="0.7"/>
<path d="M824.1 2089.1l4.2 -2.1l-7.6 -7.6l-4.2 1.9z" fill="#f6c6c6" stroke="#f6c6c6" stroke-width="0.7"/>
<path d="M752.5 2062l4.7 -4.3l-7 -6.6l-4.7 4.8z" fill="#f08a8a" stroke="#f08a8a" stroke-width="0.7"/>
<path d="M860.1 2101.2l3.9 -2.6l-8.1 -4.8l-4 2.5zM856.1 2103.9l4 -2.7l-8.2 -4.9l-4 2.5zM673.6 2106.3l5.3 -3.5l-6.1 -4.1l-5.4 3.2zM852 2106.7l4.1 -2.8l-8.2 -5.1l-4.1 2.6z" fill="#fcf6f6" stroke="#fcf6f6" stroke-width="0.7"/>
<path d="M812.2 2083.7l4.3 -2.4l-7.5 -7.4l-4.3 2.3zM807.9 2086.3l4.3 -2.6l-7.5 -7.5l-4.4 2.5zM803.4 2089l4.5 -2.7l-7.6 -7.6l-4.5 2.7z" fill="#f6b4ba" stroke="#f6b4ba" stroke-width="0.7"/>
<path d="M710.1 2081.7l4.9 -5.1l-6.5 -3.3l-4.8 5z" fill="#f0aeb4" stroke="#f0aeb4" stroke-width="0.7"/>
<path d="M800.3 2078.7l4.4 -2.5l-7.5 -7.3l-4.4 2.4zM795.8 2081.4l4.5 -2.7l-7.5 -7.4l-4.5 2.6zM791.3 2084.2l4.5 -2.8l-7.5 -7.5l-4.5 2.8z" fill="#f6a8ae" stroke="#f6a8ae" stroke-width="0.7"/>
<path d="M731.3 2071l4.8 -5.1l-6.8 -4.3l-4.7 5.2zM771.7 2072.4l4.7 -3.2l-7.3 -7.7l-4.7 3.5z" fill="#f0969c" stroke="#f0969c" stroke-width="0.7"/>
<path d="M788.3 2073.9l4.5 -2.6l-7.3 -7.6l-4.5 2.6zM726.5 2075.8l4.8 -4.8l-6.7 -4.2l-4.8 5z" fill="#f0a2a2" stroke="#f0a2a2" stroke-width="0.7"/>
<path d="M764.4 2065l4.7 -3.5l-7.2 -7.7l-4.7 3.9zM747.8 2066.5l4.7 -4.5l-7 -6.1l-4.7 4.9z" fill="#f09090" stroke="#f09090" stroke-width="0.7"/>
<path d="M684.2 2099.4l5.1 -4.1l-6.2 -3.7l-5.1 3.9zM839.7 2104l4.1 -2.6l-7.8 -6.8l-4.2 2.5zM690.4 2103.4l5.1 -4.3l-6.2 -3.8l-5.1 4.1zM835.5 2106.8l4.2 -2.8l-7.9 -6.9l-4.2 2.6z" fill="#fce4e4" stroke="#fce4e4" stroke-width="0.7"/>
<path d="M705.3 2087.5l4.8 -5.8l-6.4 -3.4l-4.8 5.8zM711.9 2091.6l4.8 -5.8l-6.6 -4.1l-4.8 5.8z" fill="#f0baba" stroke="#f0baba" stroke-width="0.7"/>
<path d="M831.8 2097.1l4.2 -2.5l-7.7 -7.6l-4.2 2.1z" fill="#fcd2d8" stroke="#fcd2d8" stroke-width="0.7"/>
<path d="M700.5 2093.6l4.8 -6.1l-6.4 -3.4l-4.7 5.9zM707 2097.7l4.9 -6.1l-6.6 -4.1l-4.8 6.1z" fill="#f0c6c6" stroke="#f0c6c6" stroke-width="0.7"/>
<path d="M819.8 2091.6l4.3 -2.5l-7.6 -7.8l-4.3 2.4zM815.5 2094.3l4.3 -2.7l-7.6 -7.9l-4.3 2.6z" fill="#f6c0c6" stroke="#f6c0c6" stroke-width="0.7"/>
<path d="M678.9 2102.8l5.3 -3.4l-6.2 -3.9l-5.2 3.2z" fill="#fcf0f0" stroke="#fcf0f0" stroke-width="0.7"/>
<path d="M783.8 2076.7l4.5 -2.8l-7.3 -7.6l-4.6 2.9zM779.2 2079.7l4.6 -3l-7.4 -7.5l-4.7 3.2z" fill="#f6a2a2" stroke="#f6a2a2" stroke-width="0.7"/>
<path d="M695.5 2099.1l5 -5.5l-6.3 -3.6l-4.9 5.3z" fill="#f6d2d8" stroke="#f6d2d8" stroke-width="0.7"/>
<path d="M738.3 2076.1l4.8 -4.8l-7 -5.4l-4.8 5.1zM767 2075.9l4.7 -3.5l-7.3 -7.4l-4.7 3.8zM750.2 2077.4l4.8 -4.4l-7.2 -6.5l-4.7 4.8z" fill="#f09c9c" stroke="#f09c9c" stroke-width="0.7"/>
<path d="M716.7 2085.8l4.9 -5.1l-6.6 -4.1l-4.9 5.1z" fill="#f0aeae" stroke="#f0aeae" stroke-width="0.7"/>
<path d="M827.6 2099.7l4.2 -2.6l-7.7 -8l-4.3 2.5zM823.3 2102.4l4.3 -2.7l-7.8 -8.1l-4.3 2.7z" fill="#fcd2d2" stroke="#fcd2d2" stroke-width="0.7"/>
<path d="M733.4 2080.9l4.9 -4.8l-7 -5.1l-4.8 4.8z" fill="#f0a2a8" stroke="#f0a2a8" stroke-width="0.7"/>
<path d="M762.3 2079.8l4.7 -3.9l-7.3 -7.1l-4.7 4.2z" fill="#f09ca2" stroke="#f09ca2" stroke-width="0.7"/>
<path d="M728.5 2085.8l4.9 -4.9l-6.9 -5.1l-4.9 4.9z" fill="#f0a8ae" stroke="#f0a8ae" stroke-width="0.7"/>
<path d="M773.7 2058.4L766.5 2050.4M880.1 2097.5L871.7 2093.4M683.1 2091.6L688 2086.5M851.9 2096.3L844 2090.1M816.5 2081.3L820.7 2079.4M745.5 2055.9L750.2 2051.1M851.9 2096.3L855.9 2093.8M816.5 2081.3L809 2073.9M781 2066.3L785.5 2063.7M781 2066.3L773.7 2058.4M678 2095.5L683.1 2091.6M689.3 2095.3L683.1 2091.6M740.8 2060.8L745.5 2055.9M752.5 2062L745.5 2055.9M710.1 2081.7L703.7 2078.3M731.3 2071L724.6 2066.8M812.2 2083.7L816.5 2081.3M824.1 2089.1L816.5 2081.3M847.9 2098.8L851.9 2096.3M860.1 2101.2L851.9 2096.3M736.1 2065.9L740.8 2060.8M885 2104.4L888.8 2101.7M888.8 2101.7L880.1 2097.5M672.8 2098.7L678 2095.5M776.4 2069.2L781 2066.3M788.3 2073.9L781 2066.3M731.3 2071L736.1 2065.9M759.7 2068.8L752.5 2062M831.8 2097.1L824.1 2089.1M695.5 2099.1L689.3 2095.3M807.9 2086.3L812.2 2083.7M667.4 2101.9L672.8 2098.7M673.6 2106.3L667.4 2101.9M843.8 2101.4L847.9 2098.8M771.7 2072.4L776.4 2069.2M881.2 2107.1L885 2104.4M795.8 2081.4L788.3 2073.9M726.5 2075.8L731.3 2071M738.3 2076.1L731.3 2071M716.7 2085.8L710.1 2081.7M868.6 2105.5L860.1 2101.2M767 2075.9L759.7 2068.8M721.6 2080.7L726.5 2075.8M839.7 2104L831.8 2097.1" stroke="#333" stroke-width="0.9" fill="none" stroke-linecap="round"/>
<path d="M745.4 2082l4.8 -4.6l-7.1 -6.1l-4.8 4.8zM757.5 2084l4.8 -4.2l-7.3 -6.8l-4.8 4.4z" fill="#f0a2a2" stroke="#f0a2a2" stroke-width="0.7"/>
<path d="M774.5 2083.1l4.7 -3.4l-7.5 -7.3l-4.7 3.5z" fill="#f6a2a8" stroke="#f6a2a8" stroke-width="0.7"/>
<path d="M811.1 2097.1l4.4 -2.8l-7.6 -8l-4.5 2.7z" fill="#f6c0c6" stroke="#f6c0c6" stroke-width="0.7"/>
<path d="M702 2103.3l5 -5.6l-6.5 -4.1l-5 5.5z" fill="#f6d2d2" stroke="#f6d2d2" stroke-width="0.7"/>
<path d="M847.9 2109.4l4.1 -2.7l-8.2 -5.3l-4.1 2.6zM679.8 2110.7l5.4 -3.7l-6.3 -4.2l-5.3 3.5zM843.7 2112.2l4.2 -2.8l-8.2 -5.4l-4.2 2.8zM839.5 2115.1l4.2 -2.9l-8.2 -5.4l-4.3 2.8zM686.2 2115.3l5.4 -3.9l-6.4 -4.4l-5.4 3.7zM835.1 2118l4.4 -2.9l-8.3 -5.5l-4.3 2.8z" fill="#fcf6f6" stroke="#fcf6f6" stroke-width="0.7"/>
<path d="M798.9 2091.8l4.5 -2.8l-7.6 -7.6l-4.5 2.8zM730.6 2096.7l5 -5.1l-7.1 -5.8l-4.9 5.1zM772.5 2098.9l4.8 -4.4l-7.6 -7.5l-4.8 4.2zM755.2 2100.1l4.9 -4.5l-7.4 -7.1l-4.9 4.6z" fill="#f6b4ba" stroke="#f6b4ba" stroke-width="0.7"/>
<path d="M786.7 2087.2l4.6 -3l-7.5 -7.5l-4.6 3zM782 2090.5l4.7 -3.3l-7.5 -7.5l-4.7 3.4zM735.6 2091.6l4.9 -4.9l-7.1 -5.8l-4.9 4.9zM764.9 2091.2l4.8 -4.2l-7.4 -7.2l-4.8 4.2zM747.8 2093.1l4.9 -4.6l-7.3 -6.5l-4.9 4.7z" fill="#f6aeae" stroke="#f6aeae" stroke-width="0.7"/>
<path d="M877.3 2109.9l3.9 -2.8l-8.7 -4.3l-3.9 2.7zM860.5 2111l4.1 -2.7l-8.5 -4.4l-4.1 2.8zM873.3 2112.7l4 -2.8l-8.7 -4.4l-4 2.8zM856.4 2113.9l4.1 -2.9l-8.5 -4.3l-4.1 2.7zM869.3 2115.5l4 -2.8l-8.7 -4.4l-4.1 2.7zM852.3 2116.8l4.1 -2.9l-8.5 -4.5l-4.2 2.8zM865.2 2118.4l4.1 -2.9l-8.8 -4.5l-4.1 2.9z" fill="#fcfcfc" stroke="#fcfcfc" stroke-width="0.7"/>
<path d="M723.6 2090.9l4.9 -5.1l-6.9 -5.1l-4.9 5.1z" fill="#f0b4b4" stroke="#f0b4b4" stroke-width="0.7"/>
<path d="M740.5 2086.7l4.9 -4.7l-7.1 -5.9l-4.9 4.8zM752.7 2088.5l4.8 -4.5l-7.3 -6.6l-4.8 4.6z" fill="#f0a8a8" stroke="#f0a8a8" stroke-width="0.7"/>
<path d="M696.9 2107.6l5.1 -4.3l-6.5 -4.2l-5.1 4.3zM831.2 2109.6l4.3 -2.8l-7.9 -7.1l-4.3 2.7zM826.9 2112.4l4.3 -2.8l-7.9 -7.2l-4.4 2.8zM703.5 2112.3l5.2 -4.3l-6.7 -4.7l-5.1 4.3zM822.5 2115.3l4.4 -2.9l-8 -7.2l-4.4 2.9z" fill="#fce4e4" stroke="#fce4e4" stroke-width="0.7"/>
<path d="M769.7 2087l4.8 -3.9l-7.5 -7.2l-4.7 3.9z" fill="#f6a8a8" stroke="#f6a8a8" stroke-width="0.7"/>
<path d="M718.7 2096.6l4.9 -5.7l-6.9 -5.1l-4.8 5.8z" fill="#f0baba" stroke="#f0baba" stroke-width="0.7"/>
<path d="M818.9 2105.2l4.4 -2.8l-7.8 -8.1l-4.4 2.8zM814.5 2108.1l4.4 -2.9l-7.8 -8.1l-4.5 2.8z" fill="#fcd2d2" stroke="#fcd2d2" stroke-width="0.7"/>
<path d="M806.6 2099.9l4.5 -2.8l-7.7 -8.1l-4.5 2.8zM713.7 2102.6l5 -6l-6.8 -5l-4.9 6.1zM802.1 2102.8l4.5 -2.9l-7.7 -8.1l-4.6 3zM797.5 2106l4.6 -3.2l-7.8 -8l-4.6 3.3z" fill="#f6c6c6" stroke="#f6c6c6" stroke-width="0.7"/>
<path d="M794.3 2094.8l4.6 -3l-7.6 -7.6l-4.6 3zM789.7 2098.1l4.6 -3.3l-7.6 -7.6l-4.7 3.3zM767.6 2103.3l4.9 -4.4l-7.6 -7.7l-4.8 4.4z" fill="#f6baba" stroke="#f6baba" stroke-width="0.7"/>
<path d="M691.6 2111.4l5.3 -3.8l-6.5 -4.2l-5.2 3.6zM698.2 2116.1l5.3 -3.8l-6.6 -4.7l-5.3 3.8z" fill="#fceaea" stroke="#fceaea" stroke-width="0.7"/>
<path d="M708.7 2108l5 -5.4l-6.7 -4.9l-5 5.6z" fill="#f6d2d8" stroke="#f6d2d8" stroke-width="0.7"/>
<path d="M777.3 2094.5l4.7 -4l-7.5 -7.4l-4.8 3.9zM760.1 2095.6l4.8 -4.4l-7.4 -7.2l-4.8 4.5z" fill="#f6aeb4" stroke="#f6aeb4" stroke-width="0.7"/>
<path d="M725.7 2102.2l4.9 -5.5l-7 -5.8l-4.9 5.7z" fill="#f6c0c0" stroke="#f6c0c0" stroke-width="0.7"/>
<path d="M742.8 2097.9l5 -4.8l-7.3 -6.4l-4.9 4.9z" fill="#f6b4b4" stroke="#f6b4b4" stroke-width="0.7"/>
<path d="M720.7 2107.9l5 -5.7l-7 -5.6l-5 6z" fill="#f6cccc" stroke="#f6cccc" stroke-width="0.7"/>
<path d="M785 2102.1l4.7 -4l-7.7 -7.6l-4.7 4zM737.9 2102.8l4.9 -4.9l-7.2 -6.3l-5 5.1z" fill="#f6bac0" stroke="#f6bac0" stroke-width="0.7"/>
<path d="M809.9 2111l4.6 -2.9l-7.9 -8.2l-4.5 2.9z" fill="#fcd2d8" stroke="#fcd2d8" stroke-width="0.7"/>
<path d="M715.6 2113.1l5.1 -5.2l-7 -5.3l-5 5.4z" fill="#f6d8d8" stroke="#f6d8d8" stroke-width="0.7"/>
<path d="M767 2075.9L771.7 2072.4M803.4 2089L807.9 2086.3M839.7 2104L843.8 2101.4M803.4 2089L795.8 2081.4M877.3 2109.9L881.2 2107.1M716.7 2085.8L721.6 2080.7M745.4 2082L738.3 2076.1M679.8 2110.7L673.6 2106.3M702 2103.3L695.5 2099.1M762.3 2079.8L767 2075.9M774.5 2083.1L767 2075.9M711.9 2091.6L716.7 2085.8M723.6 2090.9L716.7 2085.8M798.9 2091.8L803.4 2089M811.1 2097.1L803.4 2089M835.5 2106.8L839.7 2104M847.9 2109.4L839.7 2104M873.3 2112.7L877.3 2109.9M877.3 2109.9L868.6 2105.5M707 2097.7L711.9 2091.6M757.5 2084L762.3 2079.8M702 2103.3L707 2097.7M752.7 2088.5L745.4 2082M782 2090.5L774.5 2083.1M818.9 2105.2L811.1 2097.1M794.3 2094.8L798.9 2091.8M831.2 2109.6L835.5 2106.8M869.3 2115.5L873.3 2112.7M730.6 2096.7L723.6 2090.9M752.7 2088.5L757.5 2084M696.9 2107.6L702 2103.3M708.7 2108L702 2103.3M686.2 2115.3L679.8 2110.7M856.4 2113.9L847.9 2109.4M789.7 2098.1L782 2090.5M826.9 2112.4L818.9 2105.2M747.8 2093.1L752.7 2088.5M760.1 2095.6L752.7 2088.5M789.7 2098.1L794.3 2094.8M691.6 2111.4L696.9 2107.6M826.9 2112.4L831.2 2109.6M865.2 2118.4L869.3 2115.5" stroke="#333" stroke-width="0.9" fill="none" stroke-linecap="round"/>
<path d="M732.8 2108.1l5.1 -5.3l-7.3 -6.1l-4.9 5.5zM745.2 2109.5l5 -4.7l-7.4 -6.9l-4.9 4.9zM775.3 2110.8l4.9 -4.4l-7.7 -7.5l-4.9 4.4zM757.8 2112.1l4.9 -4.4l-7.5 -7.6l-5 4.7z" fill="#f6c6c6" stroke="#f6c6c6" stroke-width="0.7"/>
<path d="M780.2 2106.4l4.8 -4.3l-7.7 -7.6l-4.8 4.4zM762.7 2107.7l4.9 -4.4l-7.5 -7.7l-4.9 4.5z" fill="#f6c0c0" stroke="#f6c0c0" stroke-width="0.7"/>
<path d="M750.2 2104.8l5 -4.7l-7.4 -7l-5 4.8z" fill="#f6bac0" stroke="#f6bac0" stroke-width="0.7"/>
<path d="M848 2119.7l4.3 -2.9l-8.6 -4.6l-4.2 2.9zM861 2121.4l4.2 -3l-8.8 -4.5l-4.1 2.9zM843.7 2122.7l4.3 -3l-8.5 -4.6l-4.4 2.9zM856.8 2124.4l4.2 -3l-8.7 -4.6l-4.3 2.9zM839.3 2125.7l4.4 -3l-8.6 -4.7l-4.3 3zM852.5 2127.5l4.3 -3.1l-8.8 -4.7l-4.3 3zM834.9 2128.8l4.4 -3.1l-8.5 -4.7l-4.5 3z" fill="#fcfcfc" stroke="#fcfcfc" stroke-width="0.7"/>
<path d="M710.4 2117.3l5.2 -4.2l-6.9 -5.1l-5.2 4.3zM818 2118.2l4.5 -2.9l-8 -7.2l-4.6 2.9zM729.9 2123.7l5.2 -4.5l-7.3 -5.7l-5.1 4.9z" fill="#fce4e4" stroke="#fce4e4" stroke-width="0.7"/>
<path d="M792.8 2109.7l4.7 -3.7l-7.8 -7.9l-4.7 4z" fill="#f6c6cc" stroke="#f6c6cc" stroke-width="0.7"/>
<path d="M805.4 2114.1l4.5 -3.1l-7.8 -8.2l-4.6 3.2zM800.7 2117.4l4.7 -3.3l-7.9 -8.1l-4.7 3.7zM778.2 2121.7l4.9 -3.9l-7.8 -7l-4.9 4.2z" fill="#fcd8d8" stroke="#fcd8d8" stroke-width="0.7"/>
<path d="M692.8 2119.9l5.4 -3.8l-6.6 -4.7l-5.4 3.9zM830.8 2121l4.3 -3l-8.2 -5.6l-4.4 2.9zM826.3 2124l4.5 -3l-8.3 -5.7l-4.5 2.9zM699.6 2124.7l5.4 -3.7l-6.8 -4.9l-5.4 3.8zM821.7 2127l4.6 -3l-8.3 -5.8l-4.6 3.1zM706.5 2129.7l5.5 -3.7l-7 -5l-5.4 3.7z" fill="#fcf6f6" stroke="#fcf6f6" stroke-width="0.7"/>
<path d="M727.8 2113.5l5 -5.4l-7.1 -5.9l-5 5.7zM783.1 2117.8l4.9 -4l-7.8 -7.4l-4.9 4.4zM765.5 2119.1l4.9 -4.1l-7.7 -7.3l-4.9 4.4z" fill="#f6d2d2" stroke="#f6d2d2" stroke-width="0.7"/>
<path d="M788 2113.8l4.8 -4.1l-7.8 -7.6l-4.8 4.3zM740.2 2114.3l5 -4.8l-7.3 -6.7l-5.1 5.3zM770.4 2115l4.9 -4.2l-7.7 -7.5l-4.9 4.4z" fill="#f6cccc" stroke="#f6cccc" stroke-width="0.7"/>
<path d="M705 2121l5.4 -3.7l-6.9 -5l-5.3 3.8zM712 2126l5.4 -3.6l-7 -5.1l-5.4 3.7z" fill="#fcf0f0" stroke="#fcf0f0" stroke-width="0.7"/>
<path d="M722.7 2118.4l5.1 -4.9l-7.1 -5.6l-5.1 5.2z" fill="#f6dede" stroke="#f6dede" stroke-width="0.7"/>
<path d="M813.4 2121.3l4.6 -3.1l-8.1 -7.2l-4.5 3.1z" fill="#fce4ea" stroke="#fce4ea" stroke-width="0.7"/>
<path d="M717.4 2122.4l5.3 -4l-7.1 -5.3l-5.2 4.2zM808.8 2124.4l4.6 -3.1l-8 -7.2l-4.7 3.3zM804.1 2127.6l4.7 -3.2l-8.1 -7l-4.8 3.6zM724.6 2127.6l5.3 -3.9l-7.2 -5.3l-5.3 4z" fill="#fceaea" stroke="#fceaea" stroke-width="0.7"/>
<path d="M752.8 2116.5l5 -4.4l-7.6 -7.3l-5 4.7z" fill="#f6ccd2" stroke="#f6ccd2" stroke-width="0.7"/>
<path d="M735.1 2119.2l5.1 -4.9l-7.4 -6.2l-5 5.4zM747.7 2120.8l5.1 -4.3l-7.6 -7l-5 4.8z" fill="#f6d8d8" stroke="#f6d8d8" stroke-width="0.7"/>
<path d="M795.9 2121l4.8 -3.6l-7.9 -7.7l-4.8 4.1zM791.1 2124.5l4.8 -3.5l-7.9 -7.2l-4.9 4zM742.5 2125.1l5.2 -4.3l-7.5 -6.5l-5.1 4.9zM773.3 2125.5l4.9 -3.8l-7.8 -6.7l-4.9 4.1z" fill="#fcdede" stroke="#fcdede" stroke-width="0.7"/>
<path d="M760.4 2123.2l5.1 -4.1l-7.7 -7l-5 4.4z" fill="#fcd8de" stroke="#fcd8de" stroke-width="0.7"/>
<path d="M737.9 2102.8L730.6 2096.7M742.8 2097.9L747.8 2093.1M715.6 2113.1L708.7 2108M785 2102.1L789.7 2098.1M797.5 2106L789.7 2098.1M686.2 2115.3L691.6 2111.4M692.8 2119.9L686.2 2115.3M767.6 2103.3L760.1 2095.6M822.5 2115.3L826.9 2112.4M835.1 2118L826.9 2112.4M737.9 2102.8L742.8 2097.9M861 2121.4L865.2 2118.4M865.2 2118.4L856.4 2113.9M780.2 2106.4L785 2102.1M805.4 2114.1L797.5 2106M732.8 2108.1L737.9 2102.8M745.2 2109.5L737.9 2102.8M775.3 2110.8L767.6 2103.3M818 2118.2L822.5 2115.3M856.8 2124.4L861 2121.4M722.7 2118.4L715.6 2113.1M775.3 2110.8L780.2 2106.4M727.8 2113.5L732.8 2108.1M699.6 2124.7L692.8 2119.9M843.7 2122.7L835.1 2118M813.4 2121.3L805.4 2114.1M752.8 2116.5L745.2 2109.5M722.7 2118.4L727.8 2113.5M770.4 2115L775.3 2110.8M783.1 2117.8L775.3 2110.8M813.4 2121.3L818 2118.2M852.5 2127.5L856.8 2124.4M717.4 2122.4L722.7 2118.4M729.9 2123.7L722.7 2118.4M765.5 2119.1L770.4 2115M706.5 2129.7L699.6 2124.7" stroke="#333" stroke-width="0.9" fill="none" stroke-linecap="round"/>
<path d="M817.1 2130.1l4.6 -3.1l-8.3 -5.7l-4.6 3.1zM812.4 2133.3l4.7 -3.2l-8.3 -5.7l-4.7 3.2zM713.7 2134.7l5.5 -3.6l-7.2 -5.1l-5.5 3.7zM807.7 2136.5l4.7 -3.2l-8.3 -5.7l-4.8 3.3zM726.5 2136.4l5.4 -3.5l-7.3 -5.3l-5.4 3.5zM739.5 2138.3l5.4 -3.6l-7.6 -5.5l-5.4 3.7zM802.8 2139.8l4.9 -3.3l-8.4 -5.6l-4.9 3.3zM784.4 2140.9l5.1 -3.4l-8.2 -5.9l-5.1 3.6z" fill="#fcf6f6" stroke="#fcf6f6" stroke-width="0.7"/>
<path d="M848.1 2130.6l4.4 -3.1l-8.8 -4.8l-4.4 3zM830.3 2131.9l4.6 -3.1l-8.6 -4.8l-4.6 3zM843.7 2133.8l4.4 -3.2l-8.8 -4.9l-4.4 3.1zM825.7 2135.1l4.6 -3.2l-8.6 -4.9l-4.6 3.1zM839.2 2137l4.5 -3.2l-8.8 -5l-4.6 3.1zM821.1 2138.4l4.6 -3.3l-8.6 -5l-4.7 3.2zM721 2139.9l5.5 -3.5l-7.3 -5.3l-5.5 3.6zM834.6 2140.3l4.6 -3.3l-8.9 -5.1l-4.6 3.2z" fill="#fcfcfc" stroke="#fcfcfc" stroke-width="0.7"/>
<path d="M755.3 2127.1l5.1 -3.9l-7.6 -6.7l-5.1 4.3z" fill="#fcdee4" stroke="#fcdee4" stroke-width="0.7"/>
<path d="M786.2 2128.1l4.9 -3.6l-8 -6.7l-4.9 3.9zM768.2 2129.3l5.1 -3.8l-7.8 -6.4l-5.1 4.1z" fill="#fce4e4" stroke="#fce4e4" stroke-width="0.7"/>
<path d="M737.3 2129.2l5.2 -4.1l-7.4 -5.9l-5.2 4.5zM750.1 2131l5.2 -3.9l-7.6 -6.3l-5.2 4.3zM781.3 2131.6l4.9 -3.5l-8 -6.4l-4.9 3.8zM763.1 2133l5.1 -3.7l-7.8 -6.1l-5.1 3.9z" fill="#fceaea" stroke="#fceaea" stroke-width="0.7"/>
<path d="M719.2 2131.1l5.4 -3.5l-7.2 -5.2l-5.4 3.6zM731.9 2132.9l5.4 -3.7l-7.4 -5.5l-5.3 3.9zM794.4 2134.2l4.9 -3.3l-8.2 -6.4l-4.9 3.6zM744.9 2134.7l5.2 -3.7l-7.6 -5.9l-5.2 4.1zM757.9 2136.6l5.2 -3.6l-7.8 -5.9l-5.2 3.9zM789.5 2137.5l4.9 -3.3l-8.2 -6.1l-4.9 3.5zM771.1 2138.7l5.1 -3.5l-8 -5.9l-5.1 3.7z" fill="#fcf0f0" stroke="#fcf0f0" stroke-width="0.7"/>
<path d="M799.3 2130.9l4.8 -3.3l-8.2 -6.6l-4.8 3.5zM776.2 2135.2l5.1 -3.6l-8 -6.1l-5.1 3.8z" fill="#fceaf0" stroke="#fceaf0" stroke-width="0.7"/>
<path d="M752.6 2140.2l5.3 -3.6l-7.8 -5.6l-5.2 3.7z" fill="#fcf0f6" stroke="#fcf0f6" stroke-width="0.7"/>
<path d="M808.8 2124.4L813.4 2121.3M821.7 2127L813.4 2121.3M848.1 2130.6L852.5 2127.5M852.5 2127.5L843.7 2122.7M760.4 2123.2L752.8 2116.5M791.1 2124.5L783.1 2117.8M712 2126L717.4 2122.4M760.4 2123.2L765.5 2119.1M804.1 2127.6L808.8 2124.4M843.7 2133.8L848.1 2130.6M737.3 2129.2L729.9 2123.7M706.5 2129.7L712 2126M713.7 2134.7L706.5 2129.7M755.3 2127.1L760.4 2123.2M768.2 2129.3L760.4 2123.2M830.3 2131.9L821.7 2127M799.3 2130.9L791.1 2124.5M799.3 2130.9L804.1 2127.6M839.2 2137L843.7 2133.8M750.1 2131L755.3 2127.1M744.9 2134.7L737.3 2129.2M776.2 2135.2L768.2 2129.3M794.4 2134.2L799.3 2130.9M807.7 2136.5L799.3 2130.9M721 2139.9L713.7 2134.7M834.6 2140.3L839.2 2137M839.2 2137L830.3 2131.9M744.9 2134.7L750.1 2131" stroke="#333" stroke-width="0.9" fill="none" stroke-linecap="round"/>
<path d="M816.3 2141.7l4.8 -3.3l-8.7 -5.1l-4.7 3.2zM797.9 2143.1l4.9 -3.3l-8.4 -5.6l-4.9 3.3zM829.9 2143.7l4.7 -3.4l-8.9 -5.2l-4.6 3.3zM811.4 2145.1l4.9 -3.4l-8.6 -5.2l-4.9 3.3zM728.5 2145.2l5.5 -3.5l-7.5 -5.3l-5.5 3.5zM792.8 2146.5l5.1 -3.4l-8.4 -5.6l-5.1 3.4zM825.2 2147.1l4.7 -3.4l-8.8 -5.3l-4.8 3.3zM741.8 2147.2l5.5 -3.5l-7.8 -5.4l-5.5 3.4zM806.5 2148.5l4.9 -3.4l-8.6 -5.3l-4.9 3.3zM755.2 2149.2l5.4 -3.5l-8 -5.5l-5.3 3.5zM787.7 2150l5.1 -3.5l-8.4 -5.6l-5.1 3.5zM820.3 2150.6l4.9 -3.5l-8.9 -5.4l-4.9 3.4zM736.2 2150.7l5.6 -3.5l-7.8 -5.5l-5.5 3.5zM768.8 2151.3l5.3 -3.5l-8.2 -5.6l-5.3 3.5zM801.5 2152l5 -3.5l-8.6 -5.4l-5.1 3.4zM749.7 2152.8l5.5 -3.6l-7.9 -5.5l-5.5 3.5zM782.5 2153.5l5.2 -3.5l-8.4 -5.6l-5.2 3.4z" fill="#fcfcfc" stroke="#fcfcfc" stroke-width="0.7"/>
<path d="M734 2141.7l5.5 -3.4l-7.6 -5.4l-5.4 3.5zM765.9 2142.2l5.2 -3.5l-8 -5.7l-5.2 3.6zM747.3 2143.7l5.3 -3.5l-7.7 -5.5l-5.4 3.6zM779.3 2144.4l5.1 -3.5l-8.2 -5.7l-5.1 3.5zM760.6 2145.7l5.3 -3.5l-8 -5.6l-5.3 3.6zM774.1 2147.8l5.2 -3.4l-8.2 -5.7l-5.2 3.5z" fill="#fcf6f6" stroke="#fcf6f6" stroke-width="0.7"/>
<path d="M789.5 2137.5L794.4 2134.2M829.9 2143.7L834.6 2140.3M739.5 2138.3L744.9 2134.7M752.6 2140.2L744.9 2134.7M784.4 2140.9L776.2 2135.2M816.3 2141.7L807.7 2136.5M728.5 2145.2L721 2139.9M784.4 2140.9L789.5 2137.5M825.2 2147.1L829.9 2143.7M734 2141.7L739.5 2138.3M760.6 2145.7L752.6 2140.2M779.3 2144.4L784.4 2140.9M792.8 2146.5L784.4 2140.9M820.3 2150.6L825.2 2147.1M825.2 2147.1L816.3 2141.7M728.5 2145.2L734 2141.7M736.2 2150.7L728.5 2145.2M774.1 2147.8L779.3 2144.4" stroke="#333" stroke-width="0.9" fill="none" stroke-linecap="round"/>
<path d="M815.4 2154.1l4.9 -3.5l-8.9 -5.5l-4.9 3.4zM763.4 2154.9l5.4 -3.6l-8.2 -5.6l-5.4 3.5zM796.4 2155.6l5.1 -3.6l-8.7 -5.5l-5.1 3.5zM744.2 2156.3l5.5 -3.5l-7.9 -5.6l-5.6 3.5zM777.2 2157l5.3 -3.5l-8.4 -5.7l-5.3 3.5zM810.4 2157.7l5 -3.6l-8.9 -5.6l-5 3.5zM757.9 2158.5l5.5 -3.6l-8.2 -5.7l-5.5 3.6zM791.2 2159.2l5.2 -3.6l-8.7 -5.6l-5.2 3.5zM771.8 2160.7l5.4 -3.7l-8.4 -5.7l-5.4 3.6zM805.3 2161.3l5.1 -3.6l-8.9 -5.7l-5.1 3.6zM752.3 2162.1l5.6 -3.6l-8.2 -5.7l-5.5 3.5zM785.9 2162.8l5.3 -3.6l-8.7 -5.7l-5.3 3.5zM766.3 2164.3l5.5 -3.6l-8.4 -5.8l-5.5 3.6zM800.1 2165l5.2 -3.7l-8.9 -5.7l-5.2 3.6zM780.5 2166.6l5.4 -3.8l-8.7 -5.8l-5.4 3.7z" fill="#fcfcfc" stroke="#fcfcfc" stroke-width="0.7"/>
<path d="M815.4 2154.1L820.3 2150.6M768.8 2151.3L760.6 2145.7M801.5 2152L792.8 2146.5M744.2 2156.3L736.2 2150.7M768.8 2151.3L774.1 2147.8M810.4 2157.7L815.4 2154.1M763.4 2154.9L768.8 2151.3M777.2 2157L768.8 2151.3M805.3 2161.3L810.4 2157.7M810.4 2157.7L801.5 2152M752.3 2162.1L744.2 2156.3M757.9 2158.5L763.4 2154.9M800.1 2165L805.3 2161.3M785.9 2162.8L777.2 2157" stroke="#333" stroke-width="0.9" fill="none" stroke-linecap="round"/>
<path d="M760.7 2168.1l5.6 -3.8l-8.4 -5.8l-5.6 3.6zM794.8 2168.8l5.3 -3.8l-8.9 -5.8l-5.3 3.6zM775 2170.4l5.5 -3.8l-8.7 -5.9l-5.5 3.6zM789.4 2172.7l5.4 -3.9l-8.9 -6l-5.4 3.8zM769.4 2174.3l5.6 -3.9l-8.7 -6.1l-5.6 3.8zM783.9 2176.6l5.5 -3.9l-8.9 -6.1l-5.5 3.8zM778.3 2180.6l5.6 -4l-8.9 -6.2l-5.6 3.9z" fill="#fcfcfc" stroke="#fcfcfc" stroke-width="0.7"/>
<path d="M752.3 2162.1L757.9 2158.5M760.7 2168.1L752.3 2162.1M794.8 2168.8L800.1 2165M789.4 2172.7L794.8 2168.8M794.8 2168.8L785.9 2162.8M769.4 2174.3L760.7 2168.1M783.9 2176.6L789.4 2172.7M778.3 2180.6L783.9 2176.6M778.3 2180.6L769.4 2174.3" stroke="#333" stroke-width="0.9" fill="none" stroke-linecap="round"/>
<path d="M654.7,2024.1L676.7,2158.3M676.7,2158.3L778.2,2240.4M778.2,2240.4L879.4,2158.1M879.4,2158.1L901.7,2024.1" stroke="#505050" stroke-width="1" fill="none"/>
<path d="M657.8,2043l-6.6,2.5M662.8,2073.7l-6.6,2.5M667.4,2101.9l-6.6,2.5M671.7,2128l-6.6,2.5M675.7,2152.1l-6.6,2.5M778.2,2240.4l-5.4,4.4M754.7,2221.4l-5.4,4.4M733,2203.9l-5.4,4.4M712.9,2187.6l-5.4,4.4M694.2,2172.5l-5.4,4.4M676.7,2158.3l-5.4,4.4M778.2,2240.4l5.4,4.4M793,2228.3l5.4,4.4M807.2,2216.8l5.4,4.4M820.6,2205.9l5.4,4.4M833.5,2195.4l5.4,4.4M845.7,2185.4l5.4,4.4M857.4,2175.9l5.4,4.4M868.7,2166.8l5.4,4.4M879.4,2158.1l5.4,4.4" stroke="#505050" stroke-width="0.9" fill="none"/>
<text x="648.4" y="2050.5" font-size="11.6" text-anchor="end" fill="#333333">40</text>
<text x="653.5" y="2081.2" font-size="11.6" text-anchor="end" fill="#333333">20</text>
<text x="658.1" y="2109.5" font-size="11.6" text-anchor="end" fill="#333333">0</text>
<text x="662.3" y="2135.5" font-size="11.6" text-anchor="end" fill="#333333">-20</text>
<text x="666.3" y="2159.6" font-size="11.6" text-anchor="end" fill="#333333">-40</text>
<text x="770.4" y="2251.7" font-size="11.6" text-anchor="end" fill="#333333">0</text>
<text x="747" y="2232.8" font-size="11.6" text-anchor="end" fill="#333333">0.5</text>
<text x="725.3" y="2215.2" font-size="11.6" text-anchor="end" fill="#333333">1</text>
<text x="705.1" y="2198.9" font-size="11.6" text-anchor="end" fill="#333333">2</text>
<text x="686.4" y="2183.8" font-size="11.6" text-anchor="end" fill="#333333">4</text>
<text x="668.9" y="2169.7" font-size="11.6" text-anchor="end" fill="#333333">8</text>
<text x="786" y="2251.7" font-size="11.6" fill="#333333">0</text>
<text x="800.8" y="2239.6" font-size="11.6" fill="#333333">0.125</text>
<text x="815" y="2228.1" font-size="11.6" fill="#333333">0.25</text>
<text x="828.4" y="2217.2" font-size="11.6" fill="#333333">0.5</text>
<text x="841.3" y="2206.7" font-size="11.6" fill="#333333">1</text>
<text x="853.5" y="2196.7" font-size="11.6" fill="#333333">2</text>
<text x="865.2" y="2187.2" font-size="11.6" fill="#333333">4</text>
<text x="876.4" y="2178.1" font-size="11.6" fill="#333333">8</text>
<text x="887.2" y="2169.3" font-size="11.6" fill="#333333">16</text>
<text x="554" y="2146.3" fill="#4d4d4d">δ - score</text>
<text x="584.6" y="2231" fill="#4d4d4d">TGFβRi(μM)</text>
<text x="861.4" y="2238.8" fill="#4d4d4d">Vinorelbine(μM)</text>
<text x="951.8" y="2094" fill="#4d4d4d">δ - score</text>
<rect x="951" y="2104.3" width="19.7" height="55.3" fill="url(#cbg)"/>
<rect x="965.7" y="2103.2" width="5" height="3.6" fill="#fff"/>
<text x="972.7" y="2110" font-size="13.5" fill="#4d4d4d">50</text>
<rect x="965.7" y="2130" width="5" height="3.6" fill="#fff"/>
<text x="972.7" y="2136.8" font-size="13.5" fill="#4d4d4d">0</text>
<rect x="965.7" y="2156.1" width="5" height="3.6" fill="#fff"/>
<text x="972.7" y="2162.9" font-size="13.5" fill="#4d4d4d">−50</text>
<path d="M1154.9,2175.6L1129.2,2028.8M1267.7,2273.9L1154.9,2175.6M1171,2166L1149.8,2021.3M1284.4,2259.1L1171,2166M1186.4,2156.9L1169.2,2014.3M1300.1,2245.1L1186.4,2156.9M1201.1,2148.2L1187.6,2007.6M1314.9,2232L1201.1,2148.2M1215.1,2139.9L1204.9,2001.4M1328.9,2219.5L1215.1,2139.9M1228.5,2131.9L1221.4,1995.4M1342.2,2207.7L1228.5,2131.9M1241.3,2124.3L1237,1989.8M1354.8,2196.5L1241.3,2124.3M1253.6,2117L1251.8,1984.4M1366.8,2185.9L1253.6,2117M1265.4,2110L1265.9,1979.3M1378.1,2175.8L1265.4,2110M1378.1,2175.8L1405.6,2028.4M1267.7,2273.9L1378.1,2175.8M1352.1,2160.6L1372.4,2016.8M1240.9,2250.5L1352.1,2160.6M1328,2146.6L1342.1,2006.1M1216.4,2229.2L1328,2146.6M1305.7,2133.5L1314.5,1996.4M1194.2,2209.8L1305.7,2133.5M1284.8,2121.3L1289.2,1987.5M1173.7,2192L1284.8,2121.3M1265.4,2110L1265.9,1979.3M1154.9,2175.6L1265.4,2110M1129.8,2032.3L1265.8,1982.3M1265.8,1982.3L1404.9,2032M1135.1,2062.5L1265.8,2008.5M1265.8,2008.5L1399.3,2062.4M1140,2090.5L1265.7,2033M1265.7,2033L1394,2090.4M1144.6,2116.4L1265.6,2056.1M1265.6,2056.1L1389.2,2116.4M1148.8,2140.4L1265.5,2077.8M1265.5,2077.8L1384.7,2140.5M1152.7,2162.8L1265.4,2098.2M1265.4,2098.2L1380.5,2163" stroke="#bdbdbd" stroke-width="0.9" fill="none"/>
<path d="M1268.6 2012.9l4.4 -0.7l-7.2 -6.8l-4.5 0.5zM1266.9 2021.8l4.6 -1l-7.4 -7.2l-4.6 0.9z" fill="#ea545a" stroke="#ea545a" stroke-width="0.7"/>
<path d="M1276 2020l4.4 -0.9l-7.4 -6.9l-4.4 0.7z" fill="#ea5a60" stroke="#ea5a60" stroke-width="0.7"/>
<path d="M1264.1 2013.6l4.5 -0.7l-7.3 -7l-4.6 0.6zM1259.5 2014.5l4.6 -0.9l-7.4 -7.1l-4.6 0.7z" fill="#ea4e54" stroke="#ea4e54" stroke-width="0.7"/>
<path d="M1283.5 2027.2l4.4 -1l-7.5 -7.1l-4.4 0.9z" fill="#ea6666" stroke="#ea6666" stroke-width="0.7"/>
<path d="M1271.5 2020.8l4.5 -0.8l-7.4 -7.1l-4.5 0.7z" fill="#ea5a5a" stroke="#ea5a5a" stroke-width="0.7"/>
<path d="M1291.2 2034.6l4.3 -1.2l-7.6 -7.2l-4.4 1z" fill="#ea6c72" stroke="#ea6c72" stroke-width="0.7"/>
<path d="M1279.1 2028.2l4.4 -1l-7.5 -7.2l-4.5 0.8z" fill="#ea6066" stroke="#ea6066" stroke-width="0.7"/>
<path d="M1254.7 2015.2l4.8 -0.7l-7.4 -7.3l-4.8 0.6z" fill="#ea4e4e" stroke="#ea4e4e" stroke-width="0.7"/>
<path d="M1261.3 2005.9L1265.8 2005.4M1273 2012.2L1265.8 2005.4M1280.4 2019.1L1273 2012.2M1256.7 2006.5L1261.3 2005.9M1287.9 2026.2L1280.4 2019.1M1252.1 2007.2L1256.7 2006.5M1283.5 2027.2L1287.9 2026.2M1295.5 2033.4L1287.9 2026.2M1247.3 2007.8L1252.1 2007.2M1259.5 2014.5L1252.1 2007.2" stroke="#333" stroke-width="0.9" fill="none" stroke-linecap="round"/>
<path d="M1299 2042.2l4.3 -1.3l-7.8 -7.5l-4.3 1.2z" fill="#f07878" stroke="#f07878" stroke-width="0.7"/>
<path d="M1286.8 2035.8l4.4 -1.2l-7.7 -7.4l-4.4 1z" fill="#ea6c6c" stroke="#ea6c6c" stroke-width="0.7"/>
<path d="M1274.5 2029.4l4.6 -1.2l-7.6 -7.4l-4.6 1z" fill="#ea6060" stroke="#ea6060" stroke-width="0.7"/>
<path d="M1262.3 2022.8l4.6 -1l-7.4 -7.3l-4.8 0.7z" fill="#ea545a" stroke="#ea545a" stroke-width="0.7"/>
<path d="M1250 2016.2l4.7 -1l-7.4 -7.4l-4.8 0.8zM1245.1 2018.6l4.9 -2.4l-7.5 -7.6l-4.9 2.3z" fill="#ea484e" stroke="#ea484e" stroke-width="0.7"/>
<path d="M1306.9 2049.9l4.3 -1.6l-7.9 -7.4l-4.3 1.3z" fill="#f07e84" stroke="#f07e84" stroke-width="0.7"/>
<path d="M1294.6 2043.6l4.4 -1.4l-7.8 -7.6l-4.4 1.2z" fill="#f07278" stroke="#f07278" stroke-width="0.7"/>
<path d="M1282.3 2037.2l4.5 -1.4l-7.7 -7.6l-4.6 1.2zM1277.7 2038.6l4.6 -1.4l-7.8 -7.8l-4.6 1.2z" fill="#ea666c" stroke="#ea666c" stroke-width="0.7"/>
<path d="M1269.9 2030.6l4.6 -1.2l-7.6 -7.6l-4.6 1zM1265.2 2031.9l4.7 -1.3l-7.6 -7.8l-4.8 1.2zM1230.5 2035l4.9 -5.6l-7.4 -6.8l-4.9 6.1z" fill="#ea5a60" stroke="#ea5a60" stroke-width="0.7"/>
<path d="M1257.5 2024l4.8 -1.2l-7.6 -7.6l-4.7 1zM1252.7 2026.3l4.8 -2.3l-7.5 -7.8l-4.9 2.4z" fill="#ea5454" stroke="#ea5454" stroke-width="0.7"/>
<path d="M1314.9 2057.4l4.3 -1.7l-8 -7.4l-4.3 1.6z" fill="#f08a8a" stroke="#f08a8a" stroke-width="0.7"/>
<path d="M1302.5 2051.4l4.4 -1.5l-7.9 -7.7l-4.4 1.4z" fill="#f07e7e" stroke="#f07e7e" stroke-width="0.7"/>
<path d="M1290.1 2045.1l4.5 -1.5l-7.8 -7.8l-4.5 1.4z" fill="#f07272" stroke="#f07272" stroke-width="0.7"/>
<path d="M1240.2 2023.3l4.9 -4.7l-7.5 -7.7l-4.8 5.1z" fill="#e44e4e" stroke="#e44e4e" stroke-width="0.7"/>
<path d="M1323.1 2065l4.2 -1.9l-8.1 -7.4l-4.3 1.7z" fill="#f09096" stroke="#f09096" stroke-width="0.7"/>
<path d="M1235.4 2029.4l4.8 -6.1l-7.4 -7.3l-4.8 6.6z" fill="#e45454" stroke="#e45454" stroke-width="0.7"/>
<path d="M1310.6 2059.1l4.3 -1.7l-8 -7.5l-4.4 1.5z" fill="#f0848a" stroke="#f0848a" stroke-width="0.7"/>
<path d="M1298.1 2053.1l4.4 -1.7l-7.9 -7.8l-4.5 1.5z" fill="#f0787e" stroke="#f0787e" stroke-width="0.7"/>
<path d="M1285.6 2046.7l4.5 -1.6l-7.8 -7.9l-4.6 1.4z" fill="#ea7272" stroke="#ea7272" stroke-width="0.7"/>
<path d="M1303.3 2040.9L1295.5 2033.4M1279.1 2028.2L1283.5 2027.2M1266.9 2021.8L1259.5 2014.5M1242.5 2008.6L1247.3 2007.8M1311.2 2048.3L1303.3 2040.9M1274.5 2029.4L1279.1 2028.2M1274.5 2029.4L1266.9 2021.8M1237.6 2010.9L1242.5 2008.6M1306.9 2049.9L1311.2 2048.3M1319.2 2055.7L1311.2 2048.3M1269.9 2030.6L1274.5 2029.4M1282.3 2037.2L1274.5 2029.4M1232.8 2016L1237.6 2010.9M1245.1 2018.6L1237.6 2010.9M1327.3 2063.1L1319.2 2055.7M1228 2022.6L1232.8 2016M1302.5 2051.4L1306.9 2049.9M1290.1 2045.1L1282.3 2037.2M1223.1 2028.7L1228 2022.6" stroke="#333" stroke-width="0.9" fill="none" stroke-linecap="round"/>
<path d="M1247.8 2030.7l4.9 -4.4l-7.6 -7.7l-4.9 4.7z" fill="#ea545a" stroke="#ea545a" stroke-width="0.7"/>
<path d="M1273 2040.1l4.7 -1.5l-7.8 -8l-4.7 1.3zM1268.2 2042.5l4.8 -2.4l-7.8 -8.2l-4.8 2.4zM1220.3 2042.8l5.1 -3.7l-7.3 -6l-5.1 3.9zM1263.3 2046.3l4.9 -3.8l-7.8 -8.2l-4.9 4z" fill="#ea6666" stroke="#ea6666" stroke-width="0.7"/>
<path d="M1260.4 2034.3l4.8 -2.4l-7.7 -7.9l-4.8 2.3zM1255.5 2038.3l4.9 -4l-7.7 -8l-4.9 4.4z" fill="#ea5a60" stroke="#ea5a60" stroke-width="0.7"/>
<path d="M1225.4 2039.1l5.1 -4.1l-7.4 -6.3l-5 4.4zM1238 2041.4l4.9 -5.1l-7.5 -6.9l-4.9 5.6zM1250.6 2043.4l4.9 -5.1l-7.7 -7.6l-4.9 5.6z" fill="#ea6066" stroke="#ea6066" stroke-width="0.7"/>
<path d="M1331.5 2072.8l4.1 -2l-8.3 -7.7l-4.2 1.9zM1327.2 2074.9l4.3 -2.1l-8.4 -7.8l-4.3 1.9zM1322.9 2077.1l4.3 -2.2l-8.4 -8l-4.3 2z" fill="#f09c9c" stroke="#f09c9c" stroke-width="0.7"/>
<path d="M1318.8 2066.9l4.3 -1.9l-8.2 -7.6l-4.3 1.7z" fill="#f09096" stroke="#f09096" stroke-width="0.7"/>
<path d="M1242.9 2036.3l4.9 -5.6l-7.6 -7.4l-4.8 6.1z" fill="#ea5a5a" stroke="#ea5a5a" stroke-width="0.7"/>
<path d="M1306.2 2061l4.4 -1.9l-8.1 -7.7l-4.4 1.7z" fill="#f0848a" stroke="#f0848a" stroke-width="0.7"/>
<path d="M1293.6 2054.9l4.5 -1.8l-8 -8l-4.5 1.6zM1289 2056.8l4.6 -1.9l-8 -8.2l-4.7 1.7z" fill="#f0787e" stroke="#f0787e" stroke-width="0.7"/>
<path d="M1280.9 2048.4l4.7 -1.7l-7.9 -8.1l-4.7 1.5zM1276.2 2050.8l4.7 -2.4l-7.9 -8.3l-4.8 2.4zM1209.9 2051.8l5.2 -4.9l-7.2 -5.5l-5.2 5.3zM1240.6 2051.7l5 -3.6l-7.6 -6.7l-5.1 3.8zM1271.3 2054.4l4.9 -3.6l-8 -8.3l-4.9 3.8zM1222.6 2052.5l5.2 -3.9l-7.5 -5.8l-5.2 4.1zM1253.4 2055.2l5 -4.3l-7.8 -7.5l-5 4.7z" fill="#ea6c72" stroke="#ea6c72" stroke-width="0.7"/>
<path d="M1339.9 2081.3l4.1 -2.2l-8.4 -8.3l-4.1 2zM1335.7 2083.5l4.2 -2.2l-8.4 -8.5l-4.3 2.1zM1331.4 2085.9l4.3 -2.4l-8.5 -8.6l-4.3 2.2z" fill="#f6a8a8" stroke="#f6a8a8" stroke-width="0.7"/>
<path d="M1314.5 2068.9l4.3 -2l-8.2 -7.8l-4.4 1.9zM1310 2071.1l4.5 -2.2l-8.3 -7.9l-4.5 2z" fill="#f09090" stroke="#f09090" stroke-width="0.7"/>
<path d="M1232.9 2045.2l5.1 -3.8l-7.5 -6.4l-5.1 4.1zM1215.1 2046.9l5.2 -4.1l-7.3 -5.8l-5.1 4.4zM1245.6 2048.1l5 -4.7l-7.7 -7.1l-4.9 5.1zM1227.8 2048.6l5.1 -3.4l-7.5 -6.1l-5.1 3.7zM1258.4 2050.9l4.9 -4.6l-7.8 -8l-4.9 5.1z" fill="#ea666c" stroke="#ea666c" stroke-width="0.7"/>
<path d="M1301.7 2063l4.5 -2l-8.1 -7.9l-4.5 1.8zM1297.1 2065.1l4.6 -2.1l-8.1 -8.1l-4.6 1.9z" fill="#f08484" stroke="#f08484" stroke-width="0.7"/>
<path d="M1348.4 2090l4.1 -2.3l-8.5 -8.6l-4.1 2.2z" fill="#f6b4ba" stroke="#f6b4ba" stroke-width="0.7"/>
<path d="M1284.2 2059.2l4.8 -2.4l-8.1 -8.4l-4.7 2.4z" fill="#f07878" stroke="#f07878" stroke-width="0.7"/>
<path d="M1204.7 2057.2l5.2 -5.4l-7.2 -5.1l-5.1 5.7zM1266.4 2058.7l4.9 -4.3l-8 -8.1l-4.9 4.6z" fill="#ea7278" stroke="#ea7278" stroke-width="0.7"/>
<path d="M1357.2 2098.3l4 -2.5l-8.7 -8.1l-4.1 2.3z" fill="#f6c6c6" stroke="#f6c6c6" stroke-width="0.7"/>
<path d="M1344.3 2092.4l4.1 -2.4l-8.5 -8.7l-4.2 2.2z" fill="#f6b4b4" stroke="#f6b4b4" stroke-width="0.7"/>
<path d="M1199.5 2062.8l5.2 -5.6l-7.1 -4.8l-5.2 5.9z" fill="#ea787e" stroke="#ea787e" stroke-width="0.7"/>
<path d="M1252.7 2026.3L1245.1 2018.6M1265.2 2031.9L1269.9 2030.6M1218.1 2033.1L1223.1 2028.7M1230.5 2035L1223.1 2028.7M1335.6 2070.8L1327.3 2063.1M1298.1 2053.1L1302.5 2051.4M1298.1 2053.1L1290.1 2045.1M1260.4 2034.3L1252.7 2026.3M1260.4 2034.3L1265.2 2031.9M1213 2037L1218.1 2033.1M1331.5 2072.8L1335.6 2070.8M1344 2079.1L1335.6 2070.8M1238 2041.4L1230.5 2035M1293.6 2054.9L1298.1 2053.1M1306.2 2061L1298.1 2053.1M1207.9 2041.4L1213 2037M1255.5 2038.3L1260.4 2034.3M1268.2 2042.5L1260.4 2034.3M1352.5 2087.7L1344 2079.1M1327.2 2074.9L1331.5 2072.8M1202.7 2046.7L1207.9 2041.4M1215.1 2046.9L1207.9 2041.4M1250.6 2043.4L1255.5 2038.3M1314.5 2068.9L1306.2 2061M1289 2056.8L1293.6 2054.9M1245.6 2048.1L1238 2041.4M1276.2 2050.8L1268.2 2042.5M1197.6 2052.4L1202.7 2046.7M1245.6 2048.1L1250.6 2043.4M1361.2 2095.8L1352.5 2087.7M1192.4 2058.3L1197.6 2052.4M1322.9 2077.1L1327.2 2074.9" stroke="#333" stroke-width="0.9" fill="none" stroke-linecap="round"/>
<path d="M1235.4 2054.9l5.2 -3.2l-7.7 -6.5l-5.1 3.4z" fill="#f06c72" stroke="#f06c72" stroke-width="0.7"/>
<path d="M1318.4 2079.4l4.5 -2.3l-8.4 -8.2l-4.5 2.2zM1313.9 2081.8l4.5 -2.4l-8.4 -8.3l-4.5 2.2zM1309.3 2084.5l4.6 -2.7l-8.4 -8.5l-4.7 2.6zM1304.6 2087.6l4.7 -3.1l-8.5 -8.6l-4.7 3.2z" fill="#f0969c" stroke="#f0969c" stroke-width="0.7"/>
<path d="M1305.5 2073.3l4.5 -2.2l-8.3 -8.1l-4.6 2.1zM1300.8 2075.9l4.7 -2.6l-8.4 -8.2l-4.6 2.5zM1296.1 2079.1l4.7 -3.2l-8.3 -8.3l-4.8 3.2z" fill="#f08a90" stroke="#f08a90" stroke-width="0.7"/>
<path d="M1279.4 2062.6l4.8 -3.4l-8 -8.4l-4.9 3.6zM1256.4 2065.9l5 -3.2l-8 -7.5l-5 3.4zM1251.2 2068.8l5.2 -2.9l-8 -7.3l-5.2 3zM1232.7 2069l5.3 -4l-7.8 -6.5l-5.3 4.2z" fill="#f0787e" stroke="#f0787e" stroke-width="0.7"/>
<path d="M1292.5 2067.6l4.6 -2.5l-8.1 -8.3l-4.8 2.4zM1287.7 2070.8l4.8 -3.2l-8.3 -8.4l-4.8 3.4zM1264.5 2073.4l5.1 -3.1l-8.2 -7.6l-5 3.2zM1208.8 2077.6l5.4 -5.2l-7.4 -5.1l-5.4 5.5zM1259.4 2076.2l5.1 -2.8l-8.1 -7.5l-5.2 2.9z" fill="#f08484" stroke="#f08484" stroke-width="0.7"/>
<path d="M1217.3 2057.1l5.3 -4.6l-7.5 -5.6l-5.2 4.9z" fill="#ea7272" stroke="#ea7272" stroke-width="0.7"/>
<path d="M1248.4 2058.6l5 -3.4l-7.8 -7.1l-5 3.6zM1243.2 2061.6l5.2 -3l-7.8 -6.9l-5.2 3.2z" fill="#f07278" stroke="#f07278" stroke-width="0.7"/>
<path d="M1194.2 2068.5l5.3 -5.7l-7.1 -4.5l-5.2 6z" fill="#ea7e84" stroke="#ea7e84" stroke-width="0.7"/>
<path d="M1261.4 2062.7l5 -4l-8 -7.8l-5 4.3zM1238 2065l5.2 -3.4l-7.8 -6.7l-5.2 3.6z" fill="#f07878" stroke="#f07878" stroke-width="0.7"/>
<path d="M1353.1 2100.8l4.1 -2.5l-8.8 -8.3l-4.1 2.4zM1348.8 2103.4l4.3 -2.6l-8.8 -8.4l-4.3 2.4z" fill="#f6c6c6" stroke="#f6c6c6" stroke-width="0.7"/>
<path d="M1366.3 2105.6l4 -2.7l-9.1 -7.1l-4 2.5z" fill="#fcd2d8" stroke="#fcd2d8" stroke-width="0.7"/>
<path d="M1340 2094.8l4.3 -2.4l-8.6 -8.9l-4.3 2.4zM1335.7 2097.4l4.3 -2.6l-8.6 -8.9l-4.4 2.4zM1331.2 2100.1l4.5 -2.7l-8.7 -9.1l-4.5 2.5z" fill="#f6b4b4" stroke="#f6b4b4" stroke-width="0.7"/>
<path d="M1188.9 2074.4l5.3 -5.9l-7 -4.2l-5.2 6zM1196 2078.5l5.4 -5.7l-7.2 -4.3l-5.3 5.9z" fill="#ea8a8a" stroke="#ea8a8a" stroke-width="0.7"/>
<path d="M1212.1 2062.1l5.2 -5l-7.4 -5.3l-5.2 5.4zM1224.9 2062.7l5.3 -4.2l-7.6 -6l-5.3 4.6z" fill="#ea7278" stroke="#ea7278" stroke-width="0.7"/>
<path d="M1230.2 2058.5l5.2 -3.6l-7.6 -6.3l-5.2 3.9z" fill="#f07272" stroke="#f07272" stroke-width="0.7"/>
<path d="M1274.5 2066.6l4.9 -4l-8.1 -8.2l-4.9 4.3zM1246 2072l5.2 -3.2l-8 -7.2l-5.2 3.4zM1227.4 2073.4l5.3 -4.4l-7.8 -6.3l-5.3 4.7z" fill="#f07e7e" stroke="#f07e7e" stroke-width="0.7"/>
<path d="M1327 2088.3l4.4 -2.4l-8.5 -8.8l-4.5 2.3zM1322.5 2090.8l4.5 -2.5l-8.6 -8.9l-4.5 2.4zM1318 2093.6l4.5 -2.8l-8.6 -9l-4.6 2.7z" fill="#f6a2a8" stroke="#f6a2a8" stroke-width="0.7"/>
<path d="M1183.6 2080.6l5.3 -6.2l-6.9 -4.1l-5.2 6.4z" fill="#ea9096" stroke="#ea9096" stroke-width="0.7"/>
<path d="M1206.8 2067.3l5.3 -5.2l-7.4 -4.9l-5.2 5.6zM1219.6 2067.4l5.3 -4.7l-7.6 -5.6l-5.2 5z" fill="#ea787e" stroke="#ea787e" stroke-width="0.7"/>
<path d="M1178.3 2087.5l5.3 -6.9l-6.8 -3.9l-5.3 6.9zM1185.2 2091.5l5.4 -6.8l-7 -4.1l-5.3 6.9z" fill="#ea9c9c" stroke="#ea9c9c" stroke-width="0.7"/>
<path d="M1269.6 2070.3l4.9 -3.7l-8.1 -7.9l-5 4z" fill="#f07e84" stroke="#f07e84" stroke-width="0.7"/>
<path d="M1362.2 2108.3l4.1 -2.7l-9.1 -7.3l-4.1 2.5zM1358 2111.1l4.2 -2.8l-9.1 -7.5l-4.3 2.6z" fill="#fcd2d2" stroke="#fcd2d2" stroke-width="0.7"/>
<path d="M1201.4 2072.8l5.4 -5.5l-7.3 -4.5l-5.3 5.7z" fill="#ea8484" stroke="#ea8484" stroke-width="0.7"/>
<path d="M1282.8 2074.5l4.9 -3.7l-8.3 -8.2l-4.9 4z" fill="#f0848a" stroke="#f0848a" stroke-width="0.7"/>
<path d="M1173 2094.7l5.3 -7.2l-6.8 -3.9l-5.2 7.1z" fill="#f0a8a8" stroke="#f0a8a8" stroke-width="0.7"/>
<path d="M1375.6 2112.4l4 -2.8l-9.3 -6.7l-4 2.7z" fill="#fcdee4" stroke="#fcdee4" stroke-width="0.7"/>
<path d="M1167.6 2101.7l5.4 -7l-6.7 -4l-5.3 6.9z" fill="#f0b4b4" stroke="#f0b4b4" stroke-width="0.7"/>
<path d="M1162.2 2108.3l5.4 -6.6l-6.6 -4.1l-5.4 6.4z" fill="#f0c0c6" stroke="#f0c0c6" stroke-width="0.7"/>
<path d="M1277.8 2078l5 -3.5l-8.3 -7.9l-4.9 3.7zM1272.8 2081l5 -3l-8.2 -7.7l-5.1 3.1z" fill="#f08a8a" stroke="#f08a8a" stroke-width="0.7"/>
<path d="M1344.5 2106.1l4.3 -2.7l-8.8 -8.6l-4.3 2.6z" fill="#f6c0c6" stroke="#f6c0c6" stroke-width="0.7"/>
<path d="M1214.2 2072.4l5.4 -5l-7.5 -5.3l-5.3 5.2z" fill="#ea7e7e" stroke="#ea7e7e" stroke-width="0.7"/>
<path d="M1190.6 2084.7l5.4 -6.2l-7.1 -4.1l-5.3 6.2z" fill="#ea9090" stroke="#ea9090" stroke-width="0.7"/>
<path d="M1291.2 2082.6l4.9 -3.5l-8.4 -8.3l-4.9 3.7z" fill="#f09090" stroke="#f09090" stroke-width="0.7"/>
<path d="M1371.6 2115.3l4 -2.9l-9.3 -6.8l-4.1 2.7z" fill="#fcdede" stroke="#fcdede" stroke-width="0.7"/>
<path d="M1156.7 2114.8l5.5 -6.5l-6.6 -4.3l-5.5 6.1z" fill="#f6d2d2" stroke="#f6d2d2" stroke-width="0.7"/>
<path d="M1385.2 2119.4l4 -3.1l-9.6 -6.7l-4 2.8z" fill="#fcf0f0" stroke="#fcf0f0" stroke-width="0.7"/>
<path d="M1151.1 2121.3l5.6 -6.5l-6.6 -4.7l-5.5 6.3z" fill="#f6e4e4" stroke="#f6e4e4" stroke-width="0.7"/>
<path d="M1179.9 2098.7l5.3 -7.2l-6.9 -4l-5.3 7.2z" fill="#f0a2a8" stroke="#f0a2a8" stroke-width="0.7"/>
<path d="M1322.9 2077.1L1314.5 2068.9M1284.2 2059.2L1276.2 2050.8M1284.2 2059.2L1289 2056.8M1222.6 2052.5L1215.1 2046.9M1240.6 2051.7L1245.6 2048.1M1253.4 2055.2L1245.6 2048.1M1187.2 2064.3L1192.4 2058.3M1199.5 2062.8L1192.4 2058.3M1357.2 2098.3L1361.2 2095.8M1370.3 2102.9L1361.2 2095.8M1182 2070.3L1187.2 2064.3M1318.4 2079.4L1322.9 2077.1M1331.4 2085.9L1322.9 2077.1M1279.4 2062.6L1284.2 2059.2M1292.5 2067.6L1284.2 2059.2M1235.4 2054.9L1240.6 2051.7M1176.8 2076.7L1182 2070.3M1261.4 2062.7L1253.4 2055.2M1230.2 2058.5L1222.6 2052.5M1171.5 2083.6L1176.8 2076.7M1183.6 2080.6L1176.8 2076.7M1353.1 2100.8L1357.2 2098.3M1340 2094.8L1331.4 2085.9M1206.8 2067.3L1199.5 2062.8M1274.5 2066.6L1279.4 2062.6M1166.3 2090.7L1171.5 2083.6M1379.6 2109.6L1370.3 2102.9M1313.9 2081.8L1318.4 2079.4M1230.2 2058.5L1235.4 2054.9M1300.8 2075.9L1292.5 2067.6M1161 2097.6L1166.3 2090.7M1269.6 2070.3L1261.4 2062.7M1155.6 2104L1161 2097.6M1167.6 2101.7L1161 2097.6M1269.6 2070.3L1274.5 2066.6M1348.8 2103.4L1340 2094.8M1348.8 2103.4L1353.1 2100.8M1224.9 2062.7L1230.2 2058.5M1238 2065L1230.2 2058.5M1309.3 2084.5L1313.9 2081.8M1309.3 2084.5L1300.8 2075.9M1150.1 2110.1L1155.6 2104M1385.2 2119.4L1389.2 2116.3M1389.2 2116.3L1379.6 2109.6M1190.6 2084.7L1183.6 2080.6M1214.2 2072.4L1206.8 2067.3M1144.6 2116.4L1150.1 2110.1M1151.1 2121.3L1144.6 2116.4M1219.6 2067.4L1224.9 2062.7M1264.5 2073.4L1269.6 2070.3M1277.8 2078L1269.6 2070.3" stroke="#333" stroke-width="0.9" fill="none" stroke-linecap="round"/>
<path d="M1340.2 2108.9l4.3 -2.8l-8.8 -8.7l-4.5 2.7zM1335.7 2111.9l4.5 -3l-9 -8.8l-4.5 2.8zM1331.1 2115l4.6 -3.1l-9 -9l-4.6 3.2zM1326.4 2118.4l4.7 -3.4l-9 -8.9l-4.7 3.3z" fill="#f6c0c0" stroke="#f6c0c0" stroke-width="0.7"/>
<path d="M1286.3 2086l4.9 -3.4l-8.4 -8.1l-5 3.5zM1281.3 2088.9l5 -2.9l-8.5 -8l-5 3zM1276.2 2091.7l5.1 -2.8l-8.5 -7.9l-5.1 2.8zM1205.5 2094.4l5.5 -5.9l-7.6 -5.3l-5.5 6zM1271.1 2094.7l5.1 -3l-8.5 -7.9l-5.2 3z" fill="#f09096" stroke="#f09096" stroke-width="0.7"/>
<path d="M1353.7 2113.9l4.3 -2.8l-9.2 -7.7l-4.3 2.7zM1349.4 2116.9l4.3 -3l-9.2 -7.8l-4.3 2.8zM1344.9 2120l4.5 -3.1l-9.2 -8l-4.5 3zM1340.4 2123.3l4.5 -3.3l-9.2 -8.1l-4.6 3.1z" fill="#fcd2d2" stroke="#fcd2d2" stroke-width="0.7"/>
<path d="M1326.7 2102.9l4.5 -2.8l-8.7 -9.3l-4.5 2.8zM1322.1 2106.1l4.6 -3.2l-8.7 -9.3l-4.7 3.1zM1317.4 2109.4l4.7 -3.3l-8.8 -9.4l-4.8 3.3zM1312.6 2112.6l4.8 -3.2l-8.9 -9.4l-4.8 3.2z" fill="#f6b4b4" stroke="#f6b4b4" stroke-width="0.7"/>
<path d="M1299.8 2091l4.8 -3.4l-8.5 -8.5l-4.9 3.5zM1192.5 2096l5.4 -6.8l-7.3 -4.5l-5.4 6.8z" fill="#f0969c" stroke="#f0969c" stroke-width="0.7"/>
<path d="M1174.5 2105.9l5.4 -7.2l-6.9 -4l-5.4 7z" fill="#f0b4b4" stroke="#f0b4b4" stroke-width="0.7"/>
<path d="M1313.3 2096.7l4.7 -3.1l-8.7 -9.1l-4.7 3.1zM1308.5 2100l4.8 -3.3l-8.7 -9.1l-4.8 3.4z" fill="#f6a2a8" stroke="#f6a2a8" stroke-width="0.7"/>
<path d="M1367.4 2118.3l4.2 -3l-9.4 -7l-4.2 2.8zM1363.2 2121.4l4.2 -3.1l-9.4 -7.2l-4.3 2.8zM1358.8 2124.5l4.4 -3.1l-9.5 -7.5l-4.3 3zM1354.4 2127.8l4.4 -3.3l-9.4 -7.6l-4.5 3.1z" fill="#fcdede" stroke="#fcdede" stroke-width="0.7"/>
<path d="M1203.4 2083.2l5.4 -5.6l-7.4 -4.8l-5.4 5.7zM1267.7 2083.8l5.1 -2.8l-8.3 -7.6l-5.1 2.8zM1224.4 2089.2l5.5 -4.8l-7.9 -6.3l-5.5 5zM1238 2091.1l5.5 -4.3l-8.2 -6.9l-5.4 4.5z" fill="#f08a8a" stroke="#f08a8a" stroke-width="0.7"/>
<path d="M1240.7 2075.8l5.3 -3.8l-8 -7l-5.3 4zM1222 2078.1l5.4 -4.7l-7.8 -6l-5.4 5zM1235.3 2079.9l5.4 -4.1l-8 -6.8l-5.3 4.4z" fill="#f07e84" stroke="#f07e84" stroke-width="0.7"/>
<path d="M1381.2 2122.6l4 -3.2l-9.6 -7l-4 2.9zM1377 2125.8l4.2 -3.2l-9.6 -7.3l-4.2 3zM1372.8 2129l4.2 -3.2l-9.6 -7.5l-4.2 3.1zM1368.5 2132.4l4.3 -3.4l-9.6 -7.6l-4.4 3.1z" fill="#fcf0f0" stroke="#fcf0f0" stroke-width="0.7"/>
<path d="M1169 2112.8l5.5 -6.9l-6.9 -4.2l-5.4 6.6zM1176 2117.5l5.5 -7l-7 -4.6l-5.5 6.9z" fill="#f0c0c0" stroke="#f0c0c0" stroke-width="0.7"/>
<path d="M1254.2 2079.3l5.2 -3.1l-8.2 -7.4l-5.2 3.2z" fill="#f08484" stroke="#f08484" stroke-width="0.7"/>
<path d="M1197.9 2089.2l5.5 -6l-7.4 -4.7l-5.4 6.2zM1218.8 2094.4l5.6 -5.2l-7.9 -6.1l-5.5 5.4zM1251.9 2094l5.3 -3.7l-8.3 -7.4l-5.4 3.9z" fill="#f09090" stroke="#f09090" stroke-width="0.7"/>
<path d="M1163.4 2119.6l5.6 -6.8l-6.8 -4.5l-5.5 6.5zM1170.4 2124.6l5.6 -7.1l-7 -4.7l-5.6 6.8z" fill="#f6d2d2" stroke="#f6d2d2" stroke-width="0.7"/>
<path d="M1294.9 2094.3l4.9 -3.3l-8.6 -8.4l-4.9 3.4zM1290 2097.2l4.9 -2.9l-8.6 -8.3l-5 2.9zM1199.9 2101.1l5.6 -6.7l-7.6 -5.2l-5.4 6.8zM1284.9 2100l5.1 -2.8l-8.7 -8.3l-5.1 2.8z" fill="#f09c9c" stroke="#f09c9c" stroke-width="0.7"/>
<path d="M1216.5 2083.1l5.5 -5l-7.8 -5.7l-5.4 5.2zM1248.9 2082.9l5.3 -3.6l-8.2 -7.3l-5.3 3.8zM1229.9 2084.4l5.4 -4.5l-7.9 -6.5l-5.4 4.7zM1243.5 2086.8l5.4 -3.9l-8.2 -7.1l-5.4 4.1z" fill="#f0848a" stroke="#f0848a" stroke-width="0.7"/>
<path d="M1157.8 2126.4l5.6 -6.8l-6.7 -4.8l-5.6 6.5zM1164.8 2131.7l5.6 -7.1l-7 -5l-5.6 6.8z" fill="#f6e4e4" stroke="#f6e4e4" stroke-width="0.7"/>
<path d="M1187 2103.2l5.5 -7.2l-7.3 -4.5l-5.3 7.2zM1194.4 2108.2l5.5 -7.1l-7.4 -5.1l-5.5 7.2z" fill="#f0a2a8" stroke="#f0a2a8" stroke-width="0.7"/>
<path d="M1211 2088.5l5.5 -5.4l-7.7 -5.5l-5.4 5.6zM1262.5 2086.8l5.2 -3l-8.3 -7.6l-5.2 3.1zM1257.2 2090.3l5.3 -3.5l-8.3 -7.5l-5.3 3.6z" fill="#f08a90" stroke="#f08a90" stroke-width="0.7"/>
<path d="M1181.5 2110.5l5.5 -7.3l-7.1 -4.5l-5.4 7.2zM1188.9 2115.5l5.5 -7.3l-7.4 -5l-5.5 7.3z" fill="#f0aeb4" stroke="#f0aeb4" stroke-width="0.7"/>
<path d="M1303.7 2103.2l4.8 -3.2l-8.7 -9l-4.9 3.3zM1298.8 2106.2l4.9 -3l-8.8 -8.9l-4.9 2.9z" fill="#f6a8a8" stroke="#f6a8a8" stroke-width="0.7"/>
<path d="M1344.5 2106.1L1348.8 2103.4M1358 2111.1L1348.8 2103.4M1304.6 2087.6L1309.3 2084.5M1318 2093.6L1309.3 2084.5M1246 2072L1238 2065M1381.2 2122.6L1385.2 2119.4M1214.2 2072.4L1219.6 2067.4M1174.5 2105.9L1167.6 2101.7M1259.4 2076.2L1264.5 2073.4M1286.3 2086L1277.8 2078M1340.2 2108.9L1344.5 2106.1M1326.7 2102.9L1318 2093.6M1299.8 2091L1304.6 2087.6M1208.8 2077.6L1214.2 2072.4M1222 2078.1L1214.2 2072.4M1197.9 2089.2L1190.6 2084.7M1367.4 2118.3L1358 2111.1M1157.8 2126.4L1151.1 2121.3M1377 2125.8L1381.2 2122.6M1254.2 2079.3L1246 2072M1203.4 2083.2L1208.8 2077.6M1254.2 2079.3L1259.4 2076.2M1335.7 2111.9L1326.7 2102.9M1294.9 2094.3L1286.3 2086M1294.9 2094.3L1299.8 2091M1335.7 2111.9L1340.2 2108.9M1181.5 2110.5L1174.5 2105.9M1197.9 2089.2L1203.4 2083.2M1372.8 2129L1377 2125.8M1377 2125.8L1367.4 2118.3M1229.9 2084.4L1222 2078.1M1248.9 2082.9L1254.2 2079.3M1262.5 2086.8L1254.2 2079.3M1192.5 2096L1197.9 2089.2M1205.5 2094.4L1197.9 2089.2M1164.8 2131.7L1157.8 2126.4M1290 2097.2L1294.9 2094.3M1303.7 2103.2L1294.9 2094.3M1331.1 2115L1335.7 2111.9M1344.9 2120L1335.7 2111.9M1187 2103.2L1192.5 2096M1368.5 2132.4L1372.8 2129M1181.5 2110.5L1187 2103.2M1243.5 2086.8L1248.9 2082.9" stroke="#333" stroke-width="0.9" fill="none" stroke-linecap="round"/>
<path d="M1213.3 2100.1l5.5 -5.7l-7.8 -5.9l-5.5 5.9zM1260.4 2101.7l5.4 -3.6l-8.6 -7.8l-5.3 3.7zM1255 2105.7l5.4 -4l-8.5 -7.7l-5.5 4.2z" fill="#f09696" stroke="#f09696" stroke-width="0.7"/>
<path d="M1183.3 2122.6l5.6 -7.1l-7.4 -5l-5.5 7zM1190.8 2128l5.6 -7.2l-7.5 -5.3l-5.6 7.1zM1198.5 2133.9l5.8 -7.1l-7.9 -6l-5.6 7.2z" fill="#f0c0c0" stroke="#f0c0c0" stroke-width="0.7"/>
<path d="M1265.8 2098.1l5.3 -3.4l-8.6 -7.9l-5.3 3.5zM1226.9 2100.7l5.6 -5l-8.1 -6.5l-5.6 5.2zM1240.9 2102.6l5.5 -4.4l-8.4 -7.1l-5.5 4.6z" fill="#f09096" stroke="#f09096" stroke-width="0.7"/>
<path d="M1232.5 2095.7l5.5 -4.6l-8.1 -6.7l-5.5 4.8zM1246.4 2098.2l5.5 -4.2l-8.4 -7.2l-5.5 4.3z" fill="#f09090" stroke="#f09090" stroke-width="0.7"/>
<path d="M1321.7 2121.6l4.7 -3.2l-9 -9l-4.8 3.2z" fill="#f6c0c6" stroke="#f6c0c6" stroke-width="0.7"/>
<path d="M1307.7 2115.6l4.9 -3l-8.9 -9.4l-4.9 3zM1302.8 2118.5l4.9 -2.9l-8.9 -9.4l-5 2.8zM1297.7 2121.6l5.1 -3.1l-9 -9.5l-5.1 3.1zM1292.5 2125l5.2 -3.4l-9 -9.5l-5.3 3.3z" fill="#f6b4b4" stroke="#f6b4b4" stroke-width="0.7"/>
<path d="M1279.8 2103.1l5.1 -3.1l-8.7 -8.3l-5.1 3zM1207.7 2106.6l5.6 -6.5l-7.8 -5.7l-5.6 6.7zM1274.5 2106.4l5.3 -3.3l-8.7 -8.4l-5.3 3.4zM1269.2 2110l5.3 -3.6l-8.7 -8.3l-5.4 3.6zM1229.6 2112.9l5.6 -5.4l-8.3 -6.8l-5.6 5.6zM1243.8 2114.7l5.6 -4.7l-8.5 -7.4l-5.7 4.9z" fill="#f09c9c" stroke="#f09c9c" stroke-width="0.7"/>
<path d="M1293.8 2109l5 -2.8l-8.8 -9l-5.1 2.8zM1288.7 2112.1l5.1 -3.1l-8.9 -9l-5.1 3.1zM1283.4 2115.4l5.3 -3.3l-8.9 -9l-5.3 3.3zM1278.1 2119l5.3 -3.6l-8.9 -9l-5.3 3.6z" fill="#f6a8a8" stroke="#f6a8a8" stroke-width="0.7"/>
<path d="M1335.7 2126.6l4.7 -3.3l-9.3 -8.3l-4.7 3.4zM1331 2130l4.7 -3.4l-9.3 -8.2l-4.7 3.2zM1326.2 2133.2l4.8 -3.2l-9.3 -8.4l-4.9 3.1z" fill="#fcd2d2" stroke="#fcd2d2" stroke-width="0.7"/>
<path d="M1349.9 2131.1l4.5 -3.3l-9.5 -7.8l-4.5 3.3zM1345.3 2134.6l4.6 -3.5l-9.5 -7.8l-4.7 3.3zM1340.7 2138l4.6 -3.4l-9.6 -8l-4.7 3.4zM1335.9 2141.5l4.8 -3.5l-9.7 -8l-4.8 3.2z" fill="#fcdede" stroke="#fcdede" stroke-width="0.7"/>
<path d="M1177.6 2129.8l5.7 -7.2l-7.3 -5.1l-5.6 7.1zM1185.1 2135.3l5.7 -7.3l-7.5 -5.4l-5.7 7.2zM1321.4 2136.4l4.8 -3.2l-9.4 -8.5l-4.9 3z" fill="#f6ccd2" stroke="#f6ccd2" stroke-width="0.7"/>
<path d="M1364.2 2135.7l4.3 -3.3l-9.7 -7.9l-4.4 3.3zM1359.7 2139.2l4.5 -3.5l-9.8 -7.9l-4.5 3.3zM1355.1 2142.7l4.6 -3.5l-9.8 -8.1l-4.6 3.5z" fill="#fcf0f0" stroke="#fcf0f0" stroke-width="0.7"/>
<path d="M1171.9 2137.1l5.7 -7.3l-7.2 -5.2l-5.6 7.1zM1179.3 2142.7l5.8 -7.4l-7.5 -5.5l-5.7 7.3z" fill="#f6e4e4" stroke="#f6e4e4" stroke-width="0.7"/>
<path d="M1202.1 2113.7l5.6 -7.1l-7.8 -5.5l-5.5 7.1zM1210 2119.7l5.7 -7l-8 -6.1l-5.6 7.1z" fill="#f0a8a8" stroke="#f0a8a8" stroke-width="0.7"/>
<path d="M1316.8 2124.7l4.9 -3.1l-9.1 -9l-4.9 3zM1311.9 2127.7l4.9 -3l-9.1 -9.1l-4.9 2.9zM1306.9 2130.9l5 -3.2l-9.1 -9.2l-5.1 3.1z" fill="#f6c0c0" stroke="#f6c0c0" stroke-width="0.7"/>
<path d="M1196.4 2120.8l5.7 -7.1l-7.7 -5.5l-5.5 7.3zM1204.3 2126.8l5.7 -7.1l-7.9 -6l-5.7 7.1z" fill="#f0b4b4" stroke="#f0b4b4" stroke-width="0.7"/>
<path d="M1221.3 2106.3l5.6 -5.6l-8.1 -6.3l-5.5 5.7zM1235.2 2107.5l5.7 -4.9l-8.4 -6.9l-5.6 5zM1249.4 2110l5.6 -4.3l-8.6 -7.5l-5.5 4.4z" fill="#f0969c" stroke="#f0969c" stroke-width="0.7"/>
<path d="M1215.7 2112.7l5.6 -6.4l-8 -6.2l-5.6 6.5zM1263.7 2113.9l5.5 -3.9l-8.8 -8.3l-5.4 4z" fill="#f09ca2" stroke="#f09ca2" stroke-width="0.7"/>
<path d="M1223.9 2119.3l5.7 -6.4l-8.3 -6.6l-5.6 6.4z" fill="#f0a2a2" stroke="#f0a2a2" stroke-width="0.7"/>
<path d="M1176 2117.5L1181.5 2110.5M1188.9 2115.5L1181.5 2110.5M1271.1 2094.7L1262.5 2086.8M1238 2091.1L1229.9 2084.4M1312.6 2112.6L1303.7 2103.2M1284.9 2100L1290 2097.2M1326.4 2118.4L1331.1 2115M1354.4 2127.8L1344.9 2120M1170.4 2124.6L1176 2117.5M1213.3 2100.1L1205.5 2094.4M1238 2091.1L1243.5 2086.8M1364.2 2135.7L1368.5 2132.4M1164.8 2131.7L1170.4 2124.6M1171.9 2137.1L1164.8 2131.7M1321.7 2121.6L1312.6 2112.6M1279.8 2103.1L1271.1 2094.7M1321.7 2121.6L1326.4 2118.4M1279.8 2103.1L1284.9 2100M1232.5 2095.7L1238 2091.1M1246.4 2098.2L1238 2091.1M1359.7 2139.2L1364.2 2135.7M1364.2 2135.7L1354.4 2127.8M1196.4 2120.8L1188.9 2115.5M1221.3 2106.3L1213.3 2100.1M1226.9 2100.7L1232.5 2095.7M1316.8 2124.7L1321.7 2121.6M1331 2130L1321.7 2121.6M1274.5 2106.4L1279.8 2103.1M1288.7 2112.1L1279.8 2103.1M1179.3 2142.7L1171.9 2137.1M1355.1 2142.7L1359.7 2139.2M1255 2105.7L1246.4 2098.2M1221.3 2106.3L1226.9 2100.7M1269.2 2110L1274.5 2106.4M1204.3 2126.8L1196.4 2120.8M1297.7 2121.6L1288.7 2112.1M1311.9 2127.7L1316.8 2124.7M1215.7 2112.7L1221.3 2106.3M1229.6 2112.9L1221.3 2106.3M1340.7 2138L1331 2130" stroke="#333" stroke-width="0.9" fill="none" stroke-linecap="round"/>
<path d="M1350.5 2146.3l4.6 -3.6l-9.8 -8.1l-4.6 3.4z" fill="#fcf0f0" stroke="#fcf0f0" stroke-width="0.7"/>
<path d="M1192.8 2141.2l5.7 -7.3l-7.7 -5.9l-5.7 7.3zM1200.7 2147.4l5.9 -7l-8.1 -6.5l-5.7 7.3z" fill="#f6d2d2" stroke="#f6d2d2" stroke-width="0.7"/>
<path d="M1218.2 2126.3l5.7 -7l-8.2 -6.6l-5.7 7zM1241.1 2134.3l5.8 -6.4l-8.8 -7.9l-5.7 6.5z" fill="#f0aeae" stroke="#f0aeae" stroke-width="0.7"/>
<path d="M1258.2 2118.1l5.5 -4.2l-8.7 -8.2l-5.6 4.3z" fill="#f6a2a2" stroke="#f6a2a2" stroke-width="0.7"/>
<path d="M1186.9 2148.5l5.9 -7.3l-7.7 -5.9l-5.8 7.4zM1194.8 2154.5l5.9 -7.1l-7.9 -6.2l-5.9 7.3z" fill="#f6e4e4" stroke="#f6e4e4" stroke-width="0.7"/>
<path d="M1272.7 2122.9l5.4 -3.9l-8.9 -9l-5.5 3.9zM1246.9 2127.9l5.7 -5.3l-8.8 -7.9l-5.7 5.3z" fill="#f6a8a8" stroke="#f6a8a8" stroke-width="0.7"/>
<path d="M1238.1 2120l5.7 -5.3l-8.6 -7.2l-5.6 5.4z" fill="#f0a2a2" stroke="#f0a2a2" stroke-width="0.7"/>
<path d="M1287.2 2128.6l5.3 -3.6l-9.1 -9.6l-5.3 3.6zM1281.9 2132.5l5.3 -3.9l-9.1 -9.6l-5.4 3.9zM1276.4 2136.8l5.5 -4.3l-9.2 -9.6l-5.5 4.2z" fill="#f6b4b4" stroke="#f6b4b4" stroke-width="0.7"/>
<path d="M1301.8 2134.4l5.1 -3.5l-9.2 -9.3l-5.2 3.4zM1296.6 2138l5.2 -3.6l-9.3 -9.4l-5.3 3.6zM1291.2 2142l5.4 -4l-9.4 -9.4l-5.3 3.9z" fill="#f6c0c0" stroke="#f6c0c0" stroke-width="0.7"/>
<path d="M1316.4 2139.8l5 -3.4l-9.5 -8.7l-5 3.2zM1311.3 2143.4l5.1 -3.6l-9.5 -8.9l-5.1 3.5zM1306.1 2147.1l5.2 -3.7l-9.5 -9l-5.2 3.6z" fill="#f6cccc" stroke="#f6cccc" stroke-width="0.7"/>
<path d="M1212.4 2133.4l5.8 -7.1l-8.2 -6.6l-5.7 7.1zM1235.3 2141.3l5.8 -7l-8.7 -7.8l-5.8 7.1z" fill="#f0b4ba" stroke="#f0b4ba" stroke-width="0.7"/>
<path d="M1331.1 2144.9l4.8 -3.4l-9.7 -8.3l-4.8 3.2z" fill="#fcdede" stroke="#fcdede" stroke-width="0.7"/>
<path d="M1345.8 2150l4.7 -3.7l-9.8 -8.3l-4.8 3.5z" fill="#fceaf0" stroke="#fceaf0" stroke-width="0.7"/>
<path d="M1252.6 2122.6l5.6 -4.5l-8.8 -8.1l-5.6 4.7z" fill="#f6a2a8" stroke="#f6a2a8" stroke-width="0.7"/>
<path d="M1206.6 2140.4l5.8 -7l-8.1 -6.6l-5.8 7.1z" fill="#f6c6c6" stroke="#f6c6c6" stroke-width="0.7"/>
<path d="M1232.4 2126.5l5.7 -6.5l-8.5 -7.1l-5.7 6.4z" fill="#f0a8a8" stroke="#f0a8a8" stroke-width="0.7"/>
<path d="M1267.2 2127.1l5.5 -4.2l-9 -9l-5.5 4.2z" fill="#f6a8ae" stroke="#f6a8ae" stroke-width="0.7"/>
<path d="M1226.6 2133.6l5.8 -7.1l-8.5 -7.2l-5.7 7z" fill="#f0aeb4" stroke="#f0aeb4" stroke-width="0.7"/>
<path d="M1326.1 2148.5l5 -3.6l-9.7 -8.5l-5 3.4zM1321.1 2152.3l5 -3.8l-9.7 -8.7l-5.1 3.6z" fill="#fcd8de" stroke="#fcd8de" stroke-width="0.7"/>
<path d="M1341 2153.7l4.8 -3.7l-9.9 -8.5l-4.8 3.4zM1336.1 2157.5l4.9 -3.8l-9.9 -8.8l-5 3.6z" fill="#fceaea" stroke="#fceaea" stroke-width="0.7"/>
<path d="M1220.8 2140.7l5.8 -7.1l-8.4 -7.3l-5.8 7.1z" fill="#f6bac0" stroke="#f6bac0" stroke-width="0.7"/>
<path d="M1261.6 2131.7l5.6 -4.6l-9 -9l-5.6 4.5z" fill="#f6aeae" stroke="#f6aeae" stroke-width="0.7"/>
<path d="M1214.9 2147.3l5.9 -6.6l-8.4 -7.3l-5.8 7z" fill="#f6c6cc" stroke="#f6c6cc" stroke-width="0.7"/>
<path d="M1255.9 2136.9l5.7 -5.2l-9 -9.1l-5.7 5.3z" fill="#f6aeb4" stroke="#f6aeb4" stroke-width="0.7"/>
<path d="M1208.9 2153.9l6 -6.6l-8.3 -6.9l-5.9 7z" fill="#f6d8d8" stroke="#f6d8d8" stroke-width="0.7"/>
<path d="M1270.8 2141.5l5.6 -4.7l-9.2 -9.7l-5.6 4.6z" fill="#f6baba" stroke="#f6baba" stroke-width="0.7"/>
<path d="M1229.5 2148.2l5.8 -6.9l-8.7 -7.7l-5.8 7.1zM1285.7 2146.4l5.5 -4.4l-9.3 -9.5l-5.5 4.3z" fill="#f6c0c6" stroke="#f6c0c6" stroke-width="0.7"/>
<path d="M1350.5 2146.3L1355.1 2142.7M1210 2119.7L1215.7 2112.7M1263.7 2113.9L1255 2105.7M1186.9 2148.5L1179.3 2142.7M1263.7 2113.9L1269.2 2110M1306.9 2130.9L1297.7 2121.6M1306.9 2130.9L1311.9 2127.7M1204.3 2126.8L1210 2119.7M1345.8 2150L1350.5 2146.3M1350.5 2146.3L1340.7 2138M1198.5 2133.9L1204.3 2126.8M1212.4 2133.4L1204.3 2126.8M1238.1 2120L1229.6 2112.9M1258.2 2118.1L1263.7 2113.9M1272.7 2122.9L1263.7 2113.9M1192.8 2141.2L1198.5 2133.9M1301.8 2134.4L1306.9 2130.9M1316.4 2139.8L1306.9 2130.9M1341 2153.7L1345.8 2150M1186.9 2148.5L1192.8 2141.2M1194.8 2154.5L1186.9 2148.5M1252.6 2122.6L1258.2 2118.1M1281.9 2132.5L1272.7 2122.9M1246.9 2127.9L1238.1 2120M1220.8 2140.7L1212.4 2133.4M1296.6 2138L1301.8 2134.4M1326.1 2148.5L1316.4 2139.8M1336.1 2157.5L1341 2153.7M1246.9 2127.9L1252.6 2122.6M1291.2 2142L1281.9 2132.5" stroke="#333" stroke-width="0.9" fill="none" stroke-linecap="round"/>
<path d="M1202.9 2160.6l6 -6.7l-8.2 -6.5l-5.9 7.1z" fill="#f6eaea" stroke="#f6eaea" stroke-width="0.7"/>
<path d="M1300.8 2151.1l5.3 -4l-9.5 -9.1l-5.4 4zM1238.3 2156.2l6 -6.5l-9 -8.4l-5.8 6.9zM1274.5 2156.1l5.7 -5l-9.4 -9.6l-5.7 5.2zM1253.4 2158.6l5.9 -6.2l-9.2 -9.4l-5.8 6.7z" fill="#f6cccc" stroke="#f6cccc" stroke-width="0.7"/>
<path d="M1250.1 2143l5.8 -6.1l-9 -9l-5.8 6.4z" fill="#f6b4ba" stroke="#f6b4ba" stroke-width="0.7"/>
<path d="M1315.9 2156.1l5.2 -3.8l-9.8 -8.9l-5.2 3.7zM1310.6 2160.1l5.3 -4l-9.8 -9l-5.3 4zM1278.4 2170l5.8 -5.1l-9.7 -8.8l-5.8 5.5z" fill="#fcd8de" stroke="#fcd8de" stroke-width="0.7"/>
<path d="M1223.5 2154.6l6 -6.4l-8.7 -7.5l-5.9 6.6zM1268.7 2161.6l5.8 -5.5l-9.4 -9.4l-5.8 5.7z" fill="#f6ccd2" stroke="#f6ccd2" stroke-width="0.7"/>
<path d="M1331 2161.4l5.1 -3.9l-10 -9l-5 3.8zM1325.9 2165.3l5.1 -3.9l-9.9 -9.1l-5.2 3.8zM1211.3 2167l6.1 -6.3l-8.5 -6.8l-6 6.7zM1320.7 2169.4l5.2 -4.1l-10 -9.2l-5.3 4z" fill="#fceaea" stroke="#fceaea" stroke-width="0.7"/>
<path d="M1265.1 2146.7l5.7 -5.2l-9.2 -9.8l-5.7 5.2z" fill="#f6bac0" stroke="#f6bac0" stroke-width="0.7"/>
<path d="M1244.3 2149.7l5.8 -6.7l-9 -8.7l-5.8 7zM1259.3 2152.4l5.8 -5.7l-9.2 -9.8l-5.8 6.1z" fill="#f6c0c0" stroke="#f6c0c0" stroke-width="0.7"/>
<path d="M1280.2 2151.1l5.5 -4.7l-9.3 -9.6l-5.6 4.7z" fill="#f6c6c6" stroke="#f6c6c6" stroke-width="0.7"/>
<path d="M1217.4 2160.7l6.1 -6.1l-8.6 -7.3l-6 6.6z" fill="#f6dede" stroke="#f6dede" stroke-width="0.7"/>
<path d="M1295.4 2155.5l5.4 -4.4l-9.6 -9.1l-5.5 4.4zM1289.8 2160.1l5.6 -4.6l-9.7 -9.1l-5.5 4.7z" fill="#fcd2d2" stroke="#fcd2d2" stroke-width="0.7"/>
<path d="M1232.3 2162.1l6 -5.9l-8.8 -8l-6 6.4zM1262.8 2167.3l5.9 -5.7l-9.4 -9.2l-5.9 6.2z" fill="#f6d8d8" stroke="#f6d8d8" stroke-width="0.7"/>
<path d="M1305.2 2164.4l5.4 -4.3l-9.8 -9l-5.4 4.4zM1299.7 2168.8l5.5 -4.4l-9.8 -8.9l-5.6 4.6zM1241.4 2170l6.1 -5.4l-9.2 -8.4l-6 5.9z" fill="#fcdede" stroke="#fcdede" stroke-width="0.7"/>
<path d="M1226.2 2167.8l6.1 -5.7l-8.8 -7.5l-6.1 6.1z" fill="#fce4e4" stroke="#fce4e4" stroke-width="0.7"/>
<path d="M1247.5 2164.6l5.9 -6l-9.1 -8.9l-6 6.5z" fill="#f6d2d8" stroke="#f6d2d8" stroke-width="0.7"/>
<path d="M1284.2 2164.9l5.6 -4.8l-9.6 -9l-5.7 5z" fill="#fcd8d8" stroke="#fcd8d8" stroke-width="0.7"/>
<path d="M1220 2173.6l6.2 -5.8l-8.8 -7.1l-6.1 6.3z" fill="#fcf0f0" stroke="#fcf0f0" stroke-width="0.7"/>
<path d="M1315.4 2173.5l5.3 -4.1l-10.1 -9.3l-5.4 4.3z" fill="#fceaf0" stroke="#fceaf0" stroke-width="0.7"/>
<path d="M1202.9 2160.6L1194.8 2154.5M1291.2 2142L1296.6 2138M1241.1 2134.3L1246.9 2127.9M1255.9 2136.9L1246.9 2127.9M1229.5 2148.2L1220.8 2140.7M1331 2161.4L1336.1 2157.5M1336.1 2157.5L1326.1 2148.5M1235.3 2141.3L1241.1 2134.3M1285.7 2146.4L1291.2 2142M1300.8 2151.1L1291.2 2142M1229.5 2148.2L1235.3 2141.3M1265.1 2146.7L1255.9 2136.9M1325.9 2165.3L1331 2161.4M1211.3 2167L1202.9 2160.6M1223.5 2154.6L1229.5 2148.2M1238.3 2156.2L1229.5 2148.2M1280.2 2151.1L1285.7 2146.4M1310.6 2160.1L1300.8 2151.1M1274.5 2156.1L1265.1 2146.7M1320.7 2169.4L1325.9 2165.3M1217.4 2160.7L1223.5 2154.6M1274.5 2156.1L1280.2 2151.1M1211.3 2167L1217.4 2160.7M1220 2173.6L1211.3 2167M1247.5 2164.6L1238.3 2156.2M1315.4 2173.5L1320.7 2169.4M1320.7 2169.4L1310.6 2160.1M1268.7 2161.6L1274.5 2156.1M1284.2 2164.9L1274.5 2156.1" stroke="#333" stroke-width="0.9" fill="none" stroke-linecap="round"/>
<path d="M1256.9 2172.8l5.9 -5.5l-9.4 -8.7l-5.9 6z" fill="#fcdede" stroke="#fcdede" stroke-width="0.7"/>
<path d="M1235.3 2175.1l6.1 -5.1l-9.1 -7.9l-6.1 5.7zM1250.8 2177.8l6.1 -5l-9.4 -8.2l-6.1 5.4zM1266.5 2180.4l6 -5.1l-9.7 -8l-5.9 5.5zM1282.5 2183.1l5.9 -4.9l-10 -8.2l-5.9 5.3z" fill="#fceaea" stroke="#fceaea" stroke-width="0.7"/>
<path d="M1294.1 2173.4l5.6 -4.6l-9.9 -8.7l-5.6 4.8zM1272.5 2175.3l5.9 -5.3l-9.7 -8.4l-5.9 5.7zM1288.4 2178.2l5.7 -4.8l-9.9 -8.5l-5.8 5.1z" fill="#fce4e4" stroke="#fce4e4" stroke-width="0.7"/>
<path d="M1309.9 2177.8l5.5 -4.3l-10.2 -9.1l-5.5 4.4zM1229 2180.4l6.3 -5.3l-9.1 -7.3l-6.2 5.8zM1304.3 2182.1l5.6 -4.3l-10.2 -9l-5.6 4.6zM1244.6 2182.6l6.2 -4.8l-9.4 -7.8l-6.1 5.1zM1260.5 2185.3l6 -4.9l-9.6 -7.6l-6.1 5zM1298.6 2186.6l5.7 -4.5l-10.2 -8.7l-5.7 4.8zM1276.5 2188l6 -4.9l-10 -7.8l-6 5.1z" fill="#fcf0f0" stroke="#fcf0f0" stroke-width="0.7"/>
<path d="M1238.3 2187.4l6.3 -4.8l-9.3 -7.5l-6.3 5.3zM1254.3 2190l6.2 -4.7l-9.7 -7.5l-6.2 4.8zM1292.8 2191.1l5.8 -4.5l-10.2 -8.4l-5.9 4.9z" fill="#fcf6f6" stroke="#fcf6f6" stroke-width="0.7"/>
<path d="M1309.9 2177.8L1315.4 2173.5M1262.8 2167.3L1268.7 2161.6M1256.9 2172.8L1247.5 2164.6M1229 2180.4L1220 2173.6M1294.1 2173.4L1284.2 2164.9M1256.9 2172.8L1262.8 2167.3M1304.3 2182.1L1309.9 2177.8M1250.8 2177.8L1256.9 2172.8M1266.5 2180.4L1256.9 2172.8M1298.6 2186.6L1304.3 2182.1M1304.3 2182.1L1294.1 2173.4M1238.3 2187.4L1229 2180.4M1244.6 2182.6L1250.8 2177.8M1292.8 2191.1L1298.6 2186.6" stroke="#333" stroke-width="0.9" fill="none" stroke-linecap="round"/>
<path d="M1270.5 2192.7l6 -4.7l-10 -7.6l-6 4.9zM1286.9 2195.7l5.9 -4.6l-10.3 -8l-6 4.9zM1264.2 2197.5l6.3 -4.8l-10 -7.4l-6.2 4.7z" fill="#fcf6f6" stroke="#fcf6f6" stroke-width="0.7"/>
<path d="M1247.9 2194.8l6.4 -4.8l-9.7 -7.4l-6.3 4.8zM1280.8 2200.4l6.1 -4.7l-10.4 -7.7l-6 4.7zM1257.9 2202.3l6.3 -4.8l-9.9 -7.5l-6.4 4.8zM1274.6 2205.3l6.2 -4.9l-10.3 -7.7l-6.3 4.8zM1268.3 2210.2l6.3 -4.9l-10.4 -7.8l-6.3 4.8z" fill="#fcfcfc" stroke="#fcfcfc" stroke-width="0.7"/>
<path d="M1276.5 2188L1266.5 2180.4M1238.3 2187.4L1244.6 2182.6M1247.9 2194.8L1238.3 2187.4M1286.9 2195.7L1292.8 2191.1M1280.8 2200.4L1286.9 2195.7M1286.9 2195.7L1276.5 2188M1257.9 2202.3L1247.9 2194.8M1274.6 2205.3L1280.8 2200.4M1268.3 2210.2L1274.6 2205.3M1268.3 2210.2L1257.9 2202.3" stroke="#333" stroke-width="0.9" fill="none" stroke-linecap="round"/>
<path d="M1129.2,2028.8L1154.9,2175.6M1154.9,2175.6L1267.7,2273.9M1267.7,2273.9L1378.1,2175.8M1378.1,2175.8L1405.6,2028.4" stroke="#505050" stroke-width="1" fill="none"/>
<path d="M1129.8,2032.3l-6.6,2.4M1135.1,2062.5l-6.6,2.4M1140,2090.5l-6.6,2.4M1144.6,2116.4l-6.6,2.4M1148.8,2140.4l-6.6,2.4M1152.7,2162.8l-6.6,2.4M1267.7,2273.9l-5.2,4.6M1240.9,2250.5l-5.2,4.6M1216.4,2229.2l-5.2,4.6M1194.2,2209.8l-5.2,4.6M1173.7,2192l-5.2,4.6M1154.9,2175.6l-5.2,4.6M1267.7,2273.9l5.3,4.6M1284.4,2259.1l5.3,4.6M1300.1,2245.1l5.3,4.6M1314.9,2232l5.3,4.6M1328.9,2219.5l5.3,4.6M1342.2,2207.7l5.3,4.6M1354.8,2196.5l5.3,4.6M1366.8,2185.9l5.3,4.6M1378.1,2175.8l5.3,4.6" stroke="#505050" stroke-width="0.9" fill="none"/>
<text x="1120.4" y="2039.7" font-size="11.6" text-anchor="end" fill="#333333">60</text>
<text x="1125.7" y="2070" font-size="11.6" text-anchor="end" fill="#333333">40</text>
<text x="1130.6" y="2097.9" font-size="11.6" text-anchor="end" fill="#333333">20</text>
<text x="1135.1" y="2123.8" font-size="11.6" text-anchor="end" fill="#333333">0</text>
<text x="1139.4" y="2147.8" font-size="11.6" text-anchor="end" fill="#333333">-20</text>
<text x="1143.3" y="2170.2" font-size="11.6" text-anchor="end" fill="#333333">-40</text>
<text x="1260.2" y="2285.5" font-size="11.6" text-anchor="end" fill="#333333">0</text>
<text x="1233.4" y="2262.1" font-size="11.6" text-anchor="end" fill="#333333">0.5</text>
<text x="1209" y="2240.9" font-size="11.6" text-anchor="end" fill="#333333">1</text>
<text x="1186.7" y="2221.4" font-size="11.6" text-anchor="end" fill="#333333">2</text>
<text x="1166.2" y="2203.6" font-size="11.6" text-anchor="end" fill="#333333">4</text>
<text x="1147.4" y="2187.2" font-size="11.6" text-anchor="end" fill="#333333">8</text>
<text x="1275.2" y="2285.5" font-size="11.6" fill="#333333">0</text>
<text x="1291.9" y="2270.7" font-size="11.6" fill="#333333">0.125</text>
<text x="1307.6" y="2256.7" font-size="11.6" fill="#333333">0.25</text>
<text x="1322.4" y="2243.5" font-size="11.6" fill="#333333">0.5</text>
<text x="1336.5" y="2231.1" font-size="11.6" fill="#333333">1</text>
<text x="1349.7" y="2219.3" font-size="11.6" fill="#333333">2</text>
<text x="1362.3" y="2208.1" font-size="11.6" fill="#333333">4</text>
<text x="1374.3" y="2197.5" font-size="11.6" fill="#333333">8</text>
<text x="1385.7" y="2187.4" font-size="11.6" fill="#333333">16</text>
<text x="1028" y="2147" fill="#4d4d4d">δ - score</text>
<text x="1051.4" y="2233.8" fill="#4d4d4d">TGFβRi(μM)</text>
<text x="1374.6" y="2239.9" fill="#4d4d4d">Vinorelbine(μM)</text>
<text x="1455" y="2091" fill="#4d4d4d">δ - score</text>
<rect x="1455" y="2102.5" width="19.6" height="55.4" fill="url(#cbg)"/>
<rect x="1469.6" y="2104.2" width="5" height="3.6" fill="#fff"/>
<text x="1476.6" y="2111" font-size="13.5" fill="#4d4d4d">50</text>
<rect x="1469.6" y="2126.8" width="5" height="3.6" fill="#fff"/>
<text x="1476.6" y="2133.6" font-size="13.5" fill="#4d4d4d">0</text>
<rect x="1469.6" y="2149.6" width="5" height="3.6" fill="#fff"/>
<text x="1476.6" y="2156.4" font-size="13.5" fill="#4d4d4d">−50</text>
<path d="M192.9,2585.7L169.6,2449.9M298.1,2671.4L192.9,2585.7M207.8,2577.1L188.4,2443M313.5,2658.7L207.8,2577.1M222.1,2568.9L206.1,2436.4M328,2646.7L222.1,2568.9M235.8,2560.9L223,2430.1M341.8,2635.3L235.8,2560.9M248.9,2553.3L239.1,2424.2M355,2624.4L248.9,2553.3M261.5,2546L254.4,2418.5M367.5,2614L261.5,2546M273.7,2539L269.1,2413M379.5,2604.1L273.7,2539M285.3,2532.2L283,2407.9M390.9,2594.7L285.3,2532.2M296.6,2525.7L296.4,2402.9M401.8,2585.7L296.6,2525.7M401.8,2585.7L425,2449.4M298.1,2671.4L401.8,2585.7M377.9,2572L395,2438.5M273.6,2651.4L377.9,2572M355.5,2559.3L367.4,2428.5M251,2633L355.5,2559.3M334.6,2547.4L341.9,2419.3M230.2,2616.1L334.6,2547.4M315,2536.2L318.3,2410.8M210.9,2600.3L315,2536.2M296.6,2525.7L296.4,2402.9M192.9,2585.7L296.6,2525.7M170.4,2454.4L296.4,2406.8M296.4,2406.8L424.3,2453.9M173.9,2475.1L296.4,2425.1M296.4,2425.1L420.7,2474.6M177.3,2494.7L296.4,2442.5M296.4,2442.5L417.4,2494.3M180.5,2513.2L296.5,2459.1M296.5,2459.1L414.2,2512.9M183.5,2530.8L296.5,2475.1M296.5,2475.1L411.2,2530.5M186.4,2547.5L296.5,2490.3M296.5,2490.3L408.4,2547.3M189.1,2563.3L296.5,2504.9M296.5,2504.9L405.6,2563.2M191.7,2578.5L296.6,2519M296.6,2519L403.1,2578.4" stroke="#bdbdbd" stroke-width="0.9" fill="none"/>
<path d="M299 2447.2l4.2 -0.2l-6.8 -5.2l-4.2 0zM301.7 2452.9l4.2 -0.3l-6.9 -5.4l-4.2 0.2z" fill="#f07e7e" stroke="#f07e7e" stroke-width="0.7"/>
<path d="M305.9 2452.6l4.2 -0.4l-6.9 -5.2l-4.2 0.2z" fill="#f08484" stroke="#f08484" stroke-width="0.7"/>
<path d="M294.8 2447.4l4.2 -0.2l-6.8 -5.4l-4.2 0z" fill="#f0787e" stroke="#f0787e" stroke-width="0.7"/>
<path d="M312.9 2458.7l4.1 -0.5l-6.9 -6l-4.2 0.4z" fill="#f08a8a" stroke="#f08a8a" stroke-width="0.7"/>
<path d="M290.5 2446.9l4.3 0.5l-6.8 -5.6l-4.4 -0.6z" fill="#ea7278" stroke="#ea7278" stroke-width="0.7"/>
<path d="M320 2466.2l4.1 -0.9l-7.1 -7.1l-4.1 0.5z" fill="#f09096" stroke="#f09096" stroke-width="0.7"/>
<path d="M308.8 2459.3l4.1 -0.6l-7 -6.1l-4.2 0.3z" fill="#f0848a" stroke="#f0848a" stroke-width="0.7"/>
<path d="M297.5 2452.8l4.2 0.1l-6.9 -5.5l-4.3 -0.5z" fill="#ea787e" stroke="#ea787e" stroke-width="0.7"/>
<path d="M292.2 2441.8L296.4 2441.8M303.2 2447L296.4 2441.8M310.1 2452.2L303.2 2447M288 2441.8L292.2 2441.8M317 2458.2L310.1 2452.2M283.6 2441.2L288 2441.8M312.9 2458.7L317 2458.2M324.1 2465.3L317 2458.2" stroke="#333" stroke-width="0.9" fill="none" stroke-linecap="round"/>
<path d="M327.1 2474.3l4.1 -1.1l-7.1 -7.9l-4.1 0.9zM323 2475.5l4.1 -1.2l-7.1 -8.1l-4.1 0.8z" fill="#f09c9c" stroke="#f09c9c" stroke-width="0.7"/>
<path d="M286.1 2445.1l4.4 1.8l-6.9 -5.7l-4.4 -2.1z" fill="#ea6c6c" stroke="#ea6c6c" stroke-width="0.7"/>
<path d="M315.9 2467l4.1 -0.8l-7.1 -7.5l-4.1 0.6z" fill="#f09090" stroke="#f09090" stroke-width="0.7"/>
<path d="M334.4 2482.3l4 -1.5l-7.2 -7.6l-4.1 1.1z" fill="#f6a8ae" stroke="#f6a8ae" stroke-width="0.7"/>
<path d="M304.5 2459.4l4.3 -0.1l-7.1 -6.4l-4.2 -0.1z" fill="#f07e84" stroke="#f07e84" stroke-width="0.7"/>
<path d="M293.1 2451.2l4.4 1.6l-7 -5.9l-4.4 -1.8z" fill="#ea7272" stroke="#ea7272" stroke-width="0.7"/>
<path d="M341.7 2489.8l4 -1.7l-7.3 -7.3l-4 1.5z" fill="#f6baba" stroke="#f6baba" stroke-width="0.7"/>
<path d="M311.7 2467.5l4.2 -0.5l-7.1 -7.7l-4.3 0.1z" fill="#f08a8a" stroke="#f08a8a" stroke-width="0.7"/>
<path d="M330.3 2483.7l4.1 -1.4l-7.3 -8l-4.1 1.2z" fill="#f6a8a8" stroke="#f6a8a8" stroke-width="0.7"/>
<path d="M281.5 2442.6l4.6 2.5l-6.9 -6l-4.7 -2.9z" fill="#e46066" stroke="#e46066" stroke-width="0.7"/>
<path d="M300.2 2458.3l4.3 1.1l-7 -6.6l-4.4 -1.6z" fill="#ea787e" stroke="#ea787e" stroke-width="0.7"/>
<path d="M318.9 2476.4l4.1 -0.9l-7.1 -8.5l-4.2 0.5z" fill="#f09696" stroke="#f09696" stroke-width="0.7"/>
<path d="M349.2 2497.1l3.9 -1.8l-7.4 -7.2l-4 1.7z" fill="#f6c6c6" stroke="#f6c6c6" stroke-width="0.7"/>
<path d="M337.7 2491.4l4 -1.6l-7.3 -7.5l-4.1 1.4z" fill="#f6b4b4" stroke="#f6b4b4" stroke-width="0.7"/>
<path d="M288.6 2449.1l4.5 2.1l-7 -6.1l-4.6 -2.5z" fill="#ea666c" stroke="#ea666c" stroke-width="0.7"/>
<path d="M326.2 2485l4.1 -1.3l-7.3 -8.2l-4.1 0.9z" fill="#f0a2a8" stroke="#f0a2a8" stroke-width="0.7"/>
<path d="M307.4 2466.9l4.3 0.6l-7.2 -8.1l-4.3 -1.1z" fill="#ea8484" stroke="#ea8484" stroke-width="0.7"/>
<path d="M356.8 2503.7l3.9 -1.9l-7.6 -6.5l-3.9 1.8z" fill="#fcd2d2" stroke="#fcd2d2" stroke-width="0.7"/>
<path d="M345.2 2498.9l4 -1.8l-7.5 -7.3l-4 1.6z" fill="#f6c0c6" stroke="#f6c0c6" stroke-width="0.7"/>
<path d="M276.9 2441.3l4.6 1.3l-7 -6.4l-4.7 -1.6z" fill="#ea5a60" stroke="#ea5a60" stroke-width="0.7"/>
<path d="M331.2 2473.2L324.1 2465.3M279.2 2439.1L283.6 2441.2M290.5 2446.9L283.6 2441.2M308.8 2459.3L312.9 2458.7M338.4 2480.8L331.2 2473.2M297.5 2452.8L290.5 2446.9M334.4 2482.3L338.4 2480.8M345.7 2488.1L338.4 2480.8M304.5 2459.4L308.8 2459.3M274.5 2436.2L279.2 2439.1M304.5 2459.4L297.5 2452.8M353.1 2495.3L345.7 2488.1M330.3 2483.7L334.4 2482.3M300.2 2458.3L304.5 2459.4M311.7 2467.5L304.5 2459.4M360.7 2501.8L353.1 2495.3M269.8 2434.6L274.5 2436.2" stroke="#333" stroke-width="0.9" fill="none" stroke-linecap="round"/>
<path d="M314.7 2476.5l4.2 -0.1l-7.2 -8.9l-4.3 -0.6z" fill="#f09090" stroke="#f09090" stroke-width="0.7"/>
<path d="M333.6 2492.9l4.1 -1.5l-7.4 -7.7l-4.1 1.3z" fill="#f6b4b4" stroke="#f6b4b4" stroke-width="0.7"/>
<path d="M295.8 2456.6l4.4 1.7l-7.1 -7.1l-4.5 -2.1z" fill="#ea7272" stroke="#ea7272" stroke-width="0.7"/>
<path d="M322 2485.6l4.2 -0.6l-7.3 -8.6l-4.2 0.1z" fill="#f0a2a2" stroke="#f0a2a2" stroke-width="0.7"/>
<path d="M352.8 2505.7l4 -2l-7.6 -6.6l-4 1.8z" fill="#fcd2d2" stroke="#fcd2d2" stroke-width="0.7"/>
<path d="M364.6 2509.6l3.9 -2.1l-7.8 -5.7l-3.9 1.9zM360.7 2511.8l3.9 -2.2l-7.8 -5.9l-4 2z" fill="#fcdede" stroke="#fcdede" stroke-width="0.7"/>
<path d="M284 2448.1l4.6 1l-7.1 -6.5l-4.6 -1.3z" fill="#ea6066" stroke="#ea6066" stroke-width="0.7"/>
<path d="M303 2466l4.4 0.9l-7.2 -8.6l-4.4 -1.7z" fill="#ea7e7e" stroke="#ea7e7e" stroke-width="0.7"/>
<path d="M341.1 2500.4l4.1 -1.5l-7.5 -7.5l-4.1 1.5z" fill="#f6c0c0" stroke="#f6c0c0" stroke-width="0.7"/>
<path d="M329.4 2493.7l4.2 -0.8l-7.4 -7.9l-4.2 0.6z" fill="#f6aeae" stroke="#f6aeae" stroke-width="0.7"/>
<path d="M272.2 2441.7l4.7 -0.4l-7.1 -6.7l-4.7 0.2zM262.7 2447.1l4.7 -3.7l-7 -7l-4.8 3.8z" fill="#ea5a5a" stroke="#ea5a5a" stroke-width="0.7"/>
<path d="M310.4 2476.3l4.3 0.2l-7.3 -9.6l-4.4 -0.9z" fill="#ea8a8a" stroke="#ea8a8a" stroke-width="0.7"/>
<path d="M291.2 2456l4.6 0.6l-7.2 -7.5l-4.6 -1z" fill="#ea6c6c" stroke="#ea6c6c" stroke-width="0.7"/>
<path d="M348.8 2507.4l4 -1.7l-7.6 -6.8l-4.1 1.5z" fill="#f6ccd2" stroke="#f6ccd2" stroke-width="0.7"/>
<path d="M317.7 2485.9l4.3 -0.3l-7.3 -9.1l-4.3 -0.2z" fill="#f09c9c" stroke="#f09c9c" stroke-width="0.7"/>
<path d="M337 2501.4l4.1 -1l-7.5 -7.5l-4.2 0.8z" fill="#f6bac0" stroke="#f6bac0" stroke-width="0.7"/>
<path d="M372.7 2514.9l3.9 -2.4l-8.1 -5l-3.9 2.1zM368.7 2517.3l4 -2.4l-8.1 -5.3l-3.9 2.2z" fill="#fceaea" stroke="#fceaea" stroke-width="0.7"/>
<path d="M279.3 2448.7l4.7 -0.6l-7.1 -6.8l-4.7 0.4zM274.6 2450.5l4.7 -1.8l-7.1 -7l-4.8 1.7z" fill="#ea6060" stroke="#ea6060" stroke-width="0.7"/>
<path d="M298.6 2465.8l4.4 0.2l-7.2 -9.4l-4.6 -0.6z" fill="#ea7878" stroke="#ea7878" stroke-width="0.7"/>
<path d="M267.4 2443.4l4.8 -1.7l-7.1 -6.9l-4.7 1.6z" fill="#ea545a" stroke="#ea545a" stroke-width="0.7"/>
<path d="M325.2 2494.3l4.2 -0.6l-7.4 -8.1l-4.3 0.3zM230.6 2498.7l4.7 -6.1l-6.6 -4.2l-4.7 6.2z" fill="#f0a8a8" stroke="#f0a8a8" stroke-width="0.7"/>
<path d="M306 2476.8l4.4 -0.5l-7.4 -10.3l-4.4 -0.2z" fill="#ea8484" stroke="#ea8484" stroke-width="0.7"/>
<path d="M356.6 2513.8l4.1 -2l-7.9 -6.1l-4 1.7z" fill="#fcd8de" stroke="#fcd8de" stroke-width="0.7"/>
<path d="M344.7 2508.6l4.1 -1.2l-7.7 -7l-4.1 1z" fill="#f6c6cc" stroke="#f6c6cc" stroke-width="0.7"/>
<path d="M286.6 2456.8l4.6 -0.8l-7.2 -7.9l-4.7 0.6z" fill="#ea666c" stroke="#ea666c" stroke-width="0.7"/>
<path d="M313.4 2486.9l4.3 -1l-7.3 -9.6l-4.4 0.5z" fill="#f09696" stroke="#f09696" stroke-width="0.7"/>
<path d="M332.8 2502.1l4.2 -0.7l-7.6 -7.7l-4.2 0.6z" fill="#f6b4ba" stroke="#f6b4ba" stroke-width="0.7"/>
<path d="M239.9 2485.7l4.6 -7.4l-6.8 -5.3l-4.4 8.1z" fill="#ea8a90" stroke="#ea8a90" stroke-width="0.7"/>
<path d="M244.5 2478.3l4.6 -7.6l-6.9 -6l-4.5 8.3z" fill="#ea7e84" stroke="#ea7e84" stroke-width="0.7"/>
<path d="M235.3 2492.6l4.6 -6.9l-6.6 -4.6l-4.6 7.3z" fill="#ea9c9c" stroke="#ea9c9c" stroke-width="0.7"/>
<path d="M381 2519.9l3.9 -2.6l-8.3 -4.8l-3.9 2.4z" fill="#fcf0f0" stroke="#fcf0f0" stroke-width="0.7"/>
<path d="M249.1 2470.7l4.5 -8.4l-7 -6.3l-4.4 8.7z" fill="#e47272" stroke="#e47272" stroke-width="0.7"/>
<path d="M258.1 2453.7l4.6 -6.6l-7.1 -6.9l-4.5 6.8z" fill="#e45a60" stroke="#e45a60" stroke-width="0.7"/>
<path d="M294 2466.9l4.6 -1.1l-7.4 -9.8l-4.6 0.8z" fill="#ea7278" stroke="#ea7278" stroke-width="0.7"/>
<path d="M253.6 2462.3l4.5 -8.6l-7 -6.7l-4.5 9z" fill="#e46666" stroke="#e46666" stroke-width="0.7"/>
<path d="M318.9 2476.4L311.7 2467.5M326.2 2485L330.3 2483.7M326.2 2485L318.9 2476.4M356.8 2503.7L360.7 2501.8M368.5 2507.5L360.7 2501.8M295.8 2456.6L300.2 2458.3M322 2485.6L326.2 2485M333.6 2492.9L326.2 2485M265.1 2434.8L269.8 2434.6M276.9 2441.3L269.8 2434.6M352.8 2505.7L356.8 2503.7M341.1 2500.4L333.6 2492.9M376.6 2512.5L368.5 2507.5M284 2448.1L276.9 2441.3M291.2 2456L295.8 2456.6M260.4 2436.4L265.1 2434.8M317.7 2485.9L322 2485.6M348.8 2507.4L352.8 2505.7M348.8 2507.4L341.1 2500.4M291.2 2456L284 2448.1M255.6 2440.2L260.4 2436.4M233.3 2481.1L237.7 2473M237.7 2473L242.2 2464.7M228.7 2488.4L233.3 2481.1M384.9 2517.3L376.6 2512.5M242.2 2464.7L246.6 2456M249.1 2470.7L242.2 2464.7M251.1 2447L255.6 2440.2M262.7 2447.1L255.6 2440.2M286.6 2456.8L291.2 2456M298.6 2465.8L291.2 2456M246.6 2456L251.1 2447M224 2494.6L228.7 2488.4M235.3 2492.6L228.7 2488.4" stroke="#333" stroke-width="0.9" fill="none" stroke-linecap="round"/>
<path d="M320.9 2495.5l4.3 -1.2l-7.5 -8.4l-4.3 1z" fill="#f0a2a8" stroke="#f0a2a8" stroke-width="0.7"/>
<path d="M301.5 2478.2l4.5 -1.4l-7.4 -11l-4.6 1.1zM296.9 2480.4l4.6 -2.2l-7.5 -11.3l-4.6 2.1zM263.3 2483.5l4.6 -7.4l-7.2 -7.4l-4.6 8zM292.2 2483.6l4.7 -3.2l-7.5 -11.4l-4.7 3.4z" fill="#ea7e84" stroke="#ea7e84" stroke-width="0.7"/>
<path d="M225.8 2504.2l4.8 -5.5l-6.6 -4.1l-4.7 5.5zM232.4 2508.4l4.9 -5.6l-6.7 -4.1l-4.8 5.5zM239.3 2513.3l4.9 -5.6l-6.9 -4.9l-4.9 5.6z" fill="#f0b4b4" stroke="#f0b4b4" stroke-width="0.7"/>
<path d="M352.6 2515.4l4 -1.6l-7.8 -6.4l-4.1 1.2zM352.3 2526.1l4.2 -2.3l-8 -7l-4.2 1.8z" fill="#fcd8d8" stroke="#fcd8d8" stroke-width="0.7"/>
<path d="M364.7 2519.6l4 -2.3l-8 -5.5l-4.1 2zM360.7 2521.7l4 -2.1l-8.1 -5.8l-4 1.6z" fill="#fce4e4" stroke="#fce4e4" stroke-width="0.7"/>
<path d="M282 2458.7l4.6 -1.9l-7.3 -8.1l-4.7 1.8zM277.2 2462.2l4.8 -3.5l-7.4 -8.2l-4.7 3.6z" fill="#ea666c" stroke="#ea666c" stroke-width="0.7"/>
<path d="M269.9 2454.1l4.7 -3.6l-7.2 -7.1l-4.7 3.7z" fill="#ea6060" stroke="#ea6060" stroke-width="0.7"/>
<path d="M340.6 2509.5l4.1 -0.9l-7.7 -7.2l-4.2 0.7z" fill="#f6c0c6" stroke="#f6c0c6" stroke-width="0.7"/>
<path d="M308.9 2488.6l4.5 -1.7l-7.4 -10.1l-4.5 1.4zM304.4 2490.9l4.5 -2.3l-7.4 -10.4l-4.6 2.2zM299.8 2494l4.6 -3.1l-7.5 -10.5l-4.7 3.2z" fill="#f09096" stroke="#f09096" stroke-width="0.7"/>
<path d="M220.9 2509.6l4.9 -5.4l-6.5 -4.1l-4.8 5.4zM227.5 2513.9l4.9 -5.5l-6.6 -4.2l-4.9 5.4z" fill="#f0bac0" stroke="#f0bac0" stroke-width="0.7"/>
<path d="M377 2522.4l4 -2.5l-8.3 -5l-4 2.4zM373 2525l4 -2.6l-8.3 -5.1l-4 2.3zM200.7 2529.1l5.3 -3.7l-6.3 -4.2l-5.2 3.6z" fill="#fcf0f0" stroke="#fcf0f0" stroke-width="0.7"/>
<path d="M328.6 2503.3l4.2 -1.2l-7.6 -7.8l-4.3 1.2z" fill="#f6b4b4" stroke="#f6b4b4" stroke-width="0.7"/>
<path d="M256.1 2476.7l4.6 -8l-7.1 -6.4l-4.5 8.4z" fill="#e47878" stroke="#e47878" stroke-width="0.7"/>
<path d="M265.3 2460.5l4.6 -6.4l-7.2 -7l-4.6 6.6z" fill="#e46066" stroke="#e46066" stroke-width="0.7"/>
<path d="M251.5 2483.7l4.6 -7l-7 -6l-4.6 7.6zM287.5 2488.5l4.7 -4.9l-7.5 -11.2l-4.7 5.5z" fill="#ea848a" stroke="#ea848a" stroke-width="0.7"/>
<path d="M260.7 2468.7l4.6 -8.2l-7.2 -6.8l-4.5 8.6z" fill="#e46c6c" stroke="#e46c6c" stroke-width="0.7"/>
<path d="M289.4 2469l4.6 -2.1l-7.4 -10.1l-4.6 1.9zM284.7 2472.4l4.7 -3.4l-7.4 -10.3l-4.8 3.5z" fill="#ea7272" stroke="#ea7272" stroke-width="0.7"/>
<path d="M246.8 2490.5l4.7 -6.8l-7 -5.4l-4.6 7.4z" fill="#ea9090" stroke="#ea9090" stroke-width="0.7"/>
<path d="M216 2515.2l4.9 -5.6l-6.4 -4.1l-4.9 5.6zM222.6 2519.5l4.9 -5.6l-6.6 -4.3l-4.9 5.6z" fill="#f6c6c6" stroke="#f6c6c6" stroke-width="0.7"/>
<path d="M316.5 2497.3l4.4 -1.8l-7.5 -8.6l-4.5 1.7zM312 2499.7l4.5 -2.4l-7.6 -8.7l-4.5 2.3zM249 2502l4.8 -6l-7 -5.5l-4.7 6.4zM307.4 2502.9l4.6 -3.2l-7.6 -8.8l-4.6 3.1z" fill="#f0a2a2" stroke="#f0a2a2" stroke-width="0.7"/>
<path d="M242.1 2496.9l4.7 -6.4l-6.9 -4.8l-4.6 6.9z" fill="#ea9c9c" stroke="#ea9c9c" stroke-width="0.7"/>
<path d="M389.5 2524.5l3.9 -2.6l-8.5 -4.6l-3.9 2.6zM385.6 2527.2l3.9 -2.7l-8.5 -4.6l-4 2.5zM381.6 2529.9l4 -2.7l-8.6 -4.8l-4 2.6zM195.3 2532.1l5.4 -3l-6.2 -4.3l-5.5 3z" fill="#fcf6f6" stroke="#fcf6f6" stroke-width="0.7"/>
<path d="M237.3 2502.8l4.8 -5.9l-6.8 -4.3l-4.7 6.1zM256.2 2508.5l4.9 -5.5l-7.3 -7l-4.8 6z" fill="#f0a8a8" stroke="#f0a8a8" stroke-width="0.7"/>
<path d="M348.5 2516.8l4.1 -1.4l-7.9 -6.8l-4.1 0.9zM211.1 2520.6l4.9 -5.4l-6.4 -4.1l-4.9 5.4zM217.6 2524.9l5 -5.4l-6.6 -4.3l-4.9 5.4z" fill="#f6d2d2" stroke="#f6d2d2" stroke-width="0.7"/>
<path d="M336.4 2510.9l4.2 -1.4l-7.8 -7.4l-4.2 1.2zM234.3 2518.7l5 -5.4l-6.9 -4.9l-4.9 5.5z" fill="#f6c0c0" stroke="#f6c0c0" stroke-width="0.7"/>
<path d="M272.6 2468.3l4.6 -6.1l-7.3 -8.1l-4.6 6.4z" fill="#ea6c6c" stroke="#ea6c6c" stroke-width="0.7"/>
<path d="M267.9 2476.1l4.7 -7.8l-7.3 -7.8l-4.6 8.2z" fill="#e47278" stroke="#e47278" stroke-width="0.7"/>
<path d="M324.2 2505.3l4.4 -2l-7.7 -7.8l-4.4 1.8zM319.7 2507.7l4.5 -2.4l-7.7 -8l-4.5 2.4z" fill="#f6aeae" stroke="#f6aeae" stroke-width="0.7"/>
<path d="M258.6 2489.9l4.7 -6.4l-7.2 -6.8l-4.6 7zM282.8 2494.5l4.7 -6l-7.5 -10.6l-4.7 7z" fill="#ea8a90" stroke="#ea8a90" stroke-width="0.7"/>
<path d="M206 2525.4l5.1 -4.8l-6.4 -4.1l-5 4.7zM212.5 2529.7l5.1 -4.8l-6.5 -4.3l-5.1 4.8z" fill="#f6e4e4" stroke="#f6e4e4" stroke-width="0.7"/>
<path d="M253.8 2496l4.8 -6.1l-7.1 -6.2l-4.7 6.8zM265.9 2497.4l4.7 -5.9l-7.3 -8l-4.7 6.4zM295.1 2498.5l4.7 -4.5l-7.6 -10.4l-4.7 4.9zM278.1 2500.4l4.7 -5.9l-7.5 -9.6l-4.7 6.6z" fill="#f09696" stroke="#f09696" stroke-width="0.7"/>
<path d="M280 2477.9l4.7 -5.5l-7.5 -10.2l-4.6 6.1z" fill="#ea7878" stroke="#ea7878" stroke-width="0.7"/>
<path d="M356.5 2523.8l4.2 -2.1l-8.1 -6.3l-4.1 1.4z" fill="#fcdede" stroke="#fcdede" stroke-width="0.7"/>
<path d="M275.3 2484.9l4.7 -7l-7.4 -9.6l-4.7 7.8z" fill="#ea7e7e" stroke="#ea7e7e" stroke-width="0.7"/>
<path d="M344.3 2518.6l4.2 -1.8l-7.9 -7.3l-4.2 1.4z" fill="#f6cccc" stroke="#f6cccc" stroke-width="0.7"/>
<path d="M398.3 2528.8l3.9 -2.7l-8.8 -4.2l-3.9 2.6zM394.4 2531.6l3.9 -2.8l-8.8 -4.3l-3.9 2.7z" fill="#fcfcfc" stroke="#fcfcfc" stroke-width="0.7"/>
<path d="M368.9 2527.6l4.1 -2.6l-8.3 -5.4l-4 2.1z" fill="#fceaf0" stroke="#fceaf0" stroke-width="0.7"/>
<path d="M270.6 2491.5l4.7 -6.6l-7.4 -8.8l-4.6 7.4z" fill="#ea8a8a" stroke="#ea8a8a" stroke-width="0.7"/>
<path d="M332 2513l4.4 -2.1l-7.8 -7.6l-4.4 2z" fill="#f6baba" stroke="#f6baba" stroke-width="0.7"/>
<path d="M244.2 2507.7l4.8 -5.7l-6.9 -5.1l-4.8 5.9z" fill="#f0a8ae" stroke="#f0a8ae" stroke-width="0.7"/>
<path d="M261.1 2503l4.8 -5.6l-7.3 -7.5l-4.8 6.1z" fill="#f09ca2" stroke="#f09ca2" stroke-width="0.7"/>
<path d="M290.4 2503.8l4.7 -5.3l-7.6 -10l-4.7 6z" fill="#f09c9c" stroke="#f09c9c" stroke-width="0.7"/>
<path d="M364.8 2530.1l4.1 -2.5l-8.2 -5.9l-4.2 2.1z" fill="#fceaea" stroke="#fceaea" stroke-width="0.7"/>
<path d="M313.4 2486.9L317.7 2485.9M306 2476.8L298.6 2465.8M219.3 2500.1L224 2494.6M344.7 2508.6L348.8 2507.4M356.6 2513.8L348.8 2507.4M313.4 2486.9L306 2476.8M214.5 2505.5L219.3 2500.1M269.9 2454.1L262.7 2447.1M256.1 2476.7L249.1 2470.7M282 2458.7L286.6 2456.8M209.6 2511.1L214.5 2505.5M220.9 2509.6L214.5 2505.5M308.9 2488.6L313.4 2486.9M320.9 2495.5L313.4 2486.9M381 2519.9L384.9 2517.3M393.4 2521.9L384.9 2517.3M242.1 2496.9L235.3 2492.6M364.7 2519.6L356.6 2513.8M340.6 2509.5L344.7 2508.6M204.7 2516.5L209.6 2511.1M277.2 2462.2L269.9 2454.1M277.2 2462.2L282 2458.7M328.6 2503.3L320.9 2495.5M263.3 2483.5L256.1 2476.7M199.7 2521.2L204.7 2516.5M377 2522.4L381 2519.9M304.4 2490.9L308.9 2488.6M272.6 2468.3L277.2 2462.2M284.7 2472.4L277.2 2462.2M267.9 2476.1L272.6 2468.3M336.4 2510.9L340.6 2509.5M227.5 2513.9L220.9 2509.6M402.2 2526.1L393.4 2521.9M373 2525L364.7 2519.6M194.5 2524.8L199.7 2521.2M206 2525.4L199.7 2521.2M263.3 2483.5L267.9 2476.1M292.2 2483.6L284.7 2472.4M336.4 2510.9L328.6 2503.3M249 2502L242.1 2496.9M258.6 2489.9L263.3 2483.5M270.6 2491.5L263.3 2483.5M299.8 2494L304.4 2490.9M373 2525L377 2522.4M299.8 2494L292.2 2483.6M253.8 2496L258.6 2489.9M189 2527.8L194.5 2524.8M249 2502L253.8 2496" stroke="#333" stroke-width="0.9" fill="none" stroke-linecap="round"/>
<path d="M340 2520.9l4.3 -2.3l-7.9 -7.7l-4.4 2.1zM229.4 2524.1l4.9 -5.4l-6.8 -4.8l-4.9 5.6zM331 2526.7l4.5 -3.1l-7.9 -8.1l-4.6 3.3zM296.3 2529.4l4.8 -4l-7.8 -8.1l-4.8 4.4z" fill="#f6c6cc" stroke="#f6c6cc" stroke-width="0.7"/>
<path d="M302.8 2507.2l4.6 -4.3l-7.6 -8.9l-4.7 4.5zM285.7 2509l4.7 -5.2l-7.6 -9.3l-4.7 5.9z" fill="#f0a2a8" stroke="#f0a2a8" stroke-width="0.7"/>
<path d="M273.3 2505.7l4.8 -5.3l-7.5 -8.9l-4.7 5.9z" fill="#f0a2a2" stroke="#f0a2a2" stroke-width="0.7"/>
<path d="M327.6 2515.5l4.4 -2.5l-7.8 -7.7l-4.5 2.4zM246.4 2519.2l4.9 -5.3l-7.1 -6.2l-4.9 5.6zM323 2518.8l4.6 -3.3l-7.9 -7.8l-4.5 3.2zM305.8 2520.6l4.7 -5.2l-7.7 -8.2l-4.8 5.2zM258.7 2520.9l4.9 -5l-7.4 -7.4l-4.9 5.4zM288.5 2521.7l4.8 -4.4l-7.6 -8.3l-4.8 4.8z" fill="#f6baba" stroke="#f6baba" stroke-width="0.7"/>
<path d="M315.2 2510.9l4.5 -3.2l-7.7 -8l-4.6 3.2z" fill="#f6aeae" stroke="#f6aeae" stroke-width="0.7"/>
<path d="M377.5 2532.7l4.1 -2.8l-8.6 -4.9l-4.1 2.6zM373.4 2535.4l4.1 -2.7l-8.6 -5.1l-4.1 2.5zM201.7 2536.6l5.5 -3.1l-6.5 -4.4l-5.4 3zM369.2 2538.3l4.2 -2.9l-8.6 -5.3l-4.2 2.7zM208.3 2541.3l5.5 -3.3l-6.6 -4.5l-5.5 3.1zM364.9 2541.2l4.3 -2.9l-8.6 -5.5l-4.3 2.8z" fill="#fcf6f6" stroke="#fcf6f6" stroke-width="0.7"/>
<path d="M251.3 2513.9l4.9 -5.4l-7.2 -6.5l-4.8 5.7zM263.6 2515.9l4.9 -5.1l-7.4 -7.8l-4.9 5.5z" fill="#f0aeb4" stroke="#f0aeb4" stroke-width="0.7"/>
<path d="M268.5 2510.8l4.8 -5.1l-7.4 -8.3l-4.8 5.6z" fill="#f0a8a8" stroke="#f0a8a8" stroke-width="0.7"/>
<path d="M407.4 2533.3l3.8 -2.8l-9 -4.4l-3.9 2.7zM189.7 2535.2l5.6 -3.1l-6.3 -4.3l-5.5 3zM390.4 2534.4l4 -2.8l-8.8 -4.4l-4 2.7zM403.5 2536.1l3.9 -2.8l-9.1 -4.5l-3.9 2.8zM386.4 2537.2l4 -2.8l-8.8 -4.5l-4.1 2.8zM196.1 2539.8l5.6 -3.2l-6.4 -4.5l-5.6 3.1zM399.5 2539l4 -2.9l-9.1 -4.5l-4 2.8zM382.3 2540.1l4.1 -2.9l-8.9 -4.5l-4.1 2.7zM395.5 2542l4 -3l-9.1 -4.6l-4 2.8z" fill="#fcfcfc" stroke="#fcfcfc" stroke-width="0.7"/>
<path d="M207.2 2533.5l5.3 -3.8l-6.5 -4.3l-5.3 3.7zM213.8 2538l5.4 -3.8l-6.7 -4.5l-5.3 3.8zM220.6 2542.8l5.4 -3.8l-6.8 -4.8l-5.4 3.8z" fill="#fcf0f0" stroke="#fcf0f0" stroke-width="0.7"/>
<path d="M298 2512.4l4.8 -5.2l-7.7 -8.7l-4.7 5.3z" fill="#f0a8ae" stroke="#f0a8ae" stroke-width="0.7"/>
<path d="M280.9 2513.8l4.8 -4.8l-7.6 -8.6l-4.8 5.3z" fill="#f0aeae" stroke="#f0aeae" stroke-width="0.7"/>
<path d="M310.5 2515.4l4.7 -4.5l-7.8 -8l-4.6 4.3zM293.3 2517.3l4.7 -4.9l-7.6 -8.6l-4.7 5.2zM276 2518.5l4.9 -4.7l-7.6 -8.1l-4.8 5.1z" fill="#f6b4b4" stroke="#f6b4b4" stroke-width="0.7"/>
<path d="M224.3 2529.5l5.1 -5.4l-6.8 -4.6l-5 5.4zM231.2 2534.5l5.1 -5l-6.9 -5.4l-5.1 5.4z" fill="#f6d8d8" stroke="#f6d8d8" stroke-width="0.7"/>
<path d="M348 2528.6l4.3 -2.5l-8 -7.5l-4.3 2.3zM343.6 2531.4l4.4 -2.8l-8 -7.7l-4.5 2.7zM339.2 2534.5l4.4 -3.1l-8.1 -7.8l-4.5 3.1zM304.2 2536.6l4.7 -3.7l-7.8 -7.5l-4.8 4zM334.6 2538l4.6 -3.5l-8.2 -7.8l-4.6 4.1z" fill="#fcd8d8" stroke="#fcd8d8" stroke-width="0.7"/>
<path d="M335.5 2523.6l4.5 -2.7l-8 -7.9l-4.4 2.5zM313.7 2528.3l4.7 -5.1l-7.9 -7.8l-4.7 5.2zM266.1 2527.8l5 -4.7l-7.5 -7.2l-4.9 5zM278.7 2530l4.9 -4.1l-7.6 -7.4l-4.9 4.6z" fill="#f6c6c6" stroke="#f6c6c6" stroke-width="0.7"/>
<path d="M360.6 2532.8l4.2 -2.7l-8.3 -6.3l-4.2 2.3z" fill="#fceaea" stroke="#fceaea" stroke-width="0.7"/>
<path d="M241.4 2524.4l5 -5.2l-7.1 -5.9l-5 5.4zM253.7 2525.9l5 -5l-7.4 -7l-4.9 5.3z" fill="#f6c0c6" stroke="#f6c0c6" stroke-width="0.7"/>
<path d="M219.2 2534.2l5.1 -4.7l-6.7 -4.6l-5.1 4.8z" fill="#f6e4e4" stroke="#f6e4e4" stroke-width="0.7"/>
<path d="M318.4 2523.2l4.6 -4.4l-7.8 -7.9l-4.7 4.5zM301.1 2525.4l4.7 -4.8l-7.8 -8.2l-4.7 4.9zM283.6 2525.9l4.9 -4.2l-7.6 -7.9l-4.9 4.7z" fill="#f6c0c0" stroke="#f6c0c0" stroke-width="0.7"/>
<path d="M236.3 2529.5l5.1 -5.1l-7.1 -5.7l-4.9 5.4zM248.6 2530.6l5.1 -4.7l-7.3 -6.7l-5 5.2zM326.4 2530.8l4.6 -4.1l-8 -7.9l-4.6 4.4zM261.1 2532.4l5 -4.6l-7.4 -6.9l-5 5zM291.4 2533.1l4.9 -3.7l-7.8 -7.7l-4.9 4.2zM273.7 2534.3l5 -4.3l-7.6 -6.9l-5 4.7z" fill="#f6cccc" stroke="#f6cccc" stroke-width="0.7"/>
<path d="M271.1 2523.1l4.9 -4.6l-7.5 -7.7l-4.9 5.1z" fill="#f6bac0" stroke="#f6bac0" stroke-width="0.7"/>
<path d="M356.3 2535.6l4.3 -2.8l-8.3 -6.7l-4.3 2.5z" fill="#fce4ea" stroke="#fce4ea" stroke-width="0.7"/>
<path d="M308.9 2532.9l4.8 -4.6l-7.9 -7.7l-4.7 4.8z" fill="#f6ccd2" stroke="#f6ccd2" stroke-width="0.7"/>
<path d="M226 2539l5.2 -4.5l-6.9 -5l-5.1 4.7zM352 2538.4l4.3 -2.8l-8.3 -7l-4.4 2.8z" fill="#fce4e4" stroke="#fce4e4" stroke-width="0.7"/>
<path d="M243.5 2535.3l5.1 -4.7l-7.2 -6.2l-5.1 5.1zM321.7 2535.3l4.7 -4.5l-8 -7.6l-4.7 5.1z" fill="#f6d2d2" stroke="#f6d2d2" stroke-width="0.7"/>
<path d="M332 2513L336.4 2510.9M344.3 2518.6L336.4 2510.9M295.1 2498.5L299.8 2494M307.4 2502.9L299.8 2494M278.1 2500.4L270.6 2491.5M368.9 2527.6L373 2525M381.6 2529.9L373 2525M244.2 2507.7L249 2502M256.2 2508.5L249 2502M234.3 2518.7L227.5 2513.9M407.4 2533.3L411.2 2530.5M411.2 2530.5L402.2 2526.1M212.5 2529.7L206 2525.4M290.4 2503.8L295.1 2498.5M183.5 2530.8L189 2527.8M189.7 2535.2L183.5 2530.8M239.3 2513.3L244.2 2507.7M285.7 2509L278.1 2500.4M315.2 2510.9L307.4 2502.9M352.3 2526.1L344.3 2518.6M327.6 2515.5L332 2513M285.7 2509L290.4 2503.8M364.8 2530.1L368.9 2527.6M234.3 2518.7L239.3 2513.3M403.5 2536.1L407.4 2533.3M263.6 2515.9L256.2 2508.5M280.9 2513.8L285.7 2509M293.3 2517.3L285.7 2509M323 2518.8L315.2 2510.9M229.4 2524.1L234.3 2518.7M241.4 2524.4L234.3 2518.7M390.4 2534.4L381.6 2529.9M323 2518.8L327.6 2515.5M360.6 2532.8L352.3 2526.1M219.2 2534.2L212.5 2529.7M360.6 2532.8L364.8 2530.1M196.1 2539.8L189.7 2535.2M224.3 2529.5L229.4 2524.1M276 2518.5L280.9 2513.8M399.5 2539L403.5 2536.1M271.1 2523.1L263.6 2515.9M301.1 2525.4L293.3 2517.3M318.4 2523.2L323 2518.8M331 2526.7L323 2518.8M219.2 2534.2L224.3 2529.5M271.1 2523.1L276 2518.5M248.6 2530.6L241.4 2524.4M356.3 2535.6L360.6 2532.8M369.2 2538.3L360.6 2532.8M313.7 2528.3L318.4 2523.2M395.5 2542L399.5 2539M399.5 2539L390.4 2534.4M308.9 2532.9L301.1 2525.4M213.8 2538L219.2 2534.2M226 2539L219.2 2534.2M266.1 2527.8L271.1 2523.1M278.7 2530L271.1 2523.1M339.2 2534.5L331 2526.7" stroke="#333" stroke-width="0.9" fill="none" stroke-linecap="round"/>
<path d="M238.3 2539.9l5.2 -4.6l-7.2 -5.8l-5.1 5zM250.9 2541.1l5.1 -4.3l-7.4 -6.2l-5.1 4.7zM330 2541.8l4.6 -3.8l-8.2 -7.2l-4.7 4.5zM263.5 2542.7l5.2 -4.2l-7.6 -6.1l-5.1 4.4zM294.4 2543.2l4.9 -3.3l-7.9 -6.8l-4.9 3.7zM276.4 2544.6l5.1 -4l-7.8 -6.3l-5 4.2zM289.4 2546.8l5 -3.6l-7.9 -6.4l-5 3.8z" fill="#fcdede" stroke="#fcdede" stroke-width="0.7"/>
<path d="M378.1 2543.1l4.2 -3l-8.9 -4.7l-4.2 2.9zM202.7 2544.5l5.6 -3.2l-6.6 -4.7l-5.6 3.2zM391.4 2544.9l4.1 -2.9l-9.1 -4.8l-4.1 2.9zM373.8 2546.1l4.3 -3l-8.9 -4.8l-4.3 2.9zM387.2 2548l4.2 -3.1l-9.1 -4.8l-4.2 3zM209.5 2549.4l5.6 -3.4l-6.8 -4.7l-5.6 3.2zM369.5 2549.1l4.3 -3l-8.9 -4.9l-4.3 3zM383 2551.1l4.2 -3.1l-9.1 -4.9l-4.3 3zM365.1 2552.2l4.4 -3.1l-8.9 -4.9l-4.4 3zM216.4 2554.3l5.7 -3.3l-7 -5l-5.6 3.4zM378.7 2554.2l4.3 -3.1l-9.2 -5l-4.3 3z" fill="#fcfcfc" stroke="#fcfcfc" stroke-width="0.7"/>
<path d="M256 2536.8l5.1 -4.4l-7.4 -6.5l-5.1 4.7zM286.5 2536.8l4.9 -3.7l-7.8 -7.2l-4.9 4.1z" fill="#f6d2d2" stroke="#f6d2d2" stroke-width="0.7"/>
<path d="M347.5 2541.4l4.5 -3l-8.4 -7l-4.4 3.1z" fill="#fce4ea" stroke="#fce4ea" stroke-width="0.7"/>
<path d="M317 2539.5l4.7 -4.2l-8 -7l-4.8 4.6z" fill="#fcd8de" stroke="#fcd8de" stroke-width="0.7"/>
<path d="M360.6 2544.2l4.3 -3l-8.6 -5.6l-4.3 2.8zM215.1 2546l5.5 -3.2l-6.8 -4.8l-5.5 3.3zM356.2 2547.2l4.4 -3l-8.6 -5.8l-4.5 3zM222.1 2551l5.5 -3.3l-7 -4.9l-5.5 3.2zM351.7 2550.3l4.5 -3.1l-8.7 -5.8l-4.5 3.2zM234.8 2552.7l5.5 -3.5l-7.3 -5.1l-5.4 3.6zM347.1 2553.5l4.6 -3.2l-8.7 -5.7l-4.6 3.3z" fill="#fcf6f6" stroke="#fcf6f6" stroke-width="0.7"/>
<path d="M268.7 2538.5l5 -4.2l-7.6 -6.5l-5 4.6z" fill="#f6d2d8" stroke="#f6d2d8" stroke-width="0.7"/>
<path d="M233 2544.1l5.3 -4.2l-7.1 -5.4l-5.2 4.5zM343 2544.6l4.5 -3.2l-8.3 -6.9l-4.6 3.5zM338.4 2547.9l4.6 -3.3l-8.4 -6.6l-4.6 3.8zM240.3 2549.2l5.3 -3.9l-7.3 -5.4l-5.3 4.2zM320.5 2548.8l4.8 -3.3l-8.3 -6l-4.8 3.5zM253.1 2550.6l5.2 -3.9l-7.4 -5.6l-5.3 4.2zM315.7 2552l4.8 -3.2l-8.3 -5.8l-4.8 3.1zM266 2552.2l5.2 -3.8l-7.7 -5.7l-5.2 4zM297.5 2552.8l5 -3.4l-8.1 -6.2l-5 3.6z" fill="#fceaea" stroke="#fceaea" stroke-width="0.7"/>
<path d="M299.3 2539.9l4.9 -3.3l-7.9 -7.2l-4.9 3.7zM281.5 2540.6l5 -3.8l-7.8 -6.8l-5 4.3z" fill="#fcd8d8" stroke="#fcd8d8" stroke-width="0.7"/>
<path d="M312.2 2543l4.8 -3.5l-8.1 -6.6l-4.7 3.7zM245.6 2545.3l5.3 -4.2l-7.4 -5.8l-5.2 4.6zM325.3 2545.5l4.7 -3.7l-8.3 -6.5l-4.7 4.2zM307.4 2546.1l4.8 -3.1l-8 -6.4l-4.9 3.3zM258.3 2546.7l5.2 -4l-7.5 -5.9l-5.1 4.3zM271.2 2548.4l5.2 -3.8l-7.7 -6.1l-5.2 4.2zM302.5 2549.4l4.9 -3.3l-8.1 -6.2l-4.9 3.3zM284.3 2550.5l5.1 -3.7l-7.9 -6.2l-5.1 4z" fill="#fce4e4" stroke="#fce4e4" stroke-width="0.7"/>
<path d="M227.6 2547.7l5.4 -3.6l-7 -5.1l-5.4 3.8zM333.7 2551.2l4.7 -3.3l-8.4 -6.1l-4.7 3.7zM247.7 2554.4l5.4 -3.8l-7.5 -5.3l-5.3 3.9zM329 2554.5l4.7 -3.3l-8.4 -5.7l-4.8 3.3z" fill="#fcf0f0" stroke="#fcf0f0" stroke-width="0.7"/>
<path d="M202.7 2544.5L196.1 2539.8M308.9 2532.9L313.7 2528.3M352 2538.4L356.3 2535.6M391.4 2544.9L395.5 2542M261.1 2532.4L266.1 2527.8M256 2536.8L248.6 2530.6M208.3 2541.3L213.8 2538M378.1 2543.1L369.2 2538.3M304.2 2536.6L308.9 2532.9M317 2539.5L308.9 2532.9M347.5 2541.4L339.2 2534.5M286.5 2536.8L278.7 2530M256 2536.8L261.1 2532.4M347.5 2541.4L352 2538.4M233 2544.1L226 2539M387.2 2548L391.4 2544.9M202.7 2544.5L208.3 2541.3M209.5 2549.4L202.7 2544.5M299.3 2539.9L304.2 2536.6M250.9 2541.1L256 2536.8M263.5 2542.7L256 2536.8M325.3 2545.5L317 2539.5M343 2544.6L347.5 2541.4M356.2 2547.2L347.5 2541.4M294.4 2543.2L286.5 2536.8M383 2551.1L387.2 2548M387.2 2548L378.1 2543.1M294.4 2543.2L299.3 2539.9M245.6 2545.3L250.9 2541.1M240.3 2549.2L233 2544.1M216.4 2554.3L209.5 2549.4M338.4 2547.9L343 2544.6M271.2 2548.4L263.5 2542.7M378.7 2554.2L383 2551.1M240.3 2549.2L245.6 2545.3M289.4 2546.8L294.4 2543.2M302.5 2549.4L294.4 2543.2M333.7 2551.2L325.3 2545.5" stroke="#333" stroke-width="0.9" fill="none" stroke-linecap="round"/>
<path d="M360.6 2555.4l4.5 -3.2l-8.9 -5l-4.5 3.1zM374.3 2557.4l4.4 -3.2l-9.2 -5.1l-4.4 3.1zM223.6 2559.4l5.6 -3.3l-7.1 -5.1l-5.7 3.3zM356.1 2558.6l4.5 -3.2l-8.9 -5.1l-4.6 3.2zM369.8 2560.6l4.5 -3.2l-9.2 -5.2l-4.5 3.2zM351.4 2561.9l4.7 -3.3l-9 -5.1l-4.7 3.2zM230.9 2564.7l5.7 -3.4l-7.4 -5.2l-5.6 3.3zM365.3 2563.9l4.5 -3.3l-9.2 -5.2l-4.5 3.2zM346.7 2565.2l4.7 -3.3l-9 -5.2l-4.7 3.3zM244.2 2566.6l5.6 -3.4l-7.6 -5.3l-5.6 3.4zM360.7 2567.3l4.6 -3.4l-9.2 -5.3l-4.7 3.3z" fill="#fcfcfc" stroke="#fcfcfc" stroke-width="0.7"/>
<path d="M229.2 2556.1l5.6 -3.4l-7.2 -5l-5.5 3.3zM342.4 2556.7l4.7 -3.2l-8.7 -5.6l-4.7 3.3zM242.2 2557.9l5.5 -3.5l-7.4 -5.2l-5.5 3.5zM324.2 2557.7l4.8 -3.2l-8.5 -5.7l-4.8 3.2zM337.7 2560l4.7 -3.3l-8.7 -5.5l-4.7 3.3zM236.6 2561.3l5.6 -3.4l-7.4 -5.2l-5.6 3.4zM319.3 2561l4.9 -3.3l-8.5 -5.7l-4.9 3.2zM249.8 2563.2l5.5 -3.5l-7.6 -5.3l-5.5 3.5zM332.9 2563.2l4.8 -3.2l-8.7 -5.5l-4.8 3.2zM314.3 2564.3l5 -3.3l-8.5 -5.8l-5 3.4zM263.1 2565.1l5.5 -3.6l-7.9 -5.5l-5.4 3.7zM276.6 2567l5.4 -3.6l-8.1 -5.6l-5.3 3.7zM309.2 2567.8l5.1 -3.5l-8.5 -5.7l-5.1 3.5z" fill="#fcf6f6" stroke="#fcf6f6" stroke-width="0.7"/>
<path d="M279.1 2554.2l5.2 -3.7l-7.9 -5.9l-5.2 3.8zM292.4 2556.3l5.1 -3.5l-8.1 -6l-5.1 3.7zM273.9 2557.8l5.2 -3.6l-7.9 -5.8l-5.2 3.8z" fill="#fceaea" stroke="#fceaea" stroke-width="0.7"/>
<path d="M310.8 2555.2l4.9 -3.2l-8.3 -5.9l-4.9 3.3zM305.8 2558.6l5 -3.4l-8.3 -5.8l-5 3.4zM255.3 2559.7l5.4 -3.7l-7.6 -5.4l-5.4 3.8zM287.2 2559.9l5.2 -3.6l-8.1 -5.8l-5.2 3.7zM268.6 2561.5l5.3 -3.7l-7.9 -5.6l-5.3 3.8zM300.7 2562.1l5.1 -3.5l-8.3 -5.8l-5.1 3.5zM282 2563.4l5.2 -3.5l-8.1 -5.7l-5.2 3.6z" fill="#fcf0f0" stroke="#fcf0f0" stroke-width="0.7"/>
<path d="M260.7 2556l5.3 -3.8l-7.7 -5.5l-5.2 3.9z" fill="#fceaf0" stroke="#fceaf0" stroke-width="0.7"/>
<path d="M295.5 2565.6l5.2 -3.5l-8.3 -5.8l-5.2 3.6z" fill="#fcf0f6" stroke="#fcf0f6" stroke-width="0.7"/>
<path d="M328 2566.6l4.9 -3.4l-8.7 -5.5l-4.9 3.3z" fill="#fcf6fc" stroke="#fcf6fc" stroke-width="0.7"/>
<path d="M365.1 2552.2L356.2 2547.2M333.7 2551.2L338.4 2547.9M374.3 2557.4L378.7 2554.2M234.8 2552.7L240.3 2549.2M247.7 2554.4L240.3 2549.2M284.3 2550.5L289.4 2546.8M223.6 2559.4L216.4 2554.3M279.1 2554.2L271.2 2548.4M310.8 2555.2L302.5 2549.4M329 2554.5L333.7 2551.2M342.4 2556.7L333.7 2551.2M369.8 2560.6L374.3 2557.4M374.3 2557.4L365.1 2552.2M229.2 2556.1L234.8 2552.7M279.1 2554.2L284.3 2550.5M255.3 2559.7L247.7 2554.4M324.2 2557.7L329 2554.5M223.6 2559.4L229.2 2556.1M230.9 2564.7L223.6 2559.4M365.3 2563.9L369.8 2560.6M273.9 2557.8L279.1 2554.2M287.2 2559.9L279.1 2554.2M319.3 2561L310.8 2555.2M351.4 2561.9L342.4 2556.7M319.3 2561L324.2 2557.7M268.6 2561.5L273.9 2557.8M360.7 2567.3L365.3 2563.9" stroke="#333" stroke-width="0.9" fill="none" stroke-linecap="round"/>
<path d="M257.6 2568.6l5.5 -3.5l-7.8 -5.4l-5.5 3.5zM290.3 2569.1l5.2 -3.5l-8.3 -5.7l-5.2 3.5zM271.2 2570.6l5.4 -3.6l-8 -5.5l-5.5 3.6zM304 2571.3l5.2 -3.5l-8.5 -5.7l-5.2 3.5zM284.9 2572.7l5.4 -3.6l-8.3 -5.7l-5.4 3.6zM298.8 2574.8l5.2 -3.5l-8.5 -5.7l-5.2 3.5z" fill="#fcf6f6" stroke="#fcf6f6" stroke-width="0.7"/>
<path d="M341.9 2568.6l4.8 -3.4l-9 -5.2l-4.8 3.2zM238.5 2570.1l5.7 -3.5l-7.6 -5.3l-5.7 3.4zM323 2570l5 -3.4l-8.7 -5.6l-5 3.3zM356 2570.7l4.7 -3.4l-9.3 -5.4l-4.7 3.3zM252 2572.1l5.6 -3.5l-7.8 -5.4l-5.6 3.4zM337 2572.1l4.9 -3.5l-9 -5.4l-4.9 3.4zM318 2573.5l5 -3.5l-8.7 -5.7l-5.1 3.5zM265.6 2574.2l5.6 -3.6l-8.1 -5.5l-5.5 3.5zM351.2 2574.2l4.8 -3.5l-9.3 -5.5l-4.8 3.4zM246.3 2575.6l5.7 -3.5l-7.8 -5.5l-5.7 3.5zM332.1 2575.6l4.9 -3.5l-9 -5.5l-5 3.4zM279.5 2576.3l5.4 -3.6l-8.3 -5.7l-5.4 3.6zM312.8 2577l5.2 -3.5l-8.8 -5.7l-5.2 3.5zM260 2577.7l5.6 -3.5l-8 -5.6l-5.6 3.5zM346.3 2577.7l4.9 -3.5l-9.3 -5.6l-4.9 3.5zM293.4 2578.4l5.4 -3.6l-8.5 -5.7l-5.4 3.6zM327 2579.2l5.1 -3.6l-9.1 -5.6l-5 3.5zM273.9 2579.9l5.6 -3.6l-8.3 -5.7l-5.6 3.6zM307.6 2580.6l5.2 -3.6l-8.8 -5.7l-5.2 3.5zM254.3 2581.4l5.7 -3.7l-8 -5.6l-5.7 3.5zM341.4 2581.3l4.9 -3.6l-9.3 -5.6l-4.9 3.5zM288 2582.1l5.4 -3.7l-8.5 -5.7l-5.4 3.6z" fill="#fcfcfc" stroke="#fcfcfc" stroke-width="0.7"/>
<path d="M263.1 2565.1L255.3 2559.7M295.5 2565.6L287.2 2559.9M238.5 2570.1L230.9 2564.7M314.3 2564.3L319.3 2561M328 2566.6L319.3 2561M263.1 2565.1L268.6 2561.5M356 2570.7L360.7 2567.3M360.7 2567.3L351.4 2561.9M309.2 2567.8L314.3 2564.3M257.6 2568.6L263.1 2565.1M271.2 2570.6L263.1 2565.1M351.2 2574.2L356 2570.7M304 2571.3L295.5 2565.6M246.3 2575.6L238.5 2570.1M337 2572.1L328 2566.6M304 2571.3L309.2 2567.8M252 2572.1L257.6 2568.6M346.3 2577.7L351.2 2574.2M279.5 2576.3L271.2 2570.6M298.8 2574.8L304 2571.3M312.8 2577L304 2571.3M246.3 2575.6L252 2572.1M254.3 2581.4L246.3 2575.6M341.4 2581.3L346.3 2577.7M346.3 2577.7L337 2572.1" stroke="#333" stroke-width="0.9" fill="none" stroke-linecap="round"/>
<path d="M321.9 2582.8l5.1 -3.6l-9 -5.7l-5.2 3.5zM268.3 2583.6l5.6 -3.7l-8.3 -5.7l-5.6 3.5zM302.2 2584.3l5.4 -3.7l-8.8 -5.8l-5.4 3.6zM336.3 2585l5.1 -3.7l-9.3 -5.7l-5.1 3.6zM282.4 2585.8l5.6 -3.7l-8.5 -5.8l-5.6 3.6zM316.6 2586.5l5.3 -3.7l-9.1 -5.8l-5.2 3.6zM262.5 2587.3l5.8 -3.7l-8.3 -5.9l-5.7 3.7zM296.8 2588l5.4 -3.7l-8.8 -5.9l-5.4 3.7zM331.2 2588.7l5.1 -3.7l-9.3 -5.8l-5.1 3.6zM276.8 2589.5l5.6 -3.7l-8.5 -5.9l-5.6 3.7zM311.3 2590.3l5.3 -3.8l-9 -5.9l-5.4 3.7zM291.2 2591.8l5.6 -3.8l-8.8 -5.9l-5.6 3.7zM325.9 2592.6l5.3 -3.9l-9.3 -5.9l-5.3 3.7zM271 2593.4l5.8 -3.9l-8.5 -5.9l-5.8 3.7zM305.8 2594.1l5.5 -3.8l-9.1 -6l-5.4 3.7zM285.6 2595.7l5.6 -3.9l-8.8 -6l-5.6 3.7zM320.6 2596.4l5.3 -3.8l-9.3 -6.1l-5.3 3.8z" fill="#fcfcfc" stroke="#fcfcfc" stroke-width="0.7"/>
<path d="M293.4 2578.4L298.8 2574.8M336.3 2585L341.4 2581.3M288 2582.1L279.5 2576.3M321.9 2582.8L312.8 2577M262.5 2587.3L254.3 2581.4M288 2582.1L293.4 2578.4M331.2 2588.7L336.3 2585M282.4 2585.8L288 2582.1M296.8 2588L288 2582.1M325.9 2592.6L331.2 2588.7M331.2 2588.7L321.9 2582.8M271 2593.4L262.5 2587.3M276.8 2589.5L282.4 2585.8M320.6 2596.4L325.9 2592.6" stroke="#333" stroke-width="0.9" fill="none" stroke-linecap="round"/>
<path d="M300.3 2598l5.5 -3.9l-9 -6.1l-5.6 3.8zM279.8 2599.6l5.8 -3.9l-8.8 -6.2l-5.8 3.9zM315.2 2600.4l5.4 -4l-9.3 -6.1l-5.5 3.8zM294.6 2602l5.7 -4l-9.1 -6.2l-5.6 3.9zM309.6 2604.4l5.6 -4l-9.4 -6.3l-5.5 3.9zM288.8 2606.1l5.8 -4.1l-9 -6.3l-5.8 3.9zM304 2608.6l5.6 -4.2l-9.3 -6.4l-5.7 4zM298.2 2612.8l5.8 -4.2l-9.4 -6.6l-5.8 4.1z" fill="#fcfcfc" stroke="#fcfcfc" stroke-width="0.7"/>
<path d="M305.8 2594.1L296.8 2588M271 2593.4L276.8 2589.5M279.8 2599.6L271 2593.4M315.2 2600.4L320.6 2596.4M309.6 2604.4L315.2 2600.4M315.2 2600.4L305.8 2594.1M288.8 2606.1L279.8 2599.6M304 2608.6L309.6 2604.4M298.2 2612.8L304 2608.6M298.2 2612.8L288.8 2606.1" stroke="#333" stroke-width="0.9" fill="none" stroke-linecap="round"/>
<path d="M169.6,2449.9L192.9,2585.7M192.9,2585.7L298.1,2671.4M298.1,2671.4L401.8,2585.7M401.8,2585.7L425,2449.4" stroke="#505050" stroke-width="1" fill="none"/>
<path d="M170.4,2454.4l-6.6,2.4M173.9,2475.1l-6.6,2.4M177.3,2494.7l-6.6,2.4M180.5,2513.2l-6.6,2.4M183.5,2530.8l-6.6,2.4M186.4,2547.5l-6.6,2.4M189.1,2563.3l-6.6,2.4M191.7,2578.5l-6.6,2.4M298.1,2671.4l-5.4,4.5M273.6,2651.4l-5.4,4.5M251,2633l-5.4,4.5M230.2,2616.1l-5.4,4.5M210.9,2600.3l-5.4,4.5M192.9,2585.7l-5.4,4.5M298.1,2671.4l5.4,4.4M313.5,2658.7l5.4,4.4M328,2646.7l5.4,4.4M341.8,2635.3l5.4,4.4M355,2624.4l5.4,4.4M367.5,2614l5.4,4.4M379.5,2604.1l5.4,4.4M390.9,2594.7l5.4,4.4M401.8,2585.7l5.4,4.4" stroke="#505050" stroke-width="0.9" fill="none"/>
<text x="161" y="2461.9" font-size="11.6" text-anchor="end" fill="#333333">40</text>
<text x="167.9" y="2502.2" font-size="11.6" text-anchor="end" fill="#333333">20</text>
<text x="174.1" y="2538.3" font-size="11.6" text-anchor="end" fill="#333333">0</text>
<text x="179.7" y="2570.8" font-size="11.6" text-anchor="end" fill="#333333">-20</text>
<text x="290.4" y="2682.8" font-size="11.6" text-anchor="end" fill="#333333">0</text>
<text x="265.9" y="2662.8" font-size="11.6" text-anchor="end" fill="#333333">0.5</text>
<text x="243.3" y="2644.4" font-size="11.6" text-anchor="end" fill="#333333">1</text>
<text x="222.5" y="2627.4" font-size="11.6" text-anchor="end" fill="#333333">2</text>
<text x="203.2" y="2611.7" font-size="11.6" text-anchor="end" fill="#333333">4</text>
<text x="185.2" y="2597.1" font-size="11.6" text-anchor="end" fill="#333333">8</text>
<text x="305.9" y="2682.7" font-size="11.6" fill="#333333">0</text>
<text x="321.2" y="2670.1" font-size="11.6" fill="#333333">0.25</text>
<text x="335.7" y="2658" font-size="11.6" fill="#333333">0.5</text>
<text x="349.6" y="2646.6" font-size="11.6" fill="#333333">1</text>
<text x="362.7" y="2635.7" font-size="11.6" fill="#333333">2</text>
<text x="375.3" y="2625.3" font-size="11.6" fill="#333333">4</text>
<text x="387.2" y="2615.5" font-size="11.6" fill="#333333">8</text>
<text x="398.7" y="2606" font-size="11.6" fill="#333333">16</text>
<text x="409.6" y="2597" font-size="11.6" fill="#333333">32</text>
<text x="79.3" y="2536.3" fill="#4d4d4d">δ - score</text>
<text x="103.6" y="2658.8" fill="#4d4d4d">TGFβRi(μM)</text>
<text x="379.3" y="2665.2" fill="#4d4d4d">Docetaxel(μM)</text>
<text x="444.6" y="2496.3" fill="#4d4d4d">δ - score</text>
<rect x="444.6" y="2508" width="20.4" height="58" fill="url(#cbg)"/>
<rect x="460" y="2505.2" width="5" height="3.6" fill="#fff"/>
<text x="467" y="2512" font-size="13.5" fill="#4d4d4d">40</text>
<rect x="460" y="2519.6" width="5" height="3.6" fill="#fff"/>
<text x="467" y="2526.4" font-size="13.5" fill="#4d4d4d">20</text>
<rect x="460" y="2533.9" width="5" height="3.6" fill="#fff"/>
<text x="467" y="2540.7" font-size="13.5" fill="#4d4d4d">0</text>
<rect x="460" y="2548.2" width="5" height="3.6" fill="#fff"/>
<text x="467" y="2555" font-size="13.5" fill="#4d4d4d">−20</text>
<rect x="460" y="2562.5" width="5" height="3.6" fill="#fff"/>
<text x="467" y="2569.3" font-size="13.5" fill="#4d4d4d">−40</text>
<path d="M694.7,2585.9L675.1,2453.4M796.8,2669.6L694.7,2585.9M709.6,2577.3L693.2,2446.6M811.9,2657.2L709.6,2577.3M723.8,2569.1L710.4,2440.1M826.3,2645.4L723.8,2569.1M737.5,2561.2L726.8,2433.9M840,2634.2L737.5,2561.2M750.6,2553.6L742.3,2428.1M853,2623.6L750.6,2553.6M763.2,2546.3L757.2,2422.5M865.4,2613.4L763.2,2546.3M775.3,2539.3L771.4,2417.1M877.3,2603.7L775.3,2539.3M786.9,2532.6L785,2412M888.6,2594.4L786.9,2532.6M798.1,2526.1L798,2407.1M899.4,2585.5L798.1,2526.1M899.4,2585.5L918,2454.5M796.8,2669.6L899.4,2585.5M876.6,2572.1L890.4,2443.6M773.3,2650.3L876.6,2572.1M855.2,2559.6L864.8,2433.5M751.5,2632.4L855.2,2559.6M835,2547.7L841,2424.1M731.2,2615.8L835,2547.7M816,2536.6L818.8,2415.3M712.4,2600.3L816,2536.6M798.1,2526.1L798,2407.1M694.7,2585.9L798.1,2526.1M678.4,2475.3L798,2426.3M798,2426.3L915,2476.1M680.6,2490.6L798,2439.9M798,2439.9L912.8,2491.3M682.8,2505.5L798,2453.1M798,2453.1L910.7,2506M684.9,2519.8L798,2465.9M798,2465.9L908.7,2520.1M687,2533.5L798.1,2478.3M798.1,2478.3L906.8,2533.7M688.9,2546.8L798.1,2490.3M798.1,2490.3L904.9,2546.8M690.8,2559.7L798.1,2502M798.1,2502L903.1,2559.5M692.7,2572L798.1,2513.3M798.1,2513.3L901.4,2571.8" stroke="#bdbdbd" stroke-width="0.9" fill="none"/>
<path d="M800.5 2428l4.1 -1l-6.6 -7.4l-4.2 0.9z" fill="#ea4248" stroke="#ea4248" stroke-width="0.7"/>
<path d="M807.2 2435.7l4.2 -1.1l-6.8 -7.6l-4.1 1z" fill="#ea4e4e" stroke="#ea4e4e" stroke-width="0.7"/>
<path d="M796.2 2429l4.3 -1l-6.7 -7.5l-4.3 0.8z" fill="#e44248" stroke="#e44248" stroke-width="0.7"/>
<path d="M814 2443.5l4.2 -1.3l-6.8 -7.6l-4.2 1.1zM809.9 2444.7l4.1 -1.2l-6.8 -7.8l-4.2 1.1z" fill="#ea545a" stroke="#ea545a" stroke-width="0.7"/>
<path d="M803 2436.8l4.2 -1.1l-6.7 -7.7l-4.3 1zM798.7 2438l4.3 -1.2l-6.8 -7.8l-4.3 1.1z" fill="#ea484e" stroke="#ea484e" stroke-width="0.7"/>
<path d="M820.9 2451.3l4.1 -1.3l-6.8 -7.8l-4.2 1.3zM816.8 2452.7l4.1 -1.4l-6.9 -7.8l-4.1 1.2z" fill="#ea6060" stroke="#ea6060" stroke-width="0.7"/>
<path d="M791.9 2430.1l4.3 -1.1l-6.7 -7.7l-4.3 1z" fill="#e44242" stroke="#e44242" stroke-width="0.7"/>
<path d="M827.9 2459.4l4.1 -1.5l-7 -7.9l-4.1 1.3z" fill="#ea6c6c" stroke="#ea6c6c" stroke-width="0.7"/>
<path d="M787.5 2430.8l4.4 -0.7l-6.7 -7.8l-4.5 0.5z" fill="#e43c42" stroke="#e43c42" stroke-width="0.7"/>
<path d="M793.8 2420.5L798 2419.6M804.6 2427L798 2419.6M811.4 2434.6L804.6 2427M789.5 2421.3L793.8 2420.5M818.2 2442.2L811.4 2434.6M814 2443.5L818.2 2442.2M825 2450L818.2 2442.2M785.2 2422.3L789.5 2421.3M832 2457.9L825 2450M809.9 2444.7L814 2443.5M780.7 2422.8L785.2 2422.3M791.9 2430.1L785.2 2422.3" stroke="#333" stroke-width="0.9" fill="none" stroke-linecap="round"/>
<path d="M834.9 2467.8l4.1 -1.6l-7 -8.3l-4.1 1.5zM830.9 2469.5l4 -1.7l-7 -8.4l-4.1 1.5zM826.7 2471.2l4.2 -1.7l-7.1 -8.6l-4.2 1.6z" fill="#ea7278" stroke="#ea7278" stroke-width="0.7"/>
<path d="M805.6 2446l4.3 -1.3l-6.9 -7.9l-4.3 1.2zM801.3 2447.1l4.3 -1.1l-6.9 -8l-4.3 0.9z" fill="#ea5454" stroke="#ea5454" stroke-width="0.7"/>
<path d="M823.8 2460.9l4.1 -1.5l-7 -8.1l-4.1 1.4zM819.6 2462.5l4.2 -1.6l-7 -8.2l-4.2 1.5zM815.4 2464l4.2 -1.5l-7 -8.3l-4.3 1.3z" fill="#ea666c" stroke="#ea666c" stroke-width="0.7"/>
<path d="M794.4 2438.9l4.3 -0.9l-6.8 -7.9l-4.4 0.7z" fill="#ea484e" stroke="#ea484e" stroke-width="0.7"/>
<path d="M842 2476.9l4 -1.8l-7 -8.9l-4.1 1.6z" fill="#f08484" stroke="#f08484" stroke-width="0.7"/>
<path d="M812.6 2454.2l4.2 -1.5l-6.9 -8l-4.3 1.3zM808.3 2455.5l4.3 -1.3l-7 -8.2l-4.3 1.1zM803.9 2456.8l4.4 -1.3l-7 -8.4l-4.4 1.2z" fill="#ea5a60" stroke="#ea5a60" stroke-width="0.7"/>
<path d="M783 2431.6l4.5 -0.8l-6.8 -8l-4.5 0.6zM778.5 2433.6l4.5 -2l-6.8 -8.2l-4.5 2.1zM774 2437.5l4.5 -3.9l-6.8 -8.1l-4.6 4.1z" fill="#e43c42" stroke="#e43c42" stroke-width="0.7"/>
<path d="M849.1 2486.4l4 -2l-7.1 -9.3l-4 1.8zM845.1 2488.4l4 -2l-7.1 -9.5l-4 1.8z" fill="#f09090" stroke="#f09090" stroke-width="0.7"/>
<path d="M789.9 2439.9l4.5 -1l-6.9 -8.1l-4.5 0.8z" fill="#ea4848" stroke="#ea4848" stroke-width="0.7"/>
<path d="M838 2478.7l4 -1.8l-7.1 -9.1l-4 1.7zM833.8 2480.6l4.2 -1.9l-7.1 -9.2l-4.2 1.7z" fill="#f07e84" stroke="#f07e84" stroke-width="0.7"/>
<path d="M856.3 2495.3l4 -2.1l-7.2 -8.8l-4 2zM852.4 2497.4l3.9 -2.1l-7.2 -8.9l-4 2z" fill="#f0a2a2" stroke="#f0a2a2" stroke-width="0.7"/>
<path d="M796.9 2448.3l4.4 -1.2l-6.9 -8.2l-4.5 1z" fill="#ea4e54" stroke="#ea4e54" stroke-width="0.7"/>
<path d="M863.7 2503.4l3.9 -2.2l-7.3 -8l-4 2.1z" fill="#f6aeb4" stroke="#f6aeb4" stroke-width="0.7"/>
<path d="M785.4 2441.9l4.5 -2l-6.9 -8.3l-4.5 2z" fill="#ea4248" stroke="#ea4248" stroke-width="0.7"/>
<path d="M839 2466.2L832 2457.9M798.7 2438L791.9 2430.1M834.9 2467.8L839 2466.2M846 2475.1L839 2466.2M805.6 2446L809.9 2444.7M776.2 2423.4L780.7 2422.8M805.6 2446L798.7 2438M853.1 2484.4L846 2475.1M830.9 2469.5L834.9 2467.8M860.3 2493.2L853.1 2484.4M801.3 2447.1L805.6 2446M812.6 2454.2L805.6 2446M771.7 2425.5L776.2 2423.4M856.3 2495.3L860.3 2493.2M867.6 2501.2L860.3 2493.2M819.6 2462.5L812.6 2454.2M826.7 2471.2L830.9 2469.5M767.1 2429.6L771.7 2425.5M778.5 2433.6L771.7 2425.5M796.9 2448.3L801.3 2447.1" stroke="#333" stroke-width="0.9" fill="none" stroke-linecap="round"/>
<path d="M822.5 2472.8l4.2 -1.6l-7.1 -8.7l-4.2 1.5zM818.2 2474.5l4.3 -1.7l-7.1 -8.8l-4.4 1.5zM813.8 2476.7l4.4 -2.2l-7.2 -9l-4.4 2.1zM809.4 2479.4l4.4 -2.7l-7.2 -9.1l-4.4 2.8z" fill="#ea7272" stroke="#ea7272" stroke-width="0.7"/>
<path d="M841 2490.4l4.1 -2l-7.1 -9.7l-4.2 1.9zM836.9 2492.4l4.1 -2l-7.2 -9.8l-4.1 1.9z" fill="#f09090" stroke="#f09090" stroke-width="0.7"/>
<path d="M871.2 2511l3.8 -2.2l-7.4 -7.6l-3.9 2.2zM867.3 2513.4l3.9 -2.4l-7.5 -7.6l-4 2.3z" fill="#f6c0c0" stroke="#f6c0c0" stroke-width="0.7"/>
<path d="M769.5 2442.6l4.5 -5.1l-6.9 -7.9l-4.5 5.6z" fill="#e44248" stroke="#e44248" stroke-width="0.7"/>
<path d="M792.4 2450.3l4.5 -2l-7 -8.4l-4.5 2zM787.9 2453.6l4.5 -3.3l-7 -8.4l-4.5 3.5z" fill="#ea4e54" stroke="#ea4e54" stroke-width="0.7"/>
<path d="M859.7 2505.7l4 -2.3l-7.4 -8.1l-3.9 2.1zM855.7 2507.9l4 -2.2l-7.3 -8.3l-4.1 2.2zM851.6 2510.2l4.1 -2.3l-7.4 -8.3l-4.1 2.2zM847.5 2512.6l4.1 -2.4l-7.4 -8.4l-4.2 2.2z" fill="#f6aeae" stroke="#f6aeae" stroke-width="0.7"/>
<path d="M780.9 2445.4l4.5 -3.5l-6.9 -8.3l-4.5 3.9z" fill="#e44848" stroke="#e44848" stroke-width="0.7"/>
<path d="M811 2465.5l4.4 -1.5l-7.1 -8.5l-4.4 1.3zM806.6 2467.6l4.4 -2.1l-7.1 -8.7l-4.4 2.1zM802.2 2470.4l4.4 -2.8l-7.1 -8.7l-4.5 3z" fill="#ea6666" stroke="#ea6666" stroke-width="0.7"/>
<path d="M764.9 2448.5l4.6 -5.9l-6.9 -7.4l-4.5 6.6zM776.4 2450l4.5 -4.6l-6.9 -7.9l-4.5 5.1z" fill="#e4484e" stroke="#e4484e" stroke-width="0.7"/>
<path d="M829.7 2482.5l4.1 -1.9l-7.1 -9.4l-4.2 1.6z" fill="#f07e84" stroke="#f07e84" stroke-width="0.7"/>
<path d="M848.3 2499.6l4.1 -2.2l-7.3 -9l-4.1 2zM844.2 2501.8l4.1 -2.2l-7.3 -9.2l-4.1 2zM840 2504l4.2 -2.2l-7.3 -9.4l-4.2 2.1z" fill="#f09ca2" stroke="#f09ca2" stroke-width="0.7"/>
<path d="M760.4 2455.4l4.5 -6.9l-6.8 -6.7l-4.4 7.8zM771.8 2455.3l4.6 -5.3l-6.9 -7.4l-4.6 5.9z" fill="#e44e54" stroke="#e44e54" stroke-width="0.7"/>
<path d="M799.5 2458.9l4.4 -2.1l-7 -8.5l-4.5 2zM778.8 2462.4l4.6 -4.7l-7 -7.7l-4.6 5.3z" fill="#ea5a5a" stroke="#ea5a5a" stroke-width="0.7"/>
<path d="M755.9 2463.2l4.5 -7.8l-6.7 -5.8l-4.4 8.7z" fill="#e45a60" stroke="#e45a60" stroke-width="0.7"/>
<path d="M751.4 2470.4l4.5 -7.2l-6.6 -4.9l-4.4 8.1z" fill="#e4666c" stroke="#e4666c" stroke-width="0.7"/>
<path d="M878.8 2518.1l3.9 -2.3l-7.7 -7l-3.8 2.2zM874.9 2520.5l3.9 -2.4l-7.6 -7.1l-3.9 2.4zM871 2523l3.9 -2.5l-7.6 -7.1l-4 2.3z" fill="#f6cccc" stroke="#f6cccc" stroke-width="0.7"/>
<path d="M746.8 2476.9l4.6 -6.5l-6.5 -4l-4.6 6.8zM753.4 2480.6l4.6 -6l-6.6 -4.2l-4.6 6.5z" fill="#ea7278" stroke="#ea7278" stroke-width="0.7"/>
<path d="M742.1 2482.9l4.7 -6l-6.5 -3.7l-4.6 6.3zM748.7 2486.4l4.7 -5.8l-6.6 -3.7l-4.7 6z" fill="#ea7e7e" stroke="#ea7e7e" stroke-width="0.7"/>
<path d="M825.4 2484.3l4.3 -1.8l-7.2 -9.7l-4.3 1.7zM821.1 2486.5l4.3 -2.2l-7.2 -9.8l-4.4 2.2z" fill="#f07e7e" stroke="#f07e7e" stroke-width="0.7"/>
<path d="M783.4 2457.7l4.5 -4.1l-7 -8.2l-4.5 4.6z" fill="#ea545a" stroke="#ea545a" stroke-width="0.7"/>
<path d="M795 2461.9l4.5 -3l-7.1 -8.6l-4.5 3.3zM790.5 2465.6l4.5 -3.7l-7.1 -8.3l-4.5 4.1z" fill="#ea5a60" stroke="#ea5a60" stroke-width="0.7"/>
<path d="M767.2 2461.3l4.6 -6l-6.9 -6.8l-4.5 6.9z" fill="#e45a5a" stroke="#e45a5a" stroke-width="0.7"/>
<path d="M737.4 2488.6l4.7 -5.7l-6.4 -3.4l-4.6 5.8z" fill="#ea848a" stroke="#ea848a" stroke-width="0.7"/>
<path d="M762.6 2468.1l4.6 -6.8l-6.8 -5.9l-4.5 7.8z" fill="#e46066" stroke="#e46066" stroke-width="0.7"/>
<path d="M886.7 2524.5l3.8 -2.5l-7.8 -6.2l-3.9 2.3zM882.8 2527l3.9 -2.5l-7.9 -6.4l-3.9 2.4z" fill="#fcd8d8" stroke="#fcd8d8" stroke-width="0.7"/>
<path d="M863.3 2515.7l4 -2.3l-7.6 -7.7l-4 2.2zM859.2 2518.1l4.1 -2.4l-7.6 -7.8l-4.1 2.3z" fill="#f6bac0" stroke="#f6bac0" stroke-width="0.7"/>
<path d="M832.7 2494.5l4.2 -2.1l-7.2 -9.9l-4.3 1.8zM828.4 2496.8l4.3 -2.3l-7.3 -10.2l-4.3 2.2z" fill="#f08a90" stroke="#f08a90" stroke-width="0.7"/>
<path d="M758 2474.6l4.6 -6.5l-6.7 -4.9l-4.5 7.2z" fill="#e46c6c" stroke="#e46c6c" stroke-width="0.7"/>
<path d="M732.6 2493.8l4.8 -5.2l-6.3 -3.3l-4.8 5.2z" fill="#ea9090" stroke="#ea9090" stroke-width="0.7"/>
<path d="M774.2 2467.7l4.6 -5.3l-7 -7.1l-4.6 6z" fill="#ea6060" stroke="#ea6060" stroke-width="0.7"/>
<path d="M727.8 2498.6l4.8 -4.8l-6.3 -3.3l-4.8 4.9z" fill="#f0969c" stroke="#f0969c" stroke-width="0.7"/>
<path d="M785.9 2469.8l4.6 -4.2l-7.1 -7.9l-4.6 4.7z" fill="#ea6066" stroke="#ea6066" stroke-width="0.7"/>
<path d="M769.5 2473.5l4.7 -5.8l-7 -6.4l-4.6 6.8zM797.6 2473.8l4.6 -3.4l-7.2 -8.5l-4.5 3.7z" fill="#ea666c" stroke="#ea666c" stroke-width="0.7"/>
<path d="M894.8 2530.4l3.8 -2.6l-8.1 -5.8l-3.8 2.5z" fill="#fce4e4" stroke="#fce4e4" stroke-width="0.7"/>
<path d="M826.7 2471.2L819.6 2462.5M875 2508.8L867.6 2501.2M762.6 2435.2L767.1 2429.6M852.4 2497.4L856.3 2495.3M785.4 2441.9L778.5 2433.6M758.1 2441.8L762.6 2435.2M822.5 2472.8L826.7 2471.2M833.8 2480.6L826.7 2471.2M753.7 2449.6L758.1 2441.8M764.9 2448.5L758.1 2441.8M792.4 2450.3L796.9 2448.3M749.3 2458.3L753.7 2449.6M744.9 2466.4L749.3 2458.3M882.7 2515.8L875 2508.8M792.4 2450.3L785.4 2441.9M841 2490.4L833.8 2480.6M740.3 2473.2L744.9 2466.4M751.4 2470.4L744.9 2466.4M848.3 2499.6L852.4 2497.4M735.7 2479.5L740.3 2473.2M848.3 2499.6L841 2490.4M818.2 2474.5L822.5 2472.8M787.9 2453.6L792.4 2450.3M799.5 2458.9L792.4 2450.3M771.8 2455.3L764.9 2448.5M731.1 2485.3L735.7 2479.5M878.8 2518.1L882.7 2515.8M890.5 2522L882.7 2515.8M726.3 2490.5L731.1 2485.3M737.4 2488.6L731.1 2485.3M844.2 2501.8L848.3 2499.6M855.7 2507.9L848.3 2499.6M806.6 2467.6L799.5 2458.9M783.4 2457.7L787.9 2453.6M758 2474.6L751.4 2470.4M813.8 2476.7L818.2 2474.5M778.8 2462.4L771.8 2455.3M721.5 2495.4L726.3 2490.5M874.9 2520.5L878.8 2518.1M813.8 2476.7L806.6 2467.6M863.3 2515.7L855.7 2507.9M778.8 2462.4L783.4 2457.7M898.6 2527.8L890.5 2522M840 2504L844.2 2501.8" stroke="#333" stroke-width="0.9" fill="none" stroke-linecap="round"/>
<path d="M743.9 2492l4.8 -5.6l-6.6 -3.5l-4.7 5.7zM750.6 2495.9l4.8 -5.4l-6.7 -4.1l-4.8 5.6z" fill="#ea848a" stroke="#ea848a" stroke-width="0.7"/>
<path d="M722.9 2503.5l4.9 -4.9l-6.3 -3.2l-4.8 4.8zM827.1 2511.5l4.4 -2.6l-7.5 -9.6l-4.4 2.7zM822.6 2514.2l4.5 -2.7l-7.5 -9.5l-4.5 2.9z" fill="#f09ca2" stroke="#f09ca2" stroke-width="0.7"/>
<path d="M764.9 2479.3l4.6 -5.8l-6.9 -5.4l-4.6 6.5zM776.6 2479.5l4.6 -5.1l-7 -6.7l-4.7 5.8zM788.4 2481.6l4.6 -4l-7.1 -7.8l-4.7 4.6z" fill="#ea6c72" stroke="#ea6c72" stroke-width="0.7"/>
<path d="M816.7 2489.1l4.4 -2.6l-7.3 -9.8l-4.4 2.7z" fill="#f07e7e" stroke="#f07e7e" stroke-width="0.7"/>
<path d="M835.8 2506.4l4.2 -2.4l-7.3 -9.5l-4.3 2.3zM831.5 2508.9l4.3 -2.5l-7.4 -9.6l-4.4 2.5zM729.3 2506.9l4.9 -4.9l-6.4 -3.4l-4.9 4.9zM735.9 2510.8l4.9 -4.9l-6.6 -3.9l-4.9 4.9z" fill="#f09c9c" stroke="#f09c9c" stroke-width="0.7"/>
<path d="M781.2 2474.4l4.7 -4.6l-7.1 -7.4l-4.6 5.3z" fill="#ea666c" stroke="#ea666c" stroke-width="0.7"/>
<path d="M739.1 2497.1l4.8 -5.1l-6.5 -3.4l-4.8 5.2z" fill="#ea9090" stroke="#ea9090" stroke-width="0.7"/>
<path d="M760.2 2484.9l4.7 -5.6l-6.9 -4.7l-4.6 6z" fill="#ea7878" stroke="#ea7878" stroke-width="0.7"/>
<path d="M804.9 2482.5l4.5 -3.1l-7.2 -9l-4.6 3.4z" fill="#ea7272" stroke="#ea7272" stroke-width="0.7"/>
<path d="M793 2477.6l4.6 -3.8l-7.1 -8.2l-4.6 4.2z" fill="#ea6c6c" stroke="#ea6c6c" stroke-width="0.7"/>
<path d="M717.9 2508.5l5 -5l-6.2 -3.3l-4.9 5z" fill="#f0a8a8" stroke="#f0a8a8" stroke-width="0.7"/>
<path d="M867 2525.5l4 -2.5l-7.7 -7.3l-4.1 2.4zM862.9 2528l4.1 -2.5l-7.8 -7.4l-4.1 2.4z" fill="#f6cccc" stroke="#f6cccc" stroke-width="0.7"/>
<path d="M878.9 2529.6l3.9 -2.6l-7.9 -6.5l-3.9 2.5zM874.9 2532.2l4 -2.6l-7.9 -6.6l-4 2.5zM870.9 2534.8l4 -2.6l-7.9 -6.7l-4.1 2.5z" fill="#fcd8d8" stroke="#fcd8d8" stroke-width="0.7"/>
<path d="M855.1 2520.5l4.1 -2.4l-7.6 -7.9l-4.1 2.4z" fill="#f6bac0" stroke="#f6bac0" stroke-width="0.7"/>
<path d="M824 2499.3l4.4 -2.5l-7.3 -10.3l-4.4 2.6zM819.6 2502l4.4 -2.7l-7.3 -10.2l-4.5 2.9z" fill="#f08a90" stroke="#f08a90" stroke-width="0.7"/>
<path d="M890.9 2533l3.9 -2.6l-8.1 -5.9l-3.9 2.5zM887 2535.7l3.9 -2.7l-8.1 -6l-3.9 2.6zM883.1 2538.4l3.9 -2.7l-8.1 -6.1l-4 2.6z" fill="#fce4e4" stroke="#fce4e4" stroke-width="0.7"/>
<path d="M843.3 2515l4.2 -2.4l-7.5 -8.6l-4.2 2.4zM839 2517.5l4.3 -2.5l-7.5 -8.6l-4.3 2.5zM834.7 2520.1l4.3 -2.6l-7.5 -8.6l-4.4 2.6z" fill="#f6aeae" stroke="#f6aeae" stroke-width="0.7"/>
<path d="M755.4 2490.5l4.8 -5.6l-6.8 -4.3l-4.7 5.8zM762.3 2495.3l4.8 -5.4l-6.9 -5l-4.8 5.6z" fill="#ea7e84" stroke="#ea7e84" stroke-width="0.7"/>
<path d="M734.2 2502l4.9 -4.9l-6.5 -3.3l-4.8 4.8zM740.8 2505.9l5 -4.9l-6.7 -3.9l-4.9 4.9z" fill="#f09696" stroke="#f09696" stroke-width="0.7"/>
<path d="M903 2536.3l3.8 -2.7l-8.2 -5.8l-3.8 2.6zM899.2 2539.1l3.8 -2.8l-8.2 -5.9l-3.9 2.6zM895.3 2541.9l3.9 -2.8l-8.3 -6.1l-3.9 2.7z" fill="#fcf0f0" stroke="#fcf0f0" stroke-width="0.7"/>
<path d="M812.2 2492l4.5 -2.9l-7.3 -9.7l-4.5 3.1zM807.7 2495.1l4.5 -3.1l-7.3 -9.5l-4.6 3.4z" fill="#f07e84" stroke="#f07e84" stroke-width="0.7"/>
<path d="M713 2513.6l4.9 -5.1l-6.1 -3.3l-5 5zM719.3 2517l5 -5.1l-6.4 -3.4l-4.9 5.1z" fill="#f0aeae" stroke="#f0aeae" stroke-width="0.7"/>
<path d="M800.3 2485.9l4.6 -3.4l-7.3 -8.7l-4.6 3.8zM771.8 2484.6l4.8 -5.1l-7.1 -6l-4.6 5.8zM783.7 2485.9l4.7 -4.3l-7.2 -7.2l-4.6 5.1z" fill="#ea7278" stroke="#ea7278" stroke-width="0.7"/>
<path d="M708 2519l5 -5.4l-6.2 -3.4l-5 5.4z" fill="#f0b4ba" stroke="#f0b4ba" stroke-width="0.7"/>
<path d="M851 2523.1l4.1 -2.6l-7.6 -7.9l-4.2 2.4zM846.7 2525.6l4.3 -2.5l-7.7 -8.1l-4.3 2.5z" fill="#f6baba" stroke="#f6baba" stroke-width="0.7"/>
<path d="M767.1 2489.9l4.7 -5.3l-6.9 -5.3l-4.7 5.6zM779 2490.5l4.7 -4.6l-7.1 -6.4l-4.8 5.1z" fill="#ea787e" stroke="#ea787e" stroke-width="0.7"/>
<path d="M745.8 2501l4.8 -5.1l-6.7 -3.9l-4.8 5.1zM815.1 2504.9l4.5 -2.9l-7.4 -10l-4.5 3.1z" fill="#f09090" stroke="#f09090" stroke-width="0.7"/>
<path d="M795.7 2489.4l4.6 -3.5l-7.3 -8.3l-4.6 4z" fill="#f07878" stroke="#f07878" stroke-width="0.7"/>
<path d="M724.3 2511.9l5 -5l-6.4 -3.4l-5 5z" fill="#f0a2a8" stroke="#f0a2a8" stroke-width="0.7"/>
<path d="M703 2525l5 -6l-6.2 -3.4l-4.9 5.7z" fill="#f0c0c0" stroke="#f0c0c0" stroke-width="0.7"/>
<path d="M858.8 2530.6l4.1 -2.6l-7.8 -7.5l-4.1 2.6z" fill="#f6c6cc" stroke="#f6c6cc" stroke-width="0.7"/>
<path d="M698 2531.4l5 -6.4l-6.1 -3.7l-5 6.1z" fill="#f6d2d2" stroke="#f6d2d2" stroke-width="0.7"/>
<path d="M791 2493.2l4.7 -3.8l-7.3 -7.8l-4.7 4.3z" fill="#f0787e" stroke="#f0787e" stroke-width="0.7"/>
<path d="M757.5 2500.5l4.8 -5.2l-6.9 -4.8l-4.8 5.4z" fill="#ea8a8a" stroke="#ea8a8a" stroke-width="0.7"/>
<path d="M803.1 2498.2l4.6 -3.1l-7.4 -9.2l-4.6 3.5z" fill="#f08484" stroke="#f08484" stroke-width="0.7"/>
<path d="M693 2537.9l5 -6.5l-6.1 -4l-4.9 6z" fill="#f6e4e4" stroke="#f6e4e4" stroke-width="0.7"/>
<path d="M774.2 2495.4l4.8 -4.9l-7.2 -5.9l-4.7 5.3z" fill="#ea7e7e" stroke="#ea7e7e" stroke-width="0.7"/>
<path d="M716.7 2500.2L721.5 2495.4M809.4 2479.4L813.8 2476.7M821.1 2486.5L813.8 2476.7M774.2 2467.7L778.8 2462.4M785.9 2469.8L778.8 2462.4M743.9 2492L737.4 2488.6M764.9 2479.3L758 2474.6M711.8 2505.2L716.7 2500.2M722.9 2503.5L716.7 2500.2M871 2523L863.3 2515.7M871 2523L874.9 2520.5M828.4 2496.8L821.1 2486.5M769.5 2473.5L774.2 2467.7M835.8 2506.4L840 2504M903 2536.3L906.8 2533.6M906.8 2533.6L898.6 2527.8M804.9 2482.5L809.4 2479.4M706.8 2510.2L711.8 2505.2M793 2477.6L785.9 2469.8M835.8 2506.4L828.4 2496.8M764.9 2479.3L769.5 2473.5M867 2525.5L871 2523M878.9 2529.6L871 2523M701.8 2515.6L706.8 2510.2M760.2 2484.9L764.9 2479.3M771.8 2484.6L764.9 2479.3M831.5 2508.9L835.8 2506.4M843.3 2515L835.8 2506.4M750.6 2495.9L743.9 2492M899.2 2539.1L903 2536.3M800.3 2485.9L804.9 2482.5M800.3 2485.9L793 2477.6M729.3 2506.9L722.9 2503.5M696.9 2521.3L701.8 2515.6M708 2519L701.8 2515.6M755.4 2490.5L760.2 2484.9M691.9 2527.4L696.9 2521.3M862.9 2528L867 2525.5M851 2523.1L843.3 2515M887 2535.7L878.9 2529.6M750.6 2495.9L755.4 2490.5M795.7 2489.4L800.3 2485.9M807.7 2495.1L800.3 2485.9M827.1 2511.5L831.5 2508.9M895.3 2541.9L899.2 2539.1M687 2533.4L691.9 2527.4M693 2537.9L687 2533.4M779 2490.5L771.8 2484.6" stroke="#333" stroke-width="0.9" fill="none" stroke-linecap="round"/>
<path d="M714.2 2522.6l5.1 -5.6l-6.3 -3.4l-5 5.4zM720.7 2526.5l5.1 -5.6l-6.5 -3.9l-5.1 5.6zM727.4 2530.8l5.1 -5.6l-6.7 -4.3l-5.1 5.6z" fill="#f0b4b4" stroke="#f0b4b4" stroke-width="0.7"/>
<path d="M752.6 2505.5l4.9 -5l-6.9 -4.6l-4.8 5.1zM810.5 2507.7l4.6 -2.8l-7.4 -9.8l-4.6 3.1zM771.8 2511.6l4.8 -4.9l-7.2 -6.1l-4.9 5zM784.1 2513.9l4.8 -4.6l-7.4 -7.5l-4.9 4.9z" fill="#f09090" stroke="#f09090" stroke-width="0.7"/>
<path d="M786.3 2497.3l4.7 -4.1l-7.3 -7.3l-4.7 4.6z" fill="#f07e84" stroke="#f07e84" stroke-width="0.7"/>
<path d="M769.4 2500.6l4.8 -5.2l-7.1 -5.5l-4.8 5.4z" fill="#ea8484" stroke="#ea8484" stroke-width="0.7"/>
<path d="M854.5 2533.3l4.3 -2.7l-7.8 -7.5l-4.3 2.5zM850.3 2536l4.2 -2.7l-7.8 -7.7l-4.3 2.7zM845.9 2538.8l4.4 -2.8l-7.9 -7.7l-4.4 2.7z" fill="#f6c6cc" stroke="#f6c6cc" stroke-width="0.7"/>
<path d="M866.7 2537.6l4.2 -2.8l-8 -6.8l-4.1 2.6zM862.6 2540.3l4.1 -2.7l-7.9 -7l-4.3 2.7zM858.3 2543.1l4.3 -2.8l-8.1 -7l-4.2 2.7z" fill="#fcd8d8" stroke="#fcd8d8" stroke-width="0.7"/>
<path d="M798.4 2501.5l4.7 -3.3l-7.4 -8.8l-4.7 3.8z" fill="#f0848a" stroke="#f0848a" stroke-width="0.7"/>
<path d="M842.4 2528.3l4.3 -2.7l-7.7 -8.1l-4.3 2.6zM838 2531l4.4 -2.7l-7.7 -8.2l-4.5 2.7zM833.5 2533.5l4.5 -2.5l-7.8 -8.2l-4.4 2.5z" fill="#f6baba" stroke="#f6baba" stroke-width="0.7"/>
<path d="M730.8 2515.8l5.1 -5l-6.6 -3.9l-5 5zM737.6 2520.2l5 -5l-6.7 -4.4l-5.1 5zM808.8 2522.5l4.7 -3l-7.6 -8.9l-4.7 3.3z" fill="#f0a2a2" stroke="#f0a2a2" stroke-width="0.7"/>
<path d="M879 2541.2l4.1 -2.8l-8.2 -6.2l-4 2.6zM874.9 2544l4.1 -2.8l-8.1 -6.4l-4.2 2.8zM870.8 2546.9l4.1 -2.9l-8.2 -6.4l-4.1 2.7z" fill="#fce4e4" stroke="#fce4e4" stroke-width="0.7"/>
<path d="M709.2 2528.8l5 -6.2l-6.2 -3.6l-5 6z" fill="#f0c0c0" stroke="#f0c0c0" stroke-width="0.7"/>
<path d="M830.2 2522.8l4.5 -2.7l-7.6 -8.6l-4.5 2.7zM825.8 2525.3l4.4 -2.5l-7.6 -8.6l-4.5 2.6zM821.2 2527.9l4.6 -2.6l-7.7 -8.5l-4.6 2.7z" fill="#f6aeae" stroke="#f6aeae" stroke-width="0.7"/>
<path d="M891.4 2544.8l3.9 -2.9l-8.3 -6.2l-3.9 2.7zM887.4 2547.7l4 -2.9l-8.3 -6.4l-4.1 2.8zM883.3 2550.6l4.1 -2.9l-8.4 -6.5l-4.1 2.8z" fill="#fcf0f0" stroke="#fcf0f0" stroke-width="0.7"/>
<path d="M747.6 2510.3l5 -4.8l-6.8 -4.5l-5 4.9zM766.8 2516.2l5 -4.6l-7.3 -6l-4.9 4.9zM796.4 2517.7l4.8 -3.8l-7.5 -8.7l-4.8 4.1zM779.2 2518.5l4.9 -4.6l-7.5 -7.2l-4.8 4.9z" fill="#f09696" stroke="#f09696" stroke-width="0.7"/>
<path d="M818.1 2516.8l4.5 -2.6l-7.5 -9.3l-4.6 2.8zM813.5 2519.5l4.6 -2.7l-7.6 -9.1l-4.6 2.9zM749.6 2520.1l5 -4.9l-7 -4.9l-5 4.9z" fill="#f09ca2" stroke="#f09ca2" stroke-width="0.7"/>
<path d="M764.5 2505.6l4.9 -5l-7.1 -5.3l-4.8 5.2zM788.9 2509.3l4.8 -4.1l-7.4 -7.9l-4.8 4.5z" fill="#f08a90" stroke="#f08a90" stroke-width="0.7"/>
<path d="M704.3 2535.6l4.9 -6.8l-6.2 -3.8l-5 6.4zM710.7 2540l5 -7l-6.5 -4.2l-4.9 6.8z" fill="#f0cccc" stroke="#f0cccc" stroke-width="0.7"/>
<path d="M781.5 2501.8l4.8 -4.5l-7.3 -6.8l-4.8 4.9z" fill="#f08484" stroke="#f08484" stroke-width="0.7"/>
<path d="M725.8 2520.9l5 -5.1l-6.5 -3.9l-5 5.1zM732.5 2525.2l5.1 -5l-6.8 -4.4l-5 5.1z" fill="#f0a8ae" stroke="#f0a8ae" stroke-width="0.7"/>
<path d="M805.9 2510.6l4.6 -2.9l-7.4 -9.5l-4.7 3.3zM759.6 2510.5l4.9 -4.9l-7 -5.1l-4.9 5zM801.2 2513.9l4.7 -3.3l-7.5 -9.1l-4.7 3.7z" fill="#f09096" stroke="#f09096" stroke-width="0.7"/>
<path d="M793.7 2505.2l4.7 -3.7l-7.4 -8.3l-4.7 4.1zM776.6 2506.7l4.9 -4.9l-7.3 -6.4l-4.8 5.2z" fill="#f08a8a" stroke="#f08a8a" stroke-width="0.7"/>
<path d="M699.3 2542.4l5 -6.8l-6.3 -4.2l-5 6.5z" fill="#f6e4e4" stroke="#f6e4e4" stroke-width="0.7"/>
<path d="M742.6 2515.2l5 -4.9l-6.8 -4.4l-4.9 4.9z" fill="#f09c9c" stroke="#f09c9c" stroke-width="0.7"/>
<path d="M715.7 2533l5 -6.5l-6.5 -3.9l-5 6.2z" fill="#f0bac0" stroke="#f0bac0" stroke-width="0.7"/>
<path d="M754.6 2515.2l5 -4.7l-7 -5l-5 4.8z" fill="#f0969c" stroke="#f0969c" stroke-width="0.7"/>
<path d="M705.7 2547l5 -7l-6.4 -4.4l-5 6.8z" fill="#f6dede" stroke="#f6dede" stroke-width="0.7"/>
<path d="M841.5 2541.4l4.4 -2.6l-7.9 -7.8l-4.5 2.5z" fill="#f6c6c6" stroke="#f6c6c6" stroke-width="0.7"/>
<path d="M854 2546l4.3 -2.9l-8 -7.1l-4.4 2.8z" fill="#fcd2d8" stroke="#fcd2d8" stroke-width="0.7"/>
<path d="M745.8 2501L750.6 2495.9M757.5 2500.5L750.6 2495.9M815.1 2504.9L807.7 2495.1M858.8 2530.6L851 2523.1M858.8 2530.6L862.9 2528M791 2493.2L795.7 2489.4M735.9 2510.8L729.3 2506.9M714.2 2522.6L708 2519M822.6 2514.2L827.1 2511.5M891.4 2544.8L895.3 2541.9M895.3 2541.9L887 2535.7M740.8 2505.9L745.8 2501M822.6 2514.2L815.1 2504.9M786.3 2497.3L779 2490.5M786.3 2497.3L791 2493.2M699.3 2542.4L693 2537.9M735.9 2510.8L740.8 2505.9M854.5 2533.3L858.8 2530.6M866.7 2537.6L858.8 2530.6M764.5 2505.6L757.5 2500.5M818.1 2516.8L822.6 2514.2M830.2 2522.8L822.6 2514.2M887.4 2547.7L891.4 2544.8M781.5 2501.8L786.3 2497.3M793.7 2505.2L786.3 2497.3M730.8 2515.8L735.9 2510.8M742.6 2515.2L735.9 2510.8M720.7 2526.5L714.2 2522.6M850.3 2536L854.5 2533.3M838 2531L830.2 2522.8M874.9 2544L866.7 2537.6M725.8 2520.9L730.8 2515.8M813.5 2519.5L818.1 2516.8M776.6 2506.7L781.5 2501.8M883.3 2550.6L887.4 2547.7M771.8 2511.6L764.5 2505.6M705.7 2547L699.3 2542.4M801.2 2513.9L793.7 2505.2M720.7 2526.5L725.8 2520.9M771.8 2511.6L776.6 2506.7M845.9 2538.8L838 2531M845.9 2538.8L850.3 2536" stroke="#333" stroke-width="0.9" fill="none" stroke-linecap="round"/>
<path d="M744.5 2525l5.1 -4.9l-7 -4.9l-5 5zM799.2 2530.1l4.9 -4l-7.7 -8.4l-4.8 4.2zM781.7 2530.3l5 -4.1l-7.5 -7.7l-5 4.4z" fill="#f0a2a8" stroke="#f0a2a8" stroke-width="0.7"/>
<path d="M761.8 2520.9l5 -4.7l-7.2 -5.7l-5 4.7zM791.6 2521.9l4.8 -4.2l-7.5 -8.4l-4.8 4.6zM774.2 2522.9l5 -4.4l-7.4 -6.9l-5 4.6z" fill="#f09c9c" stroke="#f09c9c" stroke-width="0.7"/>
<path d="M829 2536.1l4.5 -2.6l-7.7 -8.2l-4.6 2.6zM824.4 2539.1l4.6 -3l-7.8 -8.2l-4.6 2.9zM819.7 2542.6l4.7 -3.5l-7.8 -8.3l-4.8 3.5z" fill="#f6baba" stroke="#f6baba" stroke-width="0.7"/>
<path d="M866.5 2549.8l4.3 -2.9l-8.2 -6.6l-4.3 2.8z" fill="#fce4e4" stroke="#fce4e4" stroke-width="0.7"/>
<path d="M816.6 2530.8l4.6 -2.9l-7.7 -8.4l-4.7 3zM811.8 2534.3l4.8 -3.5l-7.8 -8.3l-4.7 3.6zM789.4 2538.1l5 -4l-7.7 -7.9l-5 4.1zM771.6 2539.1l5.1 -4.6l-7.5 -7.1l-5.1 4.7z" fill="#f6aeae" stroke="#f6aeae" stroke-width="0.7"/>
<path d="M722.3 2537.4l5.1 -6.6l-6.7 -4.3l-5 6.5zM729.1 2542.2l5.1 -6.6l-6.8 -4.8l-5.1 6.6z" fill="#f0baba" stroke="#f0baba" stroke-width="0.7"/>
<path d="M804.1 2526.1l4.7 -3.6l-7.6 -8.6l-4.8 3.8zM756.8 2525.7l5 -4.8l-7.2 -5.7l-5 4.9zM769.2 2527.4l5 -4.5l-7.4 -6.7l-5 4.7z" fill="#f0a2a2" stroke="#f0a2a2" stroke-width="0.7"/>
<path d="M879.1 2553.6l4.2 -3l-8.4 -6.6l-4.1 2.9zM874.9 2556.7l4.2 -3.1l-8.3 -6.7l-4.3 2.9zM870.7 2559.8l4.2 -3.1l-8.4 -6.9l-4.3 3zM866.3 2562.9l4.4 -3.1l-8.5 -7l-4.3 2.9z" fill="#fcf0f0" stroke="#fcf0f0" stroke-width="0.7"/>
<path d="M717.3 2544.6l5 -7.2l-6.6 -4.4l-5 7zM724 2549.4l5.1 -7.2l-6.8 -4.8l-5 7.2z" fill="#f0cccc" stroke="#f0cccc" stroke-width="0.7"/>
<path d="M739.4 2530l5.1 -5l-6.9 -4.8l-5.1 5z" fill="#f0a8ae" stroke="#f0a8ae" stroke-width="0.7"/>
<path d="M786.7 2526.2l4.9 -4.3l-7.5 -8l-4.9 4.6z" fill="#f09ca2" stroke="#f09ca2" stroke-width="0.7"/>
<path d="M712.2 2551.8l5.1 -7.2l-6.6 -4.6l-5 7zM718.9 2556.7l5.1 -7.3l-6.7 -4.8l-5.1 7.2z" fill="#f6dede" stroke="#f6dede" stroke-width="0.7"/>
<path d="M849.6 2548.7l4.4 -2.7l-8.1 -7.2l-4.4 2.6z" fill="#fcd2d8" stroke="#fcd2d8" stroke-width="0.7"/>
<path d="M837 2544l4.5 -2.6l-8 -7.9l-4.5 2.6zM832.4 2547l4.6 -3l-8 -7.9l-4.6 3zM827.7 2550.6l4.7 -3.6l-8 -7.9l-4.7 3.5z" fill="#f6c6c6" stroke="#f6c6c6" stroke-width="0.7"/>
<path d="M862.2 2552.8l4.3 -3l-8.2 -6.7l-4.3 2.9z" fill="#fcdee4" stroke="#fcdee4" stroke-width="0.7"/>
<path d="M734.2 2535.6l5.2 -5.6l-6.9 -4.8l-5.1 5.6zM741.3 2541.1l5.2 -5.6l-7.1 -5.5l-5.2 5.6z" fill="#f0b4b4" stroke="#f0b4b4" stroke-width="0.7"/>
<path d="M751.6 2530.5l5.2 -4.8l-7.2 -5.6l-5.1 4.9zM764.1 2532.1l5.1 -4.7l-7.4 -6.5l-5 4.8z" fill="#f0a8a8" stroke="#f0a8a8" stroke-width="0.7"/>
<path d="M794.4 2534.1l4.8 -4l-7.6 -8.2l-4.9 4.3zM776.7 2534.5l5 -4.2l-7.5 -7.4l-5 4.5z" fill="#f6a8a8" stroke="#f6a8a8" stroke-width="0.7"/>
<path d="M807 2538.3l4.8 -4l-7.7 -8.2l-4.9 4z" fill="#f6aeb4" stroke="#f6aeb4" stroke-width="0.7"/>
<path d="M845.1 2551.5l4.5 -2.8l-8.1 -7.3l-4.5 2.6zM840.6 2554.6l4.5 -3.1l-8.1 -7.5l-4.6 3z" fill="#fcd2d2" stroke="#fcd2d2" stroke-width="0.7"/>
<path d="M746.5 2535.5l5.1 -5l-7.1 -5.5l-5.1 5zM759 2537.1l5.1 -5l-7.3 -6.4l-5.2 4.8z" fill="#f0aeae" stroke="#f0aeae" stroke-width="0.7"/>
<path d="M857.9 2555.7l4.3 -2.9l-8.2 -6.8l-4.4 2.7zM853.4 2558.7l4.5 -3l-8.3 -7l-4.5 2.8z" fill="#fcdede" stroke="#fcdede" stroke-width="0.7"/>
<path d="M802.1 2542.3l4.9 -4l-7.8 -8.2l-4.8 4zM753.8 2542.3l5.2 -5.2l-7.4 -6.6l-5.1 5z" fill="#f6b4b4" stroke="#f6b4b4" stroke-width="0.7"/>
<path d="M814.9 2546.6l4.8 -4l-7.9 -8.3l-4.8 4z" fill="#f6bac0" stroke="#f6bac0" stroke-width="0.7"/>
<path d="M736.1 2547.6l5.2 -6.5l-7.1 -5.5l-5.1 6.6z" fill="#f0c0c0" stroke="#f0c0c0" stroke-width="0.7"/>
<path d="M749.6 2520.1L742.6 2515.2M808.8 2522.5L813.5 2519.5M715.7 2533L720.7 2526.5M727.4 2530.8L720.7 2526.5M808.8 2522.5L801.2 2513.9M879.1 2553.6L883.3 2550.6M883.3 2550.6L874.9 2544M766.8 2516.2L771.8 2511.6M779.2 2518.5L771.8 2511.6M710.7 2540L715.7 2533M705.7 2547L710.7 2540M712.2 2551.8L705.7 2547M841.5 2541.4L845.9 2538.8M854 2546L845.9 2538.8M804.1 2526.1L808.8 2522.5M816.6 2530.8L808.8 2522.5M761.8 2520.9L766.8 2516.2M874.9 2556.7L879.1 2553.6M756.8 2525.7L749.6 2520.1M786.7 2526.2L779.2 2518.5M734.2 2535.6L727.4 2530.8M799.2 2530.1L804.1 2526.1M756.8 2525.7L761.8 2520.9M824.4 2539.1L816.6 2530.8M837 2544L841.5 2541.4M862.2 2552.8L854 2546M870.7 2559.8L874.9 2556.7M718.9 2556.7L712.2 2551.8M794.4 2534.1L786.7 2526.2M751.6 2530.5L756.8 2525.7M764.1 2532.1L756.8 2525.7M794.4 2534.1L799.2 2530.1M832.4 2547L824.4 2539.1M832.4 2547L837 2544M741.3 2541.1L734.2 2535.6M866.3 2562.9L870.7 2559.8M870.7 2559.8L862.2 2552.8M746.5 2535.5L751.6 2530.5" stroke="#333" stroke-width="0.9" fill="none" stroke-linecap="round"/>
<path d="M784.4 2542.1l5 -4l-7.7 -7.8l-5 4.2z" fill="#f6aeb4" stroke="#f6aeb4" stroke-width="0.7"/>
<path d="M731 2554.6l5.1 -7l-7 -5.4l-5.1 7.2z" fill="#f0cccc" stroke="#f0cccc" stroke-width="0.7"/>
<path d="M797.2 2546.2l4.9 -3.9l-7.7 -8.2l-5 4zM748.6 2547.9l5.2 -5.6l-7.3 -6.8l-5.2 5.6zM792.2 2550.1l5 -3.9l-7.8 -8.1l-5 4zM761.3 2549.9l5.2 -5.6l-7.5 -7.2l-5.2 5.2zM774.2 2551.7l5.1 -5.2l-7.7 -7.4l-5.1 5.2z" fill="#f6baba" stroke="#f6baba" stroke-width="0.7"/>
<path d="M810.1 2550.6l4.8 -4l-7.9 -8.3l-4.9 4zM787.1 2554.4l5.1 -4.3l-7.8 -8l-5.1 4.4z" fill="#f6c0c0" stroke="#f6c0c0" stroke-width="0.7"/>
<path d="M766.5 2544.3l5.1 -5.2l-7.5 -7l-5.1 5zM779.3 2546.5l5.1 -4.4l-7.7 -7.6l-5.1 4.6z" fill="#f6b4b4" stroke="#f6b4b4" stroke-width="0.7"/>
<path d="M822.9 2554.6l4.8 -4l-8 -8l-4.8 4zM818.1 2558.6l4.8 -4l-8 -8l-4.8 4zM750.9 2561l5.2 -5.5l-7.5 -7.6l-5.2 6.1zM763.8 2562.9l5.2 -5.5l-7.7 -7.5l-5.2 5.6zM795.1 2562.7l5 -4.1l-7.9 -8.5l-5.1 4.3zM776.8 2564.6l5.2 -5.3l-7.8 -7.6l-5.2 5.7z" fill="#f6cccc" stroke="#f6cccc" stroke-width="0.7"/>
<path d="M725.8 2561.7l5.2 -7.1l-7 -5.2l-5.1 7.3z" fill="#f6dee4" stroke="#f6dee4" stroke-width="0.7"/>
<path d="M835.9 2558.1l4.7 -3.5l-8.2 -7.6l-4.7 3.6zM813.2 2562.5l4.9 -3.9l-8 -8l-5 4z" fill="#fcd2d2" stroke="#fcd2d2" stroke-width="0.7"/>
<path d="M848.9 2561.9l4.5 -3.2l-8.3 -7.2l-4.5 3.1zM844.3 2565.3l4.6 -3.4l-8.3 -7.3l-4.7 3.5zM821.5 2569.6l4.8 -3.8l-8.2 -7.2l-4.9 3.9z" fill="#fcdede" stroke="#fcdede" stroke-width="0.7"/>
<path d="M861.9 2566.1l4.4 -3.2l-8.4 -7.2l-4.5 3zM857.4 2569.3l4.5 -3.2l-8.5 -7.4l-4.5 3.2zM852.8 2572.7l4.6 -3.4l-8.5 -7.4l-4.6 3.4z" fill="#fcf0f0" stroke="#fcf0f0" stroke-width="0.7"/>
<path d="M743.4 2554l5.2 -6.1l-7.3 -6.8l-5.2 6.5zM756.1 2555.5l5.2 -5.6l-7.5 -7.6l-5.2 5.6zM769 2557.4l5.2 -5.7l-7.7 -7.4l-5.2 5.6z" fill="#f6c0c6" stroke="#f6c0c6" stroke-width="0.7"/>
<path d="M805.1 2554.6l5 -4l-8 -8.3l-4.9 3.9zM800.1 2558.6l5 -4l-7.9 -8.4l-5 3.9zM782 2559.3l5.1 -4.9l-7.8 -7.9l-5.1 5.2z" fill="#f6c6c6" stroke="#f6c6c6" stroke-width="0.7"/>
<path d="M831.2 2561.9l4.7 -3.8l-8.2 -7.5l-4.8 4zM826.3 2565.8l4.9 -3.9l-8.3 -7.3l-4.8 4z" fill="#fcd8d8" stroke="#fcd8d8" stroke-width="0.7"/>
<path d="M738.2 2560.4l5.2 -6.4l-7.3 -6.4l-5.1 7z" fill="#f6d2d2" stroke="#f6d2d2" stroke-width="0.7"/>
<path d="M732.9 2566.9l5.3 -6.5l-7.2 -5.8l-5.2 7.1z" fill="#f6e4e4" stroke="#f6e4e4" stroke-width="0.7"/>
<path d="M839.6 2568.9l4.7 -3.6l-8.4 -7.2l-4.7 3.8z" fill="#fce4e4" stroke="#fce4e4" stroke-width="0.7"/>
<path d="M745.5 2566.6l5.4 -5.6l-7.5 -7l-5.2 6.4zM758.4 2567.9l5.4 -5l-7.7 -7.4l-5.2 5.5z" fill="#f6d8d8" stroke="#f6d8d8" stroke-width="0.7"/>
<path d="M808.2 2566.5l5 -4l-8.1 -7.9l-5 4z" fill="#fcd2d8" stroke="#fcd2d8" stroke-width="0.7"/>
<path d="M740.1 2572.2l5.4 -5.6l-7.3 -6.2l-5.3 6.5z" fill="#f6eaea" stroke="#f6eaea" stroke-width="0.7"/>
<path d="M789.4 2538.1L794.4 2534.1M802.1 2542.3L794.4 2534.1M771.6 2539.1L764.1 2532.1M725.8 2561.7L718.9 2556.7M741.3 2541.1L746.5 2535.5M827.7 2550.6L832.4 2547M840.6 2554.6L832.4 2547M861.9 2566.1L866.3 2562.9M784.4 2542.1L789.4 2538.1M736.1 2547.6L741.3 2541.1M748.6 2547.9L741.3 2541.1M810.1 2550.6L802.1 2542.3M822.9 2554.6L827.7 2550.6M731 2554.6L736.1 2547.6M779.3 2546.5L771.6 2539.1M848.9 2561.9L840.6 2554.6M779.3 2546.5L784.4 2542.1M857.4 2569.3L861.9 2566.1M725.8 2561.7L731 2554.6M732.9 2566.9L725.8 2561.7M818.1 2558.6L810.1 2550.6M756.1 2555.5L748.6 2547.9M818.1 2558.6L822.9 2554.6M774.2 2551.7L779.3 2546.5M787.1 2554.4L779.3 2546.5M852.8 2572.7L857.4 2569.3M857.4 2569.3L848.9 2561.9M813.2 2562.5L818.1 2558.6M826.3 2565.8L818.1 2558.6M769 2557.4L774.2 2551.7M740.1 2572.2L732.9 2566.9M763.8 2562.9L756.1 2555.5" stroke="#333" stroke-width="0.9" fill="none" stroke-linecap="round"/>
<path d="M834.8 2572.6l4.8 -3.7l-8.4 -7l-4.9 3.9zM753 2572.8l5.4 -4.9l-7.5 -6.9l-5.4 5.6zM811.5 2577.3l5 -3.8l-8.3 -7l-5 4zM792.8 2578.6l5.2 -4l-8.1 -7.5l-5.2 4.6z" fill="#fce4e4" stroke="#fce4e4" stroke-width="0.7"/>
<path d="M789.9 2567.1l5.2 -4.4l-8 -8.3l-5.1 4.9z" fill="#f6d2d2" stroke="#f6d2d2" stroke-width="0.7"/>
<path d="M848.1 2576.1l4.7 -3.4l-8.5 -7.4l-4.7 3.6zM747.6 2577.7l5.4 -4.9l-7.5 -6.2l-5.4 5.6zM843.4 2579.5l4.7 -3.4l-8.5 -7.2l-4.8 3.7zM838.6 2583.1l4.8 -3.6l-8.6 -6.9l-4.9 3.6zM755.2 2583.3l5.5 -4.5l-7.7 -6l-5.4 4.9z" fill="#fcf0f0" stroke="#fcf0f0" stroke-width="0.7"/>
<path d="M803.2 2570.5l5 -4l-8.1 -7.9l-5 4.1z" fill="#fcd8d8" stroke="#fcd8d8" stroke-width="0.7"/>
<path d="M771.5 2569.7l5.3 -5.1l-7.8 -7.2l-5.2 5.5zM784.7 2571.7l5.2 -4.6l-7.9 -7.8l-5.2 5.3z" fill="#f6d8d8" stroke="#f6d8d8" stroke-width="0.7"/>
<path d="M816.5 2573.5l5 -3.9l-8.3 -7.1l-5 4z" fill="#fcdee4" stroke="#fcdee4" stroke-width="0.7"/>
<path d="M829.9 2576.2l4.9 -3.6l-8.5 -6.8l-4.8 3.8zM760.7 2578.8l5.5 -4.5l-7.8 -6.4l-5.4 4.9zM825 2580l4.9 -3.8l-8.4 -6.6l-5 3.9zM806.3 2581.2l5.2 -3.9l-8.3 -6.8l-5.2 4.1zM819.9 2583.7l5.1 -3.7l-8.5 -6.5l-5 3.8zM787.5 2582.7l5.3 -4.1l-8.1 -6.9l-5.3 4.6z" fill="#fceaea" stroke="#fceaea" stroke-width="0.7"/>
<path d="M766.2 2574.3l5.3 -4.6l-7.7 -6.8l-5.4 5zM798 2574.6l5.2 -4.1l-8.1 -7.8l-5.2 4.4zM779.4 2576.3l5.3 -4.6l-7.9 -7.1l-5.3 5.1z" fill="#fcdede" stroke="#fcdede" stroke-width="0.7"/>
<path d="M774.1 2580.5l5.3 -4.2l-7.9 -6.6l-5.3 4.6z" fill="#fce4ea" stroke="#fce4ea" stroke-width="0.7"/>
<path d="M833.6 2586.6l5 -3.5l-8.7 -6.9l-4.9 3.8z" fill="#fcf6f6" stroke="#fcf6f6" stroke-width="0.7"/>
<path d="M795.1 2562.7L787.1 2554.4M848.1 2576.1L852.8 2572.7M763.8 2562.9L769 2557.4M808.2 2566.5L813.2 2562.5M834.8 2572.6L826.3 2565.8M758.4 2567.9L763.8 2562.9M771.5 2569.7L763.8 2562.9M803.2 2570.5L795.1 2562.7M747.6 2577.7L740.1 2572.2M843.4 2579.5L848.1 2576.1M803.2 2570.5L808.2 2566.5M753 2572.8L758.4 2567.9M838.6 2583.1L843.4 2579.5M843.4 2579.5L834.8 2572.6M779.4 2576.3L771.5 2569.7M798 2574.6L803.2 2570.5M811.5 2577.3L803.2 2570.5M747.6 2577.7L753 2572.8M755.2 2583.3L747.6 2577.7M833.6 2586.6L838.6 2583.1" stroke="#333" stroke-width="0.9" fill="none" stroke-linecap="round"/>
<path d="M768.6 2584.7l5.5 -4.2l-7.9 -6.2l-5.5 4.5zM814.8 2587.5l5.1 -3.8l-8.4 -6.4l-5.2 3.9zM795.8 2589l5.3 -3.9l-8.3 -6.5l-5.3 4.1zM776.7 2590.8l5.4 -4l-8 -6.3l-5.5 4.2zM809.6 2591.3l5.2 -3.8l-8.5 -6.3l-5.2 3.9zM790.4 2592.9l5.4 -3.9l-8.3 -6.3l-5.4 4.1z" fill="#fcf0f0" stroke="#fcf0f0" stroke-width="0.7"/>
<path d="M801.1 2585.1l5.2 -3.9l-8.3 -6.6l-5.2 4z" fill="#fceaea" stroke="#fceaea" stroke-width="0.7"/>
<path d="M782.1 2586.8l5.4 -4.1l-8.1 -6.4l-5.3 4.2z" fill="#fceaf0" stroke="#fceaf0" stroke-width="0.7"/>
<path d="M763 2589l5.6 -4.3l-7.9 -5.9l-5.5 4.5zM828.6 2590.3l5 -3.7l-8.6 -6.6l-5.1 3.7zM823.5 2594l5.1 -3.7l-8.7 -6.6l-5.1 3.8zM771.1 2594.9l5.6 -4.1l-8.1 -6.1l-5.6 4.3zM804.3 2595.2l5.3 -3.9l-8.5 -6.2l-5.3 3.9zM818.4 2597.7l5.1 -3.7l-8.7 -6.5l-5.2 3.8zM784.9 2596.9l5.5 -4l-8.3 -6.1l-5.4 4zM799 2599.1l5.3 -3.9l-8.5 -6.2l-5.4 3.9z" fill="#fcf6f6" stroke="#fcf6f6" stroke-width="0.7"/>
<path d="M792.8 2578.6L798 2574.6M819.9 2583.7L811.5 2577.3M787.5 2582.7L779.4 2576.3M763 2589L755.2 2583.3M828.6 2590.3L833.6 2586.6M787.5 2582.7L792.8 2578.6M823.5 2594L828.6 2590.3M828.6 2590.3L819.9 2583.7M782.1 2586.8L787.5 2582.7M795.8 2589L787.5 2582.7M771.1 2594.9L763 2589M818.4 2597.7L823.5 2594M776.7 2590.8L782.1 2586.8M804.3 2595.2L795.8 2589" stroke="#333" stroke-width="0.9" fill="none" stroke-linecap="round"/>
<path d="M779.4 2600.9l5.5 -4l-8.2 -6.1l-5.6 4.1zM807.7 2605.5l5.4 -3.9l-8.8 -6.4l-5.3 3.9zM787.9 2607.1l5.6 -4l-8.6 -6.2l-5.5 4zM802.2 2609.5l5.5 -4l-8.7 -6.4l-5.5 4zM796.6 2613.5l5.6 -4l-8.7 -6.4l-5.6 4z" fill="#fcfcfc" stroke="#fcfcfc" stroke-width="0.7"/>
<path d="M813.1 2601.6l5.3 -3.9l-8.8 -6.4l-5.3 3.9z" fill="#fcf6fc" stroke="#fcf6fc" stroke-width="0.7"/>
<path d="M793.5 2603.1l5.5 -4l-8.6 -6.2l-5.5 4z" fill="#fcf6f6" stroke="#fcf6f6" stroke-width="0.7"/>
<path d="M771.1 2594.9L776.7 2590.8M779.4 2600.9L771.1 2594.9M813.1 2601.6L818.4 2597.7M807.7 2605.5L813.1 2601.6M813.1 2601.6L804.3 2595.2M787.9 2607.1L779.4 2600.9M802.2 2609.5L807.7 2605.5M796.6 2613.5L802.2 2609.5M796.6 2613.5L787.9 2607.1" stroke="#333" stroke-width="0.9" fill="none" stroke-linecap="round"/>
<path d="M675.1,2453.4L694.7,2585.9M694.7,2585.9L796.8,2669.6M796.8,2669.6L899.4,2585.5M899.4,2585.5L918,2454.5" stroke="#505050" stroke-width="1" fill="none"/>
<path d="M678.4,2475.3l-6.6,2.5M680.6,2490.6l-6.6,2.5M682.8,2505.5l-6.6,2.5M684.9,2519.8l-6.6,2.5M687,2533.5l-6.6,2.5M688.9,2546.8l-6.6,2.5M690.8,2559.7l-6.6,2.5M692.7,2572l-6.6,2.5M796.8,2669.6l-5.4,4.4M773.3,2650.3l-5.4,4.4M751.5,2632.4l-5.4,4.4M731.2,2615.8l-5.4,4.4M712.4,2600.3l-5.4,4.4M694.7,2585.9l-5.4,4.4M796.8,2669.6l5.4,4.4M811.9,2657.2l5.4,4.4M826.3,2645.4l5.4,4.4M840,2634.2l5.4,4.4M853,2623.6l5.4,4.4M865.4,2613.4l5.4,4.4M877.3,2603.7l5.4,4.4M888.6,2594.4l5.4,4.4M899.4,2585.5l5.4,4.4" stroke="#505050" stroke-width="0.9" fill="none"/>
<text x="669" y="2482.8" font-size="11.6" text-anchor="end" fill="#333333">40</text>
<text x="673.5" y="2513" font-size="11.6" text-anchor="end" fill="#333333">20</text>
<text x="677.6" y="2541.1" font-size="11.6" text-anchor="end" fill="#333333">0</text>
<text x="681.5" y="2567.2" font-size="11.6" text-anchor="end" fill="#333333">-20</text>
<text x="789.1" y="2680.9" font-size="11.6" text-anchor="end" fill="#333333">0</text>
<text x="765.6" y="2661.7" font-size="11.6" text-anchor="end" fill="#333333">0.5</text>
<text x="743.8" y="2643.8" font-size="11.6" text-anchor="end" fill="#333333">1</text>
<text x="723.5" y="2627.2" font-size="11.6" text-anchor="end" fill="#333333">2</text>
<text x="704.6" y="2611.7" font-size="11.6" text-anchor="end" fill="#333333">4</text>
<text x="687" y="2597.2" font-size="11.6" text-anchor="end" fill="#333333">8</text>
<text x="804.6" y="2680.9" font-size="11.6" fill="#333333">0</text>
<text x="819.7" y="2668.5" font-size="11.6" fill="#333333">0.25</text>
<text x="834" y="2656.8" font-size="11.6" fill="#333333">0.5</text>
<text x="847.7" y="2645.6" font-size="11.6" fill="#333333">1</text>
<text x="860.7" y="2634.9" font-size="11.6" fill="#333333">2</text>
<text x="873.1" y="2624.7" font-size="11.6" fill="#333333">4</text>
<text x="885" y="2615" font-size="11.6" fill="#333333">8</text>
<text x="896.3" y="2605.7" font-size="11.6" fill="#333333">16</text>
<text x="907.1" y="2596.9" font-size="11.6" fill="#333333">32</text>
<text x="555.4" y="2535.6" fill="#4d4d4d">δ - score</text>
<text x="585.7" y="2658.8" fill="#4d4d4d">TGFβRi(μM)</text>
<text x="873.2" y="2665.2" fill="#4d4d4d">Docetaxel(μM)</text>
<text x="950.7" y="2495.6" fill="#4d4d4d">δ - score</text>
<rect x="950.7" y="2507" width="20.7" height="59" fill="url(#cbg)"/>
<rect x="966.4" y="2504.6" width="5" height="3.6" fill="#fff"/>
<text x="973.4" y="2511.4" font-size="13.5" fill="#4d4d4d">50</text>
<rect x="966.4" y="2533.9" width="5" height="3.6" fill="#fff"/>
<text x="973.4" y="2540.7" font-size="13.5" fill="#4d4d4d">0</text>
<rect x="966.4" y="2562.5" width="5" height="3.6" fill="#fff"/>
<text x="973.4" y="2569.3" font-size="13.5" fill="#4d4d4d">−50</text>
<path d="M1167.4,2590.9L1147.8,2457.3M1271.3,2675L1167.4,2590.9M1182,2582.4L1165.6,2450.1M1286.4,2662.9L1182,2582.4M1196.1,2574.1L1182.6,2443.2M1300.9,2651.4L1196.1,2574.1M1209.6,2566.2L1198.9,2436.5M1314.8,2640.3L1209.6,2566.2M1222.7,2558.5L1214.6,2430.1M1328.1,2629.7L1222.7,2558.5M1235.3,2551.1L1229.6,2424M1340.9,2619.5L1235.3,2551.1M1247.6,2543.9L1244,2418.2M1353.2,2609.7L1247.6,2543.9M1259.4,2537L1257.9,2412.5M1364.9,2600.3L1259.4,2537M1270.8,2530.3L1271.2,2407.1M1376.3,2591.3L1270.8,2530.3M1376.3,2591.3L1397.8,2455.2M1271.3,2675L1376.3,2591.3M1352.4,2577.5L1368.5,2444.1M1247.3,2655.6L1352.4,2577.5M1330.1,2564.6L1341.4,2433.8M1225.1,2637.6L1330.1,2564.6M1309.1,2552.5L1316.3,2424.2M1204.5,2620.9L1309.1,2552.5M1289.4,2541.1L1293,2415.4M1185.3,2605.4L1289.4,2541.1M1270.8,2530.3L1271.2,2407.1M1167.4,2590.9L1270.8,2530.3M1148.2,2460.2L1271.2,2409.7M1271.2,2409.7L1397.3,2458.1M1151.2,2480.5L1271.2,2428.1M1271.2,2428.1L1394,2478.9M1154,2499.8L1271.1,2445.6M1271.1,2445.6L1390.9,2498.6M1156.7,2518.2L1271,2462.5M1271,2462.5L1388,2517.3M1159.3,2535.8L1271,2478.7M1271,2478.7L1385.1,2535.2M1161.7,2552.5L1270.9,2494.3M1270.9,2494.3L1382.4,2552.3M1164.1,2568.5L1270.9,2509.2M1270.9,2509.2L1379.9,2568.5M1166.3,2583.8L1270.8,2523.6M1270.8,2523.6L1377.4,2584.1" stroke="#bdbdbd" stroke-width="0.9" fill="none"/>
<path d="M1273.8 2427.9l4.3 -1.9l-6.9 -7.2l-4.3 1.8zM1269.5 2429.8l4.3 -1.9l-6.9 -7.3l-4.4 1.8zM1265 2432l4.5 -2.2l-7 -7.4l-4.5 2.2zM1260.6 2434.4l4.4 -2.4l-7 -7.4l-4.4 2.6z" fill="#ea4e4e" stroke="#ea4e4e" stroke-width="0.7"/>
<path d="M1280.9 2435.3l4.3 -1.9l-7.1 -7.4l-4.3 1.9zM1276.5 2437.3l4.4 -2l-7.1 -7.4l-4.3 1.9zM1272.1 2439.4l4.4 -2.1l-7 -7.5l-4.5 2.2z" fill="#ea545a" stroke="#ea545a" stroke-width="0.7"/>
<path d="M1288 2443.1l4.3 -2l-7.1 -7.7l-4.3 1.9zM1283.7 2445.2l4.3 -2.1l-7.1 -7.8l-4.4 2z" fill="#ea5a60" stroke="#ea5a60" stroke-width="0.7"/>
<path d="M1295.2 2451.7l4.2 -2.1l-7.1 -8.5l-4.3 2z" fill="#ea666c" stroke="#ea666c" stroke-width="0.7"/>
<path d="M1302.4 2460.6l4.2 -2.1l-7.2 -8.9l-4.2 2.1z" fill="#ea7272" stroke="#ea7272" stroke-width="0.7"/>
<path d="M1266.9 2420.6L1271.2 2418.8M1278.1 2426L1271.2 2418.8M1285.2 2433.4L1278.1 2426M1262.5 2422.4L1266.9 2420.6M1292.3 2441.1L1285.2 2433.4M1258 2424.6L1262.5 2422.4M1288 2443.1L1292.3 2441.1M1299.4 2449.6L1292.3 2441.1M1253.6 2427.2L1258 2424.6M1265 2432L1258 2424.6M1306.6 2458.5L1299.4 2449.6" stroke="#333" stroke-width="0.9" fill="none" stroke-linecap="round"/>
<path d="M1290.9 2453.8l4.3 -2.1l-7.2 -8.6l-4.3 2.1zM1286.5 2456l4.4 -2.2l-7.2 -8.6l-4.4 2.1zM1282.1 2458.2l4.4 -2.2l-7.2 -8.7l-4.5 2.3zM1233 2460.7l4.7 -4.6l-6.9 -5.1l-4.6 5zM1277.6 2460.6l4.5 -2.4l-7.3 -8.6l-4.5 2.5z" fill="#ea666c" stroke="#ea666c" stroke-width="0.7"/>
<path d="M1256 2437.2l4.6 -2.8l-7 -7.2l-4.6 2.9zM1251.5 2440.8l4.5 -3.6l-7 -7.1l-4.5 3.8z" fill="#ea4e54" stroke="#ea4e54" stroke-width="0.7"/>
<path d="M1279.3 2447.3l4.4 -2.1l-7.2 -7.9l-4.4 2.1zM1274.8 2449.6l4.5 -2.3l-7.2 -7.9l-4.4 2.4zM1254 2451.8l4.6 -4.1l-7.1 -6.9l-4.6 4.6z" fill="#ea5a60" stroke="#ea5a60" stroke-width="0.7"/>
<path d="M1267.7 2441.8l4.4 -2.4l-7.1 -7.4l-4.4 2.4zM1263.1 2444.4l4.6 -2.6l-7.1 -7.4l-4.6 2.8zM1246.9 2445.4l4.6 -4.6l-7 -6.9l-4.6 5.2zM1258.6 2447.7l4.5 -3.3l-7.1 -7.2l-4.5 3.6z" fill="#ea545a" stroke="#ea545a" stroke-width="0.7"/>
<path d="M1309.7 2469.5l4.2 -2.2l-7.3 -8.8l-4.2 2.1zM1305.5 2471.7l4.2 -2.2l-7.3 -8.9l-4.3 2.2zM1301.2 2474l4.3 -2.3l-7.4 -8.9l-4.3 2.2zM1296.8 2476.2l4.4 -2.2l-7.4 -9l-4.4 2.2z" fill="#f07e7e" stroke="#f07e7e" stroke-width="0.7"/>
<path d="M1298.1 2462.8l4.3 -2.2l-7.2 -8.9l-4.3 2.1zM1293.8 2465l4.3 -2.2l-7.2 -9l-4.4 2.2zM1289.4 2467.2l4.4 -2.2l-7.3 -9l-4.4 2.2z" fill="#ea7272" stroke="#ea7272" stroke-width="0.7"/>
<path d="M1317.1 2478.1l4.2 -2.3l-7.4 -8.5l-4.2 2.2zM1312.9 2480.4l4.2 -2.3l-7.4 -8.6l-4.2 2.2zM1308.6 2482.7l4.3 -2.3l-7.4 -8.7l-4.3 2.3z" fill="#f08a8a" stroke="#f08a8a" stroke-width="0.7"/>
<path d="M1242.3 2450.8l4.6 -5.4l-7 -6.3l-4.5 6.1z" fill="#e45a5a" stroke="#e45a5a" stroke-width="0.7"/>
<path d="M1324.6 2486.6l4.2 -2.4l-7.5 -8.4l-4.2 2.3zM1320.4 2489l4.2 -2.4l-7.5 -8.5l-4.2 2.3z" fill="#f09696" stroke="#f09696" stroke-width="0.7"/>
<path d="M1270.3 2452.1l4.5 -2.5l-7.1 -7.8l-4.6 2.6zM1265.8 2455.1l4.5 -3l-7.2 -7.7l-4.5 3.3zM1249.4 2456.6l4.6 -4.8l-7.1 -6.4l-4.6 5.4z" fill="#ea6060" stroke="#ea6060" stroke-width="0.7"/>
<path d="M1237.7 2456.1l4.6 -5.3l-6.9 -5.6l-4.6 5.8z" fill="#ea6066" stroke="#ea6066" stroke-width="0.7"/>
<path d="M1332.2 2495l4.1 -2.4l-7.5 -8.4l-4.2 2.4z" fill="#f0a2a2" stroke="#f0a2a2" stroke-width="0.7"/>
<path d="M1228.3 2465.2l4.7 -4.5l-6.8 -4.7l-4.7 4.7z" fill="#ea6c6c" stroke="#ea6c6c" stroke-width="0.7"/>
<path d="M1244.7 2461.3l4.7 -4.7l-7.1 -5.8l-4.6 5.3z" fill="#ea6666" stroke="#ea6666" stroke-width="0.7"/>
<path d="M1283.7 2445.2L1288 2443.1M1249 2430.1L1253.6 2427.2M1272.1 2439.4L1265 2432M1313.9 2467.3L1306.6 2458.5M1244.5 2433.9L1249 2430.1M1279.3 2447.3L1283.7 2445.2M1279.3 2447.3L1272.1 2439.4M1309.7 2469.5L1313.9 2467.3M1321.3 2475.8L1313.9 2467.3M1239.9 2439.1L1244.5 2433.9M1251.5 2440.8L1244.5 2433.9M1235.4 2445.2L1239.9 2439.1M1274.8 2449.6L1279.3 2447.3M1286.5 2456L1279.3 2447.3M1328.8 2484.2L1321.3 2475.8M1230.8 2451L1235.4 2445.2M1305.5 2471.7L1309.7 2469.5M1258.6 2447.7L1251.5 2440.8M1226.2 2456L1230.8 2451M1237.7 2456.1L1230.8 2451M1293.8 2465L1286.5 2456M1336.3 2492.6L1328.8 2484.2M1270.3 2452.1L1274.8 2449.6M1221.5 2460.7L1226.2 2456M1301.2 2474L1305.5 2471.7M1301.2 2474L1293.8 2465" stroke="#333" stroke-width="0.9" fill="none" stroke-linecap="round"/>
<path d="M1223.6 2470l4.7 -4.8l-6.8 -4.5l-4.7 5.1zM1285 2469.5l4.4 -2.3l-7.3 -9l-4.5 2.4zM1280.5 2472l4.5 -2.5l-7.4 -8.9l-4.5 2.7zM1230.5 2474.2l4.8 -4.5l-7 -4.5l-4.7 4.8zM1259.2 2473.8l4.7 -3.7l-7.3 -7.2l-4.7 4.2zM1242.4 2474.9l4.8 -3.9l-7.2 -5.5l-4.7 4.2z" fill="#ea7272" stroke="#ea7272" stroke-width="0.7"/>
<path d="M1261.2 2458.8l4.6 -3.7l-7.2 -7.4l-4.6 4.1z" fill="#ea6066" stroke="#ea6066" stroke-width="0.7"/>
<path d="M1339.9 2503.4l4.1 -2.5l-7.7 -8.3l-4.1 2.4zM1335.8 2506l4.1 -2.6l-7.7 -8.4l-4.1 2.4zM1331.6 2508.4l4.2 -2.4l-7.7 -8.6l-4.3 2.5zM1327.3 2510.9l4.3 -2.5l-7.8 -8.5l-4.2 2.3z" fill="#f6aeb4" stroke="#f6aeb4" stroke-width="0.7"/>
<path d="M1273.1 2463.3l4.5 -2.7l-7.3 -8.5l-4.5 3zM1240 2465.5l4.7 -4.2l-7 -5.2l-4.7 4.6zM1251.9 2467.1l4.7 -4.2l-7.2 -6.3l-4.7 4.7z" fill="#ea666c" stroke="#ea666c" stroke-width="0.7"/>
<path d="M1328.1 2497.4l4.1 -2.4l-7.6 -8.4l-4.2 2.4zM1323.8 2499.9l4.3 -2.5l-7.7 -8.4l-4.2 2.3zM1319.6 2502.2l4.2 -2.3l-7.6 -8.6l-4.3 2.3zM1315.2 2504.5l4.4 -2.3l-7.7 -8.6l-4.4 2.3z" fill="#f0a2a2" stroke="#f0a2a2" stroke-width="0.7"/>
<path d="M1316.2 2491.3l4.2 -2.3l-7.5 -8.6l-4.3 2.3zM1311.9 2493.6l4.3 -2.3l-7.6 -8.6l-4.3 2.2zM1307.5 2495.9l4.4 -2.3l-7.6 -8.7l-4.4 2.2zM1303.1 2498.2l4.4 -2.3l-7.6 -8.8l-4.4 2.3z" fill="#f09696" stroke="#f09696" stroke-width="0.7"/>
<path d="M1218.9 2475.3l4.7 -5.3l-6.8 -4.2l-4.6 5.6zM1225.7 2479.3l4.8 -5.1l-6.9 -4.2l-4.7 5.3z" fill="#ea7878" stroke="#ea7878" stroke-width="0.7"/>
<path d="M1304.3 2484.9l4.3 -2.2l-7.4 -8.7l-4.4 2.2zM1299.9 2487.1l4.4 -2.2l-7.5 -8.7l-4.4 2.2zM1295.5 2489.4l4.4 -2.3l-7.5 -8.7l-4.5 2.3z" fill="#f08a8a" stroke="#f08a8a" stroke-width="0.7"/>
<path d="M1256.6 2462.9l4.6 -4.1l-7.2 -7l-4.6 4.8z" fill="#ea6666" stroke="#ea6666" stroke-width="0.7"/>
<path d="M1292.4 2478.4l4.4 -2.2l-7.4 -9l-4.4 2.3zM1287.9 2480.7l4.5 -2.3l-7.4 -8.9l-4.5 2.5zM1283.4 2483.3l4.5 -2.6l-7.4 -8.7l-4.6 2.8z" fill="#f07e7e" stroke="#f07e7e" stroke-width="0.7"/>
<path d="M1214.1 2481l4.8 -5.7l-6.7 -3.9l-4.7 5.9zM1220.9 2484.8l4.8 -5.5l-6.8 -4l-4.8 5.7z" fill="#ea7e7e" stroke="#ea7e7e" stroke-width="0.7"/>
<path d="M1347.7 2511.8l4.1 -2.6l-7.8 -8.3l-4.1 2.5zM1343.6 2514.4l4.1 -2.6l-7.8 -8.4l-4.1 2.6zM1339.4 2516.9l4.2 -2.5l-7.8 -8.4l-4.2 2.4z" fill="#f6c0c0" stroke="#f6c0c0" stroke-width="0.7"/>
<path d="M1268.5 2466.5l4.6 -3.2l-7.3 -8.2l-4.6 3.7z" fill="#ea6c6c" stroke="#ea6c6c" stroke-width="0.7"/>
<path d="M1235.3 2469.7l4.7 -4.2l-7 -4.8l-4.7 4.5zM1263.9 2470.1l4.6 -3.6l-7.3 -7.7l-4.6 4.1zM1247.2 2471l4.7 -3.9l-7.2 -5.8l-4.7 4.2z" fill="#ea6c72" stroke="#ea6c72" stroke-width="0.7"/>
<path d="M1209.4 2486.7l4.7 -5.7l-6.6 -3.7l-4.7 5.9zM1216.1 2490.3l4.8 -5.5l-6.8 -3.8l-4.7 5.7z" fill="#ea8484" stroke="#ea8484" stroke-width="0.7"/>
<path d="M1204.6 2492.2l4.8 -5.5l-6.6 -3.5l-4.8 5.6zM1211.2 2495.6l4.9 -5.3l-6.7 -3.6l-4.8 5.5z" fill="#ea8a90" stroke="#ea8a90" stroke-width="0.7"/>
<path d="M1275.9 2474.8l4.6 -2.8l-7.4 -8.7l-4.6 3.2zM1237.6 2479.2l4.8 -4.3l-7.1 -5.2l-4.8 4.5z" fill="#ea7278" stroke="#ea7278" stroke-width="0.7"/>
<path d="M1199.7 2497.6l4.9 -5.4l-6.6 -3.4l-4.8 5.5z" fill="#f09096" stroke="#f09096" stroke-width="0.7"/>
<path d="M1355.7 2519.5l4 -2.7l-7.9 -7.6l-4.1 2.6zM1351.6 2522.1l4.1 -2.6l-8 -7.7l-4.1 2.6z" fill="#f6cccc" stroke="#f6cccc" stroke-width="0.7"/>
<path d="M1194.9 2503.5l4.8 -5.9l-6.5 -3.3l-4.7 5.9z" fill="#f09c9c" stroke="#f09c9c" stroke-width="0.7"/>
<path d="M1190.1 2510.2l4.8 -6.7l-6.4 -3.3l-4.7 6.7z" fill="#f0a2a8" stroke="#f0a2a8" stroke-width="0.7"/>
<path d="M1271.3 2477.9l4.6 -3.1l-7.4 -8.3l-4.6 3.6zM1254.4 2477.4l4.8 -3.6l-7.3 -6.7l-4.7 3.9z" fill="#f07278" stroke="#f07278" stroke-width="0.7"/>
<path d="M1185.4 2517.3l4.7 -7.1l-6.3 -3.3l-4.7 7.1z" fill="#f0aeb4" stroke="#f0aeb4" stroke-width="0.7"/>
<path d="M1180.5 2523.9l4.9 -6.6l-6.3 -3.3l-4.8 6.5z" fill="#f0c0c0" stroke="#f0c0c0" stroke-width="0.7"/>
<path d="M1364 2526l4 -2.7l-8.3 -6.5l-4 2.7z" fill="#fcdede" stroke="#fcdede" stroke-width="0.7"/>
<path d="M1175.6 2529.6l4.9 -5.7l-6.2 -3.4l-4.9 5.4z" fill="#f6ccd2" stroke="#f6ccd2" stroke-width="0.7"/>
<path d="M1216.8 2465.8L1221.5 2460.7M1265.8 2455.1L1258.6 2447.7M1332.2 2495L1336.3 2492.6M1344 2500.9L1336.3 2492.6M1265.8 2455.1L1270.3 2452.1M1244.7 2461.3L1237.7 2456.1M1212.2 2471.4L1216.8 2465.8M1223.6 2470L1216.8 2465.8M1296.8 2476.2L1301.2 2474M1308.6 2482.7L1301.2 2474M1207.5 2477.3L1212.2 2471.4M1351.8 2509.2L1344 2500.9M1261.2 2458.8L1265.8 2455.1M1273.1 2463.3L1265.8 2455.1M1328.1 2497.4L1332.2 2495M1202.8 2483.2L1207.5 2477.3M1316.2 2491.3L1308.6 2482.7M1198 2488.8L1202.8 2483.2M1209.4 2486.7L1202.8 2483.2M1292.4 2478.4L1296.8 2476.2M1256.6 2462.9L1261.2 2458.8M1251.9 2467.1L1244.7 2461.3M1280.5 2472L1273.1 2463.3M1193.2 2494.3L1198 2488.8M1359.7 2516.8L1351.8 2509.2M1323.8 2499.9L1328.1 2497.4M1230.5 2474.2L1223.6 2470M1323.8 2499.9L1316.2 2491.3M1188.5 2500.2L1193.2 2494.3M1251.9 2467.1L1256.6 2462.9M1287.9 2480.7L1292.4 2478.4M1183.8 2506.9L1188.5 2500.2M1194.9 2503.5L1188.5 2500.2M1287.9 2480.7L1280.5 2472M1179.1 2514L1183.8 2506.9M1174.3 2520.5L1179.1 2514M1319.6 2502.2L1323.8 2499.9M1331.6 2508.4L1323.8 2499.9M1247.2 2471L1251.9 2467.1M1259.2 2473.8L1251.9 2467.1M1355.7 2519.5L1359.7 2516.8M1368 2523.3L1359.7 2516.8M1169.4 2525.9L1174.3 2520.5M1180.5 2523.9L1174.3 2520.5M1216.1 2490.3L1209.4 2486.7" stroke="#333" stroke-width="0.9" fill="none" stroke-linecap="round"/>
<path d="M1266.6 2481.2l4.7 -3.3l-7.4 -7.8l-4.7 3.7zM1249.7 2481.1l4.7 -3.7l-7.2 -6.4l-4.8 3.9z" fill="#f07878" stroke="#f07878" stroke-width="0.7"/>
<path d="M1291 2491.8l4.5 -2.4l-7.6 -8.7l-4.5 2.6zM1286.4 2494.3l4.6 -2.5l-7.6 -8.5l-4.6 2.7zM1281.8 2497l4.6 -2.7l-7.6 -8.3l-4.7 2.9zM1277 2499.9l4.8 -2.9l-7.7 -8.1l-4.7 3z" fill="#f08a8a" stroke="#f08a8a" stroke-width="0.7"/>
<path d="M1278.8 2486l4.6 -2.7l-7.5 -8.5l-4.6 3.1zM1274.1 2488.9l4.7 -2.9l-7.5 -8.1l-4.7 3.3zM1252.2 2491.6l4.9 -3.7l-7.4 -6.8l-4.9 4z" fill="#f07e84" stroke="#f07e84" stroke-width="0.7"/>
<path d="M1232.8 2484l4.8 -4.8l-7.1 -5l-4.8 5.1z" fill="#ea787e" stroke="#ea787e" stroke-width="0.7"/>
<path d="M1170.6 2534.8l5 -5.2l-6.2 -3.7l-5.1 4.9z" fill="#f6dede" stroke="#f6dede" stroke-width="0.7"/>
<path d="M1206.3 2501.1l4.9 -5.5l-6.6 -3.4l-4.9 5.4zM1213.2 2505.1l4.9 -5.4l-6.9 -4.1l-4.9 5.5z" fill="#f09096" stroke="#f09096" stroke-width="0.7"/>
<path d="M1347.5 2524.8l4.1 -2.7l-8 -7.7l-4.2 2.5zM1343.3 2527.3l4.2 -2.5l-8.1 -7.9l-4.2 2.5zM1182 2533.3l4.9 -6l-6.4 -3.4l-4.9 5.7zM1339 2529.9l4.3 -2.6l-8.1 -7.9l-4.2 2.5zM1334.8 2532.4l4.2 -2.5l-8 -8l-4.4 2.4z" fill="#f6cccc" stroke="#f6cccc" stroke-width="0.7"/>
<path d="M1335.2 2519.4l4.2 -2.5l-7.8 -8.5l-4.3 2.5zM1331 2521.9l4.2 -2.5l-7.9 -8.5l-4.3 2.3z" fill="#f6c0c0" stroke="#f6c0c0" stroke-width="0.7"/>
<path d="M1323 2513.2l4.3 -2.3l-7.7 -8.7l-4.4 2.3zM1318.7 2515.6l4.3 -2.4l-7.8 -8.7l-4.3 2.3zM1314.3 2517.9l4.4 -2.3l-7.8 -8.8l-4.5 2.3z" fill="#f6aeae" stroke="#f6aeae" stroke-width="0.7"/>
<path d="M1359.9 2528.8l4.1 -2.8l-8.3 -6.5l-4.1 2.6zM1355.8 2531.5l4.1 -2.7l-8.3 -6.7l-4.1 2.7z" fill="#fcdede" stroke="#fcdede" stroke-width="0.7"/>
<path d="M1201.5 2506.9l4.8 -5.8l-6.6 -3.5l-4.8 5.9z" fill="#f09c9c" stroke="#f09c9c" stroke-width="0.7"/>
<path d="M1227.9 2489.2l4.9 -5.2l-7.1 -4.7l-4.8 5.5z" fill="#ea7e84" stroke="#ea7e84" stroke-width="0.7"/>
<path d="M1310.9 2506.8l4.3 -2.3l-7.7 -8.6l-4.4 2.3zM1196.6 2513.6l4.9 -6.7l-6.6 -3.4l-4.8 6.7zM1306.4 2509.1l4.5 -2.3l-7.8 -8.6l-4.5 2.3zM1203.3 2517.5l4.9 -6.6l-6.7 -4l-4.9 6.7zM1301.9 2511.4l4.5 -2.3l-7.8 -8.6l-4.5 2.3z" fill="#f0a2a2" stroke="#f0a2a2" stroke-width="0.7"/>
<path d="M1165.5 2540.1l5.1 -5.3l-6.3 -4l-5 4.8z" fill="#fceaea" stroke="#fceaea" stroke-width="0.7"/>
<path d="M1261.9 2484.4l4.7 -3.2l-7.4 -7.4l-4.8 3.6zM1244.8 2485.1l4.9 -4l-7.3 -6.2l-4.8 4.3z" fill="#f0787e" stroke="#f0787e" stroke-width="0.7"/>
<path d="M1298.6 2500.5l4.5 -2.3l-7.6 -8.8l-4.5 2.4zM1294.1 2502.8l4.5 -2.3l-7.6 -8.7l-4.6 2.5zM1289.5 2505.4l4.6 -2.6l-7.7 -8.5l-4.6 2.7z" fill="#f09696" stroke="#f09696" stroke-width="0.7"/>
<path d="M1372.5 2532l4 -2.8l-8.5 -5.9l-4 2.7zM1368.4 2534.8l4.1 -2.8l-8.5 -6l-4.1 2.8zM1364.3 2537.6l4.1 -2.8l-8.5 -6l-4.1 2.7z" fill="#fce4e4" stroke="#fce4e4" stroke-width="0.7"/>
<path d="M1223 2494.5l4.9 -5.3l-7 -4.4l-4.8 5.5z" fill="#ea848a" stroke="#ea848a" stroke-width="0.7"/>
<path d="M1191.8 2520.6l4.8 -7l-6.5 -3.4l-4.7 7.1zM1198.5 2524.5l4.8 -7l-6.7 -3.9l-4.8 7z" fill="#f0aeae" stroke="#f0aeae" stroke-width="0.7"/>
<path d="M1186.9 2527.3l4.9 -6.7l-6.4 -3.3l-4.9 6.6z" fill="#f0bac0" stroke="#f0bac0" stroke-width="0.7"/>
<path d="M1257.1 2487.9l4.8 -3.5l-7.5 -7l-4.7 3.7zM1240 2489.6l4.8 -4.5l-7.2 -5.9l-4.8 4.8z" fill="#f07e7e" stroke="#f07e7e" stroke-width="0.7"/>
<path d="M1218.1 2499.7l4.9 -5.2l-6.9 -4.2l-4.9 5.3zM1225.2 2504.6l5 -5.1l-7.2 -5l-4.9 5.2z" fill="#f08a90" stroke="#f08a90" stroke-width="0.7"/>
<path d="M1269.4 2491.9l4.7 -3l-7.5 -7.7l-4.7 3.2zM1235.1 2494.5l4.9 -4.9l-7.2 -5.6l-4.9 5.2zM1264.6 2495.2l4.8 -3.3l-7.5 -7.5l-4.8 3.5zM1247.4 2495.9l4.8 -4.3l-7.4 -6.5l-4.8 4.5z" fill="#f08484" stroke="#f08484" stroke-width="0.7"/>
<path d="M1176.9 2538.9l5.1 -5.6l-6.4 -3.7l-5 5.2z" fill="#f6d8d8" stroke="#f6d8d8" stroke-width="0.7"/>
<path d="M1381.2 2538l3.9 -2.8l-8.6 -6l-4 2.8zM1377.1 2540.9l4.1 -2.9l-8.7 -6l-4.1 2.8z" fill="#fcf0f0" stroke="#fcf0f0" stroke-width="0.7"/>
<path d="M1208.2 2510.9l5 -5.8l-6.9 -4l-4.8 5.8z" fill="#f0969c" stroke="#f0969c" stroke-width="0.7"/>
<path d="M1326.6 2524.3l4.4 -2.4l-8 -8.7l-4.3 2.4z" fill="#f6bac0" stroke="#f6bac0" stroke-width="0.7"/>
<path d="M1171.8 2544.6l5.1 -5.7l-6.3 -4.1l-5.1 5.3z" fill="#f6eaea" stroke="#f6eaea" stroke-width="0.7"/>
<path d="M1351.6 2534.2l4.2 -2.7l-8.3 -6.7l-4.2 2.5z" fill="#fcd8de" stroke="#fcd8de" stroke-width="0.7"/>
<path d="M1230.2 2499.5l4.9 -5l-7.2 -5.3l-4.9 5.3zM1259.8 2498.7l4.8 -3.5l-7.5 -7.3l-4.9 3.7z" fill="#f0848a" stroke="#f0848a" stroke-width="0.7"/>
<path d="M1193.5 2531.2l5 -6.7l-6.7 -3.9l-4.9 6.7z" fill="#f0baba" stroke="#f0baba" stroke-width="0.7"/>
<path d="M1188.5 2537.4l5 -6.2l-6.6 -3.9l-4.9 6z" fill="#f6c6cc" stroke="#f6c6cc" stroke-width="0.7"/>
<path d="M1283.4 2483.3L1287.9 2480.7M1295.5 2489.4L1287.9 2480.7M1237.6 2479.2L1230.5 2474.2M1164.3 2530.8L1169.4 2525.9M1242.4 2474.9L1247.2 2471M1339.4 2516.9L1331.6 2508.4M1315.2 2504.5L1319.6 2502.2M1351.6 2522.1L1355.7 2519.5M1159.3 2535.6L1164.3 2530.8M1165.5 2540.1L1159.3 2535.6M1266.6 2481.2L1259.2 2473.8M1303.1 2498.2L1295.5 2489.4M1201.5 2506.9L1194.9 2503.5M1376.5 2529.2L1368 2523.3M1278.8 2486L1283.4 2483.3M1237.6 2479.2L1242.4 2474.9M1347.5 2524.8L1339.4 2516.9M1223 2494.5L1216.1 2490.3M1347.5 2524.8L1351.6 2522.1M1310.9 2506.8L1315.2 2504.5M1186.9 2527.3L1180.5 2523.9M1232.8 2484L1237.6 2479.2M1244.8 2485.1L1237.6 2479.2M1310.9 2506.8L1303.1 2498.2M1274.1 2488.9L1266.6 2481.2M1274.1 2488.9L1278.8 2486M1227.9 2489.2L1232.8 2484M1381.2 2538L1385.1 2535.2M1385.1 2535.2L1376.5 2529.2M1171.8 2544.6L1165.5 2540.1M1343.3 2527.3L1347.5 2524.8M1355.8 2531.5L1347.5 2524.8M1306.4 2509.1L1310.9 2506.8M1318.7 2515.6L1310.9 2506.8M1223 2494.5L1227.9 2489.2M1208.2 2510.9L1201.5 2506.9M1269.4 2491.9L1274.1 2488.9M1281.8 2497L1274.1 2488.9M1252.2 2491.6L1244.8 2485.1M1218.1 2499.7L1223 2494.5M1230.2 2499.5L1223 2494.5M1377.1 2540.9L1381.2 2538M1193.5 2531.2L1186.9 2527.3" stroke="#333" stroke-width="0.9" fill="none" stroke-linecap="round"/>
<path d="M1322.3 2526.6l4.3 -2.3l-7.9 -8.7l-4.4 2.3zM1317.8 2529l4.5 -2.4l-8 -8.7l-4.5 2.3zM1313.3 2531.5l4.5 -2.5l-8 -8.8l-4.5 2.5zM1308.7 2534.3l4.6 -2.8l-8 -8.8l-4.7 2.7z" fill="#f6baba" stroke="#f6baba" stroke-width="0.7"/>
<path d="M1242.4 2500.5l5 -4.6l-7.4 -6.3l-4.9 4.9z" fill="#f0848a" stroke="#f0848a" stroke-width="0.7"/>
<path d="M1347.4 2536.9l4.2 -2.7l-8.3 -6.9l-4.3 2.6zM1343.1 2539.5l4.3 -2.6l-8.4 -7l-4.2 2.5zM1338.8 2542.1l4.3 -2.6l-8.3 -7.1l-4.4 2.5zM1334.4 2544.8l4.4 -2.7l-8.4 -7.2l-4.4 2.4z" fill="#fcd8d8" stroke="#fcd8d8" stroke-width="0.7"/>
<path d="M1309.8 2520.2l4.5 -2.3l-7.9 -8.8l-4.5 2.3z" fill="#f6aeae" stroke="#f6aeae" stroke-width="0.7"/>
<path d="M1220.2 2509.8l5 -5.2l-7.1 -4.9l-4.9 5.4zM1257.6 2514.2l5 -4.1l-7.7 -7.4l-4.9 4.3z" fill="#f09096" stroke="#f09096" stroke-width="0.7"/>
<path d="M1272.3 2503l4.7 -3.1l-7.6 -8l-4.8 3.3zM1237.5 2505.3l4.9 -4.8l-7.3 -6l-4.9 5zM1267.4 2506.3l4.9 -3.3l-7.7 -7.8l-4.8 3.5zM1250 2507l4.9 -4.3l-7.5 -6.8l-5 4.6z" fill="#f08a90" stroke="#f08a90" stroke-width="0.7"/>
<path d="M1297.3 2513.9l4.6 -2.5l-7.8 -8.6l-4.6 2.6zM1292.7 2516.7l4.6 -2.8l-7.8 -8.5l-4.7 2.8z" fill="#f09ca2" stroke="#f09ca2" stroke-width="0.7"/>
<path d="M1284.8 2508.2l4.7 -2.8l-7.7 -8.4l-4.8 2.9zM1280.1 2511.2l4.7 -3l-7.8 -8.3l-4.7 3.1zM1227.5 2515.1l5 -5l-7.3 -5.5l-5 5.2zM1275.2 2514.5l4.9 -3.3l-7.8 -8.2l-4.9 3.3zM1240 2516.2l5 -4.6l-7.5 -6.3l-5 4.8zM1252.6 2518.5l5 -4.3l-7.6 -7.2l-5 4.6z" fill="#f09696" stroke="#f09696" stroke-width="0.7"/>
<path d="M1183.5 2543.3l5 -5.9l-6.5 -4.1l-5.1 5.6zM1190.2 2548l5.1 -6l-6.8 -4.6l-5 5.9z" fill="#f6d8d8" stroke="#f6d8d8" stroke-width="0.7"/>
<path d="M1360.2 2540.4l4.1 -2.8l-8.5 -6.1l-4.2 2.7zM1355.9 2543.2l4.3 -2.8l-8.6 -6.2l-4.2 2.7zM1351.7 2546.1l4.2 -2.9l-8.5 -6.3l-4.3 2.6zM1347.3 2548.9l4.4 -2.8l-8.6 -6.6l-4.3 2.6z" fill="#fce4e4" stroke="#fce4e4" stroke-width="0.7"/>
<path d="M1215.2 2515.5l5 -5.7l-7 -4.7l-5 5.8zM1222.4 2520.6l5.1 -5.5l-7.3 -5.3l-5 5.7zM1234.9 2521l5.1 -4.8l-7.5 -6.1l-5 5z" fill="#f09c9c" stroke="#f09c9c" stroke-width="0.7"/>
<path d="M1254.9 2502.7l4.9 -4l-7.6 -7.1l-4.8 4.3z" fill="#f08a8a" stroke="#f08a8a" stroke-width="0.7"/>
<path d="M1178.4 2549.2l5.1 -5.9l-6.6 -4.4l-5.1 5.7z" fill="#f6eaea" stroke="#f6eaea" stroke-width="0.7"/>
<path d="M1373 2543.8l4.1 -2.9l-8.7 -6.1l-4.1 2.8zM1368.9 2546.7l4.1 -2.9l-8.7 -6.2l-4.1 2.8zM1364.7 2549.7l4.2 -3l-8.7 -6.3l-4.3 2.8z" fill="#fcf0f0" stroke="#fcf0f0" stroke-width="0.7"/>
<path d="M1210.3 2522l4.9 -6.5l-7 -4.6l-4.9 6.6zM1287.9 2519.7l4.8 -3l-7.9 -8.5l-4.7 3zM1283.1 2522.9l4.8 -3.2l-7.8 -8.5l-4.9 3.3z" fill="#f0a2a2" stroke="#f0a2a2" stroke-width="0.7"/>
<path d="M1330.4 2534.9l4.4 -2.5l-8.2 -8.1l-4.3 2.3zM1202.3 2547.2l5.1 -6.2l-7 -5.1l-5.1 6.1z" fill="#f6cccc" stroke="#f6cccc" stroke-width="0.7"/>
<path d="M1232.5 2510.1l5 -4.8l-7.3 -5.8l-5 5.1zM1262.6 2510.1l4.8 -3.8l-7.6 -7.6l-4.9 4zM1245 2511.6l5 -4.6l-7.6 -6.5l-4.9 4.8z" fill="#f09090" stroke="#f09090" stroke-width="0.7"/>
<path d="M1205.3 2529.1l5 -7.1l-7 -4.5l-4.8 7zM1212.4 2534.2l5 -7l-7.1 -5.2l-5 7.1z" fill="#f0aeae" stroke="#f0aeae" stroke-width="0.7"/>
<path d="M1305.3 2522.7l4.5 -2.5l-7.9 -8.8l-4.6 2.5zM1300.6 2525.4l4.7 -2.7l-8 -8.8l-4.6 2.8zM1295.9 2528.4l4.7 -3l-7.9 -8.7l-4.8 3z" fill="#f6a8ae" stroke="#f6a8ae" stroke-width="0.7"/>
<path d="M1200.4 2535.9l4.9 -6.8l-6.8 -4.6l-5 6.7zM1207.4 2541l5 -6.8l-7.1 -5.1l-4.9 6.8z" fill="#f0baba" stroke="#f0baba" stroke-width="0.7"/>
<path d="M1195.3 2542l5.1 -6.1l-6.9 -4.7l-5 6.2zM1321.5 2539.9l4.5 -2.6l-8.2 -8.3l-4.5 2.5z" fill="#f6c6c6" stroke="#f6c6c6" stroke-width="0.7"/>
<path d="M1326 2537.3l4.4 -2.4l-8.1 -8.3l-4.5 2.4z" fill="#f6c6cc" stroke="#f6c6cc" stroke-width="0.7"/>
<path d="M1185.1 2554l5.1 -6l-6.7 -4.7l-5.1 5.9z" fill="#f6e4ea" stroke="#f6e4ea" stroke-width="0.7"/>
<path d="M1217.4 2527.2l5 -6.6l-7.2 -5.1l-4.9 6.5z" fill="#f0a2a8" stroke="#f0a2a8" stroke-width="0.7"/>
<path d="M1270.4 2518l4.8 -3.5l-7.8 -8.2l-4.8 3.8z" fill="#f0969c" stroke="#f0969c" stroke-width="0.7"/>
<path d="M1326.6 2524.3L1318.7 2515.6M1339 2529.9L1343.3 2527.3M1301.9 2511.4L1306.4 2509.1M1213.2 2505.1L1218.1 2499.7M1264.6 2495.2L1269.4 2491.9M1289.5 2505.4L1281.8 2497M1364.3 2537.6L1355.8 2531.5M1208.2 2510.9L1213.2 2505.1M1259.8 2498.7L1252.2 2491.6M1178.4 2549.2L1171.8 2544.6M1373 2543.8L1377.1 2540.9M1203.3 2517.5L1208.2 2510.9M1215.2 2515.5L1208.2 2510.9M1334.8 2532.4L1326.6 2524.3M1259.8 2498.7L1264.6 2495.2M1334.8 2532.4L1339 2529.9M1237.5 2505.3L1230.2 2499.5M1198.5 2524.5L1203.3 2517.5M1297.3 2513.9L1301.9 2511.4M1297.3 2513.9L1289.5 2505.4M1193.5 2531.2L1198.5 2524.5M1188.5 2537.4L1193.5 2531.2M1200.4 2535.9L1193.5 2531.2M1368.9 2546.7L1373 2543.8M1373 2543.8L1364.3 2537.6M1254.9 2502.7L1259.8 2498.7M1267.4 2506.3L1259.8 2498.7M1183.5 2543.3L1188.5 2537.4M1330.4 2534.9L1334.8 2532.4M1343.1 2539.5L1334.8 2532.4M1292.7 2516.7L1297.3 2513.9M1305.3 2522.7L1297.3 2513.9M1178.4 2549.2L1183.5 2543.3M1185.1 2554L1178.4 2549.2M1250 2507L1254.9 2502.7M1222.4 2520.6L1215.2 2515.5M1245 2511.6L1237.5 2505.3M1364.7 2549.7L1368.9 2546.7M1275.2 2514.5L1267.4 2506.3M1313.3 2531.5L1305.3 2522.7M1287.9 2519.7L1292.7 2516.7M1326 2537.3L1330.4 2534.9M1245 2511.6L1250 2507M1207.4 2541L1200.4 2535.9M1351.7 2546.1L1343.1 2539.5" stroke="#333" stroke-width="0.9" fill="none" stroke-linecap="round"/>
<path d="M1265.4 2521.9l5 -3.9l-7.8 -7.9l-5 4.1zM1247.6 2523l5 -4.5l-7.6 -6.9l-5 4.6z" fill="#f09c9c" stroke="#f09c9c" stroke-width="0.7"/>
<path d="M1229.8 2526.5l5.1 -5.5l-7.4 -5.9l-5.1 5.5zM1255.4 2530.5l5 -4.5l-7.8 -7.5l-5 4.5z" fill="#f0a2a2" stroke="#f0a2a2" stroke-width="0.7"/>
<path d="M1197.1 2553l5.2 -5.8l-7 -5.2l-5.1 6zM1204.2 2558.3l5.3 -5.7l-7.2 -5.4l-5.2 5.8z" fill="#f6d8d8" stroke="#f6d8d8" stroke-width="0.7"/>
<path d="M1360.4 2552.7l4.3 -3l-8.8 -6.5l-4.2 2.9zM1356.1 2555.8l4.3 -3.1l-8.7 -6.6l-4.4 2.8zM1351.7 2558.9l4.4 -3.1l-8.8 -6.9l-4.3 2.9zM1347.3 2562.1l4.4 -3.2l-8.7 -7.1l-4.5 2.9z" fill="#fcf0f0" stroke="#fcf0f0" stroke-width="0.7"/>
<path d="M1278.3 2526.3l4.8 -3.4l-7.9 -8.4l-4.8 3.5z" fill="#f6a2a2" stroke="#f6a2a2" stroke-width="0.7"/>
<path d="M1291.2 2531.6l4.7 -3.2l-8 -8.7l-4.8 3.2zM1286.3 2535l4.9 -3.4l-8.1 -8.7l-4.8 3.4zM1281.4 2538.6l4.9 -3.6l-8 -8.7l-5 3.7zM1258.2 2543.1l5.1 -4.7l-7.9 -7.9l-5.1 4.8z" fill="#f6aeae" stroke="#f6aeae" stroke-width="0.7"/>
<path d="M1304 2537.3l4.7 -3l-8.1 -8.9l-4.7 3zM1299.3 2540.5l4.7 -3.2l-8.1 -8.9l-4.7 3.2zM1294.5 2544l4.8 -3.5l-8.1 -8.9l-4.9 3.4z" fill="#f6baba" stroke="#f6baba" stroke-width="0.7"/>
<path d="M1316.9 2542.8l4.6 -2.9l-8.2 -8.4l-4.6 2.8zM1312.3 2545.8l4.6 -3l-8.2 -8.5l-4.7 3zM1307.5 2549.1l4.8 -3.3l-8.3 -8.5l-4.7 3.2zM1222.1 2552.8l5.1 -6.4l-7.5 -6.5l-5.1 6.7zM1302.7 2552.6l4.8 -3.5l-8.2 -8.6l-4.8 3.5z" fill="#f6c6c6" stroke="#f6c6c6" stroke-width="0.7"/>
<path d="M1224.8 2532.9l5 -6.4l-7.4 -5.9l-5 6.6zM1250.3 2535.3l5.1 -4.8l-7.8 -7.5l-5.1 4.8z" fill="#f0a8a8" stroke="#f0a8a8" stroke-width="0.7"/>
<path d="M1329.9 2547.5l4.5 -2.7l-8.4 -7.5l-4.5 2.6z" fill="#fcd2d8" stroke="#fcd2d8" stroke-width="0.7"/>
<path d="M1191.9 2558.9l5.2 -5.9l-6.9 -5l-5.1 6zM1199 2563.9l5.2 -5.6l-7.1 -5.3l-5.2 5.9z" fill="#f6eaea" stroke="#f6eaea" stroke-width="0.7"/>
<path d="M1219.7 2539.9l5.1 -7l-7.4 -5.7l-5 7z" fill="#f0aeb4" stroke="#f0aeb4" stroke-width="0.7"/>
<path d="M1343 2551.8l4.3 -2.9l-8.5 -6.8l-4.4 2.7z" fill="#fce4e4" stroke="#fce4e4" stroke-width="0.7"/>
<path d="M1260.4 2526l5 -4.1l-7.8 -7.7l-5 4.3zM1242.5 2527.8l5.1 -4.8l-7.6 -6.8l-5.1 4.8z" fill="#f09ca2" stroke="#f09ca2" stroke-width="0.7"/>
<path d="M1214.6 2546.6l5.1 -6.7l-7.3 -5.7l-5 6.8z" fill="#f0c0c0" stroke="#f0c0c0" stroke-width="0.7"/>
<path d="M1273.3 2530l5 -3.7l-7.9 -8.3l-5 3.9z" fill="#f6a2a8" stroke="#f6a2a8" stroke-width="0.7"/>
<path d="M1209.5 2552.6l5.1 -6l-7.2 -5.6l-5.1 6.2z" fill="#f6cccc" stroke="#f6cccc" stroke-width="0.7"/>
<path d="M1237.4 2533.2l5.1 -5.4l-7.6 -6.8l-5.1 5.5z" fill="#f0a2a8" stroke="#f0a2a8" stroke-width="0.7"/>
<path d="M1325.3 2550.5l4.6 -3l-8.4 -7.6l-4.6 2.9zM1320.7 2553.6l4.6 -3.1l-8.4 -7.7l-4.6 3z" fill="#fcd2d2" stroke="#fcd2d2" stroke-width="0.7"/>
<path d="M1338.5 2554.7l4.5 -2.9l-8.6 -7l-4.5 2.7z" fill="#fcdee4" stroke="#fcdee4" stroke-width="0.7"/>
<path d="M1232.3 2539.5l5.1 -6.3l-7.6 -6.7l-5 6.4zM1245.2 2540.6l5.1 -5.3l-7.8 -7.5l-5.1 5.4z" fill="#f0aeae" stroke="#f0aeae" stroke-width="0.7"/>
<path d="M1268.4 2534l4.9 -4l-7.9 -8.1l-5 4.1z" fill="#f6a8a8" stroke="#f6a8a8" stroke-width="0.7"/>
<path d="M1227.2 2546.4l5.1 -6.9l-7.5 -6.6l-5.1 7z" fill="#f0b4ba" stroke="#f0b4ba" stroke-width="0.7"/>
<path d="M1263.3 2538.4l5.1 -4.4l-8 -8l-5 4.5z" fill="#f6a8ae" stroke="#f6a8ae" stroke-width="0.7"/>
<path d="M1334 2557.8l4.5 -3.1l-8.6 -7.2l-4.6 3z" fill="#fcdede" stroke="#fcdede" stroke-width="0.7"/>
<path d="M1216.8 2558.5l5.3 -5.7l-7.5 -6.2l-5.1 6z" fill="#f6d2d2" stroke="#f6d2d2" stroke-width="0.7"/>
<path d="M1276.4 2542.6l5 -4l-8.1 -8.6l-4.9 4z" fill="#f6b4b4" stroke="#f6b4b4" stroke-width="0.7"/>
<path d="M1289.6 2547.7l4.9 -3.7l-8.2 -9l-4.9 3.6z" fill="#f6bac0" stroke="#f6bac0" stroke-width="0.7"/>
<path d="M1240 2546.7l5.2 -6.1l-7.8 -7.4l-5.1 6.3z" fill="#f0b4b4" stroke="#f0b4b4" stroke-width="0.7"/>
<path d="M1360.4 2552.7L1364.7 2549.7M1240 2516.2L1245 2511.6M1252.6 2518.5L1245 2511.6M1283.1 2522.9L1275.2 2514.5M1283.1 2522.9L1287.9 2519.7M1321.5 2539.9L1313.3 2531.5M1229.8 2526.5L1222.4 2520.6M1321.5 2539.9L1326 2537.3M1191.9 2558.9L1185.1 2554M1234.9 2521L1240 2516.2M1356.1 2555.8L1360.4 2552.7M1360.4 2552.7L1351.7 2546.1M1278.3 2526.3L1283.1 2522.9M1291.2 2531.6L1283.1 2522.9M1214.6 2546.6L1207.4 2541M1229.8 2526.5L1234.9 2521M1260.4 2526L1252.6 2518.5M1316.9 2542.8L1321.5 2539.9M1329.9 2547.5L1321.5 2539.9M1224.8 2532.9L1229.8 2526.5M1237.4 2533.2L1229.8 2526.5M1351.7 2558.9L1356.1 2555.8M1273.3 2530L1278.3 2526.3M1219.7 2539.9L1224.8 2532.9M1199 2563.9L1191.9 2558.9M1299.3 2540.5L1291.2 2531.6M1214.6 2546.6L1219.7 2539.9M1312.3 2545.8L1316.9 2542.8M1268.4 2534L1260.4 2526M1338.5 2554.7L1329.9 2547.5M1209.5 2552.6L1214.6 2546.6M1222.1 2552.8L1214.6 2546.6M1268.4 2534L1273.3 2530M1347.3 2562.1L1351.7 2558.9M1245.2 2540.6L1237.4 2533.2M1307.5 2549.1L1299.3 2540.5" stroke="#333" stroke-width="0.9" fill="none" stroke-linecap="round"/>
<path d="M1211.5 2563.8l5.3 -5.3l-7.3 -5.9l-5.3 5.7z" fill="#f6dede" stroke="#f6dede" stroke-width="0.7"/>
<path d="M1316 2556.9l4.7 -3.3l-8.4 -7.8l-4.8 3.3zM1282.8 2568.3l5.1 -4.2l-8.3 -8.4l-5.1 4.4z" fill="#fcd2d2" stroke="#fcd2d2" stroke-width="0.7"/>
<path d="M1234.9 2553.3l5.1 -6.6l-7.7 -7.2l-5.1 6.9z" fill="#f0bac0" stroke="#f0bac0" stroke-width="0.7"/>
<path d="M1271.4 2546.9l5 -4.3l-8 -8.6l-5.1 4.4zM1253.1 2548.2l5.1 -5.1l-7.9 -7.8l-5.1 5.3z" fill="#f6b4b4" stroke="#f6b4b4" stroke-width="0.7"/>
<path d="M1329.3 2561l4.7 -3.2l-8.7 -7.3l-4.6 3.1zM1324.7 2564.3l4.6 -3.3l-8.6 -7.4l-4.7 3.3zM1232.1 2571l5.4 -4.9l-7.8 -6.6l-5.3 5.3z" fill="#fcdede" stroke="#fcdede" stroke-width="0.7"/>
<path d="M1229.7 2559.5l5.2 -6.2l-7.7 -6.9l-5.1 6.4zM1297.9 2556.3l4.8 -3.7l-8.2 -8.6l-4.9 3.7zM1292.9 2560.1l5 -3.8l-8.3 -8.6l-5 3.9zM1269.3 2564.6l5.2 -4.5l-8.2 -8.7l-5.2 4.9z" fill="#f6cccc" stroke="#f6cccc" stroke-width="0.7"/>
<path d="M1206.2 2569.1l5.3 -5.3l-7.3 -5.5l-5.2 5.6zM1226.7 2575.5l5.4 -4.5l-7.7 -6.2l-5.4 4.8z" fill="#fceaea" stroke="#fceaea" stroke-width="0.7"/>
<path d="M1284.6 2551.6l5 -3.9l-8.2 -9.1l-5 4zM1279.6 2555.7l5 -4.1l-8.2 -9l-5 4.3zM1261.1 2556.3l5.2 -4.9l-8.1 -8.3l-5.1 5.1z" fill="#f6c0c0" stroke="#f6c0c0" stroke-width="0.7"/>
<path d="M1342.7 2565.3l4.6 -3.2l-8.8 -7.4l-4.5 3.1zM1338.1 2568.6l4.6 -3.3l-8.7 -7.5l-4.7 3.2zM1213.6 2574.5l5.4 -4.9l-7.5 -5.8l-5.3 5.3zM1333.5 2571.9l4.6 -3.3l-8.8 -7.6l-4.6 3.3z" fill="#fcf0f0" stroke="#fcf0f0" stroke-width="0.7"/>
<path d="M1224.4 2564.8l5.3 -5.3l-7.6 -6.7l-5.3 5.7zM1245.4 2572.6l5.3 -5.3l-8 -6.9l-5.2 5.7z" fill="#f6d8d8" stroke="#f6d8d8" stroke-width="0.7"/>
<path d="M1311.2 2560.4l4.8 -3.5l-8.5 -7.8l-4.8 3.5z" fill="#fcd2d8" stroke="#fcd2d8" stroke-width="0.7"/>
<path d="M1266.3 2551.4l5.1 -4.5l-8.1 -8.5l-5.1 4.7zM1247.9 2554.1l5.2 -5.9l-7.9 -7.6l-5.2 6.1z" fill="#f6baba" stroke="#f6baba" stroke-width="0.7"/>
<path d="M1242.7 2560.4l5.2 -6.3l-7.9 -7.4l-5.1 6.6zM1274.5 2560.1l5.1 -4.4l-8.2 -8.8l-5.1 4.5zM1255.9 2561.6l5.2 -5.3l-8 -8.1l-5.2 5.9z" fill="#f6c6c6" stroke="#f6c6c6" stroke-width="0.7"/>
<path d="M1219 2569.6l5.4 -4.8l-7.6 -6.3l-5.3 5.3zM1319.9 2567.7l4.8 -3.4l-8.7 -7.4l-4.8 3.5zM1315.1 2571.3l4.8 -3.6l-8.7 -7.3l-4.8 3.6z" fill="#fce4e4" stroke="#fce4e4" stroke-width="0.7"/>
<path d="M1237.5 2566.1l5.2 -5.7l-7.8 -7.1l-5.2 6.2zM1287.9 2564.1l5 -4l-8.3 -8.5l-5 4.1z" fill="#f6d2d2" stroke="#f6d2d2" stroke-width="0.7"/>
<path d="M1306.4 2564l4.8 -3.6l-8.5 -7.8l-4.8 3.7zM1301.4 2567.7l5 -3.7l-8.5 -7.7l-5 3.8z" fill="#fcd8d8" stroke="#fcd8d8" stroke-width="0.7"/>
<path d="M1250.7 2567.3l5.2 -5.7l-8 -7.5l-5.2 6.3z" fill="#f6ccd2" stroke="#f6ccd2" stroke-width="0.7"/>
<path d="M1204.2 2558.3L1209.5 2552.6M1307.5 2549.1L1312.3 2545.8M1263.3 2538.4L1268.4 2534M1276.4 2542.6L1268.4 2534M1199 2563.9L1204.2 2558.3M1206.2 2569.1L1199 2563.9M1342.7 2565.3L1347.3 2562.1M1347.3 2562.1L1338.5 2554.7M1229.7 2559.5L1222.1 2552.8M1302.7 2552.6L1307.5 2549.1M1316 2556.9L1307.5 2549.1M1258.2 2543.1L1263.3 2538.4M1253.1 2548.2L1245.2 2540.6M1284.6 2551.6L1276.4 2542.6M1338.1 2568.6L1342.7 2565.3M1253.1 2548.2L1258.2 2543.1M1297.9 2556.3L1302.7 2552.6M1213.6 2574.5L1206.2 2569.1M1324.7 2564.3L1316 2556.9M1247.9 2554.1L1253.1 2548.2M1261.1 2556.3L1253.1 2548.2M1292.9 2560.1L1284.6 2551.6M1237.5 2566.1L1229.7 2559.5M1333.5 2571.9L1338.1 2568.6M1292.9 2560.1L1297.9 2556.3M1242.7 2560.4L1247.9 2554.1M1237.5 2566.1L1242.7 2560.4" stroke="#333" stroke-width="0.9" fill="none" stroke-linecap="round"/>
<path d="M1264.1 2569.3l5.2 -4.7l-8.2 -8.3l-5.2 5.3z" fill="#f6d2d2" stroke="#f6d2d2" stroke-width="0.7"/>
<path d="M1328.8 2575.3l4.7 -3.4l-8.8 -7.6l-4.8 3.4zM1221.2 2580l5.5 -4.5l-7.7 -5.9l-5.4 4.9zM1324 2578.7l4.8 -3.4l-8.9 -7.6l-4.8 3.6zM1319.1 2582.2l4.9 -3.5l-8.9 -7.4l-4.9 3.6zM1242.6 2587.2l5.5 -4l-8.1 -6.1l-5.4 4.2zM1314.1 2585.7l5 -3.5l-8.9 -7.3l-5 3.6z" fill="#fcf0f0" stroke="#fcf0f0" stroke-width="0.7"/>
<path d="M1296.4 2571.6l5 -3.9l-8.5 -7.6l-5 4zM1291.4 2575.5l5 -3.9l-8.5 -7.5l-5.1 4.2zM1272.5 2576.7l5.2 -4.3l-8.4 -7.8l-5.2 4.7z" fill="#fcdede" stroke="#fcdede" stroke-width="0.7"/>
<path d="M1240 2577.1l5.4 -4.5l-7.9 -6.5l-5.4 4.9zM1310.2 2574.9l4.9 -3.6l-8.7 -7.3l-5 3.7zM1253.5 2578.9l5.4 -4.7l-8.2 -6.9l-5.3 5.3zM1305.2 2578.5l5 -3.6l-8.8 -7.2l-5 3.9zM1286.2 2579.5l5.2 -4l-8.6 -7.2l-5.1 4.1zM1267.2 2581l5.3 -4.3l-8.4 -7.4l-5.2 4.9z" fill="#fce4e4" stroke="#fce4e4" stroke-width="0.7"/>
<path d="M1277.7 2572.4l5.1 -4.1l-8.3 -8.2l-5.2 4.5z" fill="#fcd8d8" stroke="#fcd8d8" stroke-width="0.7"/>
<path d="M1258.9 2574.2l5.2 -4.9l-8.2 -7.7l-5.2 5.7z" fill="#f6d8d8" stroke="#f6d8d8" stroke-width="0.7"/>
<path d="M1234.6 2581.3l5.4 -4.2l-7.9 -6.1l-5.4 4.5z" fill="#fceaf0" stroke="#fceaf0" stroke-width="0.7"/>
<path d="M1229 2585.6l5.6 -4.3l-7.9 -5.8l-5.5 4.5z" fill="#fcf6f6" stroke="#fcf6f6" stroke-width="0.7"/>
<path d="M1248.1 2583.2l5.4 -4.3l-8.1 -6.3l-5.4 4.5zM1300.1 2582.3l5.1 -3.8l-8.8 -6.9l-5 3.9zM1261.9 2585.3l5.3 -4.3l-8.3 -6.8l-5.4 4.7zM1295 2586.1l5.1 -3.8l-8.7 -6.8l-5.2 4z" fill="#fceaea" stroke="#fceaea" stroke-width="0.7"/>
<path d="M1281 2583.5l5.2 -4l-8.5 -7.1l-5.2 4.3z" fill="#fce4ea" stroke="#fce4ea" stroke-width="0.7"/>
<path d="M1269.3 2564.6L1261.1 2556.3M1328.8 2575.3L1333.5 2571.9M1333.5 2571.9L1324.7 2564.3M1287.9 2564.1L1292.9 2560.1M1301.4 2567.7L1292.9 2560.1M1221.2 2580L1213.6 2574.5M1232.1 2571L1237.5 2566.1M1245.4 2572.6L1237.5 2566.1M1282.8 2568.3L1287.9 2564.1M1324 2578.7L1328.8 2575.3M1226.7 2575.5L1232.1 2571M1277.7 2572.4L1269.3 2564.6M1310.2 2574.9L1301.4 2567.7M1277.7 2572.4L1282.8 2568.3M1319.1 2582.2L1324 2578.7M1221.2 2580L1226.7 2575.5M1229 2585.6L1221.2 2580M1253.5 2578.9L1245.4 2572.6M1272.5 2576.7L1277.7 2572.4M1286.2 2579.5L1277.7 2572.4M1314.1 2585.7L1319.1 2582.2M1319.1 2582.2L1310.2 2574.9" stroke="#333" stroke-width="0.9" fill="none" stroke-linecap="round"/>
<path d="M1275.7 2587.5l5.3 -4l-8.5 -6.8l-5.3 4.3z" fill="#fceaea" stroke="#fceaea" stroke-width="0.7"/>
<path d="M1256.4 2589.3l5.5 -4l-8.4 -6.4l-5.4 4.3zM1289.8 2590l5.2 -3.9l-8.8 -6.6l-5.2 4zM1270.4 2591.5l5.3 -4l-8.5 -6.5l-5.3 4.3zM1284.5 2593.9l5.3 -3.9l-8.8 -6.5l-5.3 4z" fill="#fcf0f0" stroke="#fcf0f0" stroke-width="0.7"/>
<path d="M1237.1 2591.3l5.5 -4.1l-8 -5.9l-5.6 4.3zM1309.1 2589.3l5 -3.6l-8.9 -7.2l-5.1 3.8zM1250.9 2593.2l5.5 -3.9l-8.3 -6.1l-5.5 4zM1304 2592.9l5.1 -3.6l-9 -7l-5.1 3.8zM1265 2595.5l5.4 -4l-8.5 -6.2l-5.5 4zM1245.3 2597.2l5.6 -4l-8.3 -6l-5.5 4.1zM1298.8 2596.6l5.2 -3.7l-9 -6.8l-5.2 3.9zM1279.2 2597.8l5.3 -3.9l-8.8 -6.4l-5.3 4zM1259.4 2599.4l5.6 -3.9l-8.6 -6.2l-5.5 3.9zM1293.5 2600.4l5.3 -3.8l-9 -6.6l-5.3 3.9zM1273.7 2601.7l5.5 -3.9l-8.8 -6.3l-5.4 4z" fill="#fcf6f6" stroke="#fcf6f6" stroke-width="0.7"/>
<path d="M1267.2 2581L1272.5 2576.7M1261.9 2585.3L1253.5 2578.9M1237.1 2591.3L1229 2585.6M1309.1 2589.3L1314.1 2585.7M1295 2586.1L1286.2 2579.5M1261.9 2585.3L1267.2 2581M1304 2592.9L1309.1 2589.3M1256.4 2589.3L1261.9 2585.3M1270.4 2591.5L1261.9 2585.3M1245.3 2597.2L1237.1 2591.3M1298.8 2596.6L1304 2592.9M1304 2592.9L1295 2586.1M1250.9 2593.2L1256.4 2589.3M1293.5 2600.4L1298.8 2596.6M1279.2 2597.8L1270.4 2591.5" stroke="#333" stroke-width="0.9" fill="none" stroke-linecap="round"/>
<path d="M1253.8 2603.3l5.6 -3.9l-8.5 -6.2l-5.6 4zM1288.2 2604.2l5.3 -3.8l-9 -6.5l-5.3 3.9zM1268.2 2605.6l5.5 -3.9l-8.7 -6.2l-5.6 3.9zM1282.7 2608.1l5.5 -3.9l-9 -6.4l-5.5 3.9zM1262.6 2609.6l5.6 -4l-8.8 -6.2l-5.6 3.9zM1277.2 2612l5.5 -3.9l-9 -6.4l-5.5 3.9zM1271.6 2616l5.6 -4l-9 -6.4l-5.6 4z" fill="#fcfcfc" stroke="#fcfcfc" stroke-width="0.7"/>
<path d="M1245.3 2597.2L1250.9 2593.2M1253.8 2603.3L1245.3 2597.2M1288.2 2604.2L1293.5 2600.4M1282.7 2608.1L1288.2 2604.2M1288.2 2604.2L1279.2 2597.8M1262.6 2609.6L1253.8 2603.3M1277.2 2612L1282.7 2608.1M1271.6 2616L1277.2 2612M1271.6 2616L1262.6 2609.6" stroke="#333" stroke-width="0.9" fill="none" stroke-linecap="round"/>
<path d="M1147.8,2457.3L1167.4,2590.9M1167.4,2590.9L1271.3,2675M1271.3,2675L1376.3,2591.3M1376.3,2591.3L1397.8,2455.2" stroke="#505050" stroke-width="1" fill="none"/>
<path d="M1148.2,2460.2l-6.5,2.6M1151.2,2480.5l-6.5,2.6M1154,2499.8l-6.5,2.6M1156.7,2518.2l-6.5,2.6M1159.3,2535.8l-6.5,2.6M1161.7,2552.5l-6.5,2.6M1164.1,2568.5l-6.5,2.6M1166.3,2583.8l-6.5,2.6M1271.3,2675l-5.5,4.4M1247.3,2655.6l-5.5,4.4M1225.1,2637.6l-5.5,4.4M1204.5,2620.9l-5.5,4.4M1185.3,2605.4l-5.5,4.4M1167.4,2590.9l-5.5,4.4M1271.3,2675l5.4,4.4M1286.4,2662.9l5.4,4.4M1300.9,2651.4l5.4,4.4M1314.8,2640.3l5.4,4.4M1328.1,2629.7l5.4,4.4M1340.9,2619.5l5.4,4.4M1353.2,2609.7l5.4,4.4M1364.9,2600.3l5.4,4.4M1376.3,2591.3l5.4,4.4" stroke="#505050" stroke-width="0.9" fill="none"/>
<text x="1138.9" y="2468" font-size="11.6" text-anchor="end" fill="#333333">40</text>
<text x="1144.7" y="2507.6" font-size="11.6" text-anchor="end" fill="#333333">20</text>
<text x="1150" y="2543.5" font-size="11.6" text-anchor="end" fill="#333333">0</text>
<text x="1154.8" y="2576.3" font-size="11.6" text-anchor="end" fill="#333333">-20</text>
<text x="1263.4" y="2686.2" font-size="11.6" text-anchor="end" fill="#333333">0</text>
<text x="1239.5" y="2666.8" font-size="11.6" text-anchor="end" fill="#333333">0.5</text>
<text x="1217.3" y="2648.9" font-size="11.6" text-anchor="end" fill="#333333">1</text>
<text x="1196.7" y="2632.2" font-size="11.6" text-anchor="end" fill="#333333">2</text>
<text x="1177.5" y="2616.6" font-size="11.6" text-anchor="end" fill="#333333">4</text>
<text x="1159.6" y="2602.1" font-size="11.6" text-anchor="end" fill="#333333">8</text>
<text x="1279" y="2686.3" font-size="11.6" fill="#333333">0</text>
<text x="1294.2" y="2674.2" font-size="11.6" fill="#333333">0.25</text>
<text x="1308.7" y="2662.7" font-size="11.6" fill="#333333">0.5</text>
<text x="1322.6" y="2651.6" font-size="11.6" fill="#333333">1</text>
<text x="1335.9" y="2641" font-size="11.6" fill="#333333">2</text>
<text x="1348.7" y="2630.8" font-size="11.6" fill="#333333">4</text>
<text x="1360.9" y="2621" font-size="11.6" fill="#333333">8</text>
<text x="1372.7" y="2611.6" font-size="11.6" fill="#333333">16</text>
<text x="1384.1" y="2602.6" font-size="11.6" fill="#333333">32</text>
<text x="1029.3" y="2537.4" fill="#4d4d4d">δ - score</text>
<text x="1051.4" y="2657" fill="#4d4d4d">TGFβRi(μM)</text>
<text x="1379.3" y="2663.4" fill="#4d4d4d">Docetaxel(μM)</text>
<text x="1453.2" y="2498" fill="#4d4d4d">δ - score</text>
<rect x="1453.2" y="2508" width="20.8" height="59" fill="url(#cbg)"/>
<rect x="1469" y="2507.2" width="5" height="3.6" fill="#fff"/>
<text x="1476" y="2514" font-size="13.5" fill="#4d4d4d">40</text>
<rect x="1469" y="2521.4" width="5" height="3.6" fill="#fff"/>
<text x="1476" y="2528.2" font-size="13.5" fill="#4d4d4d">20</text>
<rect x="1469" y="2535.7" width="5" height="3.6" fill="#fff"/>
<text x="1476" y="2542.5" font-size="13.5" fill="#4d4d4d">0</text>
<rect x="1469" y="2550" width="5" height="3.6" fill="#fff"/>
<text x="1476" y="2556.8" font-size="13.5" fill="#4d4d4d">−20</text>
<rect x="1469" y="2564.2" width="5" height="3.6" fill="#fff"/>
<text x="1476" y="2571" font-size="13.5" fill="#4d4d4d">−40</text></svg></body></html>
